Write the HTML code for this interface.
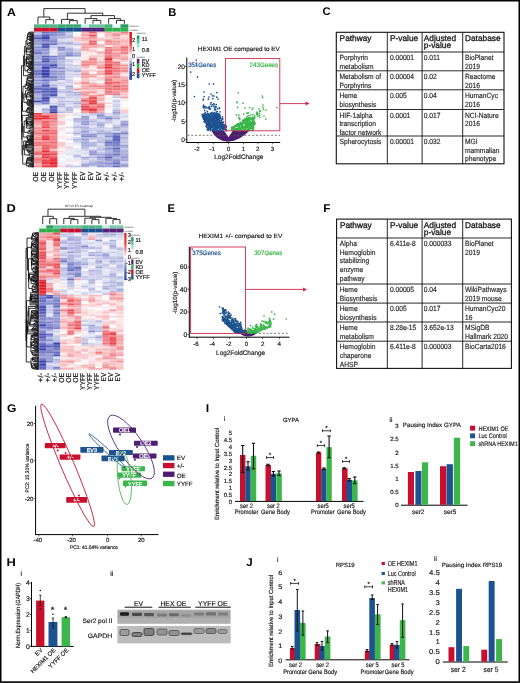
<!DOCTYPE html>
<html><head><meta charset="utf-8"><style>
html,body{margin:0;padding:0;background:#fff;}
svg{display:block;font-family:"Liberation Sans", sans-serif;will-change:transform;text-rendering:geometricPrecision;}
</style></head><body>
<svg width="520" height="683" viewBox="0 0 520 683">
<rect x="0" y="0" width="520" height="683" fill="#fff"/>
<rect x="0.7" y="0.7" width="518.6" height="681.4" fill="none" stroke="#000" stroke-width="1.6"/>
<text transform="translate(6.90 15.50) scale(1.1 1)" font-size="11.2" fill="#000" font-weight="bold">A</text>
<rect x="34.00" y="31.80" width="7.92" height="1.57" fill="#acb0dd"/>
<rect x="41.86" y="31.80" width="7.92" height="1.57" fill="#6870c1"/>
<rect x="49.72" y="31.80" width="7.92" height="1.57" fill="#7c82c9"/>
<rect x="57.58" y="31.80" width="7.92" height="1.57" fill="#8a90cf"/>
<rect x="65.43" y="31.80" width="7.92" height="1.57" fill="#b9bce2"/>
<rect x="73.29" y="31.80" width="7.92" height="1.57" fill="#fefeff"/>
<rect x="81.15" y="31.80" width="7.92" height="1.57" fill="#f7b8bb"/>
<rect x="89.01" y="31.80" width="7.92" height="1.57" fill="#ec5f66"/>
<rect x="96.87" y="31.80" width="7.92" height="1.57" fill="#fbd9db"/>
<rect x="104.72" y="31.80" width="7.92" height="1.57" fill="#f5acb0"/>
<rect x="112.58" y="31.80" width="7.92" height="1.57" fill="#f8c4c7"/>
<rect x="120.44" y="31.80" width="7.92" height="1.57" fill="#f08086"/>
<rect x="34.00" y="33.31" width="7.92" height="1.57" fill="#babee3"/>
<rect x="41.86" y="33.31" width="7.92" height="1.57" fill="#777dc7"/>
<rect x="49.72" y="33.31" width="7.92" height="1.57" fill="#7d84ca"/>
<rect x="57.58" y="33.31" width="7.92" height="1.57" fill="#878dce"/>
<rect x="65.43" y="33.31" width="7.92" height="1.57" fill="#c5c8e7"/>
<rect x="73.29" y="33.31" width="7.92" height="1.57" fill="#f5f5fb"/>
<rect x="81.15" y="33.31" width="7.92" height="1.57" fill="#f5a9ac"/>
<rect x="89.01" y="33.31" width="7.92" height="1.57" fill="#f3999e"/>
<rect x="96.87" y="33.31" width="7.92" height="1.57" fill="#fdeded"/>
<rect x="104.72" y="33.31" width="7.92" height="1.57" fill="#f6b7ba"/>
<rect x="112.58" y="33.31" width="7.92" height="1.57" fill="#f1868b"/>
<rect x="120.44" y="33.31" width="7.92" height="1.57" fill="#f3969a"/>
<rect x="34.00" y="34.81" width="7.92" height="1.57" fill="#848acd"/>
<rect x="41.86" y="34.81" width="7.92" height="1.57" fill="#555db9"/>
<rect x="49.72" y="34.81" width="7.92" height="1.57" fill="#898fcf"/>
<rect x="57.58" y="34.81" width="7.92" height="1.57" fill="#a1a5d8"/>
<rect x="65.43" y="34.81" width="7.92" height="1.57" fill="#bcbfe4"/>
<rect x="73.29" y="34.81" width="7.92" height="1.57" fill="#fffefe"/>
<rect x="81.15" y="34.81" width="7.92" height="1.57" fill="#f39da1"/>
<rect x="89.01" y="34.81" width="7.92" height="1.57" fill="#eb565e"/>
<rect x="96.87" y="34.81" width="7.92" height="1.57" fill="#fefefe"/>
<rect x="104.72" y="34.81" width="7.92" height="1.57" fill="#f7bcbf"/>
<rect x="112.58" y="34.81" width="7.92" height="1.57" fill="#f29095"/>
<rect x="120.44" y="34.81" width="7.92" height="1.57" fill="#fbe1e2"/>
<rect x="34.00" y="36.32" width="7.92" height="1.57" fill="#6b72c3"/>
<rect x="41.86" y="36.32" width="7.92" height="1.57" fill="#343eac"/>
<rect x="49.72" y="36.32" width="7.92" height="1.57" fill="#9ca1d7"/>
<rect x="57.58" y="36.32" width="7.92" height="1.57" fill="#a5a9da"/>
<rect x="65.43" y="36.32" width="7.92" height="1.57" fill="#a7abdb"/>
<rect x="73.29" y="36.32" width="7.92" height="1.57" fill="#fad3d5"/>
<rect x="81.15" y="36.32" width="7.92" height="1.57" fill="#f7bcbf"/>
<rect x="89.01" y="36.32" width="7.92" height="1.57" fill="#f07f84"/>
<rect x="96.87" y="36.32" width="7.92" height="1.57" fill="#fdf2f2"/>
<rect x="104.72" y="36.32" width="7.92" height="1.57" fill="#f8c2c5"/>
<rect x="112.58" y="36.32" width="7.92" height="1.57" fill="#f6b7ba"/>
<rect x="120.44" y="36.32" width="7.92" height="1.57" fill="#f9d0d2"/>
<rect x="34.00" y="37.82" width="7.92" height="1.57" fill="#5059b7"/>
<rect x="41.86" y="37.82" width="7.92" height="1.57" fill="#3741ad"/>
<rect x="49.72" y="37.82" width="7.92" height="1.57" fill="#a1a5d8"/>
<rect x="57.58" y="37.82" width="7.92" height="1.57" fill="#babee3"/>
<rect x="65.43" y="37.82" width="7.92" height="1.57" fill="#d5d7ee"/>
<rect x="73.29" y="37.82" width="7.92" height="1.57" fill="#f7b9bc"/>
<rect x="81.15" y="37.82" width="7.92" height="1.57" fill="#f4a1a5"/>
<rect x="89.01" y="37.82" width="7.92" height="1.57" fill="#f5acb0"/>
<rect x="96.87" y="37.82" width="7.92" height="1.57" fill="#f8c4c7"/>
<rect x="104.72" y="37.82" width="7.92" height="1.57" fill="#fbe1e2"/>
<rect x="112.58" y="37.82" width="7.92" height="1.57" fill="#f6b1b5"/>
<rect x="120.44" y="37.82" width="7.92" height="1.57" fill="#fad8da"/>
<rect x="34.00" y="39.33" width="7.92" height="1.57" fill="#848acd"/>
<rect x="41.86" y="39.33" width="7.92" height="1.57" fill="#646cc0"/>
<rect x="49.72" y="39.33" width="7.92" height="1.57" fill="#858bcd"/>
<rect x="57.58" y="39.33" width="7.92" height="1.57" fill="#dcdef1"/>
<rect x="65.43" y="39.33" width="7.92" height="1.57" fill="#d6d8ee"/>
<rect x="73.29" y="39.33" width="7.92" height="1.57" fill="#f9c9cc"/>
<rect x="81.15" y="39.33" width="7.92" height="1.57" fill="#f4a3a7"/>
<rect x="89.01" y="39.33" width="7.92" height="1.57" fill="#f4a0a5"/>
<rect x="96.87" y="39.33" width="7.92" height="1.57" fill="#f6b7ba"/>
<rect x="104.72" y="39.33" width="7.92" height="1.57" fill="#f3999d"/>
<rect x="112.58" y="39.33" width="7.92" height="1.57" fill="#f7b7ba"/>
<rect x="120.44" y="39.33" width="7.92" height="1.57" fill="#f6b3b6"/>
<rect x="34.00" y="40.83" width="7.92" height="1.57" fill="#999ed5"/>
<rect x="41.86" y="40.83" width="7.92" height="1.57" fill="#858bcd"/>
<rect x="49.72" y="40.83" width="7.92" height="1.57" fill="#8289cc"/>
<rect x="57.58" y="40.83" width="7.92" height="1.57" fill="#d2d4ed"/>
<rect x="65.43" y="40.83" width="7.92" height="1.57" fill="#d9dbef"/>
<rect x="73.29" y="40.83" width="7.92" height="1.57" fill="#fad7d8"/>
<rect x="81.15" y="40.83" width="7.92" height="1.57" fill="#fbdfe0"/>
<rect x="89.01" y="40.83" width="7.92" height="1.57" fill="#ed646b"/>
<rect x="96.87" y="40.83" width="7.92" height="1.57" fill="#fce9ea"/>
<rect x="104.72" y="40.83" width="7.92" height="1.57" fill="#f1858a"/>
<rect x="112.58" y="40.83" width="7.92" height="1.57" fill="#f3969b"/>
<rect x="120.44" y="40.83" width="7.92" height="1.57" fill="#f6b0b3"/>
<rect x="34.00" y="42.34" width="7.92" height="1.57" fill="#8f94d1"/>
<rect x="41.86" y="42.34" width="7.92" height="1.57" fill="#7e84ca"/>
<rect x="49.72" y="42.34" width="7.92" height="1.57" fill="#8187cc"/>
<rect x="57.58" y="42.34" width="7.92" height="1.57" fill="#a1a5d8"/>
<rect x="65.43" y="42.34" width="7.92" height="1.57" fill="#9fa4d8"/>
<rect x="73.29" y="42.34" width="7.92" height="1.57" fill="#d1d4ec"/>
<rect x="81.15" y="42.34" width="7.92" height="1.57" fill="#f7b9bc"/>
<rect x="89.01" y="42.34" width="7.92" height="1.57" fill="#ed6b71"/>
<rect x="96.87" y="42.34" width="7.92" height="1.57" fill="#fffdfd"/>
<rect x="104.72" y="42.34" width="7.92" height="1.57" fill="#f39da1"/>
<rect x="112.58" y="42.34" width="7.92" height="1.57" fill="#f3999d"/>
<rect x="120.44" y="42.34" width="7.92" height="1.57" fill="#f7babd"/>
<rect x="34.00" y="43.84" width="7.92" height="1.57" fill="#9ea3d8"/>
<rect x="41.86" y="43.84" width="7.92" height="1.57" fill="#4a53b5"/>
<rect x="49.72" y="43.84" width="7.92" height="1.57" fill="#747bc6"/>
<rect x="57.58" y="43.84" width="7.92" height="1.57" fill="#ccceea"/>
<rect x="65.43" y="43.84" width="7.92" height="1.57" fill="#bdc1e4"/>
<rect x="73.29" y="43.84" width="7.92" height="1.57" fill="#b9bce2"/>
<rect x="81.15" y="43.84" width="7.92" height="1.57" fill="#f4a0a4"/>
<rect x="89.01" y="43.84" width="7.92" height="1.57" fill="#ee6f75"/>
<rect x="96.87" y="43.84" width="7.92" height="1.57" fill="#f8c1c3"/>
<rect x="104.72" y="43.84" width="7.92" height="1.57" fill="#f4a0a4"/>
<rect x="112.58" y="43.84" width="7.92" height="1.57" fill="#f5abae"/>
<rect x="120.44" y="43.84" width="7.92" height="1.57" fill="#f7bdc0"/>
<rect x="34.00" y="45.35" width="7.92" height="1.57" fill="#a5aada"/>
<rect x="41.86" y="45.35" width="7.92" height="1.57" fill="#464fb3"/>
<rect x="49.72" y="45.35" width="7.92" height="1.57" fill="#cacce9"/>
<rect x="57.58" y="45.35" width="7.92" height="1.57" fill="#c5c8e7"/>
<rect x="65.43" y="45.35" width="7.92" height="1.57" fill="#d8daef"/>
<rect x="73.29" y="45.35" width="7.92" height="1.57" fill="#e0e1f2"/>
<rect x="81.15" y="45.35" width="7.92" height="1.57" fill="#f5a7aa"/>
<rect x="89.01" y="45.35" width="7.92" height="1.57" fill="#f5aaae"/>
<rect x="96.87" y="45.35" width="7.92" height="1.57" fill="#f5a6aa"/>
<rect x="104.72" y="45.35" width="7.92" height="1.57" fill="#fdf1f1"/>
<rect x="112.58" y="45.35" width="7.92" height="1.57" fill="#f6b1b5"/>
<rect x="120.44" y="45.35" width="7.92" height="1.57" fill="#f2959a"/>
<rect x="34.00" y="46.86" width="7.92" height="1.57" fill="#888ece"/>
<rect x="41.86" y="46.86" width="7.92" height="1.57" fill="#5961bb"/>
<rect x="49.72" y="46.86" width="7.92" height="1.57" fill="#c2c5e6"/>
<rect x="57.58" y="46.86" width="7.92" height="1.57" fill="#8288cc"/>
<rect x="65.43" y="46.86" width="7.92" height="1.57" fill="#d3d6ed"/>
<rect x="73.29" y="46.86" width="7.92" height="1.57" fill="#f3f4fa"/>
<rect x="81.15" y="46.86" width="7.92" height="1.57" fill="#f4a2a6"/>
<rect x="89.01" y="46.86" width="7.92" height="1.57" fill="#f6b1b4"/>
<rect x="96.87" y="46.86" width="7.92" height="1.57" fill="#fad1d3"/>
<rect x="104.72" y="46.86" width="7.92" height="1.57" fill="#f07f84"/>
<rect x="112.58" y="46.86" width="7.92" height="1.57" fill="#f5a6aa"/>
<rect x="120.44" y="46.86" width="7.92" height="1.57" fill="#ed666c"/>
<rect x="34.00" y="48.36" width="7.92" height="1.57" fill="#969bd4"/>
<rect x="41.86" y="48.36" width="7.92" height="1.57" fill="#898ecf"/>
<rect x="49.72" y="48.36" width="7.92" height="1.57" fill="#dadcf0"/>
<rect x="57.58" y="48.36" width="7.92" height="1.57" fill="#878dce"/>
<rect x="65.43" y="48.36" width="7.92" height="1.57" fill="#9fa3d8"/>
<rect x="73.29" y="48.36" width="7.92" height="1.57" fill="#cacde9"/>
<rect x="81.15" y="48.36" width="7.92" height="1.57" fill="#f4a2a7"/>
<rect x="89.01" y="48.36" width="7.92" height="1.57" fill="#fce3e5"/>
<rect x="96.87" y="48.36" width="7.92" height="1.57" fill="#fdf0f0"/>
<rect x="104.72" y="48.36" width="7.92" height="1.57" fill="#f07e84"/>
<rect x="112.58" y="48.36" width="7.92" height="1.57" fill="#f29499"/>
<rect x="120.44" y="48.36" width="7.92" height="1.57" fill="#ee6d73"/>
<rect x="34.00" y="49.87" width="7.92" height="1.57" fill="#8a90cf"/>
<rect x="41.86" y="49.87" width="7.92" height="1.57" fill="#969bd4"/>
<rect x="49.72" y="49.87" width="7.92" height="1.57" fill="#eaebf7"/>
<rect x="57.58" y="49.87" width="7.92" height="1.57" fill="#a0a5d8"/>
<rect x="65.43" y="49.87" width="7.92" height="1.57" fill="#b1b5df"/>
<rect x="73.29" y="49.87" width="7.92" height="1.57" fill="#cacde9"/>
<rect x="81.15" y="49.87" width="7.92" height="1.57" fill="#f6b2b5"/>
<rect x="89.01" y="49.87" width="7.92" height="1.57" fill="#f8c0c3"/>
<rect x="96.87" y="49.87" width="7.92" height="1.57" fill="#fffbfc"/>
<rect x="104.72" y="49.87" width="7.92" height="1.57" fill="#ee7278"/>
<rect x="112.58" y="49.87" width="7.92" height="1.57" fill="#f29297"/>
<rect x="120.44" y="49.87" width="7.92" height="1.57" fill="#f18b90"/>
<rect x="34.00" y="51.37" width="7.92" height="1.57" fill="#747bc6"/>
<rect x="41.86" y="51.37" width="7.92" height="1.57" fill="#979dd5"/>
<rect x="49.72" y="51.37" width="7.92" height="1.57" fill="#dcdef1"/>
<rect x="57.58" y="51.37" width="7.92" height="1.57" fill="#bdc1e4"/>
<rect x="65.43" y="51.37" width="7.92" height="1.57" fill="#a0a5d8"/>
<rect x="73.29" y="51.37" width="7.92" height="1.57" fill="#bcbfe4"/>
<rect x="81.15" y="51.37" width="7.92" height="1.57" fill="#fce9ea"/>
<rect x="89.01" y="51.37" width="7.92" height="1.57" fill="#f9cdcf"/>
<rect x="96.87" y="51.37" width="7.92" height="1.57" fill="#f4a2a6"/>
<rect x="104.72" y="51.37" width="7.92" height="1.57" fill="#ef757b"/>
<rect x="112.58" y="51.37" width="7.92" height="1.57" fill="#f7b9bc"/>
<rect x="120.44" y="51.37" width="7.92" height="1.57" fill="#f08186"/>
<rect x="34.00" y="52.88" width="7.92" height="1.57" fill="#6c73c3"/>
<rect x="41.86" y="52.88" width="7.92" height="1.57" fill="#959ad4"/>
<rect x="49.72" y="52.88" width="7.92" height="1.57" fill="#eaebf6"/>
<rect x="57.58" y="52.88" width="7.92" height="1.57" fill="#aaafdc"/>
<rect x="65.43" y="52.88" width="7.92" height="1.57" fill="#9196d2"/>
<rect x="73.29" y="52.88" width="7.92" height="1.57" fill="#a9addc"/>
<rect x="81.15" y="52.88" width="7.92" height="1.57" fill="#fbdcdd"/>
<rect x="89.01" y="52.88" width="7.92" height="1.57" fill="#fffcfc"/>
<rect x="96.87" y="52.88" width="7.92" height="1.57" fill="#f8c2c4"/>
<rect x="104.72" y="52.88" width="7.92" height="1.57" fill="#ef797f"/>
<rect x="112.58" y="52.88" width="7.92" height="1.57" fill="#f29398"/>
<rect x="120.44" y="52.88" width="7.92" height="1.57" fill="#f08489"/>
<rect x="34.00" y="54.38" width="7.92" height="1.57" fill="#a4a8da"/>
<rect x="41.86" y="54.38" width="7.92" height="1.57" fill="#a2a7d9"/>
<rect x="49.72" y="54.38" width="7.92" height="1.57" fill="#dbdcf0"/>
<rect x="57.58" y="54.38" width="7.92" height="1.57" fill="#9ea3d7"/>
<rect x="65.43" y="54.38" width="7.92" height="1.57" fill="#737ac6"/>
<rect x="73.29" y="54.38" width="7.92" height="1.57" fill="#979cd4"/>
<rect x="81.15" y="54.38" width="7.92" height="1.57" fill="#fdeff0"/>
<rect x="89.01" y="54.38" width="7.92" height="1.57" fill="#fad3d5"/>
<rect x="96.87" y="54.38" width="7.92" height="1.57" fill="#fad3d5"/>
<rect x="104.72" y="54.38" width="7.92" height="1.57" fill="#f1848a"/>
<rect x="112.58" y="54.38" width="7.92" height="1.57" fill="#f29297"/>
<rect x="120.44" y="54.38" width="7.92" height="1.57" fill="#f8c5c8"/>
<rect x="34.00" y="55.89" width="7.92" height="1.57" fill="#a4a8da"/>
<rect x="41.86" y="55.89" width="7.92" height="1.57" fill="#5b63bc"/>
<rect x="49.72" y="55.89" width="7.92" height="1.57" fill="#747ac6"/>
<rect x="57.58" y="55.89" width="7.92" height="1.57" fill="#979dd5"/>
<rect x="65.43" y="55.89" width="7.92" height="1.57" fill="#b3b7e0"/>
<rect x="73.29" y="55.89" width="7.92" height="1.57" fill="#bfc3e5"/>
<rect x="81.15" y="55.89" width="7.92" height="1.57" fill="#fce7e8"/>
<rect x="89.01" y="55.89" width="7.92" height="1.57" fill="#f8c8ca"/>
<rect x="96.87" y="55.89" width="7.92" height="1.57" fill="#f9cccf"/>
<rect x="104.72" y="55.89" width="7.92" height="1.57" fill="#ef7a80"/>
<rect x="112.58" y="55.89" width="7.92" height="1.57" fill="#f49ea3"/>
<rect x="120.44" y="55.89" width="7.92" height="1.57" fill="#f7b7ba"/>
<rect x="34.00" y="57.39" width="7.92" height="1.57" fill="#9ca1d7"/>
<rect x="41.86" y="57.39" width="7.92" height="1.57" fill="#6d74c3"/>
<rect x="49.72" y="57.39" width="7.92" height="1.57" fill="#9096d2"/>
<rect x="57.58" y="57.39" width="7.92" height="1.57" fill="#9ca1d7"/>
<rect x="65.43" y="57.39" width="7.92" height="1.57" fill="#f5f5fb"/>
<rect x="73.29" y="57.39" width="7.92" height="1.57" fill="#f0f1f9"/>
<rect x="81.15" y="57.39" width="7.92" height="1.57" fill="#fce4e5"/>
<rect x="89.01" y="57.39" width="7.92" height="1.57" fill="#f3999e"/>
<rect x="96.87" y="57.39" width="7.92" height="1.57" fill="#fbdfe1"/>
<rect x="104.72" y="57.39" width="7.92" height="1.57" fill="#e9424a"/>
<rect x="112.58" y="57.39" width="7.92" height="1.57" fill="#f39da2"/>
<rect x="120.44" y="57.39" width="7.92" height="1.57" fill="#f39ca0"/>
<rect x="34.00" y="58.90" width="7.92" height="1.57" fill="#b0b4df"/>
<rect x="41.86" y="58.90" width="7.92" height="1.57" fill="#6068be"/>
<rect x="49.72" y="58.90" width="7.92" height="1.57" fill="#8a90cf"/>
<rect x="57.58" y="58.90" width="7.92" height="1.57" fill="#a3a8d9"/>
<rect x="65.43" y="58.90" width="7.92" height="1.57" fill="#cbceea"/>
<rect x="73.29" y="58.90" width="7.92" height="1.57" fill="#dee0f2"/>
<rect x="81.15" y="58.90" width="7.92" height="1.57" fill="#fdeeee"/>
<rect x="89.01" y="58.90" width="7.92" height="1.57" fill="#ef797e"/>
<rect x="96.87" y="58.90" width="7.92" height="1.57" fill="#fbdbdc"/>
<rect x="104.72" y="58.90" width="7.92" height="1.57" fill="#e62a34"/>
<rect x="112.58" y="58.90" width="7.92" height="1.57" fill="#fbdbdd"/>
<rect x="120.44" y="58.90" width="7.92" height="1.57" fill="#f4a5a9"/>
<rect x="34.00" y="60.41" width="7.92" height="1.57" fill="#a9aedc"/>
<rect x="41.86" y="60.41" width="7.92" height="1.57" fill="#464fb3"/>
<rect x="49.72" y="60.41" width="7.92" height="1.57" fill="#8f94d1"/>
<rect x="57.58" y="60.41" width="7.92" height="1.57" fill="#b4b8e0"/>
<rect x="65.43" y="60.41" width="7.92" height="1.57" fill="#c3c6e6"/>
<rect x="73.29" y="60.41" width="7.92" height="1.57" fill="#eeeff8"/>
<rect x="81.15" y="60.41" width="7.92" height="1.57" fill="#f39b9f"/>
<rect x="89.01" y="60.41" width="7.92" height="1.57" fill="#f49fa3"/>
<rect x="96.87" y="60.41" width="7.92" height="1.57" fill="#f9cbcd"/>
<rect x="104.72" y="60.41" width="7.92" height="1.57" fill="#ed636a"/>
<rect x="112.58" y="60.41" width="7.92" height="1.57" fill="#f7bdc0"/>
<rect x="120.44" y="60.41" width="7.92" height="1.57" fill="#f9c9cb"/>
<rect x="34.00" y="61.91" width="7.92" height="1.57" fill="#9197d2"/>
<rect x="41.86" y="61.91" width="7.92" height="1.57" fill="#7c83ca"/>
<rect x="49.72" y="61.91" width="7.92" height="1.57" fill="#989dd5"/>
<rect x="57.58" y="61.91" width="7.92" height="1.57" fill="#c1c4e6"/>
<rect x="65.43" y="61.91" width="7.92" height="1.57" fill="#e4e5f4"/>
<rect x="73.29" y="61.91" width="7.92" height="1.57" fill="#fce5e6"/>
<rect x="81.15" y="61.91" width="7.92" height="1.57" fill="#f3989d"/>
<rect x="89.01" y="61.91" width="7.92" height="1.57" fill="#f1898e"/>
<rect x="96.87" y="61.91" width="7.92" height="1.57" fill="#f6b0b4"/>
<rect x="104.72" y="61.91" width="7.92" height="1.57" fill="#ef787e"/>
<rect x="112.58" y="61.91" width="7.92" height="1.57" fill="#ed696f"/>
<rect x="120.44" y="61.91" width="7.92" height="1.57" fill="#fef8f8"/>
<rect x="34.00" y="63.42" width="7.92" height="1.57" fill="#7f85ca"/>
<rect x="41.86" y="63.42" width="7.92" height="1.57" fill="#757bc6"/>
<rect x="49.72" y="63.42" width="7.92" height="1.57" fill="#6d74c3"/>
<rect x="57.58" y="63.42" width="7.92" height="1.57" fill="#b0b4df"/>
<rect x="65.43" y="63.42" width="7.92" height="1.57" fill="#d2d4ed"/>
<rect x="73.29" y="63.42" width="7.92" height="1.57" fill="#f4f5fb"/>
<rect x="81.15" y="63.42" width="7.92" height="1.57" fill="#f1898e"/>
<rect x="89.01" y="63.42" width="7.92" height="1.57" fill="#f28e93"/>
<rect x="96.87" y="63.42" width="7.92" height="1.57" fill="#f7bfc2"/>
<rect x="104.72" y="63.42" width="7.92" height="1.57" fill="#eb5259"/>
<rect x="112.58" y="63.42" width="7.92" height="1.57" fill="#f07e84"/>
<rect x="120.44" y="63.42" width="7.92" height="1.57" fill="#f7babd"/>
<rect x="34.00" y="64.92" width="7.92" height="1.57" fill="#8d93d0"/>
<rect x="41.86" y="64.92" width="7.92" height="1.57" fill="#7279c6"/>
<rect x="49.72" y="64.92" width="7.92" height="1.57" fill="#464fb3"/>
<rect x="57.58" y="64.92" width="7.92" height="1.57" fill="#b8bce2"/>
<rect x="65.43" y="64.92" width="7.92" height="1.57" fill="#c9cce9"/>
<rect x="73.29" y="64.92" width="7.92" height="1.57" fill="#c5c8e7"/>
<rect x="81.15" y="64.92" width="7.92" height="1.57" fill="#f28f94"/>
<rect x="89.01" y="64.92" width="7.92" height="1.57" fill="#f9cacc"/>
<rect x="96.87" y="64.92" width="7.92" height="1.57" fill="#f5a9ac"/>
<rect x="104.72" y="64.92" width="7.92" height="1.57" fill="#eb535a"/>
<rect x="112.58" y="64.92" width="7.92" height="1.57" fill="#f1878d"/>
<rect x="120.44" y="64.92" width="7.92" height="1.57" fill="#f39a9e"/>
<rect x="34.00" y="66.43" width="7.92" height="1.57" fill="#a6abdb"/>
<rect x="41.86" y="66.43" width="7.92" height="1.57" fill="#3b44af"/>
<rect x="49.72" y="66.43" width="7.92" height="1.57" fill="#5f67bd"/>
<rect x="57.58" y="66.43" width="7.92" height="1.57" fill="#a7acdb"/>
<rect x="65.43" y="66.43" width="7.92" height="1.57" fill="#d8daef"/>
<rect x="73.29" y="66.43" width="7.92" height="1.57" fill="#d6d8ee"/>
<rect x="81.15" y="66.43" width="7.92" height="1.57" fill="#f6b4b7"/>
<rect x="89.01" y="66.43" width="7.92" height="1.57" fill="#fce2e3"/>
<rect x="96.87" y="66.43" width="7.92" height="1.57" fill="#f1888d"/>
<rect x="104.72" y="66.43" width="7.92" height="1.57" fill="#e7343d"/>
<rect x="112.58" y="66.43" width="7.92" height="1.57" fill="#f28e93"/>
<rect x="120.44" y="66.43" width="7.92" height="1.57" fill="#f5a9ad"/>
<rect x="34.00" y="67.93" width="7.92" height="1.57" fill="#a1a6d9"/>
<rect x="41.86" y="67.93" width="7.92" height="1.57" fill="#4c55b6"/>
<rect x="49.72" y="67.93" width="7.92" height="1.57" fill="#9ba0d6"/>
<rect x="57.58" y="67.93" width="7.92" height="1.57" fill="#878dce"/>
<rect x="65.43" y="67.93" width="7.92" height="1.57" fill="#c7c9e8"/>
<rect x="73.29" y="67.93" width="7.92" height="1.57" fill="#d0d2ec"/>
<rect x="81.15" y="67.93" width="7.92" height="1.57" fill="#fce5e7"/>
<rect x="89.01" y="67.93" width="7.92" height="1.57" fill="#fef4f5"/>
<rect x="96.87" y="67.93" width="7.92" height="1.57" fill="#f5a8ac"/>
<rect x="104.72" y="67.93" width="7.92" height="1.57" fill="#ee6b72"/>
<rect x="112.58" y="67.93" width="7.92" height="1.57" fill="#ef7379"/>
<rect x="120.44" y="67.93" width="7.92" height="1.57" fill="#f29499"/>
<rect x="34.00" y="69.44" width="7.92" height="1.57" fill="#7c82c9"/>
<rect x="41.86" y="69.44" width="7.92" height="1.57" fill="#4851b4"/>
<rect x="49.72" y="69.44" width="7.92" height="1.57" fill="#a5aada"/>
<rect x="57.58" y="69.44" width="7.92" height="1.57" fill="#b7bae2"/>
<rect x="65.43" y="69.44" width="7.92" height="1.57" fill="#b5b8e1"/>
<rect x="73.29" y="69.44" width="7.92" height="1.57" fill="#b8bbe2"/>
<rect x="81.15" y="69.44" width="7.92" height="1.57" fill="#f8c8ca"/>
<rect x="89.01" y="69.44" width="7.92" height="1.57" fill="#fad1d3"/>
<rect x="96.87" y="69.44" width="7.92" height="1.57" fill="#fbd9db"/>
<rect x="104.72" y="69.44" width="7.92" height="1.57" fill="#ec6067"/>
<rect x="112.58" y="69.44" width="7.92" height="1.57" fill="#ef767c"/>
<rect x="120.44" y="69.44" width="7.92" height="1.57" fill="#f29095"/>
<rect x="34.00" y="70.94" width="7.92" height="1.57" fill="#6d74c3"/>
<rect x="41.86" y="70.94" width="7.92" height="1.57" fill="#3c46af"/>
<rect x="49.72" y="70.94" width="7.92" height="1.57" fill="#8b91d0"/>
<rect x="57.58" y="70.94" width="7.92" height="1.57" fill="#8d93d0"/>
<rect x="65.43" y="70.94" width="7.92" height="1.57" fill="#cacce9"/>
<rect x="73.29" y="70.94" width="7.92" height="1.57" fill="#abafdd"/>
<rect x="81.15" y="70.94" width="7.92" height="1.57" fill="#f6b6b9"/>
<rect x="89.01" y="70.94" width="7.92" height="1.57" fill="#fbddde"/>
<rect x="96.87" y="70.94" width="7.92" height="1.57" fill="#f5a9ac"/>
<rect x="104.72" y="70.94" width="7.92" height="1.57" fill="#eb525a"/>
<rect x="112.58" y="70.94" width="7.92" height="1.57" fill="#f07c81"/>
<rect x="120.44" y="70.94" width="7.92" height="1.57" fill="#f18c91"/>
<rect x="34.00" y="72.45" width="7.92" height="1.57" fill="#656cc0"/>
<rect x="41.86" y="72.45" width="7.92" height="1.57" fill="#343eac"/>
<rect x="49.72" y="72.45" width="7.92" height="1.57" fill="#8e93d1"/>
<rect x="57.58" y="72.45" width="7.92" height="1.57" fill="#9da2d7"/>
<rect x="65.43" y="72.45" width="7.92" height="1.57" fill="#d6d8ee"/>
<rect x="73.29" y="72.45" width="7.92" height="1.57" fill="#dfe0f2"/>
<rect x="81.15" y="72.45" width="7.92" height="1.57" fill="#f49ea2"/>
<rect x="89.01" y="72.45" width="7.92" height="1.57" fill="#fffbfb"/>
<rect x="96.87" y="72.45" width="7.92" height="1.57" fill="#f5a7ab"/>
<rect x="104.72" y="72.45" width="7.92" height="1.57" fill="#e83f48"/>
<rect x="112.58" y="72.45" width="7.92" height="1.57" fill="#f29499"/>
<rect x="120.44" y="72.45" width="7.92" height="1.57" fill="#f9ccce"/>
<rect x="34.00" y="73.96" width="7.92" height="1.57" fill="#767cc7"/>
<rect x="41.86" y="73.96" width="7.92" height="1.57" fill="#343eac"/>
<rect x="49.72" y="73.96" width="7.92" height="1.57" fill="#9ba0d6"/>
<rect x="57.58" y="73.96" width="7.92" height="1.57" fill="#a4a8da"/>
<rect x="65.43" y="73.96" width="7.92" height="1.57" fill="#d3d5ed"/>
<rect x="73.29" y="73.96" width="7.92" height="1.57" fill="#c3c6e6"/>
<rect x="81.15" y="73.96" width="7.92" height="1.57" fill="#f29195"/>
<rect x="89.01" y="73.96" width="7.92" height="1.57" fill="#f6b1b4"/>
<rect x="96.87" y="73.96" width="7.92" height="1.57" fill="#f5abaf"/>
<rect x="104.72" y="73.96" width="7.92" height="1.57" fill="#ef797f"/>
<rect x="112.58" y="73.96" width="7.92" height="1.57" fill="#f3969b"/>
<rect x="120.44" y="73.96" width="7.92" height="1.57" fill="#edeef8"/>
<rect x="34.00" y="75.46" width="7.92" height="1.57" fill="#9096d2"/>
<rect x="41.86" y="75.46" width="7.92" height="1.57" fill="#444db2"/>
<rect x="49.72" y="75.46" width="7.92" height="1.57" fill="#888ece"/>
<rect x="57.58" y="75.46" width="7.92" height="1.57" fill="#a5a9da"/>
<rect x="65.43" y="75.46" width="7.92" height="1.57" fill="#d4d6ed"/>
<rect x="73.29" y="75.46" width="7.92" height="1.57" fill="#dcdef1"/>
<rect x="81.15" y="75.46" width="7.92" height="1.57" fill="#f4a4a8"/>
<rect x="89.01" y="75.46" width="7.92" height="1.57" fill="#f4a0a4"/>
<rect x="96.87" y="75.46" width="7.92" height="1.57" fill="#fce9ea"/>
<rect x="104.72" y="75.46" width="7.92" height="1.57" fill="#f5a9ad"/>
<rect x="112.58" y="75.46" width="7.92" height="1.57" fill="#f39b9f"/>
<rect x="120.44" y="75.46" width="7.92" height="1.57" fill="#fad3d5"/>
<rect x="34.00" y="76.97" width="7.92" height="1.57" fill="#9297d2"/>
<rect x="41.86" y="76.97" width="7.92" height="1.57" fill="#6b72c2"/>
<rect x="49.72" y="76.97" width="7.92" height="1.57" fill="#767dc7"/>
<rect x="57.58" y="76.97" width="7.92" height="1.57" fill="#aaaedc"/>
<rect x="65.43" y="76.97" width="7.92" height="1.57" fill="#d7d9ef"/>
<rect x="73.29" y="76.97" width="7.92" height="1.57" fill="#f0f1f9"/>
<rect x="81.15" y="76.97" width="7.92" height="1.57" fill="#f5a6aa"/>
<rect x="89.01" y="76.97" width="7.92" height="1.57" fill="#f9c9cb"/>
<rect x="96.87" y="76.97" width="7.92" height="1.57" fill="#f9ccce"/>
<rect x="104.72" y="76.97" width="7.92" height="1.57" fill="#f28f94"/>
<rect x="112.58" y="76.97" width="7.92" height="1.57" fill="#f08187"/>
<rect x="120.44" y="76.97" width="7.92" height="1.57" fill="#f4a6aa"/>
<rect x="34.00" y="78.47" width="7.92" height="1.57" fill="#aeb2de"/>
<rect x="41.86" y="78.47" width="7.92" height="1.57" fill="#8f94d1"/>
<rect x="49.72" y="78.47" width="7.92" height="1.57" fill="#969bd4"/>
<rect x="57.58" y="78.47" width="7.92" height="1.57" fill="#9da2d7"/>
<rect x="65.43" y="78.47" width="7.92" height="1.57" fill="#d8daef"/>
<rect x="73.29" y="78.47" width="7.92" height="1.57" fill="#fefefe"/>
<rect x="81.15" y="78.47" width="7.92" height="1.57" fill="#f9c8ca"/>
<rect x="89.01" y="78.47" width="7.92" height="1.57" fill="#fce8e9"/>
<rect x="96.87" y="78.47" width="7.92" height="1.57" fill="#f9d0d2"/>
<rect x="104.72" y="78.47" width="7.92" height="1.57" fill="#ef747a"/>
<rect x="112.58" y="78.47" width="7.92" height="1.57" fill="#f6b0b4"/>
<rect x="120.44" y="78.47" width="7.92" height="1.57" fill="#f5a8ac"/>
<rect x="34.00" y="79.98" width="7.92" height="1.57" fill="#878dce"/>
<rect x="41.86" y="79.98" width="7.92" height="1.57" fill="#6a72c2"/>
<rect x="49.72" y="79.98" width="7.92" height="1.57" fill="#979cd4"/>
<rect x="57.58" y="79.98" width="7.92" height="1.57" fill="#e5e6f4"/>
<rect x="65.43" y="79.98" width="7.92" height="1.57" fill="#c6c8e8"/>
<rect x="73.29" y="79.98" width="7.92" height="1.57" fill="#eeeff8"/>
<rect x="81.15" y="79.98" width="7.92" height="1.57" fill="#f9c8ca"/>
<rect x="89.01" y="79.98" width="7.92" height="1.57" fill="#fbdbdd"/>
<rect x="96.87" y="79.98" width="7.92" height="1.57" fill="#e2e3f3"/>
<rect x="104.72" y="79.98" width="7.92" height="1.57" fill="#ef7b81"/>
<rect x="112.58" y="79.98" width="7.92" height="1.57" fill="#f6b1b4"/>
<rect x="120.44" y="79.98" width="7.92" height="1.57" fill="#f28e93"/>
<rect x="34.00" y="81.48" width="7.92" height="1.57" fill="#a7acdb"/>
<rect x="41.86" y="81.48" width="7.92" height="1.57" fill="#959ad4"/>
<rect x="49.72" y="81.48" width="7.92" height="1.57" fill="#d6d8ee"/>
<rect x="57.58" y="81.48" width="7.92" height="1.57" fill="#d3d6ed"/>
<rect x="65.43" y="81.48" width="7.92" height="1.57" fill="#c9cbe9"/>
<rect x="73.29" y="81.48" width="7.92" height="1.57" fill="#fad4d6"/>
<rect x="81.15" y="81.48" width="7.92" height="1.57" fill="#f3969b"/>
<rect x="89.01" y="81.48" width="7.92" height="1.57" fill="#fbd9db"/>
<rect x="96.87" y="81.48" width="7.92" height="1.57" fill="#fef5f5"/>
<rect x="104.72" y="81.48" width="7.92" height="1.57" fill="#ed686e"/>
<rect x="112.58" y="81.48" width="7.92" height="1.57" fill="#ed666d"/>
<rect x="120.44" y="81.48" width="7.92" height="1.57" fill="#f29297"/>
<rect x="34.00" y="82.99" width="7.92" height="1.57" fill="#9fa4d8"/>
<rect x="41.86" y="82.99" width="7.92" height="1.57" fill="#9297d2"/>
<rect x="49.72" y="82.99" width="7.92" height="1.57" fill="#d3d5ed"/>
<rect x="57.58" y="82.99" width="7.92" height="1.57" fill="#c7cae8"/>
<rect x="65.43" y="82.99" width="7.92" height="1.57" fill="#e3e4f3"/>
<rect x="73.29" y="82.99" width="7.92" height="1.57" fill="#f7b8bc"/>
<rect x="81.15" y="82.99" width="7.92" height="1.57" fill="#f28e93"/>
<rect x="89.01" y="82.99" width="7.92" height="1.57" fill="#f6b0b4"/>
<rect x="96.87" y="82.99" width="7.92" height="1.57" fill="#fad6d8"/>
<rect x="104.72" y="82.99" width="7.92" height="1.57" fill="#ec5e65"/>
<rect x="112.58" y="82.99" width="7.92" height="1.57" fill="#f08085"/>
<rect x="120.44" y="82.99" width="7.92" height="1.57" fill="#f4a5a9"/>
<rect x="34.00" y="84.49" width="7.92" height="1.57" fill="#a0a5d8"/>
<rect x="41.86" y="84.49" width="7.92" height="1.57" fill="#545cb9"/>
<rect x="49.72" y="84.49" width="7.92" height="1.57" fill="#acb0dd"/>
<rect x="57.58" y="84.49" width="7.92" height="1.57" fill="#d4d6ed"/>
<rect x="65.43" y="84.49" width="7.92" height="1.57" fill="#cccfea"/>
<rect x="73.29" y="84.49" width="7.92" height="1.57" fill="#fef2f3"/>
<rect x="81.15" y="84.49" width="7.92" height="1.57" fill="#f7bcbf"/>
<rect x="89.01" y="84.49" width="7.92" height="1.57" fill="#f29499"/>
<rect x="96.87" y="84.49" width="7.92" height="1.57" fill="#f5aeb1"/>
<rect x="104.72" y="84.49" width="7.92" height="1.57" fill="#ef7a80"/>
<rect x="112.58" y="84.49" width="7.92" height="1.57" fill="#f08288"/>
<rect x="120.44" y="84.49" width="7.92" height="1.57" fill="#f18c91"/>
<rect x="34.00" y="86.00" width="7.92" height="1.57" fill="#868cce"/>
<rect x="41.86" y="86.00" width="7.92" height="1.57" fill="#5d65bd"/>
<rect x="49.72" y="86.00" width="7.92" height="1.57" fill="#bec1e4"/>
<rect x="57.58" y="86.00" width="7.92" height="1.57" fill="#e3e4f3"/>
<rect x="65.43" y="86.00" width="7.92" height="1.57" fill="#a3a8d9"/>
<rect x="73.29" y="86.00" width="7.92" height="1.57" fill="#fefeff"/>
<rect x="81.15" y="86.00" width="7.92" height="1.57" fill="#f5a8ab"/>
<rect x="89.01" y="86.00" width="7.92" height="1.57" fill="#f29196"/>
<rect x="96.87" y="86.00" width="7.92" height="1.57" fill="#f1878d"/>
<rect x="104.72" y="86.00" width="7.92" height="1.57" fill="#f1858a"/>
<rect x="112.58" y="86.00" width="7.92" height="1.57" fill="#eb575e"/>
<rect x="120.44" y="86.00" width="7.92" height="1.57" fill="#f1878c"/>
<rect x="34.00" y="87.51" width="7.92" height="1.57" fill="#6068be"/>
<rect x="41.86" y="87.51" width="7.92" height="1.57" fill="#6e75c4"/>
<rect x="49.72" y="87.51" width="7.92" height="1.57" fill="#6068be"/>
<rect x="57.58" y="87.51" width="7.92" height="1.57" fill="#f0f1f9"/>
<rect x="65.43" y="87.51" width="7.92" height="1.57" fill="#b7bae1"/>
<rect x="73.29" y="87.51" width="7.92" height="1.57" fill="#f8c7ca"/>
<rect x="81.15" y="87.51" width="7.92" height="1.57" fill="#f39da1"/>
<rect x="89.01" y="87.51" width="7.92" height="1.57" fill="#f6b2b5"/>
<rect x="96.87" y="87.51" width="7.92" height="1.57" fill="#f39a9e"/>
<rect x="104.72" y="87.51" width="7.92" height="1.57" fill="#ef747a"/>
<rect x="112.58" y="87.51" width="7.92" height="1.57" fill="#f08086"/>
<rect x="120.44" y="87.51" width="7.92" height="1.57" fill="#f08086"/>
<rect x="34.00" y="89.01" width="7.92" height="1.57" fill="#7178c5"/>
<rect x="41.86" y="89.01" width="7.92" height="1.57" fill="#5c64bc"/>
<rect x="49.72" y="89.01" width="7.92" height="1.57" fill="#5760ba"/>
<rect x="57.58" y="89.01" width="7.92" height="1.57" fill="#cbcdea"/>
<rect x="65.43" y="89.01" width="7.92" height="1.57" fill="#c2c5e6"/>
<rect x="73.29" y="89.01" width="7.92" height="1.57" fill="#f49ea3"/>
<rect x="81.15" y="89.01" width="7.92" height="1.57" fill="#f8c6c9"/>
<rect x="89.01" y="89.01" width="7.92" height="1.57" fill="#f8c3c6"/>
<rect x="96.87" y="89.01" width="7.92" height="1.57" fill="#fbdadc"/>
<rect x="104.72" y="89.01" width="7.92" height="1.57" fill="#f07f85"/>
<rect x="112.58" y="89.01" width="7.92" height="1.57" fill="#ef767c"/>
<rect x="120.44" y="89.01" width="7.92" height="1.57" fill="#f07f85"/>
<rect x="34.00" y="90.52" width="7.92" height="1.57" fill="#7b81c9"/>
<rect x="41.86" y="90.52" width="7.92" height="1.57" fill="#555eba"/>
<rect x="49.72" y="90.52" width="7.92" height="1.57" fill="#4e57b7"/>
<rect x="57.58" y="90.52" width="7.92" height="1.57" fill="#bdc0e4"/>
<rect x="65.43" y="90.52" width="7.92" height="1.57" fill="#b4b8e0"/>
<rect x="73.29" y="90.52" width="7.92" height="1.57" fill="#e1e2f3"/>
<rect x="81.15" y="90.52" width="7.92" height="1.57" fill="#f7bbbe"/>
<rect x="89.01" y="90.52" width="7.92" height="1.57" fill="#f6b0b4"/>
<rect x="96.87" y="90.52" width="7.92" height="1.57" fill="#fad5d7"/>
<rect x="104.72" y="90.52" width="7.92" height="1.57" fill="#f08388"/>
<rect x="112.58" y="90.52" width="7.92" height="1.57" fill="#f39da1"/>
<rect x="120.44" y="90.52" width="7.92" height="1.57" fill="#f39da1"/>
<rect x="34.00" y="92.02" width="7.92" height="1.57" fill="#7178c5"/>
<rect x="41.86" y="92.02" width="7.92" height="1.57" fill="#7279c5"/>
<rect x="49.72" y="92.02" width="7.92" height="1.57" fill="#686fc1"/>
<rect x="57.58" y="92.02" width="7.92" height="1.57" fill="#c2c5e6"/>
<rect x="65.43" y="92.02" width="7.92" height="1.57" fill="#b2b6df"/>
<rect x="73.29" y="92.02" width="7.92" height="1.57" fill="#a5aada"/>
<rect x="81.15" y="92.02" width="7.92" height="1.57" fill="#f3989c"/>
<rect x="89.01" y="92.02" width="7.92" height="1.57" fill="#f3989c"/>
<rect x="96.87" y="92.02" width="7.92" height="1.57" fill="#fdebec"/>
<rect x="104.72" y="92.02" width="7.92" height="1.57" fill="#ef747a"/>
<rect x="112.58" y="92.02" width="7.92" height="1.57" fill="#f28d92"/>
<rect x="120.44" y="92.02" width="7.92" height="1.57" fill="#f8c5c8"/>
<rect x="34.00" y="93.53" width="7.92" height="1.57" fill="#a6abdb"/>
<rect x="41.86" y="93.53" width="7.92" height="1.57" fill="#646bbf"/>
<rect x="49.72" y="93.53" width="7.92" height="1.57" fill="#5961bb"/>
<rect x="57.58" y="93.53" width="7.92" height="1.57" fill="#e5e6f4"/>
<rect x="65.43" y="93.53" width="7.92" height="1.57" fill="#c8cae8"/>
<rect x="73.29" y="93.53" width="7.92" height="1.57" fill="#b1b5df"/>
<rect x="81.15" y="93.53" width="7.92" height="1.57" fill="#f29094"/>
<rect x="89.01" y="93.53" width="7.92" height="1.57" fill="#fbdbdc"/>
<rect x="96.87" y="93.53" width="7.92" height="1.57" fill="#f7bbbe"/>
<rect x="104.72" y="93.53" width="7.92" height="1.57" fill="#f1868b"/>
<rect x="112.58" y="93.53" width="7.92" height="1.57" fill="#ef7a80"/>
<rect x="120.44" y="93.53" width="7.92" height="1.57" fill="#f8c5c7"/>
<rect x="34.00" y="95.03" width="7.92" height="1.57" fill="#b0b4df"/>
<rect x="41.86" y="95.03" width="7.92" height="1.57" fill="#6d74c3"/>
<rect x="49.72" y="95.03" width="7.92" height="1.57" fill="#4750b4"/>
<rect x="57.58" y="95.03" width="7.92" height="1.57" fill="#e2e3f3"/>
<rect x="65.43" y="95.03" width="7.92" height="1.57" fill="#c4c7e7"/>
<rect x="73.29" y="95.03" width="7.92" height="1.57" fill="#c1c4e6"/>
<rect x="81.15" y="95.03" width="7.92" height="1.57" fill="#f5acaf"/>
<rect x="89.01" y="95.03" width="7.92" height="1.57" fill="#f3979c"/>
<rect x="96.87" y="95.03" width="7.92" height="1.57" fill="#f18a90"/>
<rect x="104.72" y="95.03" width="7.92" height="1.57" fill="#fdebeb"/>
<rect x="112.58" y="95.03" width="7.92" height="1.57" fill="#c7cae8"/>
<rect x="120.44" y="95.03" width="7.92" height="1.57" fill="#fad4d6"/>
<rect x="34.00" y="96.54" width="7.92" height="1.57" fill="#9da2d7"/>
<rect x="41.86" y="96.54" width="7.92" height="1.57" fill="#555eba"/>
<rect x="49.72" y="96.54" width="7.92" height="1.57" fill="#aeb2de"/>
<rect x="57.58" y="96.54" width="7.92" height="1.57" fill="#b9bde3"/>
<rect x="65.43" y="96.54" width="7.92" height="1.57" fill="#c8cbe8"/>
<rect x="73.29" y="96.54" width="7.92" height="1.57" fill="#d0d2ec"/>
<rect x="81.15" y="96.54" width="7.92" height="1.57" fill="#f9ccce"/>
<rect x="89.01" y="96.54" width="7.92" height="1.57" fill="#eb575e"/>
<rect x="96.87" y="96.54" width="7.92" height="1.57" fill="#f9ccce"/>
<rect x="104.72" y="96.54" width="7.92" height="1.57" fill="#fbfbfd"/>
<rect x="112.58" y="96.54" width="7.92" height="1.57" fill="#c7cae8"/>
<rect x="120.44" y="96.54" width="7.92" height="1.57" fill="#f4a2a6"/>
<rect x="34.00" y="98.04" width="7.92" height="1.57" fill="#9da2d7"/>
<rect x="41.86" y="98.04" width="7.92" height="1.57" fill="#3a44af"/>
<rect x="49.72" y="98.04" width="7.92" height="1.57" fill="#d4d6ed"/>
<rect x="57.58" y="98.04" width="7.92" height="1.57" fill="#c2c5e6"/>
<rect x="65.43" y="98.04" width="7.92" height="1.57" fill="#dee0f2"/>
<rect x="73.29" y="98.04" width="7.92" height="1.57" fill="#d1d3ec"/>
<rect x="81.15" y="98.04" width="7.92" height="1.57" fill="#f3959a"/>
<rect x="89.01" y="98.04" width="7.92" height="1.57" fill="#ea4c54"/>
<rect x="96.87" y="98.04" width="7.92" height="1.57" fill="#f5a7ab"/>
<rect x="104.72" y="98.04" width="7.92" height="1.57" fill="#fce2e3"/>
<rect x="112.58" y="98.04" width="7.92" height="1.57" fill="#f5f6fb"/>
<rect x="120.44" y="98.04" width="7.92" height="1.57" fill="#fad8da"/>
<rect x="34.00" y="99.55" width="7.92" height="1.57" fill="#888ecf"/>
<rect x="41.86" y="99.55" width="7.92" height="1.57" fill="#4f57b7"/>
<rect x="49.72" y="99.55" width="7.92" height="1.57" fill="#e6e7f5"/>
<rect x="57.58" y="99.55" width="7.92" height="1.57" fill="#d1d3ec"/>
<rect x="65.43" y="99.55" width="7.92" height="1.57" fill="#dee0f2"/>
<rect x="73.29" y="99.55" width="7.92" height="1.57" fill="#d9dbef"/>
<rect x="81.15" y="99.55" width="7.92" height="1.57" fill="#ec6168"/>
<rect x="89.01" y="99.55" width="7.92" height="1.57" fill="#ec6168"/>
<rect x="96.87" y="99.55" width="7.92" height="1.57" fill="#f5a7ab"/>
<rect x="104.72" y="99.55" width="7.92" height="1.57" fill="#fefeff"/>
<rect x="112.58" y="99.55" width="7.92" height="1.57" fill="#ced1eb"/>
<rect x="120.44" y="99.55" width="7.92" height="1.57" fill="#f1f2f9"/>
<rect x="34.00" y="101.06" width="7.92" height="1.57" fill="#343eac"/>
<rect x="41.86" y="101.06" width="7.92" height="1.57" fill="#6c73c3"/>
<rect x="49.72" y="101.06" width="7.92" height="1.57" fill="#e3e4f4"/>
<rect x="57.58" y="101.06" width="7.92" height="1.57" fill="#bbbee3"/>
<rect x="65.43" y="101.06" width="7.92" height="1.57" fill="#babee3"/>
<rect x="73.29" y="101.06" width="7.92" height="1.57" fill="#bbbee3"/>
<rect x="81.15" y="101.06" width="7.92" height="1.57" fill="#ef757b"/>
<rect x="89.01" y="101.06" width="7.92" height="1.57" fill="#e7353e"/>
<rect x="96.87" y="101.06" width="7.92" height="1.57" fill="#fbdbdd"/>
<rect x="104.72" y="101.06" width="7.92" height="1.57" fill="#f5f6fb"/>
<rect x="112.58" y="101.06" width="7.92" height="1.57" fill="#c8cae8"/>
<rect x="120.44" y="101.06" width="7.92" height="1.57" fill="#fef7f8"/>
<rect x="34.00" y="102.56" width="7.92" height="1.57" fill="#b7bbe2"/>
<rect x="41.86" y="102.56" width="7.92" height="1.57" fill="#797fc8"/>
<rect x="49.72" y="102.56" width="7.92" height="1.57" fill="#ced0eb"/>
<rect x="57.58" y="102.56" width="7.92" height="1.57" fill="#c3c6e6"/>
<rect x="65.43" y="102.56" width="7.92" height="1.57" fill="#d8daef"/>
<rect x="73.29" y="102.56" width="7.92" height="1.57" fill="#acb0dd"/>
<rect x="81.15" y="102.56" width="7.92" height="1.57" fill="#f3979c"/>
<rect x="89.01" y="102.56" width="7.92" height="1.57" fill="#e83e46"/>
<rect x="96.87" y="102.56" width="7.92" height="1.57" fill="#f4a0a4"/>
<rect x="104.72" y="102.56" width="7.92" height="1.57" fill="#fad2d4"/>
<rect x="112.58" y="102.56" width="7.92" height="1.57" fill="#e0e1f2"/>
<rect x="120.44" y="102.56" width="7.92" height="1.57" fill="#fef8f8"/>
<rect x="34.00" y="104.07" width="7.92" height="1.57" fill="#bdc0e4"/>
<rect x="41.86" y="104.07" width="7.92" height="1.57" fill="#babee3"/>
<rect x="49.72" y="104.07" width="7.92" height="1.57" fill="#dbddf0"/>
<rect x="57.58" y="104.07" width="7.92" height="1.57" fill="#adb1de"/>
<rect x="65.43" y="104.07" width="7.92" height="1.57" fill="#dcdef1"/>
<rect x="73.29" y="104.07" width="7.92" height="1.57" fill="#d1d4ec"/>
<rect x="81.15" y="104.07" width="7.92" height="1.57" fill="#ed686f"/>
<rect x="89.01" y="104.07" width="7.92" height="1.57" fill="#ef757b"/>
<rect x="96.87" y="104.07" width="7.92" height="1.57" fill="#ef777d"/>
<rect x="104.72" y="104.07" width="7.92" height="1.57" fill="#fffbfb"/>
<rect x="112.58" y="104.07" width="7.92" height="1.57" fill="#c7cae8"/>
<rect x="120.44" y="104.07" width="7.92" height="1.57" fill="#fef6f7"/>
<rect x="34.00" y="105.57" width="7.92" height="1.57" fill="#eaebf6"/>
<rect x="41.86" y="105.57" width="7.92" height="1.57" fill="#f5f5fb"/>
<rect x="49.72" y="105.57" width="7.92" height="1.57" fill="#575fba"/>
<rect x="57.58" y="105.57" width="7.92" height="1.57" fill="#b8bbe2"/>
<rect x="65.43" y="105.57" width="7.92" height="1.57" fill="#dddff1"/>
<rect x="73.29" y="105.57" width="7.92" height="1.57" fill="#c1c4e6"/>
<rect x="81.15" y="105.57" width="7.92" height="1.57" fill="#ea5159"/>
<rect x="89.01" y="105.57" width="7.92" height="1.57" fill="#f28d92"/>
<rect x="96.87" y="105.57" width="7.92" height="1.57" fill="#ed646b"/>
<rect x="104.72" y="105.57" width="7.92" height="1.57" fill="#fce4e5"/>
<rect x="112.58" y="105.57" width="7.92" height="1.57" fill="#cbceea"/>
<rect x="120.44" y="105.57" width="7.92" height="1.57" fill="#ffffff"/>
<rect x="34.00" y="107.08" width="7.92" height="1.57" fill="#fce9ea"/>
<rect x="41.86" y="107.08" width="7.92" height="1.57" fill="#dfe1f2"/>
<rect x="49.72" y="107.08" width="7.92" height="1.57" fill="#525ab8"/>
<rect x="57.58" y="107.08" width="7.92" height="1.57" fill="#d0d3ec"/>
<rect x="65.43" y="107.08" width="7.92" height="1.57" fill="#b0b4df"/>
<rect x="73.29" y="107.08" width="7.92" height="1.57" fill="#cfd1eb"/>
<rect x="81.15" y="107.08" width="7.92" height="1.57" fill="#ea5058"/>
<rect x="89.01" y="107.08" width="7.92" height="1.57" fill="#ee6b72"/>
<rect x="96.87" y="107.08" width="7.92" height="1.57" fill="#ef777d"/>
<rect x="104.72" y="107.08" width="7.92" height="1.57" fill="#fef4f5"/>
<rect x="112.58" y="107.08" width="7.92" height="1.57" fill="#dbddf0"/>
<rect x="120.44" y="107.08" width="7.92" height="1.57" fill="#fdf2f2"/>
<rect x="34.00" y="108.58" width="7.92" height="1.57" fill="#f1f2f9"/>
<rect x="41.86" y="108.58" width="7.92" height="1.57" fill="#a2a6d9"/>
<rect x="49.72" y="108.58" width="7.92" height="1.57" fill="#6067be"/>
<rect x="57.58" y="108.58" width="7.92" height="1.57" fill="#e0e2f2"/>
<rect x="65.43" y="108.58" width="7.92" height="1.57" fill="#b6bae1"/>
<rect x="73.29" y="108.58" width="7.92" height="1.57" fill="#f3f3fa"/>
<rect x="81.15" y="108.58" width="7.92" height="1.57" fill="#e9444c"/>
<rect x="89.01" y="108.58" width="7.92" height="1.57" fill="#e7333c"/>
<rect x="96.87" y="108.58" width="7.92" height="1.57" fill="#f28d92"/>
<rect x="104.72" y="108.58" width="7.92" height="1.57" fill="#f6f7fb"/>
<rect x="112.58" y="108.58" width="7.92" height="1.57" fill="#c7c9e8"/>
<rect x="120.44" y="108.58" width="7.92" height="1.57" fill="#fce6e7"/>
<rect x="34.00" y="110.09" width="7.92" height="1.57" fill="#e5e7f4"/>
<rect x="41.86" y="110.09" width="7.92" height="1.57" fill="#b6bae1"/>
<rect x="49.72" y="110.09" width="7.92" height="1.57" fill="#4f57b7"/>
<rect x="57.58" y="110.09" width="7.92" height="1.57" fill="#d2d4ed"/>
<rect x="65.43" y="110.09" width="7.92" height="1.57" fill="#b6bae1"/>
<rect x="73.29" y="110.09" width="7.92" height="1.57" fill="#fffcfd"/>
<rect x="81.15" y="110.09" width="7.92" height="1.57" fill="#ed696f"/>
<rect x="89.01" y="110.09" width="7.92" height="1.57" fill="#e83d45"/>
<rect x="96.87" y="110.09" width="7.92" height="1.57" fill="#f4a2a6"/>
<rect x="104.72" y="110.09" width="7.92" height="1.57" fill="#ffffff"/>
<rect x="112.58" y="110.09" width="7.92" height="1.57" fill="#b2b5df"/>
<rect x="120.44" y="110.09" width="7.92" height="1.57" fill="#f8c0c3"/>
<rect x="34.00" y="111.59" width="7.92" height="1.57" fill="#e9eaf6"/>
<rect x="41.86" y="111.59" width="7.92" height="1.57" fill="#b4b8e0"/>
<rect x="49.72" y="111.59" width="7.92" height="1.57" fill="#343eac"/>
<rect x="57.58" y="111.59" width="7.92" height="1.57" fill="#b2b6df"/>
<rect x="65.43" y="111.59" width="7.92" height="1.57" fill="#c4c7e7"/>
<rect x="73.29" y="111.59" width="7.92" height="1.57" fill="#fdeded"/>
<rect x="81.15" y="111.59" width="7.92" height="1.57" fill="#f49ea2"/>
<rect x="89.01" y="111.59" width="7.92" height="1.57" fill="#ee7076"/>
<rect x="96.87" y="111.59" width="7.92" height="1.57" fill="#f4a4a8"/>
<rect x="104.72" y="111.59" width="7.92" height="1.57" fill="#f7f7fc"/>
<rect x="112.58" y="111.59" width="7.92" height="1.57" fill="#999ed5"/>
<rect x="120.44" y="111.59" width="7.92" height="1.57" fill="#f9ced0"/>
<rect x="34.00" y="113.10" width="7.92" height="1.57" fill="#e62731"/>
<rect x="41.86" y="113.10" width="7.92" height="1.57" fill="#f29398"/>
<rect x="49.72" y="113.10" width="7.92" height="1.57" fill="#f07f84"/>
<rect x="57.58" y="113.10" width="7.92" height="1.57" fill="#fce7e8"/>
<rect x="65.43" y="113.10" width="7.92" height="1.57" fill="#fce9ea"/>
<rect x="73.29" y="113.10" width="7.92" height="1.57" fill="#e3e5f4"/>
<rect x="81.15" y="113.10" width="7.92" height="1.57" fill="#d1d3ec"/>
<rect x="89.01" y="113.10" width="7.92" height="1.57" fill="#b2b6e0"/>
<rect x="96.87" y="113.10" width="7.92" height="1.57" fill="#a9addc"/>
<rect x="104.72" y="113.10" width="7.92" height="1.57" fill="#d3d5ed"/>
<rect x="112.58" y="113.10" width="7.92" height="1.57" fill="#a0a5d8"/>
<rect x="120.44" y="113.10" width="7.92" height="1.57" fill="#dadcf0"/>
<rect x="34.00" y="114.61" width="7.92" height="1.57" fill="#eb5259"/>
<rect x="41.86" y="114.61" width="7.92" height="1.57" fill="#ee7076"/>
<rect x="49.72" y="114.61" width="7.92" height="1.57" fill="#f07f85"/>
<rect x="57.58" y="114.61" width="7.92" height="1.57" fill="#f9c9cc"/>
<rect x="65.43" y="114.61" width="7.92" height="1.57" fill="#fce8e9"/>
<rect x="73.29" y="114.61" width="7.92" height="1.57" fill="#d8daef"/>
<rect x="81.15" y="114.61" width="7.92" height="1.57" fill="#d6d8ee"/>
<rect x="89.01" y="114.61" width="7.92" height="1.57" fill="#d3d5ed"/>
<rect x="96.87" y="114.61" width="7.92" height="1.57" fill="#8a90cf"/>
<rect x="104.72" y="114.61" width="7.92" height="1.57" fill="#dedff1"/>
<rect x="112.58" y="114.61" width="7.92" height="1.57" fill="#c9cbe9"/>
<rect x="120.44" y="114.61" width="7.92" height="1.57" fill="#dfe1f2"/>
<rect x="34.00" y="116.11" width="7.92" height="1.57" fill="#e84048"/>
<rect x="41.86" y="116.11" width="7.92" height="1.57" fill="#e41a24"/>
<rect x="49.72" y="116.11" width="7.92" height="1.57" fill="#ef7b81"/>
<rect x="57.58" y="116.11" width="7.92" height="1.57" fill="#f9ced1"/>
<rect x="65.43" y="116.11" width="7.92" height="1.57" fill="#fefafa"/>
<rect x="73.29" y="116.11" width="7.92" height="1.57" fill="#fdfdfe"/>
<rect x="81.15" y="116.11" width="7.92" height="1.57" fill="#898fcf"/>
<rect x="89.01" y="116.11" width="7.92" height="1.57" fill="#e8e9f5"/>
<rect x="96.87" y="116.11" width="7.92" height="1.57" fill="#949ad3"/>
<rect x="104.72" y="116.11" width="7.92" height="1.57" fill="#9ca1d6"/>
<rect x="112.58" y="116.11" width="7.92" height="1.57" fill="#bfc2e5"/>
<rect x="120.44" y="116.11" width="7.92" height="1.57" fill="#cbcdea"/>
<rect x="34.00" y="117.62" width="7.92" height="1.57" fill="#e62d36"/>
<rect x="41.86" y="117.62" width="7.92" height="1.57" fill="#e62f38"/>
<rect x="49.72" y="117.62" width="7.92" height="1.57" fill="#ec5f66"/>
<rect x="57.58" y="117.62" width="7.92" height="1.57" fill="#fce8e9"/>
<rect x="65.43" y="117.62" width="7.92" height="1.57" fill="#f6f7fb"/>
<rect x="73.29" y="117.62" width="7.92" height="1.57" fill="#bdc0e4"/>
<rect x="81.15" y="117.62" width="7.92" height="1.57" fill="#a1a6d9"/>
<rect x="89.01" y="117.62" width="7.92" height="1.57" fill="#e2e3f3"/>
<rect x="96.87" y="117.62" width="7.92" height="1.57" fill="#aaaedc"/>
<rect x="104.72" y="117.62" width="7.92" height="1.57" fill="#7d84ca"/>
<rect x="112.58" y="117.62" width="7.92" height="1.57" fill="#a4a8da"/>
<rect x="120.44" y="117.62" width="7.92" height="1.57" fill="#e8e9f6"/>
<rect x="34.00" y="119.12" width="7.92" height="1.57" fill="#ea4b53"/>
<rect x="41.86" y="119.12" width="7.92" height="1.57" fill="#ef7b81"/>
<rect x="49.72" y="119.12" width="7.92" height="1.57" fill="#ef7b81"/>
<rect x="57.58" y="119.12" width="7.92" height="1.57" fill="#fce4e6"/>
<rect x="65.43" y="119.12" width="7.92" height="1.57" fill="#e8e9f6"/>
<rect x="73.29" y="119.12" width="7.92" height="1.57" fill="#a3a8d9"/>
<rect x="81.15" y="119.12" width="7.92" height="1.57" fill="#9a9fd6"/>
<rect x="89.01" y="119.12" width="7.92" height="1.57" fill="#c0c3e5"/>
<rect x="96.87" y="119.12" width="7.92" height="1.57" fill="#cccfea"/>
<rect x="104.72" y="119.12" width="7.92" height="1.57" fill="#a8acdc"/>
<rect x="112.58" y="119.12" width="7.92" height="1.57" fill="#d0d2ec"/>
<rect x="120.44" y="119.12" width="7.92" height="1.57" fill="#e2e4f3"/>
<rect x="34.00" y="120.63" width="7.92" height="1.57" fill="#f39b9f"/>
<rect x="41.86" y="120.63" width="7.92" height="1.57" fill="#ee7077"/>
<rect x="49.72" y="120.63" width="7.92" height="1.57" fill="#f08186"/>
<rect x="57.58" y="120.63" width="7.92" height="1.57" fill="#fad0d2"/>
<rect x="65.43" y="120.63" width="7.92" height="1.57" fill="#f8f8fc"/>
<rect x="73.29" y="120.63" width="7.92" height="1.57" fill="#bcbfe3"/>
<rect x="81.15" y="120.63" width="7.92" height="1.57" fill="#a1a5d8"/>
<rect x="89.01" y="120.63" width="7.92" height="1.57" fill="#b0b4df"/>
<rect x="96.87" y="120.63" width="7.92" height="1.57" fill="#d6d8ee"/>
<rect x="104.72" y="120.63" width="7.92" height="1.57" fill="#c8cbe9"/>
<rect x="112.58" y="120.63" width="7.92" height="1.57" fill="#e5e7f5"/>
<rect x="120.44" y="120.63" width="7.92" height="1.57" fill="#a9addc"/>
<rect x="34.00" y="122.13" width="7.92" height="1.57" fill="#f1898e"/>
<rect x="41.86" y="122.13" width="7.92" height="1.57" fill="#e9474f"/>
<rect x="49.72" y="122.13" width="7.92" height="1.57" fill="#f29599"/>
<rect x="57.58" y="122.13" width="7.92" height="1.57" fill="#f7bdc0"/>
<rect x="65.43" y="122.13" width="7.92" height="1.57" fill="#fefbfb"/>
<rect x="73.29" y="122.13" width="7.92" height="1.57" fill="#c8cae8"/>
<rect x="81.15" y="122.13" width="7.92" height="1.57" fill="#8e94d1"/>
<rect x="89.01" y="122.13" width="7.92" height="1.57" fill="#cacce9"/>
<rect x="96.87" y="122.13" width="7.92" height="1.57" fill="#afb3de"/>
<rect x="104.72" y="122.13" width="7.92" height="1.57" fill="#bec1e4"/>
<rect x="112.58" y="122.13" width="7.92" height="1.57" fill="#e1e3f3"/>
<rect x="120.44" y="122.13" width="7.92" height="1.57" fill="#9ba0d6"/>
<rect x="34.00" y="123.64" width="7.92" height="1.57" fill="#f5a6aa"/>
<rect x="41.86" y="123.64" width="7.92" height="1.57" fill="#ee7177"/>
<rect x="49.72" y="123.64" width="7.92" height="1.57" fill="#f28d92"/>
<rect x="57.58" y="123.64" width="7.92" height="1.57" fill="#f9ccce"/>
<rect x="65.43" y="123.64" width="7.92" height="1.57" fill="#fffbfb"/>
<rect x="73.29" y="123.64" width="7.92" height="1.57" fill="#dadcf0"/>
<rect x="81.15" y="123.64" width="7.92" height="1.57" fill="#9298d2"/>
<rect x="89.01" y="123.64" width="7.92" height="1.57" fill="#c6c9e8"/>
<rect x="96.87" y="123.64" width="7.92" height="1.57" fill="#a0a5d8"/>
<rect x="104.72" y="123.64" width="7.92" height="1.57" fill="#eaebf6"/>
<rect x="112.58" y="123.64" width="7.92" height="1.57" fill="#dcdef1"/>
<rect x="120.44" y="123.64" width="7.92" height="1.57" fill="#8e93d1"/>
<rect x="34.00" y="125.14" width="7.92" height="1.57" fill="#f7bec1"/>
<rect x="41.86" y="125.14" width="7.92" height="1.57" fill="#eb565d"/>
<rect x="49.72" y="125.14" width="7.92" height="1.57" fill="#f3989c"/>
<rect x="57.58" y="125.14" width="7.92" height="1.57" fill="#fef5f6"/>
<rect x="65.43" y="125.14" width="7.92" height="1.57" fill="#fef9fa"/>
<rect x="73.29" y="125.14" width="7.92" height="1.57" fill="#c3c6e6"/>
<rect x="81.15" y="125.14" width="7.92" height="1.57" fill="#c5c8e7"/>
<rect x="89.01" y="125.14" width="7.92" height="1.57" fill="#dadbf0"/>
<rect x="96.87" y="125.14" width="7.92" height="1.57" fill="#a1a6d9"/>
<rect x="104.72" y="125.14" width="7.92" height="1.57" fill="#fbfcfd"/>
<rect x="112.58" y="125.14" width="7.92" height="1.57" fill="#bfc3e5"/>
<rect x="120.44" y="125.14" width="7.92" height="1.57" fill="#959ad4"/>
<rect x="34.00" y="126.65" width="7.92" height="1.57" fill="#f4a0a4"/>
<rect x="41.86" y="126.65" width="7.92" height="1.57" fill="#ea4a52"/>
<rect x="49.72" y="126.65" width="7.92" height="1.57" fill="#f3999e"/>
<rect x="57.58" y="126.65" width="7.92" height="1.57" fill="#fce7e8"/>
<rect x="65.43" y="126.65" width="7.92" height="1.57" fill="#dcddf1"/>
<rect x="73.29" y="126.65" width="7.92" height="1.57" fill="#b2b6e0"/>
<rect x="81.15" y="126.65" width="7.92" height="1.57" fill="#acb0dd"/>
<rect x="89.01" y="126.65" width="7.92" height="1.57" fill="#dcdef1"/>
<rect x="96.87" y="126.65" width="7.92" height="1.57" fill="#c2c5e6"/>
<rect x="104.72" y="126.65" width="7.92" height="1.57" fill="#e5e6f4"/>
<rect x="112.58" y="126.65" width="7.92" height="1.57" fill="#a7abdb"/>
<rect x="120.44" y="126.65" width="7.92" height="1.57" fill="#bbbee3"/>
<rect x="34.00" y="128.16" width="7.92" height="1.57" fill="#f1858b"/>
<rect x="41.86" y="128.16" width="7.92" height="1.57" fill="#f28d92"/>
<rect x="49.72" y="128.16" width="7.92" height="1.57" fill="#f29297"/>
<rect x="57.58" y="128.16" width="7.92" height="1.57" fill="#fad7d9"/>
<rect x="65.43" y="128.16" width="7.92" height="1.57" fill="#f0f0f9"/>
<rect x="73.29" y="128.16" width="7.92" height="1.57" fill="#ced0eb"/>
<rect x="81.15" y="128.16" width="7.92" height="1.57" fill="#b0b4df"/>
<rect x="89.01" y="128.16" width="7.92" height="1.57" fill="#c5c8e7"/>
<rect x="96.87" y="128.16" width="7.92" height="1.57" fill="#ccceea"/>
<rect x="104.72" y="128.16" width="7.92" height="1.57" fill="#ced0eb"/>
<rect x="112.58" y="128.16" width="7.92" height="1.57" fill="#aaafdc"/>
<rect x="120.44" y="128.16" width="7.92" height="1.57" fill="#c3c6e6"/>
<rect x="34.00" y="129.66" width="7.92" height="1.57" fill="#f3979b"/>
<rect x="41.86" y="129.66" width="7.92" height="1.57" fill="#ea4c54"/>
<rect x="49.72" y="129.66" width="7.92" height="1.57" fill="#ef7c81"/>
<rect x="57.58" y="129.66" width="7.92" height="1.57" fill="#fdeaeb"/>
<rect x="65.43" y="129.66" width="7.92" height="1.57" fill="#fbfbfd"/>
<rect x="73.29" y="129.66" width="7.92" height="1.57" fill="#d6d8ee"/>
<rect x="81.15" y="129.66" width="7.92" height="1.57" fill="#b5b9e1"/>
<rect x="89.01" y="129.66" width="7.92" height="1.57" fill="#c4c7e7"/>
<rect x="96.87" y="129.66" width="7.92" height="1.57" fill="#bec2e5"/>
<rect x="104.72" y="129.66" width="7.92" height="1.57" fill="#d6d8ee"/>
<rect x="112.58" y="129.66" width="7.92" height="1.57" fill="#b4b8e0"/>
<rect x="120.44" y="129.66" width="7.92" height="1.57" fill="#cacde9"/>
<rect x="34.00" y="131.17" width="7.92" height="1.57" fill="#f1868b"/>
<rect x="41.86" y="131.17" width="7.92" height="1.57" fill="#ec6067"/>
<rect x="49.72" y="131.17" width="7.92" height="1.57" fill="#ee6c73"/>
<rect x="57.58" y="131.17" width="7.92" height="1.57" fill="#fdefef"/>
<rect x="65.43" y="131.17" width="7.92" height="1.57" fill="#ebecf7"/>
<rect x="73.29" y="131.17" width="7.92" height="1.57" fill="#c8cbe9"/>
<rect x="81.15" y="131.17" width="7.92" height="1.57" fill="#888ece"/>
<rect x="89.01" y="131.17" width="7.92" height="1.57" fill="#d4d6ed"/>
<rect x="96.87" y="131.17" width="7.92" height="1.57" fill="#a8addc"/>
<rect x="104.72" y="131.17" width="7.92" height="1.57" fill="#b7bbe2"/>
<rect x="112.58" y="131.17" width="7.92" height="1.57" fill="#d4d6ed"/>
<rect x="120.44" y="131.17" width="7.92" height="1.57" fill="#a4a8da"/>
<rect x="34.00" y="132.67" width="7.92" height="1.57" fill="#ee6f75"/>
<rect x="41.86" y="132.67" width="7.92" height="1.57" fill="#ee7278"/>
<rect x="49.72" y="132.67" width="7.92" height="1.57" fill="#ed636a"/>
<rect x="57.58" y="132.67" width="7.92" height="1.57" fill="#fef4f5"/>
<rect x="65.43" y="132.67" width="7.92" height="1.57" fill="#d7d9ee"/>
<rect x="73.29" y="132.67" width="7.92" height="1.57" fill="#a5a9da"/>
<rect x="81.15" y="132.67" width="7.92" height="1.57" fill="#b8bce2"/>
<rect x="89.01" y="132.67" width="7.92" height="1.57" fill="#babde3"/>
<rect x="96.87" y="132.67" width="7.92" height="1.57" fill="#a4a9da"/>
<rect x="104.72" y="132.67" width="7.92" height="1.57" fill="#999ed5"/>
<rect x="112.58" y="132.67" width="7.92" height="1.57" fill="#7b82c9"/>
<rect x="120.44" y="132.67" width="7.92" height="1.57" fill="#787ec8"/>
<rect x="34.00" y="134.18" width="7.92" height="1.57" fill="#f18b90"/>
<rect x="41.86" y="134.18" width="7.92" height="1.57" fill="#ed666d"/>
<rect x="49.72" y="134.18" width="7.92" height="1.57" fill="#f18489"/>
<rect x="57.58" y="134.18" width="7.92" height="1.57" fill="#fafafd"/>
<rect x="65.43" y="134.18" width="7.92" height="1.57" fill="#fffefe"/>
<rect x="73.29" y="134.18" width="7.92" height="1.57" fill="#cacce9"/>
<rect x="81.15" y="134.18" width="7.92" height="1.57" fill="#888ece"/>
<rect x="89.01" y="134.18" width="7.92" height="1.57" fill="#8389cc"/>
<rect x="96.87" y="134.18" width="7.92" height="1.57" fill="#bdc0e4"/>
<rect x="104.72" y="134.18" width="7.92" height="1.57" fill="#9da2d7"/>
<rect x="112.58" y="134.18" width="7.92" height="1.57" fill="#6e76c4"/>
<rect x="120.44" y="134.18" width="7.92" height="1.57" fill="#aaaedc"/>
<rect x="34.00" y="135.68" width="7.92" height="1.57" fill="#f5aeb2"/>
<rect x="41.86" y="135.68" width="7.92" height="1.57" fill="#ea4f57"/>
<rect x="49.72" y="135.68" width="7.92" height="1.57" fill="#f08288"/>
<rect x="57.58" y="135.68" width="7.92" height="1.57" fill="#fdf0f1"/>
<rect x="65.43" y="135.68" width="7.92" height="1.57" fill="#fdefef"/>
<rect x="73.29" y="135.68" width="7.92" height="1.57" fill="#f2f2fa"/>
<rect x="81.15" y="135.68" width="7.92" height="1.57" fill="#8389cc"/>
<rect x="89.01" y="135.68" width="7.92" height="1.57" fill="#8c91d0"/>
<rect x="96.87" y="135.68" width="7.92" height="1.57" fill="#d3d5ed"/>
<rect x="104.72" y="135.68" width="7.92" height="1.57" fill="#8b91d0"/>
<rect x="112.58" y="135.68" width="7.92" height="1.57" fill="#5f67be"/>
<rect x="120.44" y="135.68" width="7.92" height="1.57" fill="#c3c6e7"/>
<rect x="34.00" y="137.19" width="7.92" height="1.57" fill="#f07f84"/>
<rect x="41.86" y="137.19" width="7.92" height="1.57" fill="#e7333c"/>
<rect x="49.72" y="137.19" width="7.92" height="1.57" fill="#ee7077"/>
<rect x="57.58" y="137.19" width="7.92" height="1.57" fill="#fce3e4"/>
<rect x="65.43" y="137.19" width="7.92" height="1.57" fill="#f1f2f9"/>
<rect x="73.29" y="137.19" width="7.92" height="1.57" fill="#ccceea"/>
<rect x="81.15" y="137.19" width="7.92" height="1.57" fill="#b1b5df"/>
<rect x="89.01" y="137.19" width="7.92" height="1.57" fill="#afb3de"/>
<rect x="96.87" y="137.19" width="7.92" height="1.57" fill="#babde3"/>
<rect x="104.72" y="137.19" width="7.92" height="1.57" fill="#b3b7e0"/>
<rect x="112.58" y="137.19" width="7.92" height="1.57" fill="#4b54b5"/>
<rect x="120.44" y="137.19" width="7.92" height="1.57" fill="#999ed5"/>
<rect x="34.00" y="138.69" width="7.92" height="1.57" fill="#f07c82"/>
<rect x="41.86" y="138.69" width="7.92" height="1.57" fill="#e7333c"/>
<rect x="49.72" y="138.69" width="7.92" height="1.57" fill="#ef797f"/>
<rect x="57.58" y="138.69" width="7.92" height="1.57" fill="#fef7f7"/>
<rect x="65.43" y="138.69" width="7.92" height="1.57" fill="#dddff1"/>
<rect x="73.29" y="138.69" width="7.92" height="1.57" fill="#b6bae1"/>
<rect x="81.15" y="138.69" width="7.92" height="1.57" fill="#989dd5"/>
<rect x="89.01" y="138.69" width="7.92" height="1.57" fill="#ccceea"/>
<rect x="96.87" y="138.69" width="7.92" height="1.57" fill="#c1c4e5"/>
<rect x="104.72" y="138.69" width="7.92" height="1.57" fill="#b9bce2"/>
<rect x="112.58" y="138.69" width="7.92" height="1.57" fill="#5a62bc"/>
<rect x="120.44" y="138.69" width="7.92" height="1.57" fill="#c2c5e6"/>
<rect x="34.00" y="140.20" width="7.92" height="1.57" fill="#f4a2a6"/>
<rect x="41.86" y="140.20" width="7.92" height="1.57" fill="#f1878c"/>
<rect x="49.72" y="140.20" width="7.92" height="1.57" fill="#f08085"/>
<rect x="57.58" y="140.20" width="7.92" height="1.57" fill="#fef6f7"/>
<rect x="65.43" y="140.20" width="7.92" height="1.57" fill="#f9f9fd"/>
<rect x="73.29" y="140.20" width="7.92" height="1.57" fill="#b4b7e0"/>
<rect x="81.15" y="140.20" width="7.92" height="1.57" fill="#adb1de"/>
<rect x="89.01" y="140.20" width="7.92" height="1.57" fill="#e7e8f5"/>
<rect x="96.87" y="140.20" width="7.92" height="1.57" fill="#b3b7e0"/>
<rect x="104.72" y="140.20" width="7.92" height="1.57" fill="#878dce"/>
<rect x="112.58" y="140.20" width="7.92" height="1.57" fill="#515ab8"/>
<rect x="120.44" y="140.20" width="7.92" height="1.57" fill="#c0c3e5"/>
<rect x="34.00" y="141.71" width="7.92" height="1.57" fill="#ef7a80"/>
<rect x="41.86" y="141.71" width="7.92" height="1.57" fill="#ef797e"/>
<rect x="49.72" y="141.71" width="7.92" height="1.57" fill="#ed656c"/>
<rect x="57.58" y="141.71" width="7.92" height="1.57" fill="#f9d0d2"/>
<rect x="65.43" y="141.71" width="7.92" height="1.57" fill="#fefafb"/>
<rect x="73.29" y="141.71" width="7.92" height="1.57" fill="#dadcf0"/>
<rect x="81.15" y="141.71" width="7.92" height="1.57" fill="#a7acdb"/>
<rect x="89.01" y="141.71" width="7.92" height="1.57" fill="#bbbee3"/>
<rect x="96.87" y="141.71" width="7.92" height="1.57" fill="#b6b9e1"/>
<rect x="104.72" y="141.71" width="7.92" height="1.57" fill="#6d74c3"/>
<rect x="112.58" y="141.71" width="7.92" height="1.57" fill="#737ac6"/>
<rect x="120.44" y="141.71" width="7.92" height="1.57" fill="#b8bce2"/>
<rect x="34.00" y="143.21" width="7.92" height="1.57" fill="#ed686e"/>
<rect x="41.86" y="143.21" width="7.92" height="1.57" fill="#ee6f76"/>
<rect x="49.72" y="143.21" width="7.92" height="1.57" fill="#ef797f"/>
<rect x="57.58" y="143.21" width="7.92" height="1.57" fill="#f7bcbf"/>
<rect x="65.43" y="143.21" width="7.92" height="1.57" fill="#e6e7f5"/>
<rect x="73.29" y="143.21" width="7.92" height="1.57" fill="#e4e5f4"/>
<rect x="81.15" y="143.21" width="7.92" height="1.57" fill="#a0a5d8"/>
<rect x="89.01" y="143.21" width="7.92" height="1.57" fill="#a9addc"/>
<rect x="96.87" y="143.21" width="7.92" height="1.57" fill="#d8daef"/>
<rect x="104.72" y="143.21" width="7.92" height="1.57" fill="#7279c5"/>
<rect x="112.58" y="143.21" width="7.92" height="1.57" fill="#6971c2"/>
<rect x="120.44" y="143.21" width="7.92" height="1.57" fill="#cacde9"/>
<rect x="34.00" y="144.72" width="7.92" height="1.57" fill="#ef7379"/>
<rect x="41.86" y="144.72" width="7.92" height="1.57" fill="#ed646b"/>
<rect x="49.72" y="144.72" width="7.92" height="1.57" fill="#f08187"/>
<rect x="57.58" y="144.72" width="7.92" height="1.57" fill="#f9cbce"/>
<rect x="65.43" y="144.72" width="7.92" height="1.57" fill="#fef8f8"/>
<rect x="73.29" y="144.72" width="7.92" height="1.57" fill="#f3f4fa"/>
<rect x="81.15" y="144.72" width="7.92" height="1.57" fill="#aaaedc"/>
<rect x="89.01" y="144.72" width="7.92" height="1.57" fill="#adb1dd"/>
<rect x="96.87" y="144.72" width="7.92" height="1.57" fill="#d5d7ee"/>
<rect x="104.72" y="144.72" width="7.92" height="1.57" fill="#868ccd"/>
<rect x="112.58" y="144.72" width="7.92" height="1.57" fill="#777ec8"/>
<rect x="120.44" y="144.72" width="7.92" height="1.57" fill="#9da2d7"/>
<rect x="34.00" y="146.22" width="7.92" height="1.57" fill="#f6b4b7"/>
<rect x="41.86" y="146.22" width="7.92" height="1.57" fill="#eb535b"/>
<rect x="49.72" y="146.22" width="7.92" height="1.57" fill="#ec6269"/>
<rect x="57.58" y="146.22" width="7.92" height="1.57" fill="#fad8da"/>
<rect x="65.43" y="146.22" width="7.92" height="1.57" fill="#f9cdcf"/>
<rect x="73.29" y="146.22" width="7.92" height="1.57" fill="#fafbfd"/>
<rect x="81.15" y="146.22" width="7.92" height="1.57" fill="#a7acdb"/>
<rect x="89.01" y="146.22" width="7.92" height="1.57" fill="#c4c7e7"/>
<rect x="96.87" y="146.22" width="7.92" height="1.57" fill="#c1c4e6"/>
<rect x="104.72" y="146.22" width="7.92" height="1.57" fill="#a7abdb"/>
<rect x="112.58" y="146.22" width="7.92" height="1.57" fill="#8d92d0"/>
<rect x="120.44" y="146.22" width="7.92" height="1.57" fill="#979cd4"/>
<rect x="34.00" y="147.73" width="7.92" height="1.57" fill="#f49fa3"/>
<rect x="41.86" y="147.73" width="7.92" height="1.57" fill="#ec6168"/>
<rect x="49.72" y="147.73" width="7.92" height="1.57" fill="#f18c91"/>
<rect x="57.58" y="147.73" width="7.92" height="1.57" fill="#fce9ea"/>
<rect x="65.43" y="147.73" width="7.92" height="1.57" fill="#dcdef1"/>
<rect x="73.29" y="147.73" width="7.92" height="1.57" fill="#ebecf7"/>
<rect x="81.15" y="147.73" width="7.92" height="1.57" fill="#c3c6e7"/>
<rect x="89.01" y="147.73" width="7.92" height="1.57" fill="#eeeff8"/>
<rect x="96.87" y="147.73" width="7.92" height="1.57" fill="#c4c7e7"/>
<rect x="104.72" y="147.73" width="7.92" height="1.57" fill="#8c91d0"/>
<rect x="112.58" y="147.73" width="7.92" height="1.57" fill="#6169be"/>
<rect x="120.44" y="147.73" width="7.92" height="1.57" fill="#c8cae8"/>
<rect x="34.00" y="149.23" width="7.92" height="1.57" fill="#f49ea2"/>
<rect x="41.86" y="149.23" width="7.92" height="1.57" fill="#eb535b"/>
<rect x="49.72" y="149.23" width="7.92" height="1.57" fill="#f8c5c7"/>
<rect x="57.58" y="149.23" width="7.92" height="1.57" fill="#fef5f5"/>
<rect x="65.43" y="149.23" width="7.92" height="1.57" fill="#e4e5f4"/>
<rect x="73.29" y="149.23" width="7.92" height="1.57" fill="#e3e4f3"/>
<rect x="81.15" y="149.23" width="7.92" height="1.57" fill="#c1c4e6"/>
<rect x="89.01" y="149.23" width="7.92" height="1.57" fill="#bfc2e5"/>
<rect x="96.87" y="149.23" width="7.92" height="1.57" fill="#afb3de"/>
<rect x="104.72" y="149.23" width="7.92" height="1.57" fill="#949ad3"/>
<rect x="112.58" y="149.23" width="7.92" height="1.57" fill="#7279c5"/>
<rect x="120.44" y="149.23" width="7.92" height="1.57" fill="#b0b4df"/>
<rect x="34.00" y="150.74" width="7.92" height="1.57" fill="#f29196"/>
<rect x="41.86" y="150.74" width="7.92" height="1.57" fill="#e7323b"/>
<rect x="49.72" y="150.74" width="7.92" height="1.57" fill="#f08187"/>
<rect x="57.58" y="150.74" width="7.92" height="1.57" fill="#fad7d8"/>
<rect x="65.43" y="150.74" width="7.92" height="1.57" fill="#efeff8"/>
<rect x="73.29" y="150.74" width="7.92" height="1.57" fill="#dbddf0"/>
<rect x="81.15" y="150.74" width="7.92" height="1.57" fill="#e6e7f5"/>
<rect x="89.01" y="150.74" width="7.92" height="1.57" fill="#9a9fd6"/>
<rect x="96.87" y="150.74" width="7.92" height="1.57" fill="#dcddf1"/>
<rect x="104.72" y="150.74" width="7.92" height="1.57" fill="#b8bbe2"/>
<rect x="112.58" y="150.74" width="7.92" height="1.57" fill="#8086cb"/>
<rect x="120.44" y="150.74" width="7.92" height="1.57" fill="#aaaedc"/>
<rect x="34.00" y="152.24" width="7.92" height="1.57" fill="#eb535b"/>
<rect x="41.86" y="152.24" width="7.92" height="1.57" fill="#eb575f"/>
<rect x="49.72" y="152.24" width="7.92" height="1.57" fill="#eb555c"/>
<rect x="57.58" y="152.24" width="7.92" height="1.57" fill="#fce3e5"/>
<rect x="65.43" y="152.24" width="7.92" height="1.57" fill="#e6e7f5"/>
<rect x="73.29" y="152.24" width="7.92" height="1.57" fill="#e5e7f4"/>
<rect x="81.15" y="152.24" width="7.92" height="1.57" fill="#d5d7ee"/>
<rect x="89.01" y="152.24" width="7.92" height="1.57" fill="#8c92d0"/>
<rect x="96.87" y="152.24" width="7.92" height="1.57" fill="#bbbfe3"/>
<rect x="104.72" y="152.24" width="7.92" height="1.57" fill="#9ea3d7"/>
<rect x="112.58" y="152.24" width="7.92" height="1.57" fill="#898fcf"/>
<rect x="120.44" y="152.24" width="7.92" height="1.57" fill="#a5a9da"/>
<rect x="34.00" y="153.75" width="7.92" height="1.57" fill="#ed686f"/>
<rect x="41.86" y="153.75" width="7.92" height="1.57" fill="#e83f47"/>
<rect x="49.72" y="153.75" width="7.92" height="1.57" fill="#ea4b53"/>
<rect x="57.58" y="153.75" width="7.92" height="1.57" fill="#fdeaeb"/>
<rect x="65.43" y="153.75" width="7.92" height="1.57" fill="#e2e4f3"/>
<rect x="73.29" y="153.75" width="7.92" height="1.57" fill="#d8daef"/>
<rect x="81.15" y="153.75" width="7.92" height="1.57" fill="#e3e4f4"/>
<rect x="89.01" y="153.75" width="7.92" height="1.57" fill="#9398d3"/>
<rect x="96.87" y="153.75" width="7.92" height="1.57" fill="#a0a5d8"/>
<rect x="104.72" y="153.75" width="7.92" height="1.57" fill="#888ece"/>
<rect x="112.58" y="153.75" width="7.92" height="1.57" fill="#7279c5"/>
<rect x="120.44" y="153.75" width="7.92" height="1.57" fill="#aaaedc"/>
<rect x="34.00" y="155.26" width="7.92" height="1.57" fill="#f6b7ba"/>
<rect x="41.86" y="155.26" width="7.92" height="1.57" fill="#e83c45"/>
<rect x="49.72" y="155.26" width="7.92" height="1.57" fill="#ed6a71"/>
<rect x="57.58" y="155.26" width="7.92" height="1.57" fill="#f5f5fb"/>
<rect x="65.43" y="155.26" width="7.92" height="1.57" fill="#f1f2f9"/>
<rect x="73.29" y="155.26" width="7.92" height="1.57" fill="#acb0dd"/>
<rect x="81.15" y="155.26" width="7.92" height="1.57" fill="#edeef7"/>
<rect x="89.01" y="155.26" width="7.92" height="1.57" fill="#bcbfe4"/>
<rect x="96.87" y="155.26" width="7.92" height="1.57" fill="#abafdd"/>
<rect x="104.72" y="155.26" width="7.92" height="1.57" fill="#8086cb"/>
<rect x="112.58" y="155.26" width="7.92" height="1.57" fill="#858bcd"/>
<rect x="120.44" y="155.26" width="7.92" height="1.57" fill="#969bd4"/>
<rect x="34.00" y="156.76" width="7.92" height="1.57" fill="#f4a2a6"/>
<rect x="41.86" y="156.76" width="7.92" height="1.57" fill="#e83f48"/>
<rect x="49.72" y="156.76" width="7.92" height="1.57" fill="#eb565d"/>
<rect x="57.58" y="156.76" width="7.92" height="1.57" fill="#ecedf7"/>
<rect x="65.43" y="156.76" width="7.92" height="1.57" fill="#fafbfd"/>
<rect x="73.29" y="156.76" width="7.92" height="1.57" fill="#d4d6ee"/>
<rect x="81.15" y="156.76" width="7.92" height="1.57" fill="#a0a5d8"/>
<rect x="89.01" y="156.76" width="7.92" height="1.57" fill="#b9bce2"/>
<rect x="96.87" y="156.76" width="7.92" height="1.57" fill="#8c91d0"/>
<rect x="104.72" y="156.76" width="7.92" height="1.57" fill="#5c64bc"/>
<rect x="112.58" y="156.76" width="7.92" height="1.57" fill="#b7bbe2"/>
<rect x="120.44" y="156.76" width="7.92" height="1.57" fill="#9297d2"/>
<rect x="34.00" y="158.27" width="7.92" height="1.57" fill="#ec5b62"/>
<rect x="41.86" y="158.27" width="7.92" height="1.57" fill="#ec5f66"/>
<rect x="49.72" y="158.27" width="7.92" height="1.57" fill="#e41a24"/>
<rect x="57.58" y="158.27" width="7.92" height="1.57" fill="#f8f8fc"/>
<rect x="65.43" y="158.27" width="7.92" height="1.57" fill="#eaebf7"/>
<rect x="73.29" y="158.27" width="7.92" height="1.57" fill="#e3e5f4"/>
<rect x="81.15" y="158.27" width="7.92" height="1.57" fill="#aeb2de"/>
<rect x="89.01" y="158.27" width="7.92" height="1.57" fill="#d1d3ec"/>
<rect x="96.87" y="158.27" width="7.92" height="1.57" fill="#9da2d7"/>
<rect x="104.72" y="158.27" width="7.92" height="1.57" fill="#777dc7"/>
<rect x="112.58" y="158.27" width="7.92" height="1.57" fill="#969bd4"/>
<rect x="120.44" y="158.27" width="7.92" height="1.57" fill="#9da2d7"/>
<rect x="34.00" y="159.77" width="7.92" height="1.57" fill="#f1878c"/>
<rect x="41.86" y="159.77" width="7.92" height="1.57" fill="#e94951"/>
<rect x="49.72" y="159.77" width="7.92" height="1.57" fill="#e62e37"/>
<rect x="57.58" y="159.77" width="7.92" height="1.57" fill="#fefafb"/>
<rect x="65.43" y="159.77" width="7.92" height="1.57" fill="#e9eaf6"/>
<rect x="73.29" y="159.77" width="7.92" height="1.57" fill="#e9eaf6"/>
<rect x="81.15" y="159.77" width="7.92" height="1.57" fill="#dddff1"/>
<rect x="89.01" y="159.77" width="7.92" height="1.57" fill="#cacce9"/>
<rect x="96.87" y="159.77" width="7.92" height="1.57" fill="#bec1e4"/>
<rect x="104.72" y="159.77" width="7.92" height="1.57" fill="#969bd4"/>
<rect x="112.58" y="159.77" width="7.92" height="1.57" fill="#8c92d0"/>
<rect x="120.44" y="159.77" width="7.92" height="1.57" fill="#a4a9da"/>
<rect x="34.00" y="161.28" width="7.92" height="1.57" fill="#ef757b"/>
<rect x="41.86" y="161.28" width="7.92" height="1.57" fill="#e52630"/>
<rect x="49.72" y="161.28" width="7.92" height="1.57" fill="#e5232d"/>
<rect x="57.58" y="161.28" width="7.92" height="1.57" fill="#ededf7"/>
<rect x="65.43" y="161.28" width="7.92" height="1.57" fill="#fce3e4"/>
<rect x="73.29" y="161.28" width="7.92" height="1.57" fill="#fdebec"/>
<rect x="81.15" y="161.28" width="7.92" height="1.57" fill="#cfd2ec"/>
<rect x="89.01" y="161.28" width="7.92" height="1.57" fill="#abafdd"/>
<rect x="96.87" y="161.28" width="7.92" height="1.57" fill="#9398d3"/>
<rect x="104.72" y="161.28" width="7.92" height="1.57" fill="#9fa3d8"/>
<rect x="112.58" y="161.28" width="7.92" height="1.57" fill="#757cc6"/>
<rect x="120.44" y="161.28" width="7.92" height="1.57" fill="#c6c9e8"/>
<rect x="34.00" y="162.78" width="7.92" height="1.57" fill="#f5a7aa"/>
<rect x="41.86" y="162.78" width="7.92" height="1.57" fill="#e9434b"/>
<rect x="49.72" y="162.78" width="7.92" height="1.57" fill="#e41a24"/>
<rect x="57.58" y="162.78" width="7.92" height="1.57" fill="#edeef8"/>
<rect x="65.43" y="162.78" width="7.92" height="1.57" fill="#fefefe"/>
<rect x="73.29" y="162.78" width="7.92" height="1.57" fill="#f9f9fc"/>
<rect x="81.15" y="162.78" width="7.92" height="1.57" fill="#bfc2e5"/>
<rect x="89.01" y="162.78" width="7.92" height="1.57" fill="#a6abdb"/>
<rect x="96.87" y="162.78" width="7.92" height="1.57" fill="#9fa3d8"/>
<rect x="104.72" y="162.78" width="7.92" height="1.57" fill="#888ece"/>
<rect x="112.58" y="162.78" width="7.92" height="1.57" fill="#6c73c3"/>
<rect x="120.44" y="162.78" width="7.92" height="1.57" fill="#c2c5e6"/>
<rect x="34.00" y="164.29" width="7.92" height="1.57" fill="#f6b1b4"/>
<rect x="41.86" y="164.29" width="7.92" height="1.57" fill="#ec5a61"/>
<rect x="49.72" y="164.29" width="7.92" height="1.57" fill="#e7313a"/>
<rect x="57.58" y="164.29" width="7.92" height="1.57" fill="#fce5e6"/>
<rect x="65.43" y="164.29" width="7.92" height="1.57" fill="#ced1eb"/>
<rect x="73.29" y="164.29" width="7.92" height="1.57" fill="#edeef8"/>
<rect x="81.15" y="164.29" width="7.92" height="1.57" fill="#878dce"/>
<rect x="89.01" y="164.29" width="7.92" height="1.57" fill="#9ba0d6"/>
<rect x="96.87" y="164.29" width="7.92" height="1.57" fill="#9a9fd6"/>
<rect x="104.72" y="164.29" width="7.92" height="1.57" fill="#979cd4"/>
<rect x="112.58" y="164.29" width="7.92" height="1.57" fill="#8288cc"/>
<rect x="120.44" y="164.29" width="7.92" height="1.57" fill="#868cce"/>
<rect x="34.00" y="165.79" width="7.92" height="1.57" fill="#f29398"/>
<rect x="41.86" y="165.79" width="7.92" height="1.57" fill="#e83c45"/>
<rect x="49.72" y="165.79" width="7.92" height="1.57" fill="#e83841"/>
<rect x="57.58" y="165.79" width="7.92" height="1.57" fill="#fad8da"/>
<rect x="65.43" y="165.79" width="7.92" height="1.57" fill="#c2c5e6"/>
<rect x="73.29" y="165.79" width="7.92" height="1.57" fill="#c2c5e6"/>
<rect x="81.15" y="165.79" width="7.92" height="1.57" fill="#b0b4df"/>
<rect x="89.01" y="165.79" width="7.92" height="1.57" fill="#d8daef"/>
<rect x="96.87" y="165.79" width="7.92" height="1.57" fill="#9a9fd6"/>
<rect x="104.72" y="165.79" width="7.92" height="1.57" fill="#a4a8da"/>
<rect x="112.58" y="165.79" width="7.92" height="1.57" fill="#6f76c4"/>
<rect x="120.44" y="165.79" width="7.92" height="1.57" fill="#9fa3d8"/>
<path d="M33.80 64.26H30.75V64.83H33.80M33.80 65.96H32.52V66.52H33.80M33.80 75.56H33.31V76.12H33.80M33.80 69.91H32.38V70.47H33.80M33.80 45.07H33.52V45.63H33.80M33.80 54.10H33.38V54.67H33.80M33.80 73.30H30.92V73.86H33.80M33.80 34.91H31.79V35.47H33.80M33.80 62.01H30.54V62.57H33.80M33.80 43.94H31.68V44.50H33.80M33.80 74.99H32.48V75.84H33.31M33.80 34.34H30.51V35.19H31.79M33.80 51.28H31.75V51.84H33.80M33.80 71.04H32.86V71.60H33.80M33.80 48.46H32.14V49.02H33.80M33.80 56.92H32.24V57.49H33.80M33.80 60.31H33.59V60.88H33.80M33.80 59.75H31.93V60.59H33.59M33.80 55.79H30.44V56.36H33.80M32.38 70.19H31.16V71.32H32.86M33.80 42.24H32.93V42.81H33.80M33.80 41.12H32.20V41.68H33.80M33.80 32.65H33.63V33.21H33.80M33.80 69.34H30.23V70.76H31.16M33.80 37.16H30.85V37.73H33.80M33.80 50.71H30.71V51.56H31.75M33.63 32.93H29.98V33.78H33.80M33.80 32.08H29.29V33.35H29.98M33.80 36.60H29.40V37.45H30.85M33.80 72.17H32.62V72.73H33.80M33.80 38.29H31.89V38.86H33.80M33.52 45.35H30.19V46.20H33.80M33.80 49.58H32.79V50.15H33.80M33.80 52.41H32.83V52.97H33.80M33.80 58.62H31.20V59.18H33.80M33.80 40.55H30.82V41.40H32.20M33.80 39.99H30.30V40.97H30.82M33.80 63.70H28.77V64.55H30.75M33.80 46.76H31.44V47.33H33.80M33.80 47.89H29.92V48.74H32.14M29.92 48.31H28.18V49.87H32.79M33.80 43.37H29.78V44.22H31.68M33.80 63.13H28.25V64.12H28.77M32.52 66.24H29.01V67.09H33.80M29.29 32.72H28.46V34.76H30.51M31.20 58.90H28.56V60.17H31.93M33.80 36.03H28.63V37.02H29.40M33.80 68.22H30.40V68.78H33.80M33.80 61.44H28.84V62.29H30.54M33.80 39.42H29.71V40.48H30.30M32.93 42.53H28.98V43.80H29.78M30.71 51.14H30.16V52.69H32.83M29.01 66.66H28.29V67.65H33.80M33.80 53.54H31.34V54.38H33.38M31.89 38.58H29.08V39.95H29.71M30.40 68.50H28.67V70.05H30.23M28.46 33.74H27.66V36.53H28.63M33.80 58.05H27.73V59.54H28.56M31.44 47.04H27.21V49.09H28.18M28.67 69.27H27.59V72.45H32.62M27.21 48.07H26.66V51.91H30.16M31.34 53.96H29.19V55.23H33.80M28.84 61.86H27.31V63.63H28.25M32.24 57.21H27.07V58.79H27.73M28.98 43.16H27.90V45.77H30.19M33.80 65.39H27.97V67.16H28.29M27.07 58.00H26.59V62.75H27.31M30.92 73.58H30.02V74.43H33.80M27.66 35.13H27.45V39.26H29.08M27.45 37.20H27.00V44.47H27.90M26.59 60.37H26.55V66.27H27.97M30.02 74.00H29.26V75.41H32.48M29.26 74.71H27.83V76.68H33.80M30.44 56.08H26.24V63.32H26.55M26.66 49.99H26.27V54.60H29.19M27.00 40.83H25.90V52.29H26.27M26.24 59.70H24.92V70.86H27.59M25.90 46.56H24.43V65.28H24.92M24.43 55.92H23.46V75.70H27.83M33.80 79.51H33.04V80.07H33.80M33.80 93.62H33.14V94.19H33.80M33.80 78.38H33.35V78.94H33.80M33.80 91.36H32.00V91.93H33.80M33.80 82.89H33.56V83.46H33.80M33.56 83.18H29.88V84.02H33.80M32.00 91.65H29.60V92.49H33.80M33.80 106.04H32.10V106.61H33.80M29.88 83.60H28.49V84.59H33.80M33.80 77.81H30.78V78.66H33.35M33.80 94.75H31.41V95.32H33.80M33.04 79.79H32.34V80.64H33.80M32.10 106.32H31.03V107.17H33.80M33.80 81.77H31.27V82.33H33.80M31.41 95.03H30.33V95.88H33.80M31.27 82.05H28.22V84.09H28.49M33.80 104.35H32.69V104.91H33.80M32.34 80.21H29.12V81.20H33.80M33.80 87.41H31.09V87.98H33.80M33.80 98.14H32.72V98.70H33.80M33.80 103.78H29.50V104.63H32.69M33.80 101.53H30.61V102.09H33.80M30.78 78.24H27.80V80.71H29.12M33.80 110.56H33.77V111.12H33.80M33.80 100.96H29.36V101.81H30.61M33.80 77.25H27.24V79.47H27.80M33.80 86.85H30.09V87.69H31.09M33.80 89.11H30.47V89.67H33.80M31.03 106.75H28.91V107.74H33.80M29.50 104.21H27.87V105.48H33.80M33.80 109.99H31.51V110.84H33.77M30.09 87.27H28.88V88.54H33.80M32.72 98.42H31.82V99.27H33.80M29.36 101.38H28.81V102.66H33.80M27.24 78.36H26.97V83.07H28.22M33.80 108.30H33.49V108.87H33.80M31.51 110.42H29.46V111.69H33.80M31.82 98.84H30.37V99.83H33.80M26.97 80.72H26.72V85.15H33.80M30.47 89.39H28.74V90.23H33.80M29.60 92.07H28.42V93.06H33.80M33.80 97.01H31.48V97.57H33.80M33.80 103.22H27.28V104.84H27.87M33.14 93.90H29.15V95.46H30.33M33.80 96.44H30.26V97.29H31.48M28.91 107.24H27.77V108.58H33.49M28.42 92.56H27.35V94.68H29.15M27.77 107.91H27.38V109.43H33.80M33.80 112.25H32.90V112.82H33.80M33.80 86.28H28.32V87.91H28.88M27.35 93.62H26.83V96.87H30.26M26.72 82.93H26.41V85.72H33.80M26.83 95.25H26.52V99.34H30.37M28.32 87.09H27.70V89.81H28.74M33.80 100.40H27.56V102.02H28.81M27.38 108.67H27.04V111.05H29.46M27.56 101.21H26.93V104.03H27.28M33.80 90.80H25.41V97.29H26.52M27.04 109.86H26.76V112.54H32.90M26.41 84.33H25.17V88.45H27.70M25.41 94.05H23.94V102.62H26.93M25.17 86.39H22.97V98.33H23.94M22.97 92.36H22.48V111.20H26.76M33.80 135.40H31.58V135.97H33.80M33.80 154.60H33.73V155.16H33.80M33.80 122.98H32.59V123.54H33.80M33.80 127.50H33.70V128.06H33.80M33.80 133.71H33.18V134.27H33.80M33.80 124.11H30.99V124.67H33.80M33.80 161.94H33.45V162.50H33.80M33.80 120.72H31.65V121.29H33.80M33.80 164.76H31.61V165.32H33.80M33.80 143.31H30.57V143.87H33.80M33.80 129.76H33.25V130.32H33.80M33.80 151.77H33.11V152.34H33.80M33.80 113.95H31.23V114.51H33.80M33.80 157.98H31.37V158.55H33.80M33.80 128.63H33.21V129.19H33.80M30.57 143.59H28.94V144.43H33.80M31.37 158.27H29.57V159.11H33.80M33.80 126.93H31.72V127.78H33.70M33.18 133.99H32.07V134.84H33.80M33.80 148.39H33.42V148.95H33.80M33.73 154.88H32.55V155.73H33.80M33.80 113.38H29.64V114.23H31.23M33.80 166.45H31.55V167.02H33.80M33.80 160.81H31.06V161.37H33.80M33.80 145.56H32.45V146.13H33.80M33.80 133.14H30.89V134.41H32.07M30.99 124.39H29.81V125.24H33.80M33.80 151.21H29.53V152.06H33.11M28.94 144.01H28.04V145.00H33.80M33.80 146.69H33.07V147.26H33.80M33.80 115.64H32.76V116.21H33.80M31.65 121.00H30.68V121.85H33.80M33.80 132.01H31.96V132.58H33.80M33.80 156.29H33.00V156.86H33.80M33.80 164.19H30.64V165.04H31.61M29.57 158.69H28.01V159.68H33.80M33.80 138.22H30.96V138.79H33.80M33.80 122.42H29.95V123.26H32.59M33.80 152.90H31.13V153.47H33.80M33.80 119.59H32.41V120.16H33.80M28.04 144.50H27.11V145.85H32.45M27.11 145.18H26.69V146.98H33.07M33.80 157.42H27.42V159.18H28.01M33.80 142.18H31.86V142.74H33.80M33.80 160.24H30.12V161.09H31.06M31.72 127.36H29.74V128.91H33.21M33.80 150.08H32.97V150.64H33.80M30.64 164.62H29.05V165.89H33.80M29.95 122.84H28.60V124.82H29.81M29.53 151.63H28.70V153.19H31.13M33.80 163.07H32.66V163.63H33.80M27.42 158.30H27.14V160.67H30.12M30.68 121.43H27.49V123.83H28.60M32.97 150.36H28.15V152.41H28.70M33.42 148.67H32.03V149.52H33.80M32.55 155.30H31.30V156.57H33.00M29.64 113.81H28.35V115.08H33.80M32.76 115.92H30.05V116.77H33.80M33.80 117.33H32.17V117.90H33.80M31.86 142.46H26.45V146.08H26.69M33.80 125.80H32.31V126.37H33.80M33.80 130.88H33.66V131.45H33.80M27.14 159.48H26.86V162.22H33.45M32.03 149.09H27.63V151.39H28.15M33.80 137.09H32.27V137.66H33.80M33.66 131.17H29.85V132.30H31.96M26.86 160.85H26.48V163.35H32.66M30.96 138.51H29.33V139.35H33.80M33.80 118.46H33.28V119.03H33.80M26.45 144.27H26.34V147.82H33.80M33.25 130.04H29.43V131.73H29.85M28.35 114.44H28.11V116.35H30.05M27.49 122.63H27.18V126.09H32.31M29.05 165.25H28.39V166.74H31.55M29.33 138.93H28.53V139.92H33.80M26.34 146.04H26.20V150.24H27.63M26.48 162.10H26.31V165.99H28.39M33.80 154.03H29.22V155.94H31.30M29.43 130.88H28.08V133.78H30.89M33.80 141.61H25.66V148.14H26.20M28.53 139.42H27.94V140.48H33.80M33.80 136.53H29.67V137.38H32.27M29.67 136.95H27.52V139.95H27.94M25.66 144.88H24.68V154.99H29.22M32.41 119.88H26.79V124.36H27.18M33.80 141.05H23.70V149.93H24.68M33.28 118.75H26.62V122.12H26.79M31.58 135.68H26.90V138.45H27.52M26.62 120.43H26.38V128.13H29.74M32.17 117.62H26.14V124.28H26.38M26.14 120.95H24.19V132.33H28.08M24.19 126.64H23.21V137.07H26.90M28.11 115.39H22.23V131.85H23.21M23.70 145.49H22.72V164.05H26.31M22.23 123.62H21.99V154.77H22.72M22.48 101.78H21.74V139.20H21.99M23.46 65.81H21.50V120.49H21.74" stroke="#000" stroke-width="0.8" fill="none"/>
<rect x="34.00" y="24.30" width="7.91" height="3.50" fill="#4fb889"/>
<rect x="41.86" y="24.30" width="7.91" height="3.50" fill="#4fb889"/>
<rect x="49.72" y="24.30" width="7.91" height="3.50" fill="#4fb889"/>
<rect x="57.58" y="24.30" width="7.91" height="3.50" fill="#3ba86f"/>
<rect x="65.43" y="24.30" width="7.91" height="3.50" fill="#3ba86f"/>
<rect x="73.29" y="24.30" width="7.91" height="3.50" fill="#3ba86f"/>
<rect x="81.15" y="24.30" width="7.91" height="3.50" fill="#cdecec"/>
<rect x="89.01" y="24.30" width="7.91" height="3.50" fill="#6fc59e"/>
<rect x="96.87" y="24.30" width="7.91" height="3.50" fill="#6fc59e"/>
<rect x="104.72" y="24.30" width="7.91" height="3.50" fill="#4cb081"/>
<rect x="112.58" y="24.30" width="7.91" height="3.50" fill="#eef8f8"/>
<rect x="120.44" y="24.30" width="7.91" height="3.50" fill="#2a9a62"/>
<rect x="34.00" y="27.80" width="7.91" height="3.80" fill="#c8102e"/>
<rect x="41.86" y="27.80" width="7.91" height="3.80" fill="#c8102e"/>
<rect x="49.72" y="27.80" width="7.91" height="3.80" fill="#c8102e"/>
<rect x="57.58" y="27.80" width="7.91" height="3.80" fill="#174f8c"/>
<rect x="65.43" y="27.80" width="7.91" height="3.80" fill="#174f8c"/>
<rect x="73.29" y="27.80" width="7.91" height="3.80" fill="#174f8c"/>
<rect x="81.15" y="27.80" width="7.91" height="3.80" fill="#562178"/>
<rect x="89.01" y="27.80" width="7.91" height="3.80" fill="#562178"/>
<rect x="96.87" y="27.80" width="7.91" height="3.80" fill="#562178"/>
<rect x="104.72" y="27.80" width="7.91" height="3.80" fill="#2eaf4a"/>
<rect x="112.58" y="27.80" width="7.91" height="3.80" fill="#2eaf4a"/>
<rect x="120.44" y="27.80" width="7.91" height="3.80" fill="#2eaf4a"/>
<text x="129.50" y="26.90" font-size="2.2" fill="#333">sizefactor</text>
<text x="129.50" y="30.60" font-size="2.2" fill="#333">condition</text>
<path d="M45.79 23.80V19.60H53.65V23.80" stroke="#111" stroke-width="0.85" fill="none"/>
<path d="M37.93 23.80V17.00H49.72V19.60" stroke="#111" stroke-width="0.85" fill="none"/>
<path d="M69.36 23.80V20.60H77.22V23.80" stroke="#111" stroke-width="0.85" fill="none"/>
<path d="M61.50 23.80V19.40H73.29V20.60" stroke="#111" stroke-width="0.85" fill="none"/>
<path d="M92.94 23.80V20.40H100.80V23.80" stroke="#111" stroke-width="0.85" fill="none"/>
<path d="M85.08 23.80V18.60H96.87V20.40" stroke="#111" stroke-width="0.85" fill="none"/>
<path d="M116.51 23.80V20.40H124.37V23.80" stroke="#111" stroke-width="0.85" fill="none"/>
<path d="M108.65 23.80V18.60H120.44V20.40" stroke="#111" stroke-width="0.85" fill="none"/>
<path d="M90.97 18.60V15.60H114.55V18.60" stroke="#111" stroke-width="0.85" fill="none"/>
<path d="M67.40 19.40V13.20H102.76V15.60" stroke="#111" stroke-width="0.85" fill="none"/>
<path d="M43.82 17.00V8.60H85.08V13.20" stroke="#111" stroke-width="0.85" fill="none"/>
<defs><linearGradient id="cbar" x1="0" y1="0" x2="0" y2="1"><stop offset="0" stop-color="#e8141c"/><stop offset="0.22" stop-color="#ee3a40"/><stop offset="0.42" stop-color="#f8b4b4"/><stop offset="0.5" stop-color="#ffffff"/><stop offset="0.58" stop-color="#c4cce8"/><stop offset="0.78" stop-color="#5a6cbc"/><stop offset="1" stop-color="#1f3f9e"/></linearGradient></defs>
<rect x="129.30" y="32.00" width="2.70" height="47.80" fill="url(#cbar)"/>
<text x="135.00" y="42.30" font-size="5.6" text-anchor="end" fill="#222" stroke="#222" stroke-width="0.18">2</text>
<text x="135.00" y="51.00" font-size="5.6" text-anchor="end" fill="#222" stroke="#222" stroke-width="0.18">1</text>
<text x="135.00" y="57.80" font-size="5.6" text-anchor="end" fill="#222" stroke="#222" stroke-width="0.18">0</text>
<text x="135.20" y="66.40" font-size="5.6" text-anchor="end" fill="#222" stroke="#222" stroke-width="0.18">-1</text>
<text x="135.20" y="75.50" font-size="5.6" text-anchor="end" fill="#222" stroke="#222" stroke-width="0.18">-2</text>
<rect x="136.80" y="35.50" width="2.60" height="4.10" fill="#1f9a5e"/>
<rect x="136.80" y="39.55" width="2.60" height="4.10" fill="#5cbf94"/>
<rect x="136.80" y="43.60" width="2.60" height="4.10" fill="#a8dcd8"/>
<rect x="136.80" y="47.65" width="2.60" height="4.10" fill="#e8f5f8"/>
<text x="136.50" y="34.00" font-size="2.2" fill="#333">sizefactor</text>
<text x="141.70" y="40.80" font-size="5.6" fill="#222" stroke="#222" stroke-width="0.18">11</text>
<text x="141.70" y="51.80" font-size="5.6" fill="#222" stroke="#222" stroke-width="0.18">0.8</text>
<text x="136.50" y="57.60" font-size="2.2" fill="#333">condition</text>
<rect x="136.80" y="58.80" width="2.60" height="4.90" fill="#562178"/>
<text x="141.70" y="62.50" font-size="5.6" fill="#222" stroke="#222" stroke-width="0.18">EV</text>
<rect x="136.80" y="63.65" width="2.60" height="4.90" fill="#2eaf4a"/>
<text x="141.70" y="67.45" font-size="5.6" fill="#222" stroke="#222" stroke-width="0.18">KD</text>
<rect x="136.80" y="68.50" width="2.60" height="4.90" fill="#c8102e"/>
<text x="141.70" y="72.40" font-size="5.6" fill="#222" stroke="#222" stroke-width="0.18">OE</text>
<rect x="136.80" y="73.35" width="2.60" height="4.90" fill="#174f8c"/>
<text x="141.70" y="77.35" font-size="5.6" fill="#222" stroke="#222" stroke-width="0.18">YYFF</text>
<text x="38.03" y="171.80" font-size="7.2" text-anchor="end" fill="#1a1a1a" textLength="10.0" lengthAdjust="spacingAndGlyphs" transform="rotate(-90 38.03 171.80)" stroke="#1a1a1a" stroke-width="0.2">OE</text>
<text x="45.89" y="171.80" font-size="7.2" text-anchor="end" fill="#1a1a1a" textLength="10.0" lengthAdjust="spacingAndGlyphs" transform="rotate(-90 45.89 171.80)" stroke="#1a1a1a" stroke-width="0.2">OE</text>
<text x="53.75" y="171.80" font-size="7.2" text-anchor="end" fill="#1a1a1a" textLength="10.0" lengthAdjust="spacingAndGlyphs" transform="rotate(-90 53.75 171.80)" stroke="#1a1a1a" stroke-width="0.2">OE</text>
<text x="61.60" y="171.80" font-size="7.2" text-anchor="end" fill="#1a1a1a" textLength="17.2" lengthAdjust="spacingAndGlyphs" transform="rotate(-90 61.60 171.80)" stroke="#1a1a1a" stroke-width="0.2">YYFF</text>
<text x="69.46" y="171.80" font-size="7.2" text-anchor="end" fill="#1a1a1a" textLength="17.2" lengthAdjust="spacingAndGlyphs" transform="rotate(-90 69.46 171.80)" stroke="#1a1a1a" stroke-width="0.2">YYFF</text>
<text x="77.32" y="171.80" font-size="7.2" text-anchor="end" fill="#1a1a1a" textLength="17.2" lengthAdjust="spacingAndGlyphs" transform="rotate(-90 77.32 171.80)" stroke="#1a1a1a" stroke-width="0.2">YYFF</text>
<text x="85.18" y="171.80" font-size="7.2" text-anchor="end" fill="#1a1a1a" textLength="8.6" lengthAdjust="spacingAndGlyphs" transform="rotate(-90 85.18 171.80)" stroke="#1a1a1a" stroke-width="0.2">EV</text>
<text x="93.04" y="171.80" font-size="7.2" text-anchor="end" fill="#1a1a1a" textLength="8.6" lengthAdjust="spacingAndGlyphs" transform="rotate(-90 93.04 171.80)" stroke="#1a1a1a" stroke-width="0.2">EV</text>
<text x="100.90" y="171.80" font-size="7.2" text-anchor="end" fill="#1a1a1a" textLength="8.6" lengthAdjust="spacingAndGlyphs" transform="rotate(-90 100.90 171.80)" stroke="#1a1a1a" stroke-width="0.2">EV</text>
<text x="108.75" y="171.80" font-size="7.2" text-anchor="end" fill="#1a1a1a" textLength="9.8" lengthAdjust="spacingAndGlyphs" transform="rotate(-90 108.75 171.80)" stroke="#1a1a1a" stroke-width="0.2">+/-</text>
<text x="116.61" y="171.80" font-size="7.2" text-anchor="end" fill="#1a1a1a" textLength="9.8" lengthAdjust="spacingAndGlyphs" transform="rotate(-90 116.61 171.80)" stroke="#1a1a1a" stroke-width="0.2">+/-</text>
<text x="124.47" y="171.80" font-size="7.2" text-anchor="end" fill="#1a1a1a" textLength="9.8" lengthAdjust="spacingAndGlyphs" transform="rotate(-90 124.47 171.80)" stroke="#1a1a1a" stroke-width="0.2">+/-</text>
<text transform="translate(168.25 15.50) scale(1.0 1)" font-size="11.2" fill="#000" font-weight="bold">B</text>
<text x="238.80" y="51.00" font-size="6.2" text-anchor="middle" fill="#222" textLength="82" lengthAdjust="spacingAndGlyphs" stroke="#222" stroke-width="0.18">HEXIM1 OE compared to EV</text>
<path d="M211.5 130.6 C214 136.5 220 141.5 228 141.8 C236 141.5 244 136.5 249.5 130.6 L233 130.6 L228.5 137.2 L224 130.6 Z" stroke="none" stroke-width="1" fill="#4e1d72"/>
<g fill="#1c5290"><circle cx="204.37" cy="119.07" r="0.85"/><circle cx="216.83" cy="122.66" r="0.85"/><circle cx="205.72" cy="117.33" r="0.85"/><circle cx="221.41" cy="122.09" r="0.85"/><circle cx="213.38" cy="126.79" r="0.85"/><circle cx="215.51" cy="129.62" r="0.85"/><circle cx="221.03" cy="126.85" r="0.85"/><circle cx="213.19" cy="128.83" r="0.85"/><circle cx="204.10" cy="116.90" r="0.85"/><circle cx="203.31" cy="115.02" r="0.85"/><circle cx="212.01" cy="121.42" r="0.85"/><circle cx="209.09" cy="122.56" r="0.85"/><circle cx="222.95" cy="126.81" r="0.85"/><circle cx="220.68" cy="127.25" r="0.85"/><circle cx="220.00" cy="117.83" r="0.85"/><circle cx="215.39" cy="118.39" r="0.85"/><circle cx="221.92" cy="127.38" r="0.85"/><circle cx="210.85" cy="124.59" r="0.85"/><circle cx="211.96" cy="124.24" r="0.85"/><circle cx="213.14" cy="122.44" r="0.85"/><circle cx="214.59" cy="118.08" r="0.85"/><circle cx="205.88" cy="120.45" r="0.85"/><circle cx="214.75" cy="120.22" r="0.85"/><circle cx="209.23" cy="115.04" r="0.85"/><circle cx="209.19" cy="120.65" r="0.85"/><circle cx="208.13" cy="129.04" r="0.85"/><circle cx="220.59" cy="124.43" r="0.85"/><circle cx="218.11" cy="119.31" r="0.85"/><circle cx="210.79" cy="113.99" r="0.85"/><circle cx="223.40" cy="122.45" r="0.85"/><circle cx="209.95" cy="126.60" r="0.85"/><circle cx="223.22" cy="128.04" r="0.85"/><circle cx="220.51" cy="122.59" r="0.85"/><circle cx="222.18" cy="129.91" r="0.85"/><circle cx="206.84" cy="125.87" r="0.85"/><circle cx="211.12" cy="127.90" r="0.85"/><circle cx="219.76" cy="122.66" r="0.85"/><circle cx="206.68" cy="114.50" r="0.85"/><circle cx="213.93" cy="118.41" r="0.85"/><circle cx="211.29" cy="120.92" r="0.85"/><circle cx="222.51" cy="125.56" r="0.85"/><circle cx="214.16" cy="126.11" r="0.85"/><circle cx="220.36" cy="130.63" r="0.85"/><circle cx="218.16" cy="114.58" r="0.85"/><circle cx="217.06" cy="116.32" r="0.85"/><circle cx="215.49" cy="126.43" r="0.85"/><circle cx="210.75" cy="114.50" r="0.85"/><circle cx="224.00" cy="128.53" r="0.85"/><circle cx="203.73" cy="116.06" r="0.85"/><circle cx="217.37" cy="128.65" r="0.85"/><circle cx="214.27" cy="125.29" r="0.85"/><circle cx="213.09" cy="127.07" r="0.85"/><circle cx="210.01" cy="118.73" r="0.85"/><circle cx="214.58" cy="130.01" r="0.85"/><circle cx="218.84" cy="115.94" r="0.85"/><circle cx="204.65" cy="118.70" r="0.85"/><circle cx="206.70" cy="118.96" r="0.85"/><circle cx="208.31" cy="130.09" r="0.85"/><circle cx="210.31" cy="125.54" r="0.85"/><circle cx="223.87" cy="125.78" r="0.85"/><circle cx="213.33" cy="121.46" r="0.85"/><circle cx="225.13" cy="129.12" r="0.85"/><circle cx="215.93" cy="122.16" r="0.85"/><circle cx="208.22" cy="118.91" r="0.85"/><circle cx="213.93" cy="121.27" r="0.85"/><circle cx="208.43" cy="113.92" r="0.85"/><circle cx="220.14" cy="123.18" r="0.85"/><circle cx="216.47" cy="130.46" r="0.85"/><circle cx="217.08" cy="123.28" r="0.85"/><circle cx="213.71" cy="124.18" r="0.85"/><circle cx="210.64" cy="126.97" r="0.85"/><circle cx="206.55" cy="118.83" r="0.85"/><circle cx="212.08" cy="126.78" r="0.85"/><circle cx="210.21" cy="122.52" r="0.85"/><circle cx="216.74" cy="114.43" r="0.85"/><circle cx="213.03" cy="118.61" r="0.85"/><circle cx="216.61" cy="117.91" r="0.85"/><circle cx="217.70" cy="116.20" r="0.85"/><circle cx="218.52" cy="119.19" r="0.85"/><circle cx="206.50" cy="115.22" r="0.85"/><circle cx="210.23" cy="120.35" r="0.85"/><circle cx="226.21" cy="130.69" r="0.85"/><circle cx="208.28" cy="125.50" r="0.85"/><circle cx="210.37" cy="128.33" r="0.85"/><circle cx="214.66" cy="129.45" r="0.85"/><circle cx="208.02" cy="114.76" r="0.85"/><circle cx="219.67" cy="122.94" r="0.85"/><circle cx="202.87" cy="114.55" r="0.85"/><circle cx="218.65" cy="127.30" r="0.85"/><circle cx="208.89" cy="119.89" r="0.85"/><circle cx="218.06" cy="126.37" r="0.85"/><circle cx="225.21" cy="125.32" r="0.85"/><circle cx="206.74" cy="116.43" r="0.85"/><circle cx="204.07" cy="119.22" r="0.85"/><circle cx="205.30" cy="120.63" r="0.85"/><circle cx="207.35" cy="124.36" r="0.85"/><circle cx="211.58" cy="120.31" r="0.85"/><circle cx="207.44" cy="127.84" r="0.85"/><circle cx="210.19" cy="126.17" r="0.85"/><circle cx="204.99" cy="114.47" r="0.85"/><circle cx="218.56" cy="126.72" r="0.85"/><circle cx="212.03" cy="115.59" r="0.85"/><circle cx="209.81" cy="128.51" r="0.85"/><circle cx="214.03" cy="129.96" r="0.85"/><circle cx="214.63" cy="126.97" r="0.85"/><circle cx="219.79" cy="117.89" r="0.85"/><circle cx="221.60" cy="120.49" r="0.85"/><circle cx="216.44" cy="122.79" r="0.85"/><circle cx="221.20" cy="125.05" r="0.85"/><circle cx="207.15" cy="124.80" r="0.85"/><circle cx="207.90" cy="120.14" r="0.85"/><circle cx="223.59" cy="129.59" r="0.85"/><circle cx="217.97" cy="127.57" r="0.85"/><circle cx="207.15" cy="129.80" r="0.85"/><circle cx="218.04" cy="119.70" r="0.85"/><circle cx="210.82" cy="119.06" r="0.85"/><circle cx="219.29" cy="121.88" r="0.85"/><circle cx="209.34" cy="121.75" r="0.85"/><circle cx="216.65" cy="127.84" r="0.85"/><circle cx="218.81" cy="122.41" r="0.85"/><circle cx="204.29" cy="116.33" r="0.85"/><circle cx="218.01" cy="127.11" r="0.85"/><circle cx="214.13" cy="115.36" r="0.85"/><circle cx="221.04" cy="130.61" r="0.85"/><circle cx="209.33" cy="120.37" r="0.85"/><circle cx="216.09" cy="117.95" r="0.85"/><circle cx="217.14" cy="128.05" r="0.85"/><circle cx="223.36" cy="127.28" r="0.85"/><circle cx="220.55" cy="118.22" r="0.85"/><circle cx="223.39" cy="124.64" r="0.85"/><circle cx="204.72" cy="121.62" r="0.85"/><circle cx="221.60" cy="124.64" r="0.85"/><circle cx="211.21" cy="120.93" r="0.85"/><circle cx="211.24" cy="119.91" r="0.85"/><circle cx="220.43" cy="118.03" r="0.85"/><circle cx="217.25" cy="126.50" r="0.85"/><circle cx="211.40" cy="124.37" r="0.85"/><circle cx="212.97" cy="126.29" r="0.85"/><circle cx="214.25" cy="123.00" r="0.85"/><circle cx="215.54" cy="117.15" r="0.85"/><circle cx="219.52" cy="118.38" r="0.85"/><circle cx="210.43" cy="130.74" r="0.85"/><circle cx="217.61" cy="120.91" r="0.85"/><circle cx="215.28" cy="113.84" r="0.85"/><circle cx="219.45" cy="116.99" r="0.85"/><circle cx="212.80" cy="129.87" r="0.85"/><circle cx="209.82" cy="116.75" r="0.85"/><circle cx="213.25" cy="122.95" r="0.85"/><circle cx="210.32" cy="120.12" r="0.85"/><circle cx="215.86" cy="119.02" r="0.85"/><circle cx="209.94" cy="126.54" r="0.85"/><circle cx="224.60" cy="127.42" r="0.85"/><circle cx="216.79" cy="128.32" r="0.85"/><circle cx="222.03" cy="126.30" r="0.85"/><circle cx="218.08" cy="125.77" r="0.85"/><circle cx="213.19" cy="118.68" r="0.85"/><circle cx="205.77" cy="119.13" r="0.85"/><circle cx="208.88" cy="119.76" r="0.85"/><circle cx="209.76" cy="127.51" r="0.85"/><circle cx="218.45" cy="123.77" r="0.85"/><circle cx="203.27" cy="115.83" r="0.85"/><circle cx="217.35" cy="130.44" r="0.85"/><circle cx="219.21" cy="120.69" r="0.85"/><circle cx="211.76" cy="122.29" r="0.85"/><circle cx="216.86" cy="119.99" r="0.85"/><circle cx="209.69" cy="124.91" r="0.85"/><circle cx="220.01" cy="119.99" r="0.85"/><circle cx="212.11" cy="122.07" r="0.85"/><circle cx="205.92" cy="117.38" r="0.85"/><circle cx="212.06" cy="127.04" r="0.85"/><circle cx="215.55" cy="120.89" r="0.85"/><circle cx="204.37" cy="117.22" r="0.85"/><circle cx="208.66" cy="125.22" r="0.85"/><circle cx="216.54" cy="116.40" r="0.85"/><circle cx="214.16" cy="128.83" r="0.85"/><circle cx="210.74" cy="117.87" r="0.85"/><circle cx="205.38" cy="118.91" r="0.85"/><circle cx="214.28" cy="129.36" r="0.85"/><circle cx="206.43" cy="120.61" r="0.85"/><circle cx="215.28" cy="116.89" r="0.85"/><circle cx="213.79" cy="119.52" r="0.85"/><circle cx="208.43" cy="115.27" r="0.85"/><circle cx="209.47" cy="117.46" r="0.85"/><circle cx="215.36" cy="127.70" r="0.85"/><circle cx="224.55" cy="129.44" r="0.85"/><circle cx="219.07" cy="121.78" r="0.85"/><circle cx="217.59" cy="119.65" r="0.85"/><circle cx="210.32" cy="117.18" r="0.85"/><circle cx="211.73" cy="126.86" r="0.85"/><circle cx="209.92" cy="116.09" r="0.85"/><circle cx="211.27" cy="119.06" r="0.85"/><circle cx="216.63" cy="122.75" r="0.85"/><circle cx="214.74" cy="124.61" r="0.85"/><circle cx="205.26" cy="122.39" r="0.85"/><circle cx="208.07" cy="125.19" r="0.85"/><circle cx="204.94" cy="115.27" r="0.85"/><circle cx="211.28" cy="127.40" r="0.85"/><circle cx="223.01" cy="125.07" r="0.85"/><circle cx="217.68" cy="126.88" r="0.85"/><circle cx="217.24" cy="123.15" r="0.85"/><circle cx="219.51" cy="121.82" r="0.85"/><circle cx="209.95" cy="126.04" r="0.85"/><circle cx="215.75" cy="116.66" r="0.85"/><circle cx="218.33" cy="122.64" r="0.85"/><circle cx="208.71" cy="115.65" r="0.85"/><circle cx="222.42" cy="128.32" r="0.85"/><circle cx="218.00" cy="117.67" r="0.85"/><circle cx="217.91" cy="114.41" r="0.85"/><circle cx="223.29" cy="126.62" r="0.85"/><circle cx="210.07" cy="114.20" r="0.85"/><circle cx="216.59" cy="126.16" r="0.85"/><circle cx="207.08" cy="117.30" r="0.85"/><circle cx="216.23" cy="118.15" r="0.85"/><circle cx="218.59" cy="122.06" r="0.85"/><circle cx="211.41" cy="119.51" r="0.85"/><circle cx="207.81" cy="128.60" r="0.85"/><circle cx="210.24" cy="128.47" r="0.85"/><circle cx="212.04" cy="117.82" r="0.85"/><circle cx="207.84" cy="123.22" r="0.85"/><circle cx="218.87" cy="123.77" r="0.85"/><circle cx="210.38" cy="118.41" r="0.85"/><circle cx="218.60" cy="116.61" r="0.85"/><circle cx="225.95" cy="126.43" r="0.85"/><circle cx="216.57" cy="125.49" r="0.85"/><circle cx="218.60" cy="116.41" r="0.85"/><circle cx="224.81" cy="124.81" r="0.85"/><circle cx="216.75" cy="116.89" r="0.85"/><circle cx="207.39" cy="117.48" r="0.85"/><circle cx="221.28" cy="127.85" r="0.85"/><circle cx="215.19" cy="121.38" r="0.85"/><circle cx="216.47" cy="127.93" r="0.85"/><circle cx="220.16" cy="129.14" r="0.85"/><circle cx="224.61" cy="125.56" r="0.85"/><circle cx="206.70" cy="127.12" r="0.85"/><circle cx="210.50" cy="117.34" r="0.85"/><circle cx="219.33" cy="126.65" r="0.85"/><circle cx="208.51" cy="125.63" r="0.85"/><circle cx="211.48" cy="115.93" r="0.85"/><circle cx="226.39" cy="129.38" r="0.85"/><circle cx="212.21" cy="119.02" r="0.85"/><circle cx="220.79" cy="127.62" r="0.85"/><circle cx="216.32" cy="114.11" r="0.85"/><circle cx="212.89" cy="115.34" r="0.85"/><circle cx="204.42" cy="121.47" r="0.85"/><circle cx="203.20" cy="117.13" r="0.85"/><circle cx="219.15" cy="130.27" r="0.85"/><circle cx="208.20" cy="128.39" r="0.85"/><circle cx="216.84" cy="120.09" r="0.85"/><circle cx="215.22" cy="124.62" r="0.85"/><circle cx="216.06" cy="124.03" r="0.85"/><circle cx="211.68" cy="118.05" r="0.85"/><circle cx="220.24" cy="126.98" r="0.85"/><circle cx="208.31" cy="126.35" r="0.85"/><circle cx="209.34" cy="121.67" r="0.85"/><circle cx="209.05" cy="125.85" r="0.85"/><circle cx="212.54" cy="117.69" r="0.85"/><circle cx="218.18" cy="125.44" r="0.85"/><circle cx="216.32" cy="118.13" r="0.85"/><circle cx="214.16" cy="118.01" r="0.85"/><circle cx="216.77" cy="115.03" r="0.85"/><circle cx="207.00" cy="119.38" r="0.85"/><circle cx="223.99" cy="129.19" r="0.85"/><circle cx="219.17" cy="126.29" r="0.85"/><circle cx="219.88" cy="123.60" r="0.85"/><circle cx="214.18" cy="126.58" r="0.85"/><circle cx="206.81" cy="116.09" r="0.85"/><circle cx="217.05" cy="120.11" r="0.85"/><circle cx="225.66" cy="127.34" r="0.85"/><circle cx="214.25" cy="118.96" r="0.85"/><circle cx="213.53" cy="121.38" r="0.85"/><circle cx="206.28" cy="123.49" r="0.85"/><circle cx="211.12" cy="119.18" r="0.85"/><circle cx="217.89" cy="126.36" r="0.85"/><circle cx="218.35" cy="123.47" r="0.85"/><circle cx="209.99" cy="127.45" r="0.85"/><circle cx="217.77" cy="113.93" r="0.85"/><circle cx="222.72" cy="122.44" r="0.85"/><circle cx="215.55" cy="115.61" r="0.85"/><circle cx="209.91" cy="125.00" r="0.85"/><circle cx="211.34" cy="129.83" r="0.85"/><circle cx="218.00" cy="114.53" r="0.85"/><circle cx="208.87" cy="117.26" r="0.85"/><circle cx="206.00" cy="117.69" r="0.85"/><circle cx="204.58" cy="120.68" r="0.85"/><circle cx="219.11" cy="119.34" r="0.85"/><circle cx="202.24" cy="114.54" r="0.85"/><circle cx="222.47" cy="122.62" r="0.85"/><circle cx="221.75" cy="122.92" r="0.85"/><circle cx="204.93" cy="120.84" r="0.85"/><circle cx="217.06" cy="123.19" r="0.85"/><circle cx="210.70" cy="114.43" r="0.85"/><circle cx="209.09" cy="119.38" r="0.85"/><circle cx="205.42" cy="122.06" r="0.85"/><circle cx="208.92" cy="128.84" r="0.85"/><circle cx="210.10" cy="119.70" r="0.85"/><circle cx="214.55" cy="117.27" r="0.85"/><circle cx="212.65" cy="129.37" r="0.85"/><circle cx="219.28" cy="123.97" r="0.85"/><circle cx="213.89" cy="126.54" r="0.85"/><circle cx="209.48" cy="122.32" r="0.85"/><circle cx="208.46" cy="129.08" r="0.85"/><circle cx="210.56" cy="119.65" r="0.85"/><circle cx="210.90" cy="119.85" r="0.85"/><circle cx="218.76" cy="126.29" r="0.85"/><circle cx="212.52" cy="126.18" r="0.85"/><circle cx="221.07" cy="123.55" r="0.85"/><circle cx="220.61" cy="124.34" r="0.85"/><circle cx="209.07" cy="114.72" r="0.85"/><circle cx="223.97" cy="127.58" r="0.85"/><circle cx="209.60" cy="117.40" r="0.85"/><circle cx="220.05" cy="125.99" r="0.85"/><circle cx="211.83" cy="114.45" r="0.85"/><circle cx="217.60" cy="115.37" r="0.85"/><circle cx="208.73" cy="126.93" r="0.85"/><circle cx="206.88" cy="117.50" r="0.85"/><circle cx="224.64" cy="127.38" r="0.85"/><circle cx="216.66" cy="121.79" r="0.85"/><circle cx="213.01" cy="115.44" r="0.85"/><circle cx="219.94" cy="128.33" r="0.85"/><circle cx="221.30" cy="124.01" r="0.85"/><circle cx="213.07" cy="123.73" r="0.85"/><circle cx="206.02" cy="126.10" r="0.85"/><circle cx="219.35" cy="129.93" r="0.85"/><circle cx="215.87" cy="120.64" r="0.85"/><circle cx="219.49" cy="121.15" r="0.85"/><circle cx="224.57" cy="126.02" r="0.85"/><circle cx="207.14" cy="114.00" r="0.85"/><circle cx="222.09" cy="126.65" r="0.85"/><circle cx="212.85" cy="124.29" r="0.85"/><circle cx="209.15" cy="124.45" r="0.85"/><circle cx="212.66" cy="119.68" r="0.85"/><circle cx="203.39" cy="114.33" r="0.85"/><circle cx="214.62" cy="120.78" r="0.85"/><circle cx="208.35" cy="118.80" r="0.85"/><circle cx="218.82" cy="115.33" r="0.85"/><circle cx="215.39" cy="126.21" r="0.85"/><circle cx="216.66" cy="129.94" r="0.85"/><circle cx="219.72" cy="125.59" r="0.85"/><circle cx="219.06" cy="128.56" r="0.85"/><circle cx="215.83" cy="127.93" r="0.85"/><circle cx="222.48" cy="124.19" r="0.85"/><circle cx="213.85" cy="117.36" r="0.85"/><circle cx="225.93" cy="126.39" r="0.85"/><circle cx="218.39" cy="117.51" r="0.85"/><circle cx="221.04" cy="124.90" r="0.85"/><circle cx="212.57" cy="117.47" r="0.85"/><circle cx="206.65" cy="122.54" r="0.85"/><circle cx="216.79" cy="116.33" r="0.85"/><circle cx="206.46" cy="119.49" r="0.85"/><circle cx="212.64" cy="119.79" r="0.85"/><circle cx="216.96" cy="114.68" r="0.85"/><circle cx="204.35" cy="121.78" r="0.85"/><circle cx="212.72" cy="126.40" r="0.85"/><circle cx="224.32" cy="128.35" r="0.85"/><circle cx="217.06" cy="119.62" r="0.85"/><circle cx="205.93" cy="115.13" r="0.85"/><circle cx="216.82" cy="127.37" r="0.85"/><circle cx="208.32" cy="116.10" r="0.85"/><circle cx="211.10" cy="114.56" r="0.85"/><circle cx="207.92" cy="124.24" r="0.85"/><circle cx="205.49" cy="116.87" r="0.85"/><circle cx="204.86" cy="116.39" r="0.85"/><circle cx="209.03" cy="121.45" r="0.85"/><circle cx="223.23" cy="126.27" r="0.85"/><circle cx="214.01" cy="119.99" r="0.85"/><circle cx="215.31" cy="123.87" r="0.85"/><circle cx="217.12" cy="125.45" r="0.85"/><circle cx="216.05" cy="121.04" r="0.85"/><circle cx="221.19" cy="128.13" r="0.85"/><circle cx="217.83" cy="123.09" r="0.85"/><circle cx="213.91" cy="116.67" r="0.85"/><circle cx="213.75" cy="123.39" r="0.85"/><circle cx="217.11" cy="128.29" r="0.85"/><circle cx="223.13" cy="122.00" r="0.85"/><circle cx="211.30" cy="126.29" r="0.85"/><circle cx="224.81" cy="125.97" r="0.85"/><circle cx="212.47" cy="119.35" r="0.85"/><circle cx="219.28" cy="124.95" r="0.85"/><circle cx="204.65" cy="118.71" r="0.85"/><circle cx="211.57" cy="118.98" r="0.85"/><circle cx="212.83" cy="116.99" r="0.85"/><circle cx="213.57" cy="114.22" r="0.85"/><circle cx="212.99" cy="120.44" r="0.85"/><circle cx="209.98" cy="129.50" r="0.85"/><circle cx="214.60" cy="113.89" r="0.85"/><circle cx="212.54" cy="114.13" r="0.85"/><circle cx="215.13" cy="116.89" r="0.85"/><circle cx="213.80" cy="117.37" r="0.85"/><circle cx="209.90" cy="119.29" r="0.85"/><circle cx="221.11" cy="120.60" r="0.85"/><circle cx="203.04" cy="117.82" r="0.85"/><circle cx="204.46" cy="118.57" r="0.85"/><circle cx="218.42" cy="115.08" r="0.85"/><circle cx="210.53" cy="120.23" r="0.85"/><circle cx="213.00" cy="120.39" r="0.85"/><circle cx="203.54" cy="119.14" r="0.85"/><circle cx="223.88" cy="127.44" r="0.85"/><circle cx="217.09" cy="124.94" r="0.85"/><circle cx="220.69" cy="125.52" r="0.85"/><circle cx="216.52" cy="120.15" r="0.85"/><circle cx="209.47" cy="124.06" r="0.85"/><circle cx="219.00" cy="126.39" r="0.85"/><circle cx="214.81" cy="123.11" r="0.85"/><circle cx="208.09" cy="119.88" r="0.85"/><circle cx="211.50" cy="114.15" r="0.85"/><circle cx="203.43" cy="115.52" r="0.85"/><circle cx="216.88" cy="123.00" r="0.85"/><circle cx="221.29" cy="124.85" r="0.85"/><circle cx="218.88" cy="121.76" r="0.85"/><circle cx="202.39" cy="116.19" r="0.85"/><circle cx="208.26" cy="122.63" r="0.85"/><circle cx="222.63" cy="124.55" r="0.85"/><circle cx="222.45" cy="128.20" r="0.85"/><circle cx="214.62" cy="123.45" r="0.85"/><circle cx="217.46" cy="117.02" r="0.85"/><circle cx="209.21" cy="123.25" r="0.85"/><circle cx="205.29" cy="118.37" r="0.85"/><circle cx="203.43" cy="115.25" r="0.85"/><circle cx="215.91" cy="123.21" r="0.85"/><circle cx="214.94" cy="128.35" r="0.85"/><circle cx="211.52" cy="125.95" r="0.85"/><circle cx="209.89" cy="126.10" r="0.85"/><circle cx="222.63" cy="129.58" r="0.85"/><circle cx="209.67" cy="120.64" r="0.85"/><circle cx="212.71" cy="125.29" r="0.85"/><circle cx="212.83" cy="129.74" r="0.85"/><circle cx="208.14" cy="123.40" r="0.85"/><circle cx="220.32" cy="123.49" r="0.85"/><circle cx="211.00" cy="119.68" r="0.85"/><circle cx="207.33" cy="121.45" r="0.85"/><circle cx="205.16" cy="120.31" r="0.85"/><circle cx="214.29" cy="119.68" r="0.85"/><circle cx="226.20" cy="126.83" r="0.85"/><circle cx="209.71" cy="123.07" r="0.85"/><circle cx="221.33" cy="125.68" r="0.85"/><circle cx="217.81" cy="118.86" r="0.85"/><circle cx="214.03" cy="120.39" r="0.85"/><circle cx="224.57" cy="128.68" r="0.85"/><circle cx="205.70" cy="117.42" r="0.85"/><circle cx="216.09" cy="123.35" r="0.85"/><circle cx="209.44" cy="120.27" r="0.85"/><circle cx="221.97" cy="126.60" r="0.85"/><circle cx="213.83" cy="122.84" r="0.85"/><circle cx="203.70" cy="114.42" r="0.85"/><circle cx="209.85" cy="118.44" r="0.85"/><circle cx="214.96" cy="116.21" r="0.85"/><circle cx="212.97" cy="130.30" r="0.85"/><circle cx="214.78" cy="116.33" r="0.85"/><circle cx="210.89" cy="116.75" r="0.85"/><circle cx="211.83" cy="124.70" r="0.85"/><circle cx="209.52" cy="126.92" r="0.85"/><circle cx="213.27" cy="114.49" r="0.85"/><circle cx="215.66" cy="117.75" r="0.85"/><circle cx="215.38" cy="124.28" r="0.85"/><circle cx="225.99" cy="125.88" r="0.85"/><circle cx="207.15" cy="125.17" r="0.85"/><circle cx="214.36" cy="114.14" r="0.85"/><circle cx="223.75" cy="126.09" r="0.85"/><circle cx="217.68" cy="118.53" r="0.85"/><circle cx="218.41" cy="122.86" r="0.85"/><circle cx="212.38" cy="125.96" r="0.85"/><circle cx="226.04" cy="130.24" r="0.85"/><circle cx="218.98" cy="123.05" r="0.85"/><circle cx="215.57" cy="125.62" r="0.85"/><circle cx="210.72" cy="123.47" r="0.85"/><circle cx="224.33" cy="128.14" r="0.85"/><circle cx="215.03" cy="121.74" r="0.85"/><circle cx="215.66" cy="129.26" r="0.85"/><circle cx="206.60" cy="124.79" r="0.85"/><circle cx="218.89" cy="123.64" r="0.85"/><circle cx="212.42" cy="95.76" r="0.85"/><circle cx="203.66" cy="105.12" r="0.85"/><circle cx="203.29" cy="107.25" r="0.85"/><circle cx="216.16" cy="107.10" r="0.85"/><circle cx="214.97" cy="108.87" r="0.85"/><circle cx="216.33" cy="111.99" r="0.85"/><circle cx="218.74" cy="114.61" r="0.85"/><circle cx="219.14" cy="114.14" r="0.85"/><circle cx="220.03" cy="111.86" r="0.85"/><circle cx="203.40" cy="99.15" r="0.85"/><circle cx="217.13" cy="111.53" r="0.85"/><circle cx="222.50" cy="119.25" r="0.85"/><circle cx="219.91" cy="115.01" r="0.85"/><circle cx="222.66" cy="118.69" r="0.85"/><circle cx="212.84" cy="98.64" r="0.85"/><circle cx="205.38" cy="112.60" r="0.85"/><circle cx="211.07" cy="102.54" r="0.85"/><circle cx="214.13" cy="104.54" r="0.85"/><circle cx="215.67" cy="109.84" r="0.85"/><circle cx="212.95" cy="112.37" r="0.85"/><circle cx="219.47" cy="108.48" r="0.85"/><circle cx="211.43" cy="106.14" r="0.85"/><circle cx="204.68" cy="110.39" r="0.85"/><circle cx="208.34" cy="107.31" r="0.85"/><circle cx="219.31" cy="107.79" r="0.85"/><circle cx="204.88" cy="113.57" r="0.85"/><circle cx="214.77" cy="107.85" r="0.85"/><circle cx="211.25" cy="112.68" r="0.85"/><circle cx="208.12" cy="108.17" r="0.85"/><circle cx="204.27" cy="106.60" r="0.85"/><circle cx="217.24" cy="113.36" r="0.85"/><circle cx="209.29" cy="107.69" r="0.85"/><circle cx="215.67" cy="113.80" r="0.85"/><circle cx="214.61" cy="112.58" r="0.85"/><circle cx="205.86" cy="106.67" r="0.85"/><circle cx="220.00" cy="115.87" r="0.85"/><circle cx="207.34" cy="111.29" r="0.85"/><circle cx="210.51" cy="103.98" r="0.85"/><circle cx="220.04" cy="116.68" r="0.85"/><circle cx="214.64" cy="109.71" r="0.85"/><circle cx="203.27" cy="106.17" r="0.85"/><circle cx="221.92" cy="118.93" r="0.85"/><circle cx="222.56" cy="116.87" r="0.85"/><circle cx="203.87" cy="107.52" r="0.85"/><circle cx="216.32" cy="104.57" r="0.85"/><circle cx="210.59" cy="108.85" r="0.85"/><circle cx="215.32" cy="106.41" r="0.85"/><circle cx="206.04" cy="107.97" r="0.85"/><circle cx="213.49" cy="106.39" r="0.85"/><circle cx="208.35" cy="99.16" r="0.85"/><circle cx="209.46" cy="106.57" r="0.85"/><circle cx="211.49" cy="113.65" r="0.85"/><circle cx="217.57" cy="108.87" r="0.85"/><circle cx="208.75" cy="108.21" r="0.85"/><circle cx="212.35" cy="104.61" r="0.85"/><circle cx="207.46" cy="113.45" r="0.85"/><circle cx="216.80" cy="97.13" r="0.85"/><circle cx="213.78" cy="103.51" r="0.85"/><circle cx="209.55" cy="109.05" r="0.85"/><circle cx="208.10" cy="113.52" r="0.85"/><circle cx="190.70" cy="72.10" r="0.85"/><circle cx="194.40" cy="96.50" r="0.85"/><circle cx="196.30" cy="60.00" r="0.85"/><circle cx="196.30" cy="65.00" r="0.85"/><circle cx="197.50" cy="76.90" r="0.85"/><circle cx="204.00" cy="92.00" r="0.85"/><circle cx="204.20" cy="96.50" r="0.85"/><circle cx="203.30" cy="100.00" r="0.85"/><circle cx="209.30" cy="84.00" r="0.85"/><circle cx="213.50" cy="83.90" r="0.85"/><circle cx="216.80" cy="92.60" r="0.85"/><circle cx="209.00" cy="97.00" r="0.85"/><circle cx="204.00" cy="108.00" r="0.85"/><circle cx="211.00" cy="94.00" r="0.85"/><circle cx="214.00" cy="96.00" r="0.85"/><circle cx="218.00" cy="99.00" r="0.85"/></g>
<g fill="#3ab54a"><circle cx="235.94" cy="125.31" r="0.85"/><circle cx="247.04" cy="118.58" r="0.85"/><circle cx="248.25" cy="129.06" r="0.85"/><circle cx="249.74" cy="119.06" r="0.85"/><circle cx="252.57" cy="121.18" r="0.85"/><circle cx="238.61" cy="125.67" r="0.85"/><circle cx="238.43" cy="125.25" r="0.85"/><circle cx="241.64" cy="123.42" r="0.85"/><circle cx="253.35" cy="125.61" r="0.85"/><circle cx="248.18" cy="119.41" r="0.85"/><circle cx="238.65" cy="130.49" r="0.85"/><circle cx="248.84" cy="121.25" r="0.85"/><circle cx="250.38" cy="122.51" r="0.85"/><circle cx="245.90" cy="124.64" r="0.85"/><circle cx="235.81" cy="126.38" r="0.85"/><circle cx="248.60" cy="123.58" r="0.85"/><circle cx="243.76" cy="121.33" r="0.85"/><circle cx="253.51" cy="128.84" r="0.85"/><circle cx="243.42" cy="121.12" r="0.85"/><circle cx="246.52" cy="124.91" r="0.85"/><circle cx="251.24" cy="124.11" r="0.85"/><circle cx="248.68" cy="126.43" r="0.85"/><circle cx="244.83" cy="119.77" r="0.85"/><circle cx="252.94" cy="122.92" r="0.85"/><circle cx="243.54" cy="122.00" r="0.85"/><circle cx="249.29" cy="125.29" r="0.85"/><circle cx="246.46" cy="126.94" r="0.85"/><circle cx="233.36" cy="129.41" r="0.85"/><circle cx="247.62" cy="125.12" r="0.85"/><circle cx="252.00" cy="118.79" r="0.85"/><circle cx="247.72" cy="125.11" r="0.85"/><circle cx="251.12" cy="123.39" r="0.85"/><circle cx="247.26" cy="129.71" r="0.85"/><circle cx="249.73" cy="124.37" r="0.85"/><circle cx="243.97" cy="128.59" r="0.85"/><circle cx="245.71" cy="124.78" r="0.85"/><circle cx="239.99" cy="127.54" r="0.85"/><circle cx="244.02" cy="122.01" r="0.85"/><circle cx="244.58" cy="120.57" r="0.85"/><circle cx="247.88" cy="130.36" r="0.85"/><circle cx="254.20" cy="123.61" r="0.85"/><circle cx="249.37" cy="125.37" r="0.85"/><circle cx="245.60" cy="129.95" r="0.85"/><circle cx="248.84" cy="121.07" r="0.85"/><circle cx="250.45" cy="123.87" r="0.85"/><circle cx="253.12" cy="124.70" r="0.85"/><circle cx="231.62" cy="129.25" r="0.85"/><circle cx="239.11" cy="127.36" r="0.85"/><circle cx="236.92" cy="129.22" r="0.85"/><circle cx="253.33" cy="125.55" r="0.85"/><circle cx="243.23" cy="123.14" r="0.85"/><circle cx="245.63" cy="120.30" r="0.85"/><circle cx="241.65" cy="130.23" r="0.85"/><circle cx="238.93" cy="130.34" r="0.85"/><circle cx="244.95" cy="120.82" r="0.85"/><circle cx="239.32" cy="124.09" r="0.85"/><circle cx="239.33" cy="126.75" r="0.85"/><circle cx="251.62" cy="130.25" r="0.85"/><circle cx="247.16" cy="127.68" r="0.85"/><circle cx="253.64" cy="119.98" r="0.85"/><circle cx="241.78" cy="123.06" r="0.85"/><circle cx="232.06" cy="130.31" r="0.85"/><circle cx="243.67" cy="121.46" r="0.85"/><circle cx="253.40" cy="129.26" r="0.85"/><circle cx="250.97" cy="121.89" r="0.85"/><circle cx="241.71" cy="124.38" r="0.85"/><circle cx="249.31" cy="123.88" r="0.85"/><circle cx="242.29" cy="128.04" r="0.85"/><circle cx="246.40" cy="122.12" r="0.85"/><circle cx="251.51" cy="123.25" r="0.85"/><circle cx="247.05" cy="119.21" r="0.85"/><circle cx="247.77" cy="123.11" r="0.85"/><circle cx="244.86" cy="122.33" r="0.85"/><circle cx="237.78" cy="130.16" r="0.85"/><circle cx="242.13" cy="126.38" r="0.85"/><circle cx="242.56" cy="127.55" r="0.85"/><circle cx="234.79" cy="129.28" r="0.85"/><circle cx="247.74" cy="124.39" r="0.85"/><circle cx="250.31" cy="130.20" r="0.85"/><circle cx="243.15" cy="122.14" r="0.85"/><circle cx="236.11" cy="128.98" r="0.85"/><circle cx="235.16" cy="129.85" r="0.85"/><circle cx="235.59" cy="126.53" r="0.85"/><circle cx="239.38" cy="127.41" r="0.85"/><circle cx="251.94" cy="118.82" r="0.85"/><circle cx="252.80" cy="130.33" r="0.85"/><circle cx="240.95" cy="130.13" r="0.85"/><circle cx="238.94" cy="128.78" r="0.85"/><circle cx="242.26" cy="127.64" r="0.85"/><circle cx="248.75" cy="125.16" r="0.85"/><circle cx="249.00" cy="127.03" r="0.85"/><circle cx="254.25" cy="122.77" r="0.85"/><circle cx="245.84" cy="125.83" r="0.85"/><circle cx="241.72" cy="126.06" r="0.85"/><circle cx="243.15" cy="126.50" r="0.85"/><circle cx="239.06" cy="130.10" r="0.85"/><circle cx="237.27" cy="125.41" r="0.85"/><circle cx="252.50" cy="124.27" r="0.85"/><circle cx="247.42" cy="119.64" r="0.85"/><circle cx="240.60" cy="127.68" r="0.85"/><circle cx="244.98" cy="119.55" r="0.85"/><circle cx="254.57" cy="118.30" r="0.85"/><circle cx="245.41" cy="128.94" r="0.85"/><circle cx="245.05" cy="123.72" r="0.85"/><circle cx="233.88" cy="130.24" r="0.85"/><circle cx="239.62" cy="125.29" r="0.85"/><circle cx="253.15" cy="126.00" r="0.85"/><circle cx="251.55" cy="125.17" r="0.85"/><circle cx="240.06" cy="122.41" r="0.85"/><circle cx="249.05" cy="129.65" r="0.85"/><circle cx="246.70" cy="123.38" r="0.85"/><circle cx="238.91" cy="127.81" r="0.85"/><circle cx="241.20" cy="125.38" r="0.85"/><circle cx="250.77" cy="127.61" r="0.85"/><circle cx="242.37" cy="125.76" r="0.85"/><circle cx="234.96" cy="125.58" r="0.85"/><circle cx="254.95" cy="123.03" r="0.85"/><circle cx="242.44" cy="126.94" r="0.85"/><circle cx="247.89" cy="118.86" r="0.85"/><circle cx="232.93" cy="127.84" r="0.85"/><circle cx="242.81" cy="125.67" r="0.85"/><circle cx="244.66" cy="122.13" r="0.85"/><circle cx="252.48" cy="128.77" r="0.85"/><circle cx="245.77" cy="120.56" r="0.85"/><circle cx="250.43" cy="118.09" r="0.85"/><circle cx="238.99" cy="124.16" r="0.85"/><circle cx="251.27" cy="128.27" r="0.85"/><circle cx="240.85" cy="124.44" r="0.85"/><circle cx="241.47" cy="123.77" r="0.85"/><circle cx="249.56" cy="128.97" r="0.85"/><circle cx="242.32" cy="124.53" r="0.85"/><circle cx="254.07" cy="118.54" r="0.85"/><circle cx="238.41" cy="126.04" r="0.85"/><circle cx="247.90" cy="130.27" r="0.85"/><circle cx="247.39" cy="121.59" r="0.85"/><circle cx="236.76" cy="124.88" r="0.85"/><circle cx="251.58" cy="126.62" r="0.85"/><circle cx="244.11" cy="122.68" r="0.85"/><circle cx="251.66" cy="119.24" r="0.85"/><circle cx="250.06" cy="125.78" r="0.85"/><circle cx="248.80" cy="117.99" r="0.85"/><circle cx="242.38" cy="125.11" r="0.85"/><circle cx="246.60" cy="119.18" r="0.85"/><circle cx="252.75" cy="119.34" r="0.85"/><circle cx="253.41" cy="118.42" r="0.85"/><circle cx="243.50" cy="120.81" r="0.85"/><circle cx="252.97" cy="122.25" r="0.85"/><circle cx="247.53" cy="130.21" r="0.85"/><circle cx="247.59" cy="130.25" r="0.85"/><circle cx="249.84" cy="121.94" r="0.85"/><circle cx="233.69" cy="128.54" r="0.85"/><circle cx="247.64" cy="120.95" r="0.85"/><circle cx="246.01" cy="124.39" r="0.85"/><circle cx="236.12" cy="128.69" r="0.85"/><circle cx="253.48" cy="126.44" r="0.85"/><circle cx="241.29" cy="123.35" r="0.85"/><circle cx="236.15" cy="129.04" r="0.85"/><circle cx="253.35" cy="128.05" r="0.85"/><circle cx="238.41" cy="126.72" r="0.85"/><circle cx="249.97" cy="118.35" r="0.85"/><circle cx="246.47" cy="121.66" r="0.85"/><circle cx="245.61" cy="130.08" r="0.85"/><circle cx="252.21" cy="117.72" r="0.85"/><circle cx="237.19" cy="128.36" r="0.85"/><circle cx="247.45" cy="125.98" r="0.85"/><circle cx="246.11" cy="126.95" r="0.85"/><circle cx="244.56" cy="127.11" r="0.85"/><circle cx="236.33" cy="129.39" r="0.85"/><circle cx="239.27" cy="130.45" r="0.85"/><circle cx="246.23" cy="127.51" r="0.85"/><circle cx="250.05" cy="118.00" r="0.85"/><circle cx="232.78" cy="127.93" r="0.85"/><circle cx="247.37" cy="119.65" r="0.85"/><circle cx="237.75" cy="123.76" r="0.85"/><circle cx="239.37" cy="125.14" r="0.85"/><circle cx="251.14" cy="122.43" r="0.85"/><circle cx="253.02" cy="121.12" r="0.85"/><circle cx="254.30" cy="123.84" r="0.85"/><circle cx="244.53" cy="120.32" r="0.85"/><circle cx="244.56" cy="126.55" r="0.85"/><circle cx="240.32" cy="128.65" r="0.85"/><circle cx="241.32" cy="123.38" r="0.85"/><circle cx="234.60" cy="129.78" r="0.85"/><circle cx="246.36" cy="121.57" r="0.85"/><circle cx="249.67" cy="123.98" r="0.85"/><circle cx="246.63" cy="126.36" r="0.85"/><circle cx="245.52" cy="129.57" r="0.85"/><circle cx="252.75" cy="117.02" r="0.85"/><circle cx="249.60" cy="118.93" r="0.85"/><circle cx="238.93" cy="125.47" r="0.85"/><circle cx="237.63" cy="129.60" r="0.85"/><circle cx="233.47" cy="129.72" r="0.85"/><circle cx="236.63" cy="125.86" r="0.85"/><circle cx="240.37" cy="123.75" r="0.85"/><circle cx="251.13" cy="125.38" r="0.85"/><circle cx="254.28" cy="117.95" r="0.85"/><circle cx="253.26" cy="127.22" r="0.85"/><circle cx="247.09" cy="127.62" r="0.85"/><circle cx="254.56" cy="123.99" r="0.85"/><circle cx="254.54" cy="123.50" r="0.85"/><circle cx="248.43" cy="128.58" r="0.85"/><circle cx="250.52" cy="124.31" r="0.85"/><circle cx="236.66" cy="124.54" r="0.85"/><circle cx="249.40" cy="117.66" r="0.85"/><circle cx="249.38" cy="125.27" r="0.85"/><circle cx="247.35" cy="119.44" r="0.85"/><circle cx="245.27" cy="127.70" r="0.85"/><circle cx="242.93" cy="121.20" r="0.85"/><circle cx="250.25" cy="127.48" r="0.85"/><circle cx="231.80" cy="127.39" r="0.85"/><circle cx="241.72" cy="126.56" r="0.85"/><circle cx="243.80" cy="126.72" r="0.85"/><circle cx="251.03" cy="119.88" r="0.85"/><circle cx="241.86" cy="122.75" r="0.85"/><circle cx="250.31" cy="127.60" r="0.85"/><circle cx="239.88" cy="128.58" r="0.85"/><circle cx="242.20" cy="126.17" r="0.85"/><circle cx="247.31" cy="125.42" r="0.85"/><circle cx="246.82" cy="122.43" r="0.85"/><circle cx="245.36" cy="124.49" r="0.85"/><circle cx="241.34" cy="128.75" r="0.85"/><circle cx="246.69" cy="125.99" r="0.85"/><circle cx="241.31" cy="128.99" r="0.85"/><circle cx="246.13" cy="124.90" r="0.85"/><circle cx="251.35" cy="126.90" r="0.85"/><circle cx="231.87" cy="128.33" r="0.85"/><circle cx="242.46" cy="127.15" r="0.85"/><circle cx="245.34" cy="119.44" r="0.85"/><circle cx="253.24" cy="122.73" r="0.85"/><circle cx="243.26" cy="127.55" r="0.85"/><circle cx="244.82" cy="130.47" r="0.85"/><circle cx="249.08" cy="122.26" r="0.85"/><circle cx="252.25" cy="128.00" r="0.85"/><circle cx="254.36" cy="121.38" r="0.85"/><circle cx="234.11" cy="129.96" r="0.85"/><circle cx="236.46" cy="128.84" r="0.85"/><circle cx="240.51" cy="128.78" r="0.85"/><circle cx="247.98" cy="126.54" r="0.85"/><circle cx="234.31" cy="129.22" r="0.85"/><circle cx="238.82" cy="129.59" r="0.85"/><circle cx="232.81" cy="128.33" r="0.85"/><circle cx="252.04" cy="118.58" r="0.85"/><circle cx="240.68" cy="123.19" r="0.85"/><circle cx="238.22" cy="125.87" r="0.85"/><circle cx="246.56" cy="125.08" r="0.85"/><circle cx="236.16" cy="125.78" r="0.85"/><circle cx="253.10" cy="122.67" r="0.85"/><circle cx="237.81" cy="123.89" r="0.85"/><circle cx="244.00" cy="128.47" r="0.85"/><circle cx="244.28" cy="126.70" r="0.85"/><circle cx="234.06" cy="127.33" r="0.85"/><circle cx="239.45" cy="128.73" r="0.85"/><circle cx="247.30" cy="120.52" r="0.85"/><circle cx="243.99" cy="120.80" r="0.85"/><circle cx="234.40" cy="126.43" r="0.85"/><circle cx="240.80" cy="127.88" r="0.85"/><circle cx="246.58" cy="123.42" r="0.85"/><circle cx="243.70" cy="123.27" r="0.85"/><circle cx="249.13" cy="120.18" r="0.85"/><circle cx="239.28" cy="129.03" r="0.85"/><circle cx="233.83" cy="127.51" r="0.85"/><circle cx="248.95" cy="118.59" r="0.85"/><circle cx="244.46" cy="126.93" r="0.85"/><circle cx="243.16" cy="129.71" r="0.85"/><circle cx="253.54" cy="127.08" r="0.85"/><circle cx="252.80" cy="118.02" r="0.85"/><circle cx="241.14" cy="128.16" r="0.85"/><circle cx="232.82" cy="126.80" r="0.85"/><circle cx="237.74" cy="125.49" r="0.85"/><circle cx="254.59" cy="124.35" r="0.85"/><circle cx="263.54" cy="109.20" r="0.85"/><circle cx="246.71" cy="117.16" r="0.85"/><circle cx="243.03" cy="120.02" r="0.85"/><circle cx="252.84" cy="114.36" r="0.85"/><circle cx="254.83" cy="116.77" r="0.85"/><circle cx="256.83" cy="114.70" r="0.85"/><circle cx="259.48" cy="115.23" r="0.85"/><circle cx="237.55" cy="107.40" r="0.85"/><circle cx="250.79" cy="114.99" r="0.85"/><circle cx="238.83" cy="115.15" r="0.85"/><circle cx="239.72" cy="119.55" r="0.85"/><circle cx="238.76" cy="117.64" r="0.85"/><circle cx="257.70" cy="114.39" r="0.85"/><circle cx="245.83" cy="118.56" r="0.85"/><circle cx="265.78" cy="118.92" r="0.85"/><circle cx="262.88" cy="107.23" r="0.85"/><circle cx="259.40" cy="113.43" r="0.85"/><circle cx="259.65" cy="111.31" r="0.85"/><circle cx="248.93" cy="115.49" r="0.85"/><circle cx="257.42" cy="113.72" r="0.85"/><circle cx="239.72" cy="118.40" r="0.85"/><circle cx="243.76" cy="114.12" r="0.85"/><circle cx="244.90" cy="118.76" r="0.85"/><circle cx="243.05" cy="103.14" r="0.85"/><circle cx="247.91" cy="116.11" r="0.85"/><circle cx="260.49" cy="110.78" r="0.85"/><circle cx="259.79" cy="117.36" r="0.85"/><circle cx="248.50" cy="112.96" r="0.85"/><circle cx="236.26" cy="114.84" r="0.85"/><circle cx="247.18" cy="113.35" r="0.85"/><circle cx="249.65" cy="107.51" r="0.85"/><circle cx="251.99" cy="109.29" r="0.85"/><circle cx="245.06" cy="108.12" r="0.85"/><circle cx="237.08" cy="102.45" r="0.85"/><circle cx="256.55" cy="112.99" r="0.85"/><circle cx="243.15" cy="120.28" r="0.85"/><circle cx="257.02" cy="112.16" r="0.85"/><circle cx="254.43" cy="115.76" r="0.85"/><circle cx="257.69" cy="116.23" r="0.85"/><circle cx="237.14" cy="102.40" r="0.85"/><circle cx="238.30" cy="93.00" r="0.85"/><circle cx="262.30" cy="96.00" r="0.85"/><circle cx="262.80" cy="97.50" r="0.85"/><circle cx="277.00" cy="107.50" r="0.85"/><circle cx="270.00" cy="65.50" r="0.85"/><circle cx="263.00" cy="105.00" r="0.85"/><circle cx="259.00" cy="109.00" r="0.85"/><circle cx="253.00" cy="108.00" r="0.85"/><circle cx="247.00" cy="113.00" r="0.85"/><circle cx="266.00" cy="110.00" r="0.85"/><circle cx="264.00" cy="116.00" r="0.85"/></g>
<line x1="186.80" y1="57.50" x2="186.80" y2="142.80" stroke="#000" stroke-width="1.0"/>
<line x1="186.30" y1="142.50" x2="280.20" y2="142.50" stroke="#000" stroke-width="1.0"/>
<line x1="185.00" y1="66.60" x2="186.80" y2="66.60" stroke="#000" stroke-width="0.6"/>
<text x="185.00" y="68.90" font-size="6.6" text-anchor="end" fill="#222" stroke="#222" stroke-width="0.18">20</text>
<line x1="185.00" y1="85.00" x2="186.80" y2="85.00" stroke="#000" stroke-width="0.6"/>
<text x="185.00" y="87.30" font-size="6.6" text-anchor="end" fill="#222" stroke="#222" stroke-width="0.18">15</text>
<line x1="185.00" y1="102.60" x2="186.80" y2="102.60" stroke="#000" stroke-width="0.6"/>
<text x="185.00" y="104.90" font-size="6.6" text-anchor="end" fill="#222" stroke="#222" stroke-width="0.18">10</text>
<line x1="185.00" y1="121.50" x2="186.80" y2="121.50" stroke="#000" stroke-width="0.6"/>
<text x="185.00" y="123.80" font-size="6.6" text-anchor="end" fill="#222" stroke="#222" stroke-width="0.18">5</text>
<line x1="185.00" y1="139.60" x2="186.80" y2="139.60" stroke="#000" stroke-width="0.6"/>
<text x="185.00" y="141.90" font-size="6.6" text-anchor="end" fill="#222" stroke="#222" stroke-width="0.18">0</text>
<line x1="198.00" y1="142.50" x2="198.00" y2="144.30" stroke="#000" stroke-width="0.6"/>
<text x="197.00" y="150.60" font-size="6.2" text-anchor="middle" fill="#222" stroke="#222" stroke-width="0.18">-2</text>
<line x1="213.30" y1="142.50" x2="213.30" y2="144.30" stroke="#000" stroke-width="0.6"/>
<text x="212.30" y="150.60" font-size="6.2" text-anchor="middle" fill="#222" stroke="#222" stroke-width="0.18">-1</text>
<line x1="228.50" y1="142.50" x2="228.50" y2="144.30" stroke="#000" stroke-width="0.6"/>
<text x="228.50" y="150.60" font-size="6.2" text-anchor="middle" fill="#222" stroke="#222" stroke-width="0.18">0</text>
<line x1="243.60" y1="142.50" x2="243.60" y2="144.30" stroke="#000" stroke-width="0.6"/>
<text x="243.60" y="150.60" font-size="6.2" text-anchor="middle" fill="#222" stroke="#222" stroke-width="0.18">1</text>
<line x1="257.80" y1="142.50" x2="257.80" y2="144.30" stroke="#000" stroke-width="0.6"/>
<text x="257.80" y="150.60" font-size="6.2" text-anchor="middle" fill="#222" stroke="#222" stroke-width="0.18">2</text>
<line x1="272.40" y1="142.50" x2="272.40" y2="144.30" stroke="#000" stroke-width="0.6"/>
<text x="272.40" y="150.60" font-size="6.2" text-anchor="middle" fill="#222" stroke="#222" stroke-width="0.18">3</text>
<text x="238.80" y="159.20" font-size="6.6" text-anchor="middle" fill="#222" textLength="49" lengthAdjust="spacingAndGlyphs" stroke="#222" stroke-width="0.18">Log2FoldChange</text>
<text x="176.00" y="100.80" font-size="6.0" text-anchor="middle" fill="#222" textLength="42" lengthAdjust="spacingAndGlyphs" stroke="#222" stroke-width="0.18" transform="rotate(-90 176.00 100.80)">-log10(p-value)</text>
<line x1="187.50" y1="135.30" x2="280.00" y2="135.30" stroke="#555" stroke-width="0.8" stroke-dasharray="2,1.8"/>
<rect x="225.4" y="58.6" width="54.4" height="72.2" fill="none" stroke="#cc2a4a" stroke-width="0.9"/>
<line x1="279.80" y1="103.60" x2="306.50" y2="103.60" stroke="#cc2a4a" stroke-width="0.9"/>
<path d="M309.5 103.6 L305.5 101.6 L305.5 105.6 Z" stroke="none" stroke-width="1" fill="#cc2a4a"/>
<text x="188.20" y="66.60" font-size="6.4" fill="#1c5290" textLength="28" lengthAdjust="spacingAndGlyphs" stroke="#1c5290" stroke-width="0.18">351Genes</text>
<text x="249.60" y="66.60" font-size="6.4" fill="#3ab54a" textLength="28.5" lengthAdjust="spacingAndGlyphs" stroke="#3ab54a" stroke-width="0.18">243Genes</text>
<text transform="translate(322.54 15.30) scale(1.0 1)" font-size="11.2" fill="#000" font-weight="bold">C</text>
<rect x="336.30" y="32.30" width="167.70" height="131.50" fill="none" stroke="#111" stroke-width="1.1"/>
<line x1="387.30" y1="32.30" x2="387.30" y2="163.80" stroke="#111" stroke-width="0.9"/>
<line x1="422.10" y1="32.30" x2="422.10" y2="163.80" stroke="#111" stroke-width="0.9"/>
<line x1="462.70" y1="32.30" x2="462.70" y2="163.80" stroke="#111" stroke-width="0.9"/>
<line x1="336.30" y1="52.00" x2="504.00" y2="52.00" stroke="#111" stroke-width="0.9"/>
<line x1="336.30" y1="70.80" x2="504.00" y2="70.80" stroke="#111" stroke-width="0.9"/>
<line x1="336.30" y1="89.80" x2="504.00" y2="89.80" stroke="#111" stroke-width="0.9"/>
<line x1="336.30" y1="109.50" x2="504.00" y2="109.50" stroke="#111" stroke-width="0.9"/>
<line x1="336.30" y1="136.00" x2="504.00" y2="136.00" stroke="#111" stroke-width="0.9"/>
<text x="339.60" y="41.20" font-size="8.3" fill="#1a1a1a" stroke="#1a1a1a" stroke-width="0.32">Pathway</text>
<text x="390.00" y="41.20" font-size="8.3" fill="#1a1a1a" stroke="#1a1a1a" stroke-width="0.32">P-value</text>
<text x="423.80" y="41.20" font-size="8.3" fill="#1a1a1a" stroke="#1a1a1a" stroke-width="0.32">Adjusted</text>
<text x="423.80" y="47.90" font-size="8.3" fill="#1a1a1a" stroke="#1a1a1a" stroke-width="0.32">p-value</text>
<text x="465.00" y="41.20" font-size="8.3" fill="#1a1a1a" stroke="#1a1a1a" stroke-width="0.32">Database</text>
<text transform="translate(339.50 60.20) scale(0.89 1)" font-size="7.5" fill="#2a2a2a" stroke="#2a2a2a" stroke-width="0.18">Porphyrin</text>
<text transform="translate(339.50 68.80) scale(0.89 1)" font-size="7.5" fill="#2a2a2a" stroke="#2a2a2a" stroke-width="0.18">metabolism</text>
<text transform="translate(389.90 60.20) scale(0.89 1)" font-size="7.5" fill="#2a2a2a" stroke="#2a2a2a" stroke-width="0.18">0.00001</text>
<text transform="translate(423.70 60.20) scale(0.89 1)" font-size="7.5" fill="#2a2a2a" stroke="#2a2a2a" stroke-width="0.18">0.011</text>
<text transform="translate(465.00 60.20) scale(0.89 1)" font-size="7.5" fill="#2a2a2a" stroke="#2a2a2a" stroke-width="0.18">BioPlanet</text>
<text transform="translate(465.00 68.80) scale(0.89 1)" font-size="7.5" fill="#2a2a2a" stroke="#2a2a2a" stroke-width="0.18">2019</text>
<text transform="translate(339.50 79.00) scale(0.89 1)" font-size="7.5" fill="#2a2a2a" stroke="#2a2a2a" stroke-width="0.18">Metabolism of</text>
<text transform="translate(339.50 87.60) scale(0.89 1)" font-size="7.5" fill="#2a2a2a" stroke="#2a2a2a" stroke-width="0.18">Porphyrins</text>
<text transform="translate(389.90 79.00) scale(0.89 1)" font-size="7.5" fill="#2a2a2a" stroke="#2a2a2a" stroke-width="0.18">0.00004</text>
<text transform="translate(423.70 79.00) scale(0.89 1)" font-size="7.5" fill="#2a2a2a" stroke="#2a2a2a" stroke-width="0.18">0.02</text>
<text transform="translate(465.00 79.00) scale(0.89 1)" font-size="7.5" fill="#2a2a2a" stroke="#2a2a2a" stroke-width="0.18">Reactome</text>
<text transform="translate(465.00 87.60) scale(0.89 1)" font-size="7.5" fill="#2a2a2a" stroke="#2a2a2a" stroke-width="0.18">2016</text>
<text transform="translate(339.50 98.00) scale(0.89 1)" font-size="7.5" fill="#2a2a2a" stroke="#2a2a2a" stroke-width="0.18">Heme</text>
<text transform="translate(339.50 106.60) scale(0.89 1)" font-size="7.5" fill="#2a2a2a" stroke="#2a2a2a" stroke-width="0.18">biosynthesis</text>
<text transform="translate(389.90 98.00) scale(0.89 1)" font-size="7.5" fill="#2a2a2a" stroke="#2a2a2a" stroke-width="0.18">0.005</text>
<text transform="translate(423.70 98.00) scale(0.89 1)" font-size="7.5" fill="#2a2a2a" stroke="#2a2a2a" stroke-width="0.18">0.04</text>
<text transform="translate(465.00 98.00) scale(0.89 1)" font-size="7.5" fill="#2a2a2a" stroke="#2a2a2a" stroke-width="0.18">HumanCyc</text>
<text transform="translate(465.00 106.60) scale(0.89 1)" font-size="7.5" fill="#2a2a2a" stroke="#2a2a2a" stroke-width="0.18">2016</text>
<text transform="translate(339.50 117.70) scale(0.89 1)" font-size="7.5" fill="#2a2a2a" stroke="#2a2a2a" stroke-width="0.18">HIF-1alpha</text>
<text transform="translate(339.50 126.30) scale(0.89 1)" font-size="7.5" fill="#2a2a2a" stroke="#2a2a2a" stroke-width="0.18">transcription</text>
<text transform="translate(339.50 134.90) scale(0.89 1)" font-size="7.5" fill="#2a2a2a" stroke="#2a2a2a" stroke-width="0.18">factor network</text>
<text transform="translate(389.90 117.70) scale(0.89 1)" font-size="7.5" fill="#2a2a2a" stroke="#2a2a2a" stroke-width="0.18">0.0001</text>
<text transform="translate(423.70 117.70) scale(0.89 1)" font-size="7.5" fill="#2a2a2a" stroke="#2a2a2a" stroke-width="0.18">0.017</text>
<text transform="translate(465.00 117.70) scale(0.89 1)" font-size="7.5" fill="#2a2a2a" stroke="#2a2a2a" stroke-width="0.18">NCI-Nature</text>
<text transform="translate(465.00 126.30) scale(0.89 1)" font-size="7.5" fill="#2a2a2a" stroke="#2a2a2a" stroke-width="0.18">2016</text>
<text transform="translate(339.50 144.20) scale(0.89 1)" font-size="7.5" fill="#2a2a2a" stroke="#2a2a2a" stroke-width="0.18">Spherocytosis</text>
<text transform="translate(389.90 144.20) scale(0.89 1)" font-size="7.5" fill="#2a2a2a" stroke="#2a2a2a" stroke-width="0.18">0.00001</text>
<text transform="translate(423.70 144.20) scale(0.89 1)" font-size="7.5" fill="#2a2a2a" stroke="#2a2a2a" stroke-width="0.18">0.032</text>
<text transform="translate(465.00 144.20) scale(0.89 1)" font-size="7.5" fill="#2a2a2a" stroke="#2a2a2a" stroke-width="0.18">MGI</text>
<text transform="translate(465.00 152.80) scale(0.89 1)" font-size="7.5" fill="#2a2a2a" stroke="#2a2a2a" stroke-width="0.18">mammalian</text>
<text transform="translate(465.00 161.40) scale(0.89 1)" font-size="7.5" fill="#2a2a2a" stroke="#2a2a2a" stroke-width="0.18">phenotype</text>
<text transform="translate(6.54 211.60) scale(1.15 1)" font-size="11.2" fill="#000" font-weight="bold">D</text>
<text x="79.00" y="207.00" font-size="3.4" text-anchor="middle" fill="#222" textLength="28" lengthAdjust="spacingAndGlyphs">KD vs EV heatmap</text>
<rect x="39.20" y="232.40" width="7.08" height="1.55" fill="#f4a5a9"/>
<rect x="46.23" y="232.40" width="7.08" height="1.55" fill="#f5aaae"/>
<rect x="53.25" y="232.40" width="7.08" height="1.55" fill="#e9414a"/>
<rect x="60.28" y="232.40" width="7.08" height="1.55" fill="#e5e6f4"/>
<rect x="67.30" y="232.40" width="7.08" height="1.55" fill="#c6c9e8"/>
<rect x="74.33" y="232.40" width="7.08" height="1.55" fill="#dddff1"/>
<rect x="81.35" y="232.40" width="7.08" height="1.55" fill="#b5b9e1"/>
<rect x="88.38" y="232.40" width="7.08" height="1.55" fill="#e2e3f3"/>
<rect x="95.40" y="232.40" width="7.08" height="1.55" fill="#eeeff8"/>
<rect x="102.42" y="232.40" width="7.08" height="1.55" fill="#b8bbe2"/>
<rect x="109.45" y="232.40" width="7.08" height="1.55" fill="#c9cce9"/>
<rect x="116.47" y="232.40" width="7.08" height="1.55" fill="#d1d3ec"/>
<rect x="39.20" y="233.89" width="7.08" height="1.55" fill="#f5abaf"/>
<rect x="46.23" y="233.89" width="7.08" height="1.55" fill="#f3969a"/>
<rect x="53.25" y="233.89" width="7.08" height="1.55" fill="#f08086"/>
<rect x="60.28" y="233.89" width="7.08" height="1.55" fill="#bdc0e4"/>
<rect x="67.30" y="233.89" width="7.08" height="1.55" fill="#ced0eb"/>
<rect x="74.33" y="233.89" width="7.08" height="1.55" fill="#fcfcfe"/>
<rect x="81.35" y="233.89" width="7.08" height="1.55" fill="#a2a7d9"/>
<rect x="88.38" y="233.89" width="7.08" height="1.55" fill="#e8e9f6"/>
<rect x="95.40" y="233.89" width="7.08" height="1.55" fill="#bdc1e4"/>
<rect x="102.42" y="233.89" width="7.08" height="1.55" fill="#afb3de"/>
<rect x="109.45" y="233.89" width="7.08" height="1.55" fill="#a7acdb"/>
<rect x="116.47" y="233.89" width="7.08" height="1.55" fill="#c4c7e7"/>
<rect x="39.20" y="235.38" width="7.08" height="1.55" fill="#f3979c"/>
<rect x="46.23" y="235.38" width="7.08" height="1.55" fill="#f18489"/>
<rect x="53.25" y="235.38" width="7.08" height="1.55" fill="#f3999d"/>
<rect x="60.28" y="235.38" width="7.08" height="1.55" fill="#bec1e4"/>
<rect x="67.30" y="235.38" width="7.08" height="1.55" fill="#c4c7e7"/>
<rect x="74.33" y="235.38" width="7.08" height="1.55" fill="#d5d7ee"/>
<rect x="81.35" y="235.38" width="7.08" height="1.55" fill="#cbceea"/>
<rect x="88.38" y="235.38" width="7.08" height="1.55" fill="#f7b9bc"/>
<rect x="95.40" y="235.38" width="7.08" height="1.55" fill="#c2c5e6"/>
<rect x="102.42" y="235.38" width="7.08" height="1.55" fill="#b8bbe2"/>
<rect x="109.45" y="235.38" width="7.08" height="1.55" fill="#bdc1e4"/>
<rect x="116.47" y="235.38" width="7.08" height="1.55" fill="#cfd1eb"/>
<rect x="39.20" y="236.87" width="7.08" height="1.55" fill="#f29599"/>
<rect x="46.23" y="236.87" width="7.08" height="1.55" fill="#ef7379"/>
<rect x="53.25" y="236.87" width="7.08" height="1.55" fill="#f08086"/>
<rect x="60.28" y="236.87" width="7.08" height="1.55" fill="#ecedf7"/>
<rect x="67.30" y="236.87" width="7.08" height="1.55" fill="#adb1dd"/>
<rect x="74.33" y="236.87" width="7.08" height="1.55" fill="#b1b5df"/>
<rect x="81.35" y="236.87" width="7.08" height="1.55" fill="#dddff1"/>
<rect x="88.38" y="236.87" width="7.08" height="1.55" fill="#f6b6b9"/>
<rect x="95.40" y="236.87" width="7.08" height="1.55" fill="#d6d8ee"/>
<rect x="102.42" y="236.87" width="7.08" height="1.55" fill="#e1e2f3"/>
<rect x="109.45" y="236.87" width="7.08" height="1.55" fill="#e3e4f3"/>
<rect x="116.47" y="236.87" width="7.08" height="1.55" fill="#dee0f2"/>
<rect x="39.20" y="238.37" width="7.08" height="1.55" fill="#f6afb2"/>
<rect x="46.23" y="238.37" width="7.08" height="1.55" fill="#f18c91"/>
<rect x="53.25" y="238.37" width="7.08" height="1.55" fill="#e7343d"/>
<rect x="60.28" y="238.37" width="7.08" height="1.55" fill="#ebecf7"/>
<rect x="67.30" y="238.37" width="7.08" height="1.55" fill="#9398d3"/>
<rect x="74.33" y="238.37" width="7.08" height="1.55" fill="#a7acdb"/>
<rect x="81.35" y="238.37" width="7.08" height="1.55" fill="#c5c8e7"/>
<rect x="88.38" y="238.37" width="7.08" height="1.55" fill="#f29397"/>
<rect x="95.40" y="238.37" width="7.08" height="1.55" fill="#d1d4ec"/>
<rect x="102.42" y="238.37" width="7.08" height="1.55" fill="#fef3f4"/>
<rect x="109.45" y="238.37" width="7.08" height="1.55" fill="#eaebf6"/>
<rect x="116.47" y="238.37" width="7.08" height="1.55" fill="#dadbf0"/>
<rect x="39.20" y="239.86" width="7.08" height="1.55" fill="#f28f94"/>
<rect x="46.23" y="239.86" width="7.08" height="1.55" fill="#fad4d6"/>
<rect x="53.25" y="239.86" width="7.08" height="1.55" fill="#e9444c"/>
<rect x="60.28" y="239.86" width="7.08" height="1.55" fill="#c1c4e6"/>
<rect x="67.30" y="239.86" width="7.08" height="1.55" fill="#adb1dd"/>
<rect x="74.33" y="239.86" width="7.08" height="1.55" fill="#b3b7e0"/>
<rect x="81.35" y="239.86" width="7.08" height="1.55" fill="#e1e3f3"/>
<rect x="88.38" y="239.86" width="7.08" height="1.55" fill="#f2f2fa"/>
<rect x="95.40" y="239.86" width="7.08" height="1.55" fill="#9196d2"/>
<rect x="102.42" y="239.86" width="7.08" height="1.55" fill="#f8f8fc"/>
<rect x="109.45" y="239.86" width="7.08" height="1.55" fill="#acb0dd"/>
<rect x="116.47" y="239.86" width="7.08" height="1.55" fill="#f3f3fa"/>
<rect x="39.20" y="241.35" width="7.08" height="1.55" fill="#ec5a61"/>
<rect x="46.23" y="241.35" width="7.08" height="1.55" fill="#fce4e5"/>
<rect x="53.25" y="241.35" width="7.08" height="1.55" fill="#ef757b"/>
<rect x="60.28" y="241.35" width="7.08" height="1.55" fill="#a6aadb"/>
<rect x="67.30" y="241.35" width="7.08" height="1.55" fill="#ced1eb"/>
<rect x="74.33" y="241.35" width="7.08" height="1.55" fill="#b9bce2"/>
<rect x="81.35" y="241.35" width="7.08" height="1.55" fill="#d4d6ed"/>
<rect x="88.38" y="241.35" width="7.08" height="1.55" fill="#dcdef1"/>
<rect x="95.40" y="241.35" width="7.08" height="1.55" fill="#d4d6ed"/>
<rect x="102.42" y="241.35" width="7.08" height="1.55" fill="#d9dbf0"/>
<rect x="109.45" y="241.35" width="7.08" height="1.55" fill="#c0c3e5"/>
<rect x="116.47" y="241.35" width="7.08" height="1.55" fill="#f7f7fc"/>
<rect x="39.20" y="242.84" width="7.08" height="1.55" fill="#ea4951"/>
<rect x="46.23" y="242.84" width="7.08" height="1.55" fill="#fad7d9"/>
<rect x="53.25" y="242.84" width="7.08" height="1.55" fill="#ef797f"/>
<rect x="60.28" y="242.84" width="7.08" height="1.55" fill="#b7bbe2"/>
<rect x="67.30" y="242.84" width="7.08" height="1.55" fill="#b0b4df"/>
<rect x="74.33" y="242.84" width="7.08" height="1.55" fill="#abafdd"/>
<rect x="81.35" y="242.84" width="7.08" height="1.55" fill="#e0e1f2"/>
<rect x="88.38" y="242.84" width="7.08" height="1.55" fill="#d4d6ee"/>
<rect x="95.40" y="242.84" width="7.08" height="1.55" fill="#ecedf7"/>
<rect x="102.42" y="242.84" width="7.08" height="1.55" fill="#bcc0e4"/>
<rect x="109.45" y="242.84" width="7.08" height="1.55" fill="#c9cce9"/>
<rect x="116.47" y="242.84" width="7.08" height="1.55" fill="#ecedf7"/>
<rect x="39.20" y="244.33" width="7.08" height="1.55" fill="#eb5a61"/>
<rect x="46.23" y="244.33" width="7.08" height="1.55" fill="#fce4e5"/>
<rect x="53.25" y="244.33" width="7.08" height="1.55" fill="#eb545c"/>
<rect x="60.28" y="244.33" width="7.08" height="1.55" fill="#d7d9ef"/>
<rect x="67.30" y="244.33" width="7.08" height="1.55" fill="#babde3"/>
<rect x="74.33" y="244.33" width="7.08" height="1.55" fill="#b6bae1"/>
<rect x="81.35" y="244.33" width="7.08" height="1.55" fill="#babee3"/>
<rect x="88.38" y="244.33" width="7.08" height="1.55" fill="#e9eaf6"/>
<rect x="95.40" y="244.33" width="7.08" height="1.55" fill="#d9dbf0"/>
<rect x="102.42" y="244.33" width="7.08" height="1.55" fill="#d2d5ed"/>
<rect x="109.45" y="244.33" width="7.08" height="1.55" fill="#b0b4df"/>
<rect x="116.47" y="244.33" width="7.08" height="1.55" fill="#fdeaeb"/>
<rect x="39.20" y="245.82" width="7.08" height="1.55" fill="#f1848a"/>
<rect x="46.23" y="245.82" width="7.08" height="1.55" fill="#fbe0e1"/>
<rect x="53.25" y="245.82" width="7.08" height="1.55" fill="#f4a1a5"/>
<rect x="60.28" y="245.82" width="7.08" height="1.55" fill="#cccfea"/>
<rect x="67.30" y="245.82" width="7.08" height="1.55" fill="#d0d3ec"/>
<rect x="74.33" y="245.82" width="7.08" height="1.55" fill="#b9bde3"/>
<rect x="81.35" y="245.82" width="7.08" height="1.55" fill="#848acd"/>
<rect x="88.38" y="245.82" width="7.08" height="1.55" fill="#d3d5ed"/>
<rect x="95.40" y="245.82" width="7.08" height="1.55" fill="#e1e2f3"/>
<rect x="102.42" y="245.82" width="7.08" height="1.55" fill="#fef8f8"/>
<rect x="109.45" y="245.82" width="7.08" height="1.55" fill="#9fa4d8"/>
<rect x="116.47" y="245.82" width="7.08" height="1.55" fill="#f4f4fa"/>
<rect x="39.20" y="247.31" width="7.08" height="1.55" fill="#ea5058"/>
<rect x="46.23" y="247.31" width="7.08" height="1.55" fill="#f9cfd1"/>
<rect x="53.25" y="247.31" width="7.08" height="1.55" fill="#f6b2b6"/>
<rect x="60.28" y="247.31" width="7.08" height="1.55" fill="#7279c5"/>
<rect x="67.30" y="247.31" width="7.08" height="1.55" fill="#999ed5"/>
<rect x="74.33" y="247.31" width="7.08" height="1.55" fill="#a9addc"/>
<rect x="81.35" y="247.31" width="7.08" height="1.55" fill="#a6abdb"/>
<rect x="88.38" y="247.31" width="7.08" height="1.55" fill="#a2a6d9"/>
<rect x="95.40" y="247.31" width="7.08" height="1.55" fill="#b2b6df"/>
<rect x="102.42" y="247.31" width="7.08" height="1.55" fill="#edeef8"/>
<rect x="109.45" y="247.31" width="7.08" height="1.55" fill="#adb1dd"/>
<rect x="116.47" y="247.31" width="7.08" height="1.55" fill="#bfc2e5"/>
<rect x="39.20" y="248.80" width="7.08" height="1.55" fill="#eb5259"/>
<rect x="46.23" y="248.80" width="7.08" height="1.55" fill="#fef4f4"/>
<rect x="53.25" y="248.80" width="7.08" height="1.55" fill="#f3999e"/>
<rect x="60.28" y="248.80" width="7.08" height="1.55" fill="#a6aadb"/>
<rect x="67.30" y="248.80" width="7.08" height="1.55" fill="#c7c9e8"/>
<rect x="74.33" y="248.80" width="7.08" height="1.55" fill="#c1c4e6"/>
<rect x="81.35" y="248.80" width="7.08" height="1.55" fill="#dbdcf0"/>
<rect x="88.38" y="248.80" width="7.08" height="1.55" fill="#e2e3f3"/>
<rect x="95.40" y="248.80" width="7.08" height="1.55" fill="#dddff1"/>
<rect x="102.42" y="248.80" width="7.08" height="1.55" fill="#eaebf7"/>
<rect x="109.45" y="248.80" width="7.08" height="1.55" fill="#dfe1f2"/>
<rect x="116.47" y="248.80" width="7.08" height="1.55" fill="#b7bbe2"/>
<rect x="39.20" y="250.30" width="7.08" height="1.55" fill="#f28d92"/>
<rect x="46.23" y="250.30" width="7.08" height="1.55" fill="#f8c2c4"/>
<rect x="53.25" y="250.30" width="7.08" height="1.55" fill="#f39da1"/>
<rect x="60.28" y="250.30" width="7.08" height="1.55" fill="#e6e7f5"/>
<rect x="67.30" y="250.30" width="7.08" height="1.55" fill="#bec1e4"/>
<rect x="74.33" y="250.30" width="7.08" height="1.55" fill="#abafdd"/>
<rect x="81.35" y="250.30" width="7.08" height="1.55" fill="#c0c3e5"/>
<rect x="88.38" y="250.30" width="7.08" height="1.55" fill="#fffcfc"/>
<rect x="95.40" y="250.30" width="7.08" height="1.55" fill="#d2d4ed"/>
<rect x="102.42" y="250.30" width="7.08" height="1.55" fill="#e4e5f4"/>
<rect x="109.45" y="250.30" width="7.08" height="1.55" fill="#e3e4f4"/>
<rect x="116.47" y="250.30" width="7.08" height="1.55" fill="#d2d4ed"/>
<rect x="39.20" y="251.79" width="7.08" height="1.55" fill="#e9434b"/>
<rect x="46.23" y="251.79" width="7.08" height="1.55" fill="#f7bcbf"/>
<rect x="53.25" y="251.79" width="7.08" height="1.55" fill="#f9cacd"/>
<rect x="60.28" y="251.79" width="7.08" height="1.55" fill="#d0d2ec"/>
<rect x="67.30" y="251.79" width="7.08" height="1.55" fill="#999ed5"/>
<rect x="74.33" y="251.79" width="7.08" height="1.55" fill="#b6bae1"/>
<rect x="81.35" y="251.79" width="7.08" height="1.55" fill="#e8eaf6"/>
<rect x="88.38" y="251.79" width="7.08" height="1.55" fill="#b8bce2"/>
<rect x="95.40" y="251.79" width="7.08" height="1.55" fill="#b4b8e0"/>
<rect x="102.42" y="251.79" width="7.08" height="1.55" fill="#d5d7ee"/>
<rect x="109.45" y="251.79" width="7.08" height="1.55" fill="#c4c7e7"/>
<rect x="116.47" y="251.79" width="7.08" height="1.55" fill="#e2e4f3"/>
<rect x="39.20" y="253.28" width="7.08" height="1.55" fill="#e9424b"/>
<rect x="46.23" y="253.28" width="7.08" height="1.55" fill="#fce5e7"/>
<rect x="53.25" y="253.28" width="7.08" height="1.55" fill="#f6b2b6"/>
<rect x="60.28" y="253.28" width="7.08" height="1.55" fill="#c1c4e6"/>
<rect x="67.30" y="253.28" width="7.08" height="1.55" fill="#c9cce9"/>
<rect x="74.33" y="253.28" width="7.08" height="1.55" fill="#ced1eb"/>
<rect x="81.35" y="253.28" width="7.08" height="1.55" fill="#dddff1"/>
<rect x="88.38" y="253.28" width="7.08" height="1.55" fill="#b1b5df"/>
<rect x="95.40" y="253.28" width="7.08" height="1.55" fill="#c6c9e8"/>
<rect x="102.42" y="253.28" width="7.08" height="1.55" fill="#999ed5"/>
<rect x="109.45" y="253.28" width="7.08" height="1.55" fill="#dee0f2"/>
<rect x="116.47" y="253.28" width="7.08" height="1.55" fill="#c6c9e8"/>
<rect x="39.20" y="254.77" width="7.08" height="1.55" fill="#ea4d55"/>
<rect x="46.23" y="254.77" width="7.08" height="1.55" fill="#fdebec"/>
<rect x="53.25" y="254.77" width="7.08" height="1.55" fill="#f4a5a9"/>
<rect x="60.28" y="254.77" width="7.08" height="1.55" fill="#c1c4e6"/>
<rect x="67.30" y="254.77" width="7.08" height="1.55" fill="#b2b6df"/>
<rect x="74.33" y="254.77" width="7.08" height="1.55" fill="#c0c3e5"/>
<rect x="81.35" y="254.77" width="7.08" height="1.55" fill="#e1e2f3"/>
<rect x="88.38" y="254.77" width="7.08" height="1.55" fill="#a3a7d9"/>
<rect x="95.40" y="254.77" width="7.08" height="1.55" fill="#b4b7e0"/>
<rect x="102.42" y="254.77" width="7.08" height="1.55" fill="#989dd5"/>
<rect x="109.45" y="254.77" width="7.08" height="1.55" fill="#e2e3f3"/>
<rect x="116.47" y="254.77" width="7.08" height="1.55" fill="#dddef1"/>
<rect x="39.20" y="256.26" width="7.08" height="1.55" fill="#e83b44"/>
<rect x="46.23" y="256.26" width="7.08" height="1.55" fill="#f9cdcf"/>
<rect x="53.25" y="256.26" width="7.08" height="1.55" fill="#f8c4c7"/>
<rect x="60.28" y="256.26" width="7.08" height="1.55" fill="#e0e2f2"/>
<rect x="67.30" y="256.26" width="7.08" height="1.55" fill="#a5aada"/>
<rect x="74.33" y="256.26" width="7.08" height="1.55" fill="#b5b9e1"/>
<rect x="81.35" y="256.26" width="7.08" height="1.55" fill="#eaebf7"/>
<rect x="88.38" y="256.26" width="7.08" height="1.55" fill="#e1e2f3"/>
<rect x="95.40" y="256.26" width="7.08" height="1.55" fill="#c8cbe9"/>
<rect x="102.42" y="256.26" width="7.08" height="1.55" fill="#a5aada"/>
<rect x="109.45" y="256.26" width="7.08" height="1.55" fill="#c2c5e6"/>
<rect x="116.47" y="256.26" width="7.08" height="1.55" fill="#bcbfe3"/>
<rect x="39.20" y="257.75" width="7.08" height="1.55" fill="#ea4d55"/>
<rect x="46.23" y="257.75" width="7.08" height="1.55" fill="#f8c4c7"/>
<rect x="53.25" y="257.75" width="7.08" height="1.55" fill="#ee6e74"/>
<rect x="60.28" y="257.75" width="7.08" height="1.55" fill="#a9addc"/>
<rect x="67.30" y="257.75" width="7.08" height="1.55" fill="#acb0dd"/>
<rect x="74.33" y="257.75" width="7.08" height="1.55" fill="#e7e8f5"/>
<rect x="81.35" y="257.75" width="7.08" height="1.55" fill="#c7c9e8"/>
<rect x="88.38" y="257.75" width="7.08" height="1.55" fill="#c5c8e7"/>
<rect x="95.40" y="257.75" width="7.08" height="1.55" fill="#cacce9"/>
<rect x="102.42" y="257.75" width="7.08" height="1.55" fill="#c1c4e6"/>
<rect x="109.45" y="257.75" width="7.08" height="1.55" fill="#bbbee3"/>
<rect x="116.47" y="257.75" width="7.08" height="1.55" fill="#aeb2de"/>
<rect x="39.20" y="259.24" width="7.08" height="1.55" fill="#ef777d"/>
<rect x="46.23" y="259.24" width="7.08" height="1.55" fill="#f4a6a9"/>
<rect x="53.25" y="259.24" width="7.08" height="1.55" fill="#ef757b"/>
<rect x="60.28" y="259.24" width="7.08" height="1.55" fill="#8389cc"/>
<rect x="67.30" y="259.24" width="7.08" height="1.55" fill="#acb0dd"/>
<rect x="74.33" y="259.24" width="7.08" height="1.55" fill="#cacce9"/>
<rect x="81.35" y="259.24" width="7.08" height="1.55" fill="#bcbfe4"/>
<rect x="88.38" y="259.24" width="7.08" height="1.55" fill="#e3e4f3"/>
<rect x="95.40" y="259.24" width="7.08" height="1.55" fill="#bdc1e4"/>
<rect x="102.42" y="259.24" width="7.08" height="1.55" fill="#cdcfea"/>
<rect x="109.45" y="259.24" width="7.08" height="1.55" fill="#bec1e4"/>
<rect x="116.47" y="259.24" width="7.08" height="1.55" fill="#c5c8e7"/>
<rect x="39.20" y="260.73" width="7.08" height="1.55" fill="#ec5d65"/>
<rect x="46.23" y="260.73" width="7.08" height="1.55" fill="#f4a5a9"/>
<rect x="53.25" y="260.73" width="7.08" height="1.55" fill="#f1878c"/>
<rect x="60.28" y="260.73" width="7.08" height="1.55" fill="#747ac6"/>
<rect x="67.30" y="260.73" width="7.08" height="1.55" fill="#afb3de"/>
<rect x="74.33" y="260.73" width="7.08" height="1.55" fill="#c3c6e7"/>
<rect x="81.35" y="260.73" width="7.08" height="1.55" fill="#cccfea"/>
<rect x="88.38" y="260.73" width="7.08" height="1.55" fill="#eaebf6"/>
<rect x="95.40" y="260.73" width="7.08" height="1.55" fill="#a2a7d9"/>
<rect x="102.42" y="260.73" width="7.08" height="1.55" fill="#dbddf0"/>
<rect x="109.45" y="260.73" width="7.08" height="1.55" fill="#a6aada"/>
<rect x="116.47" y="260.73" width="7.08" height="1.55" fill="#b1b5df"/>
<rect x="39.20" y="262.23" width="7.08" height="1.55" fill="#ee7077"/>
<rect x="46.23" y="262.23" width="7.08" height="1.55" fill="#ef767c"/>
<rect x="53.25" y="262.23" width="7.08" height="1.55" fill="#ef797f"/>
<rect x="60.28" y="262.23" width="7.08" height="1.55" fill="#a9addc"/>
<rect x="67.30" y="262.23" width="7.08" height="1.55" fill="#7c82c9"/>
<rect x="74.33" y="262.23" width="7.08" height="1.55" fill="#8d92d0"/>
<rect x="81.35" y="262.23" width="7.08" height="1.55" fill="#a9addc"/>
<rect x="88.38" y="262.23" width="7.08" height="1.55" fill="#d2d4ed"/>
<rect x="95.40" y="262.23" width="7.08" height="1.55" fill="#a7abdb"/>
<rect x="102.42" y="262.23" width="7.08" height="1.55" fill="#dedff1"/>
<rect x="109.45" y="262.23" width="7.08" height="1.55" fill="#b3b6e0"/>
<rect x="116.47" y="262.23" width="7.08" height="1.55" fill="#d2d4ed"/>
<rect x="39.20" y="263.72" width="7.08" height="1.55" fill="#ed6a70"/>
<rect x="46.23" y="263.72" width="7.08" height="1.55" fill="#ed696f"/>
<rect x="53.25" y="263.72" width="7.08" height="1.55" fill="#eb565e"/>
<rect x="60.28" y="263.72" width="7.08" height="1.55" fill="#cacde9"/>
<rect x="67.30" y="263.72" width="7.08" height="1.55" fill="#7c83ca"/>
<rect x="74.33" y="263.72" width="7.08" height="1.55" fill="#a2a7d9"/>
<rect x="81.35" y="263.72" width="7.08" height="1.55" fill="#a2a6d9"/>
<rect x="88.38" y="263.72" width="7.08" height="1.55" fill="#d5d7ee"/>
<rect x="95.40" y="263.72" width="7.08" height="1.55" fill="#d8daef"/>
<rect x="102.42" y="263.72" width="7.08" height="1.55" fill="#c6c9e8"/>
<rect x="109.45" y="263.72" width="7.08" height="1.55" fill="#d8daef"/>
<rect x="116.47" y="263.72" width="7.08" height="1.55" fill="#cccfea"/>
<rect x="39.20" y="265.21" width="7.08" height="1.55" fill="#ef767c"/>
<rect x="46.23" y="265.21" width="7.08" height="1.55" fill="#ed636a"/>
<rect x="53.25" y="265.21" width="7.08" height="1.55" fill="#ea5057"/>
<rect x="60.28" y="265.21" width="7.08" height="1.55" fill="#eaebf6"/>
<rect x="67.30" y="265.21" width="7.08" height="1.55" fill="#8087cb"/>
<rect x="74.33" y="265.21" width="7.08" height="1.55" fill="#a8acdb"/>
<rect x="81.35" y="265.21" width="7.08" height="1.55" fill="#d0d2ec"/>
<rect x="88.38" y="265.21" width="7.08" height="1.55" fill="#e3e4f3"/>
<rect x="95.40" y="265.21" width="7.08" height="1.55" fill="#c0c3e5"/>
<rect x="102.42" y="265.21" width="7.08" height="1.55" fill="#b6bae1"/>
<rect x="109.45" y="265.21" width="7.08" height="1.55" fill="#f4f5fb"/>
<rect x="116.47" y="265.21" width="7.08" height="1.55" fill="#a9aedc"/>
<rect x="39.20" y="266.70" width="7.08" height="1.55" fill="#ee6e74"/>
<rect x="46.23" y="266.70" width="7.08" height="1.55" fill="#fef6f6"/>
<rect x="53.25" y="266.70" width="7.08" height="1.55" fill="#ea5158"/>
<rect x="60.28" y="266.70" width="7.08" height="1.55" fill="#c7cae8"/>
<rect x="67.30" y="266.70" width="7.08" height="1.55" fill="#848acd"/>
<rect x="74.33" y="266.70" width="7.08" height="1.55" fill="#666ec1"/>
<rect x="81.35" y="266.70" width="7.08" height="1.55" fill="#d8daef"/>
<rect x="88.38" y="266.70" width="7.08" height="1.55" fill="#f7f7fc"/>
<rect x="95.40" y="266.70" width="7.08" height="1.55" fill="#9da2d7"/>
<rect x="102.42" y="266.70" width="7.08" height="1.55" fill="#d8daef"/>
<rect x="109.45" y="266.70" width="7.08" height="1.55" fill="#d0d3ec"/>
<rect x="116.47" y="266.70" width="7.08" height="1.55" fill="#bdc0e4"/>
<rect x="39.20" y="268.19" width="7.08" height="1.55" fill="#f5aeb1"/>
<rect x="46.23" y="268.19" width="7.08" height="1.55" fill="#f3969b"/>
<rect x="53.25" y="268.19" width="7.08" height="1.55" fill="#ef7a7f"/>
<rect x="60.28" y="268.19" width="7.08" height="1.55" fill="#a6abdb"/>
<rect x="67.30" y="268.19" width="7.08" height="1.55" fill="#6971c2"/>
<rect x="74.33" y="268.19" width="7.08" height="1.55" fill="#5b63bc"/>
<rect x="81.35" y="268.19" width="7.08" height="1.55" fill="#e8e9f6"/>
<rect x="88.38" y="268.19" width="7.08" height="1.55" fill="#dedff1"/>
<rect x="95.40" y="268.19" width="7.08" height="1.55" fill="#ced0eb"/>
<rect x="102.42" y="268.19" width="7.08" height="1.55" fill="#d4d6ed"/>
<rect x="109.45" y="268.19" width="7.08" height="1.55" fill="#c8cbe9"/>
<rect x="116.47" y="268.19" width="7.08" height="1.55" fill="#c4c7e7"/>
<rect x="39.20" y="269.68" width="7.08" height="1.55" fill="#f3979c"/>
<rect x="46.23" y="269.68" width="7.08" height="1.55" fill="#eb5961"/>
<rect x="53.25" y="269.68" width="7.08" height="1.55" fill="#ee7379"/>
<rect x="60.28" y="269.68" width="7.08" height="1.55" fill="#c0c3e5"/>
<rect x="67.30" y="269.68" width="7.08" height="1.55" fill="#686fc1"/>
<rect x="74.33" y="269.68" width="7.08" height="1.55" fill="#959ad4"/>
<rect x="81.35" y="269.68" width="7.08" height="1.55" fill="#fdfefe"/>
<rect x="88.38" y="269.68" width="7.08" height="1.55" fill="#adb1de"/>
<rect x="95.40" y="269.68" width="7.08" height="1.55" fill="#bfc2e5"/>
<rect x="102.42" y="269.68" width="7.08" height="1.55" fill="#f1f2f9"/>
<rect x="109.45" y="269.68" width="7.08" height="1.55" fill="#d9dbf0"/>
<rect x="116.47" y="269.68" width="7.08" height="1.55" fill="#cbceea"/>
<rect x="39.20" y="271.17" width="7.08" height="1.55" fill="#ec6067"/>
<rect x="46.23" y="271.17" width="7.08" height="1.55" fill="#ed656c"/>
<rect x="53.25" y="271.17" width="7.08" height="1.55" fill="#eb575e"/>
<rect x="60.28" y="271.17" width="7.08" height="1.55" fill="#bfc2e5"/>
<rect x="67.30" y="271.17" width="7.08" height="1.55" fill="#aaaedc"/>
<rect x="74.33" y="271.17" width="7.08" height="1.55" fill="#9ca1d7"/>
<rect x="81.35" y="271.17" width="7.08" height="1.55" fill="#d0d3ec"/>
<rect x="88.38" y="271.17" width="7.08" height="1.55" fill="#b5b8e1"/>
<rect x="95.40" y="271.17" width="7.08" height="1.55" fill="#b9bde2"/>
<rect x="102.42" y="271.17" width="7.08" height="1.55" fill="#dcdef1"/>
<rect x="109.45" y="271.17" width="7.08" height="1.55" fill="#cdd0eb"/>
<rect x="116.47" y="271.17" width="7.08" height="1.55" fill="#d8daef"/>
<rect x="39.20" y="272.67" width="7.08" height="1.55" fill="#f7bbbe"/>
<rect x="46.23" y="272.67" width="7.08" height="1.55" fill="#f5abaf"/>
<rect x="53.25" y="272.67" width="7.08" height="1.55" fill="#ea5058"/>
<rect x="60.28" y="272.67" width="7.08" height="1.55" fill="#c6c9e8"/>
<rect x="67.30" y="272.67" width="7.08" height="1.55" fill="#9399d3"/>
<rect x="74.33" y="272.67" width="7.08" height="1.55" fill="#8087cb"/>
<rect x="81.35" y="272.67" width="7.08" height="1.55" fill="#dcdef1"/>
<rect x="88.38" y="272.67" width="7.08" height="1.55" fill="#ccceea"/>
<rect x="95.40" y="272.67" width="7.08" height="1.55" fill="#c2c5e6"/>
<rect x="102.42" y="272.67" width="7.08" height="1.55" fill="#e9eaf6"/>
<rect x="109.45" y="272.67" width="7.08" height="1.55" fill="#c0c3e5"/>
<rect x="116.47" y="272.67" width="7.08" height="1.55" fill="#e3e4f4"/>
<rect x="39.20" y="274.16" width="7.08" height="1.55" fill="#f5abae"/>
<rect x="46.23" y="274.16" width="7.08" height="1.55" fill="#f6b5b8"/>
<rect x="53.25" y="274.16" width="7.08" height="1.55" fill="#f07c82"/>
<rect x="60.28" y="274.16" width="7.08" height="1.55" fill="#b3b7e0"/>
<rect x="67.30" y="274.16" width="7.08" height="1.55" fill="#969bd4"/>
<rect x="74.33" y="274.16" width="7.08" height="1.55" fill="#6c73c3"/>
<rect x="81.35" y="274.16" width="7.08" height="1.55" fill="#e6e7f5"/>
<rect x="88.38" y="274.16" width="7.08" height="1.55" fill="#bcbfe4"/>
<rect x="95.40" y="274.16" width="7.08" height="1.55" fill="#c3c6e6"/>
<rect x="102.42" y="274.16" width="7.08" height="1.55" fill="#e0e2f2"/>
<rect x="109.45" y="274.16" width="7.08" height="1.55" fill="#a3a7d9"/>
<rect x="116.47" y="274.16" width="7.08" height="1.55" fill="#f2f3fa"/>
<rect x="39.20" y="275.65" width="7.08" height="1.55" fill="#ef7a80"/>
<rect x="46.23" y="275.65" width="7.08" height="1.55" fill="#f18b91"/>
<rect x="53.25" y="275.65" width="7.08" height="1.55" fill="#f39b9f"/>
<rect x="60.28" y="275.65" width="7.08" height="1.55" fill="#c5c8e7"/>
<rect x="67.30" y="275.65" width="7.08" height="1.55" fill="#c9cbe9"/>
<rect x="74.33" y="275.65" width="7.08" height="1.55" fill="#8288cc"/>
<rect x="81.35" y="275.65" width="7.08" height="1.55" fill="#c6c9e8"/>
<rect x="88.38" y="275.65" width="7.08" height="1.55" fill="#d2d5ed"/>
<rect x="95.40" y="275.65" width="7.08" height="1.55" fill="#cfd2ec"/>
<rect x="102.42" y="275.65" width="7.08" height="1.55" fill="#c1c4e6"/>
<rect x="109.45" y="275.65" width="7.08" height="1.55" fill="#b1b5df"/>
<rect x="116.47" y="275.65" width="7.08" height="1.55" fill="#d4d6ed"/>
<rect x="39.20" y="277.14" width="7.08" height="1.55" fill="#ee6d74"/>
<rect x="46.23" y="277.14" width="7.08" height="1.55" fill="#f4a0a4"/>
<rect x="53.25" y="277.14" width="7.08" height="1.55" fill="#f3989d"/>
<rect x="60.28" y="277.14" width="7.08" height="1.55" fill="#dcddf1"/>
<rect x="67.30" y="277.14" width="7.08" height="1.55" fill="#a2a7d9"/>
<rect x="74.33" y="277.14" width="7.08" height="1.55" fill="#cacce9"/>
<rect x="81.35" y="277.14" width="7.08" height="1.55" fill="#c1c4e6"/>
<rect x="88.38" y="277.14" width="7.08" height="1.55" fill="#d1d3ec"/>
<rect x="95.40" y="277.14" width="7.08" height="1.55" fill="#c6c9e8"/>
<rect x="102.42" y="277.14" width="7.08" height="1.55" fill="#cbceea"/>
<rect x="109.45" y="277.14" width="7.08" height="1.55" fill="#babee3"/>
<rect x="116.47" y="277.14" width="7.08" height="1.55" fill="#acb0dd"/>
<rect x="39.20" y="278.63" width="7.08" height="1.55" fill="#f29095"/>
<rect x="46.23" y="278.63" width="7.08" height="1.55" fill="#ccceea"/>
<rect x="53.25" y="278.63" width="7.08" height="1.55" fill="#fbdddf"/>
<rect x="60.28" y="278.63" width="7.08" height="1.55" fill="#ccceea"/>
<rect x="67.30" y="278.63" width="7.08" height="1.55" fill="#6b72c2"/>
<rect x="74.33" y="278.63" width="7.08" height="1.55" fill="#f5acaf"/>
<rect x="81.35" y="278.63" width="7.08" height="1.55" fill="#c8cbe8"/>
<rect x="88.38" y="278.63" width="7.08" height="1.55" fill="#b9bde2"/>
<rect x="95.40" y="278.63" width="7.08" height="1.55" fill="#c9cce9"/>
<rect x="102.42" y="278.63" width="7.08" height="1.55" fill="#e7e9f5"/>
<rect x="109.45" y="278.63" width="7.08" height="1.55" fill="#d0d2ec"/>
<rect x="116.47" y="278.63" width="7.08" height="1.55" fill="#cfd2ec"/>
<rect x="39.20" y="280.12" width="7.08" height="1.55" fill="#e41a24"/>
<rect x="46.23" y="280.12" width="7.08" height="1.55" fill="#dfe1f2"/>
<rect x="53.25" y="280.12" width="7.08" height="1.55" fill="#fad3d5"/>
<rect x="60.28" y="280.12" width="7.08" height="1.55" fill="#e0e1f2"/>
<rect x="67.30" y="280.12" width="7.08" height="1.55" fill="#abafdd"/>
<rect x="74.33" y="280.12" width="7.08" height="1.55" fill="#fce8e9"/>
<rect x="81.35" y="280.12" width="7.08" height="1.55" fill="#f0f0f9"/>
<rect x="88.38" y="280.12" width="7.08" height="1.55" fill="#a6aada"/>
<rect x="95.40" y="280.12" width="7.08" height="1.55" fill="#eeeff8"/>
<rect x="102.42" y="280.12" width="7.08" height="1.55" fill="#dee0f2"/>
<rect x="109.45" y="280.12" width="7.08" height="1.55" fill="#c1c4e6"/>
<rect x="116.47" y="280.12" width="7.08" height="1.55" fill="#dddff1"/>
<rect x="39.20" y="281.61" width="7.08" height="1.55" fill="#e41a24"/>
<rect x="46.23" y="281.61" width="7.08" height="1.55" fill="#e3e4f3"/>
<rect x="53.25" y="281.61" width="7.08" height="1.55" fill="#fbdbdd"/>
<rect x="60.28" y="281.61" width="7.08" height="1.55" fill="#f8f8fc"/>
<rect x="67.30" y="281.61" width="7.08" height="1.55" fill="#b1b5df"/>
<rect x="74.33" y="281.61" width="7.08" height="1.55" fill="#fdf2f3"/>
<rect x="81.35" y="281.61" width="7.08" height="1.55" fill="#f3f3fa"/>
<rect x="88.38" y="281.61" width="7.08" height="1.55" fill="#b6bae1"/>
<rect x="95.40" y="281.61" width="7.08" height="1.55" fill="#f2f2fa"/>
<rect x="102.42" y="281.61" width="7.08" height="1.55" fill="#c2c5e6"/>
<rect x="109.45" y="281.61" width="7.08" height="1.55" fill="#b2b5df"/>
<rect x="116.47" y="281.61" width="7.08" height="1.55" fill="#b6bae1"/>
<rect x="39.20" y="283.10" width="7.08" height="1.55" fill="#e41a24"/>
<rect x="46.23" y="283.10" width="7.08" height="1.55" fill="#f29398"/>
<rect x="53.25" y="283.10" width="7.08" height="1.55" fill="#fef5f6"/>
<rect x="60.28" y="283.10" width="7.08" height="1.55" fill="#dadcf0"/>
<rect x="67.30" y="283.10" width="7.08" height="1.55" fill="#afb3de"/>
<rect x="74.33" y="283.10" width="7.08" height="1.55" fill="#f7f7fc"/>
<rect x="81.35" y="283.10" width="7.08" height="1.55" fill="#e7e8f5"/>
<rect x="88.38" y="283.10" width="7.08" height="1.55" fill="#c1c4e6"/>
<rect x="95.40" y="283.10" width="7.08" height="1.55" fill="#f9f9fc"/>
<rect x="102.42" y="283.10" width="7.08" height="1.55" fill="#cacde9"/>
<rect x="109.45" y="283.10" width="7.08" height="1.55" fill="#c6c9e8"/>
<rect x="116.47" y="283.10" width="7.08" height="1.55" fill="#a4a9da"/>
<rect x="39.20" y="284.60" width="7.08" height="1.55" fill="#e41a24"/>
<rect x="46.23" y="284.60" width="7.08" height="1.55" fill="#f5a9ad"/>
<rect x="53.25" y="284.60" width="7.08" height="1.55" fill="#fdf0f1"/>
<rect x="60.28" y="284.60" width="7.08" height="1.55" fill="#f7f7fc"/>
<rect x="67.30" y="284.60" width="7.08" height="1.55" fill="#c1c4e6"/>
<rect x="74.33" y="284.60" width="7.08" height="1.55" fill="#e5e6f4"/>
<rect x="81.35" y="284.60" width="7.08" height="1.55" fill="#dadcf0"/>
<rect x="88.38" y="284.60" width="7.08" height="1.55" fill="#e1e3f3"/>
<rect x="95.40" y="284.60" width="7.08" height="1.55" fill="#fffcfc"/>
<rect x="102.42" y="284.60" width="7.08" height="1.55" fill="#d9dbf0"/>
<rect x="109.45" y="284.60" width="7.08" height="1.55" fill="#b6bae1"/>
<rect x="116.47" y="284.60" width="7.08" height="1.55" fill="#b0b4df"/>
<rect x="39.20" y="286.09" width="7.08" height="1.55" fill="#e41a24"/>
<rect x="46.23" y="286.09" width="7.08" height="1.55" fill="#f6b6b9"/>
<rect x="53.25" y="286.09" width="7.08" height="1.55" fill="#fdf2f2"/>
<rect x="60.28" y="286.09" width="7.08" height="1.55" fill="#f9cdcf"/>
<rect x="67.30" y="286.09" width="7.08" height="1.55" fill="#c0c3e5"/>
<rect x="74.33" y="286.09" width="7.08" height="1.55" fill="#fdeeef"/>
<rect x="81.35" y="286.09" width="7.08" height="1.55" fill="#bbbfe3"/>
<rect x="88.38" y="286.09" width="7.08" height="1.55" fill="#dfe1f2"/>
<rect x="95.40" y="286.09" width="7.08" height="1.55" fill="#e2e3f3"/>
<rect x="102.42" y="286.09" width="7.08" height="1.55" fill="#afb3de"/>
<rect x="109.45" y="286.09" width="7.08" height="1.55" fill="#b9bde3"/>
<rect x="116.47" y="286.09" width="7.08" height="1.55" fill="#e2e3f3"/>
<rect x="39.20" y="287.58" width="7.08" height="1.55" fill="#e41a24"/>
<rect x="46.23" y="287.58" width="7.08" height="1.55" fill="#f08388"/>
<rect x="53.25" y="287.58" width="7.08" height="1.55" fill="#f4f4fa"/>
<rect x="60.28" y="287.58" width="7.08" height="1.55" fill="#fffefe"/>
<rect x="67.30" y="287.58" width="7.08" height="1.55" fill="#ced1eb"/>
<rect x="74.33" y="287.58" width="7.08" height="1.55" fill="#fbdcdd"/>
<rect x="81.35" y="287.58" width="7.08" height="1.55" fill="#dfe1f2"/>
<rect x="88.38" y="287.58" width="7.08" height="1.55" fill="#bfc2e5"/>
<rect x="95.40" y="287.58" width="7.08" height="1.55" fill="#f3f4fa"/>
<rect x="102.42" y="287.58" width="7.08" height="1.55" fill="#abafdc"/>
<rect x="109.45" y="287.58" width="7.08" height="1.55" fill="#c4c7e7"/>
<rect x="116.47" y="287.58" width="7.08" height="1.55" fill="#c8cbe9"/>
<rect x="39.20" y="289.07" width="7.08" height="1.55" fill="#e5202a"/>
<rect x="46.23" y="289.07" width="7.08" height="1.55" fill="#ef797f"/>
<rect x="53.25" y="289.07" width="7.08" height="1.55" fill="#e2e4f3"/>
<rect x="60.28" y="289.07" width="7.08" height="1.55" fill="#dadcf0"/>
<rect x="67.30" y="289.07" width="7.08" height="1.55" fill="#dfe0f2"/>
<rect x="74.33" y="289.07" width="7.08" height="1.55" fill="#fffefe"/>
<rect x="81.35" y="289.07" width="7.08" height="1.55" fill="#f4f4fa"/>
<rect x="88.38" y="289.07" width="7.08" height="1.55" fill="#b5b8e1"/>
<rect x="95.40" y="289.07" width="7.08" height="1.55" fill="#fbfcfe"/>
<rect x="102.42" y="289.07" width="7.08" height="1.55" fill="#bec1e5"/>
<rect x="109.45" y="289.07" width="7.08" height="1.55" fill="#cfd2ec"/>
<rect x="116.47" y="289.07" width="7.08" height="1.55" fill="#979cd4"/>
<rect x="39.20" y="290.56" width="7.08" height="1.55" fill="#e62831"/>
<rect x="46.23" y="290.56" width="7.08" height="1.55" fill="#f1848a"/>
<rect x="53.25" y="290.56" width="7.08" height="1.55" fill="#f7bcbf"/>
<rect x="60.28" y="290.56" width="7.08" height="1.55" fill="#c5c8e7"/>
<rect x="67.30" y="290.56" width="7.08" height="1.55" fill="#f8f9fc"/>
<rect x="74.33" y="290.56" width="7.08" height="1.55" fill="#e2e3f3"/>
<rect x="81.35" y="290.56" width="7.08" height="1.55" fill="#f7f8fc"/>
<rect x="88.38" y="290.56" width="7.08" height="1.55" fill="#d7d9ef"/>
<rect x="95.40" y="290.56" width="7.08" height="1.55" fill="#cccfea"/>
<rect x="102.42" y="290.56" width="7.08" height="1.55" fill="#f2f3fa"/>
<rect x="109.45" y="290.56" width="7.08" height="1.55" fill="#b7bae1"/>
<rect x="116.47" y="290.56" width="7.08" height="1.55" fill="#b2b5df"/>
<rect x="39.20" y="292.05" width="7.08" height="1.55" fill="#e5232c"/>
<rect x="46.23" y="292.05" width="7.08" height="1.55" fill="#f6b3b7"/>
<rect x="53.25" y="292.05" width="7.08" height="1.55" fill="#f5aaae"/>
<rect x="60.28" y="292.05" width="7.08" height="1.55" fill="#e3e4f4"/>
<rect x="67.30" y="292.05" width="7.08" height="1.55" fill="#f7f7fc"/>
<rect x="74.33" y="292.05" width="7.08" height="1.55" fill="#f0f1f9"/>
<rect x="81.35" y="292.05" width="7.08" height="1.55" fill="#cfd1eb"/>
<rect x="88.38" y="292.05" width="7.08" height="1.55" fill="#dadcf0"/>
<rect x="95.40" y="292.05" width="7.08" height="1.55" fill="#d8daef"/>
<rect x="102.42" y="292.05" width="7.08" height="1.55" fill="#cccfea"/>
<rect x="109.45" y="292.05" width="7.08" height="1.55" fill="#f4a5a9"/>
<rect x="116.47" y="292.05" width="7.08" height="1.55" fill="#f9c9cb"/>
<rect x="39.20" y="293.54" width="7.08" height="1.55" fill="#e73840"/>
<rect x="46.23" y="293.54" width="7.08" height="1.55" fill="#fbdee0"/>
<rect x="53.25" y="293.54" width="7.08" height="1.55" fill="#f39da1"/>
<rect x="60.28" y="293.54" width="7.08" height="1.55" fill="#c7cae8"/>
<rect x="67.30" y="293.54" width="7.08" height="1.55" fill="#dbdcf0"/>
<rect x="74.33" y="293.54" width="7.08" height="1.55" fill="#fdedee"/>
<rect x="81.35" y="293.54" width="7.08" height="1.55" fill="#d0d2ec"/>
<rect x="88.38" y="293.54" width="7.08" height="1.55" fill="#e5e6f4"/>
<rect x="95.40" y="293.54" width="7.08" height="1.55" fill="#f4f4fa"/>
<rect x="102.42" y="293.54" width="7.08" height="1.55" fill="#c0c3e5"/>
<rect x="109.45" y="293.54" width="7.08" height="1.55" fill="#f07e84"/>
<rect x="116.47" y="293.54" width="7.08" height="1.55" fill="#f7b7ba"/>
<rect x="39.20" y="295.03" width="7.08" height="1.55" fill="#676ec1"/>
<rect x="46.23" y="295.03" width="7.08" height="1.55" fill="#5159b8"/>
<rect x="53.25" y="295.03" width="7.08" height="1.55" fill="#9a9fd6"/>
<rect x="60.28" y="295.03" width="7.08" height="1.55" fill="#f29398"/>
<rect x="67.30" y="295.03" width="7.08" height="1.55" fill="#f6b5b8"/>
<rect x="74.33" y="295.03" width="7.08" height="1.55" fill="#f9d0d2"/>
<rect x="81.35" y="295.03" width="7.08" height="1.55" fill="#fad3d5"/>
<rect x="88.38" y="295.03" width="7.08" height="1.55" fill="#f7b7ba"/>
<rect x="95.40" y="295.03" width="7.08" height="1.55" fill="#f7bbbe"/>
<rect x="102.42" y="295.03" width="7.08" height="1.55" fill="#fdf1f2"/>
<rect x="109.45" y="295.03" width="7.08" height="1.55" fill="#f6b1b5"/>
<rect x="116.47" y="295.03" width="7.08" height="1.55" fill="#f7bbbe"/>
<rect x="39.20" y="296.53" width="7.08" height="1.55" fill="#777ec7"/>
<rect x="46.23" y="296.53" width="7.08" height="1.55" fill="#444db2"/>
<rect x="53.25" y="296.53" width="7.08" height="1.55" fill="#9b9fd6"/>
<rect x="60.28" y="296.53" width="7.08" height="1.55" fill="#f18a8f"/>
<rect x="67.30" y="296.53" width="7.08" height="1.55" fill="#f5a6aa"/>
<rect x="74.33" y="296.53" width="7.08" height="1.55" fill="#fad6d8"/>
<rect x="81.35" y="296.53" width="7.08" height="1.55" fill="#fef7f7"/>
<rect x="88.38" y="296.53" width="7.08" height="1.55" fill="#f8c0c3"/>
<rect x="95.40" y="296.53" width="7.08" height="1.55" fill="#fce2e3"/>
<rect x="102.42" y="296.53" width="7.08" height="1.55" fill="#fffdfd"/>
<rect x="109.45" y="296.53" width="7.08" height="1.55" fill="#f6b2b6"/>
<rect x="116.47" y="296.53" width="7.08" height="1.55" fill="#f6b6ba"/>
<rect x="39.20" y="298.02" width="7.08" height="1.55" fill="#666ec1"/>
<rect x="46.23" y="298.02" width="7.08" height="1.55" fill="#8288cc"/>
<rect x="53.25" y="298.02" width="7.08" height="1.55" fill="#858bcd"/>
<rect x="60.28" y="298.02" width="7.08" height="1.55" fill="#f39ca0"/>
<rect x="67.30" y="298.02" width="7.08" height="1.55" fill="#f18a8f"/>
<rect x="74.33" y="298.02" width="7.08" height="1.55" fill="#f5abaf"/>
<rect x="81.35" y="298.02" width="7.08" height="1.55" fill="#fad3d5"/>
<rect x="88.38" y="298.02" width="7.08" height="1.55" fill="#f5aeb2"/>
<rect x="95.40" y="298.02" width="7.08" height="1.55" fill="#fdf0f1"/>
<rect x="102.42" y="298.02" width="7.08" height="1.55" fill="#fef3f3"/>
<rect x="109.45" y="298.02" width="7.08" height="1.55" fill="#f3979c"/>
<rect x="116.47" y="298.02" width="7.08" height="1.55" fill="#f1898e"/>
<rect x="39.20" y="299.51" width="7.08" height="1.55" fill="#6169be"/>
<rect x="46.23" y="299.51" width="7.08" height="1.55" fill="#aaaedc"/>
<rect x="53.25" y="299.51" width="7.08" height="1.55" fill="#747bc6"/>
<rect x="60.28" y="299.51" width="7.08" height="1.55" fill="#fce5e7"/>
<rect x="67.30" y="299.51" width="7.08" height="1.55" fill="#ea4f57"/>
<rect x="74.33" y="299.51" width="7.08" height="1.55" fill="#f07d82"/>
<rect x="81.35" y="299.51" width="7.08" height="1.55" fill="#f9c9cb"/>
<rect x="88.38" y="299.51" width="7.08" height="1.55" fill="#f39ba0"/>
<rect x="95.40" y="299.51" width="7.08" height="1.55" fill="#f8c6c9"/>
<rect x="102.42" y="299.51" width="7.08" height="1.55" fill="#fdf1f2"/>
<rect x="109.45" y="299.51" width="7.08" height="1.55" fill="#f9cacc"/>
<rect x="116.47" y="299.51" width="7.08" height="1.55" fill="#f8c1c4"/>
<rect x="39.20" y="301.00" width="7.08" height="1.55" fill="#6d74c3"/>
<rect x="46.23" y="301.00" width="7.08" height="1.55" fill="#8f95d1"/>
<rect x="53.25" y="301.00" width="7.08" height="1.55" fill="#878dce"/>
<rect x="60.28" y="301.00" width="7.08" height="1.55" fill="#fad8da"/>
<rect x="67.30" y="301.00" width="7.08" height="1.55" fill="#ef747a"/>
<rect x="74.33" y="301.00" width="7.08" height="1.55" fill="#f3999d"/>
<rect x="81.35" y="301.00" width="7.08" height="1.55" fill="#fcfcfe"/>
<rect x="88.38" y="301.00" width="7.08" height="1.55" fill="#f4a6aa"/>
<rect x="95.40" y="301.00" width="7.08" height="1.55" fill="#fbdfe1"/>
<rect x="102.42" y="301.00" width="7.08" height="1.55" fill="#f9d0d2"/>
<rect x="109.45" y="301.00" width="7.08" height="1.55" fill="#fdeced"/>
<rect x="116.47" y="301.00" width="7.08" height="1.55" fill="#f8c7c9"/>
<rect x="39.20" y="302.49" width="7.08" height="1.55" fill="#7f85cb"/>
<rect x="46.23" y="302.49" width="7.08" height="1.55" fill="#8288cc"/>
<rect x="53.25" y="302.49" width="7.08" height="1.55" fill="#787fc8"/>
<rect x="60.28" y="302.49" width="7.08" height="1.55" fill="#f1868c"/>
<rect x="67.30" y="302.49" width="7.08" height="1.55" fill="#f08489"/>
<rect x="74.33" y="302.49" width="7.08" height="1.55" fill="#f28d92"/>
<rect x="81.35" y="302.49" width="7.08" height="1.55" fill="#fefafa"/>
<rect x="88.38" y="302.49" width="7.08" height="1.55" fill="#fbdedf"/>
<rect x="95.40" y="302.49" width="7.08" height="1.55" fill="#fad2d4"/>
<rect x="102.42" y="302.49" width="7.08" height="1.55" fill="#f8c1c4"/>
<rect x="109.45" y="302.49" width="7.08" height="1.55" fill="#f9ccce"/>
<rect x="116.47" y="302.49" width="7.08" height="1.55" fill="#fbe0e1"/>
<rect x="39.20" y="303.98" width="7.08" height="1.55" fill="#8187cb"/>
<rect x="46.23" y="303.98" width="7.08" height="1.55" fill="#9ca1d6"/>
<rect x="53.25" y="303.98" width="7.08" height="1.55" fill="#7f85cb"/>
<rect x="60.28" y="303.98" width="7.08" height="1.55" fill="#f39da1"/>
<rect x="67.30" y="303.98" width="7.08" height="1.55" fill="#ec5b62"/>
<rect x="74.33" y="303.98" width="7.08" height="1.55" fill="#f1858b"/>
<rect x="81.35" y="303.98" width="7.08" height="1.55" fill="#fad2d4"/>
<rect x="88.38" y="303.98" width="7.08" height="1.55" fill="#fad2d4"/>
<rect x="95.40" y="303.98" width="7.08" height="1.55" fill="#f7bcbf"/>
<rect x="102.42" y="303.98" width="7.08" height="1.55" fill="#fdeeef"/>
<rect x="109.45" y="303.98" width="7.08" height="1.55" fill="#f7bcbf"/>
<rect x="116.47" y="303.98" width="7.08" height="1.55" fill="#fbe1e2"/>
<rect x="39.20" y="305.47" width="7.08" height="1.55" fill="#4a53b5"/>
<rect x="46.23" y="305.47" width="7.08" height="1.55" fill="#cfd1eb"/>
<rect x="53.25" y="305.47" width="7.08" height="1.55" fill="#636bbf"/>
<rect x="60.28" y="305.47" width="7.08" height="1.55" fill="#f9cdcf"/>
<rect x="67.30" y="305.47" width="7.08" height="1.55" fill="#f49ea2"/>
<rect x="74.33" y="305.47" width="7.08" height="1.55" fill="#f5a9ad"/>
<rect x="81.35" y="305.47" width="7.08" height="1.55" fill="#fbe1e2"/>
<rect x="88.38" y="305.47" width="7.08" height="1.55" fill="#f9ced1"/>
<rect x="95.40" y="305.47" width="7.08" height="1.55" fill="#fce7e8"/>
<rect x="102.42" y="305.47" width="7.08" height="1.55" fill="#fefeff"/>
<rect x="109.45" y="305.47" width="7.08" height="1.55" fill="#fbdadc"/>
<rect x="116.47" y="305.47" width="7.08" height="1.55" fill="#f8c6c9"/>
<rect x="39.20" y="306.97" width="7.08" height="1.55" fill="#4a53b5"/>
<rect x="46.23" y="306.97" width="7.08" height="1.55" fill="#bfc2e5"/>
<rect x="53.25" y="306.97" width="7.08" height="1.55" fill="#9499d3"/>
<rect x="60.28" y="306.97" width="7.08" height="1.55" fill="#fdf1f2"/>
<rect x="67.30" y="306.97" width="7.08" height="1.55" fill="#f9cfd1"/>
<rect x="74.33" y="306.97" width="7.08" height="1.55" fill="#f7bec1"/>
<rect x="81.35" y="306.97" width="7.08" height="1.55" fill="#fdf0f1"/>
<rect x="88.38" y="306.97" width="7.08" height="1.55" fill="#fffbfb"/>
<rect x="95.40" y="306.97" width="7.08" height="1.55" fill="#fef3f4"/>
<rect x="102.42" y="306.97" width="7.08" height="1.55" fill="#fce6e7"/>
<rect x="109.45" y="306.97" width="7.08" height="1.55" fill="#fffefe"/>
<rect x="116.47" y="306.97" width="7.08" height="1.55" fill="#f8c2c5"/>
<rect x="39.20" y="308.46" width="7.08" height="1.55" fill="#4c55b6"/>
<rect x="46.23" y="308.46" width="7.08" height="1.55" fill="#cbcdea"/>
<rect x="53.25" y="308.46" width="7.08" height="1.55" fill="#a4a8da"/>
<rect x="60.28" y="308.46" width="7.08" height="1.55" fill="#f5a6aa"/>
<rect x="67.30" y="308.46" width="7.08" height="1.55" fill="#f08288"/>
<rect x="74.33" y="308.46" width="7.08" height="1.55" fill="#f5aaae"/>
<rect x="81.35" y="308.46" width="7.08" height="1.55" fill="#fbdddf"/>
<rect x="88.38" y="308.46" width="7.08" height="1.55" fill="#fdeeef"/>
<rect x="95.40" y="308.46" width="7.08" height="1.55" fill="#fffdfd"/>
<rect x="102.42" y="308.46" width="7.08" height="1.55" fill="#fef9fa"/>
<rect x="109.45" y="308.46" width="7.08" height="1.55" fill="#f9c8cb"/>
<rect x="116.47" y="308.46" width="7.08" height="1.55" fill="#f7b8bb"/>
<rect x="39.20" y="309.95" width="7.08" height="1.55" fill="#535bb9"/>
<rect x="46.23" y="309.95" width="7.08" height="1.55" fill="#c1c4e6"/>
<rect x="53.25" y="309.95" width="7.08" height="1.55" fill="#7d83ca"/>
<rect x="60.28" y="309.95" width="7.08" height="1.55" fill="#f08389"/>
<rect x="67.30" y="309.95" width="7.08" height="1.55" fill="#ea4a52"/>
<rect x="74.33" y="309.95" width="7.08" height="1.55" fill="#f5adb1"/>
<rect x="81.35" y="309.95" width="7.08" height="1.55" fill="#fce2e3"/>
<rect x="88.38" y="309.95" width="7.08" height="1.55" fill="#fdeaeb"/>
<rect x="95.40" y="309.95" width="7.08" height="1.55" fill="#fdf1f1"/>
<rect x="102.42" y="309.95" width="7.08" height="1.55" fill="#fbdadb"/>
<rect x="109.45" y="309.95" width="7.08" height="1.55" fill="#f49ea2"/>
<rect x="116.47" y="309.95" width="7.08" height="1.55" fill="#f9cdd0"/>
<rect x="39.20" y="311.44" width="7.08" height="1.55" fill="#555eba"/>
<rect x="46.23" y="311.44" width="7.08" height="1.55" fill="#c5c7e7"/>
<rect x="53.25" y="311.44" width="7.08" height="1.55" fill="#8a90cf"/>
<rect x="60.28" y="311.44" width="7.08" height="1.55" fill="#f7b7bb"/>
<rect x="67.30" y="311.44" width="7.08" height="1.55" fill="#ec5d64"/>
<rect x="74.33" y="311.44" width="7.08" height="1.55" fill="#f39a9f"/>
<rect x="81.35" y="311.44" width="7.08" height="1.55" fill="#f9cfd1"/>
<rect x="88.38" y="311.44" width="7.08" height="1.55" fill="#fce6e7"/>
<rect x="95.40" y="311.44" width="7.08" height="1.55" fill="#fbdbdc"/>
<rect x="102.42" y="311.44" width="7.08" height="1.55" fill="#f8c4c6"/>
<rect x="109.45" y="311.44" width="7.08" height="1.55" fill="#f9d0d2"/>
<rect x="116.47" y="311.44" width="7.08" height="1.55" fill="#fad3d4"/>
<rect x="39.20" y="312.93" width="7.08" height="1.55" fill="#656dc0"/>
<rect x="46.23" y="312.93" width="7.08" height="1.55" fill="#dbddf0"/>
<rect x="53.25" y="312.93" width="7.08" height="1.55" fill="#737ac6"/>
<rect x="60.28" y="312.93" width="7.08" height="1.55" fill="#fad6d8"/>
<rect x="67.30" y="312.93" width="7.08" height="1.55" fill="#ed6a70"/>
<rect x="74.33" y="312.93" width="7.08" height="1.55" fill="#f7b8bc"/>
<rect x="81.35" y="312.93" width="7.08" height="1.55" fill="#fad4d6"/>
<rect x="88.38" y="312.93" width="7.08" height="1.55" fill="#fce9ea"/>
<rect x="95.40" y="312.93" width="7.08" height="1.55" fill="#fdeced"/>
<rect x="102.42" y="312.93" width="7.08" height="1.55" fill="#fad8d9"/>
<rect x="109.45" y="312.93" width="7.08" height="1.55" fill="#f0f1f9"/>
<rect x="116.47" y="312.93" width="7.08" height="1.55" fill="#fad3d5"/>
<rect x="39.20" y="314.42" width="7.08" height="1.55" fill="#747bc6"/>
<rect x="46.23" y="314.42" width="7.08" height="1.55" fill="#e3e4f3"/>
<rect x="53.25" y="314.42" width="7.08" height="1.55" fill="#9298d3"/>
<rect x="60.28" y="314.42" width="7.08" height="1.55" fill="#f8c2c5"/>
<rect x="67.30" y="314.42" width="7.08" height="1.55" fill="#f08389"/>
<rect x="74.33" y="314.42" width="7.08" height="1.55" fill="#fdeaeb"/>
<rect x="81.35" y="314.42" width="7.08" height="1.55" fill="#fad4d6"/>
<rect x="88.38" y="314.42" width="7.08" height="1.55" fill="#f9cbce"/>
<rect x="95.40" y="314.42" width="7.08" height="1.55" fill="#fbdbdd"/>
<rect x="102.42" y="314.42" width="7.08" height="1.55" fill="#fad3d5"/>
<rect x="109.45" y="314.42" width="7.08" height="1.55" fill="#fef6f7"/>
<rect x="116.47" y="314.42" width="7.08" height="1.55" fill="#fce7e8"/>
<rect x="39.20" y="315.91" width="7.08" height="1.55" fill="#737ac6"/>
<rect x="46.23" y="315.91" width="7.08" height="1.55" fill="#d5d7ee"/>
<rect x="53.25" y="315.91" width="7.08" height="1.55" fill="#a5aada"/>
<rect x="60.28" y="315.91" width="7.08" height="1.55" fill="#f7bcbf"/>
<rect x="67.30" y="315.91" width="7.08" height="1.55" fill="#f6afb2"/>
<rect x="74.33" y="315.91" width="7.08" height="1.55" fill="#f28f94"/>
<rect x="81.35" y="315.91" width="7.08" height="1.55" fill="#fdebec"/>
<rect x="88.38" y="315.91" width="7.08" height="1.55" fill="#f2f2f9"/>
<rect x="95.40" y="315.91" width="7.08" height="1.55" fill="#f7b9bc"/>
<rect x="102.42" y="315.91" width="7.08" height="1.55" fill="#f7b8bb"/>
<rect x="109.45" y="315.91" width="7.08" height="1.55" fill="#f9cbcd"/>
<rect x="116.47" y="315.91" width="7.08" height="1.55" fill="#f9cdcf"/>
<rect x="39.20" y="317.40" width="7.08" height="1.55" fill="#7b82c9"/>
<rect x="46.23" y="317.40" width="7.08" height="1.55" fill="#8288cc"/>
<rect x="53.25" y="317.40" width="7.08" height="1.55" fill="#8f94d1"/>
<rect x="60.28" y="317.40" width="7.08" height="1.55" fill="#fbdfe0"/>
<rect x="67.30" y="317.40" width="7.08" height="1.55" fill="#f8c3c6"/>
<rect x="74.33" y="317.40" width="7.08" height="1.55" fill="#f18c91"/>
<rect x="81.35" y="317.40" width="7.08" height="1.55" fill="#fce9ea"/>
<rect x="88.38" y="317.40" width="7.08" height="1.55" fill="#fdf1f1"/>
<rect x="95.40" y="317.40" width="7.08" height="1.55" fill="#fce2e4"/>
<rect x="102.42" y="317.40" width="7.08" height="1.55" fill="#f7b9bc"/>
<rect x="109.45" y="317.40" width="7.08" height="1.55" fill="#fefafb"/>
<rect x="116.47" y="317.40" width="7.08" height="1.55" fill="#fce9ea"/>
<rect x="39.20" y="318.90" width="7.08" height="1.55" fill="#8389cc"/>
<rect x="46.23" y="318.90" width="7.08" height="1.55" fill="#969cd4"/>
<rect x="53.25" y="318.90" width="7.08" height="1.55" fill="#9a9fd6"/>
<rect x="60.28" y="318.90" width="7.08" height="1.55" fill="#f7b9bc"/>
<rect x="67.30" y="318.90" width="7.08" height="1.55" fill="#fad1d3"/>
<rect x="74.33" y="318.90" width="7.08" height="1.55" fill="#f6afb3"/>
<rect x="81.35" y="318.90" width="7.08" height="1.55" fill="#e6e7f5"/>
<rect x="88.38" y="318.90" width="7.08" height="1.55" fill="#fad2d4"/>
<rect x="95.40" y="318.90" width="7.08" height="1.55" fill="#fdeeef"/>
<rect x="102.42" y="318.90" width="7.08" height="1.55" fill="#fad5d7"/>
<rect x="109.45" y="318.90" width="7.08" height="1.55" fill="#fcfcfe"/>
<rect x="116.47" y="318.90" width="7.08" height="1.55" fill="#fce6e7"/>
<rect x="39.20" y="320.39" width="7.08" height="1.55" fill="#858bcd"/>
<rect x="46.23" y="320.39" width="7.08" height="1.55" fill="#9ea3d7"/>
<rect x="53.25" y="320.39" width="7.08" height="1.55" fill="#858bcd"/>
<rect x="60.28" y="320.39" width="7.08" height="1.55" fill="#f5adb0"/>
<rect x="67.30" y="320.39" width="7.08" height="1.55" fill="#f7b8bb"/>
<rect x="74.33" y="320.39" width="7.08" height="1.55" fill="#ef767c"/>
<rect x="81.35" y="320.39" width="7.08" height="1.55" fill="#c2c5e6"/>
<rect x="88.38" y="320.39" width="7.08" height="1.55" fill="#d6d8ee"/>
<rect x="95.40" y="320.39" width="7.08" height="1.55" fill="#b4b8e0"/>
<rect x="102.42" y="320.39" width="7.08" height="1.55" fill="#fbe1e2"/>
<rect x="109.45" y="320.39" width="7.08" height="1.55" fill="#f9d0d2"/>
<rect x="116.47" y="320.39" width="7.08" height="1.55" fill="#fce3e4"/>
<rect x="39.20" y="321.88" width="7.08" height="1.55" fill="#7e84ca"/>
<rect x="46.23" y="321.88" width="7.08" height="1.55" fill="#8187cb"/>
<rect x="53.25" y="321.88" width="7.08" height="1.55" fill="#999ed5"/>
<rect x="60.28" y="321.88" width="7.08" height="1.55" fill="#f6b5b8"/>
<rect x="67.30" y="321.88" width="7.08" height="1.55" fill="#f39a9f"/>
<rect x="74.33" y="321.88" width="7.08" height="1.55" fill="#ec5e65"/>
<rect x="81.35" y="321.88" width="7.08" height="1.55" fill="#f3f3fa"/>
<rect x="88.38" y="321.88" width="7.08" height="1.55" fill="#dbddf0"/>
<rect x="95.40" y="321.88" width="7.08" height="1.55" fill="#d1d3ec"/>
<rect x="102.42" y="321.88" width="7.08" height="1.55" fill="#f9c9cb"/>
<rect x="109.45" y="321.88" width="7.08" height="1.55" fill="#f7bfc1"/>
<rect x="116.47" y="321.88" width="7.08" height="1.55" fill="#fce6e7"/>
<rect x="39.20" y="323.37" width="7.08" height="1.55" fill="#5d65bd"/>
<rect x="46.23" y="323.37" width="7.08" height="1.55" fill="#888ece"/>
<rect x="53.25" y="323.37" width="7.08" height="1.55" fill="#9ba0d6"/>
<rect x="60.28" y="323.37" width="7.08" height="1.55" fill="#f9cdcf"/>
<rect x="67.30" y="323.37" width="7.08" height="1.55" fill="#f07c82"/>
<rect x="74.33" y="323.37" width="7.08" height="1.55" fill="#ed686f"/>
<rect x="81.35" y="323.37" width="7.08" height="1.55" fill="#cdd0eb"/>
<rect x="88.38" y="323.37" width="7.08" height="1.55" fill="#d2d4ec"/>
<rect x="95.40" y="323.37" width="7.08" height="1.55" fill="#dddff1"/>
<rect x="102.42" y="323.37" width="7.08" height="1.55" fill="#f9cbcd"/>
<rect x="109.45" y="323.37" width="7.08" height="1.55" fill="#fbd9db"/>
<rect x="116.47" y="323.37" width="7.08" height="1.55" fill="#fbdee0"/>
<rect x="39.20" y="324.86" width="7.08" height="1.55" fill="#424bb2"/>
<rect x="46.23" y="324.86" width="7.08" height="1.55" fill="#878dce"/>
<rect x="53.25" y="324.86" width="7.08" height="1.55" fill="#9096d2"/>
<rect x="60.28" y="324.86" width="7.08" height="1.55" fill="#fbddde"/>
<rect x="67.30" y="324.86" width="7.08" height="1.55" fill="#ef797f"/>
<rect x="74.33" y="324.86" width="7.08" height="1.55" fill="#ec6168"/>
<rect x="81.35" y="324.86" width="7.08" height="1.55" fill="#bdc0e4"/>
<rect x="88.38" y="324.86" width="7.08" height="1.55" fill="#a0a4d8"/>
<rect x="95.40" y="324.86" width="7.08" height="1.55" fill="#e2e4f3"/>
<rect x="102.42" y="324.86" width="7.08" height="1.55" fill="#f6b4b8"/>
<rect x="109.45" y="324.86" width="7.08" height="1.55" fill="#fffdfd"/>
<rect x="116.47" y="324.86" width="7.08" height="1.55" fill="#fbd9db"/>
<rect x="39.20" y="326.35" width="7.08" height="1.55" fill="#636bbf"/>
<rect x="46.23" y="326.35" width="7.08" height="1.55" fill="#656cc0"/>
<rect x="53.25" y="326.35" width="7.08" height="1.55" fill="#7f85cb"/>
<rect x="60.28" y="326.35" width="7.08" height="1.55" fill="#f5abaf"/>
<rect x="67.30" y="326.35" width="7.08" height="1.55" fill="#f28f94"/>
<rect x="74.33" y="326.35" width="7.08" height="1.55" fill="#ed676d"/>
<rect x="81.35" y="326.35" width="7.08" height="1.55" fill="#eaebf6"/>
<rect x="88.38" y="326.35" width="7.08" height="1.55" fill="#aaafdc"/>
<rect x="95.40" y="326.35" width="7.08" height="1.55" fill="#b6bae1"/>
<rect x="102.42" y="326.35" width="7.08" height="1.55" fill="#ec5d64"/>
<rect x="109.45" y="326.35" width="7.08" height="1.55" fill="#fef6f6"/>
<rect x="116.47" y="326.35" width="7.08" height="1.55" fill="#fbdbdd"/>
<rect x="39.20" y="327.84" width="7.08" height="1.55" fill="#9095d1"/>
<rect x="46.23" y="327.84" width="7.08" height="1.55" fill="#7d84ca"/>
<rect x="53.25" y="327.84" width="7.08" height="1.55" fill="#8187cb"/>
<rect x="60.28" y="327.84" width="7.08" height="1.55" fill="#f7b9bc"/>
<rect x="67.30" y="327.84" width="7.08" height="1.55" fill="#f28d92"/>
<rect x="74.33" y="327.84" width="7.08" height="1.55" fill="#e83e46"/>
<rect x="81.35" y="327.84" width="7.08" height="1.55" fill="#dee0f2"/>
<rect x="88.38" y="327.84" width="7.08" height="1.55" fill="#babde3"/>
<rect x="95.40" y="327.84" width="7.08" height="1.55" fill="#bec1e4"/>
<rect x="102.42" y="327.84" width="7.08" height="1.55" fill="#f28f94"/>
<rect x="109.45" y="327.84" width="7.08" height="1.55" fill="#fad2d4"/>
<rect x="116.47" y="327.84" width="7.08" height="1.55" fill="#fbdddf"/>
<rect x="39.20" y="329.33" width="7.08" height="1.55" fill="#8e94d1"/>
<rect x="46.23" y="329.33" width="7.08" height="1.55" fill="#979cd5"/>
<rect x="53.25" y="329.33" width="7.08" height="1.55" fill="#dadcf0"/>
<rect x="60.28" y="329.33" width="7.08" height="1.55" fill="#fce8e9"/>
<rect x="67.30" y="329.33" width="7.08" height="1.55" fill="#f5acaf"/>
<rect x="74.33" y="329.33" width="7.08" height="1.55" fill="#f3999d"/>
<rect x="81.35" y="329.33" width="7.08" height="1.55" fill="#d9dbf0"/>
<rect x="88.38" y="329.33" width="7.08" height="1.55" fill="#b1b4df"/>
<rect x="95.40" y="329.33" width="7.08" height="1.55" fill="#c1c4e6"/>
<rect x="102.42" y="329.33" width="7.08" height="1.55" fill="#f5a7aa"/>
<rect x="109.45" y="329.33" width="7.08" height="1.55" fill="#fad3d5"/>
<rect x="116.47" y="329.33" width="7.08" height="1.55" fill="#f8c2c4"/>
<rect x="39.20" y="330.83" width="7.08" height="1.55" fill="#7d83ca"/>
<rect x="46.23" y="330.83" width="7.08" height="1.55" fill="#d1d4ec"/>
<rect x="53.25" y="330.83" width="7.08" height="1.55" fill="#ced0eb"/>
<rect x="60.28" y="330.83" width="7.08" height="1.55" fill="#fdf0f1"/>
<rect x="67.30" y="330.83" width="7.08" height="1.55" fill="#ef767c"/>
<rect x="74.33" y="330.83" width="7.08" height="1.55" fill="#f9cacc"/>
<rect x="81.35" y="330.83" width="7.08" height="1.55" fill="#fdedee"/>
<rect x="88.38" y="330.83" width="7.08" height="1.55" fill="#878cce"/>
<rect x="95.40" y="330.83" width="7.08" height="1.55" fill="#b6b9e1"/>
<rect x="102.42" y="330.83" width="7.08" height="1.55" fill="#ef767c"/>
<rect x="109.45" y="330.83" width="7.08" height="1.55" fill="#f5aaad"/>
<rect x="116.47" y="330.83" width="7.08" height="1.55" fill="#f8c0c2"/>
<rect x="39.20" y="332.32" width="7.08" height="1.55" fill="#676fc1"/>
<rect x="46.23" y="332.32" width="7.08" height="1.55" fill="#b7bae1"/>
<rect x="53.25" y="332.32" width="7.08" height="1.55" fill="#dddff1"/>
<rect x="60.28" y="332.32" width="7.08" height="1.55" fill="#fefafa"/>
<rect x="67.30" y="332.32" width="7.08" height="1.55" fill="#ec6168"/>
<rect x="74.33" y="332.32" width="7.08" height="1.55" fill="#fad7d9"/>
<rect x="81.35" y="332.32" width="7.08" height="1.55" fill="#fdeff0"/>
<rect x="88.38" y="332.32" width="7.08" height="1.55" fill="#cacde9"/>
<rect x="95.40" y="332.32" width="7.08" height="1.55" fill="#fdf1f2"/>
<rect x="102.42" y="332.32" width="7.08" height="1.55" fill="#ed6a70"/>
<rect x="109.45" y="332.32" width="7.08" height="1.55" fill="#e83c45"/>
<rect x="116.47" y="332.32" width="7.08" height="1.55" fill="#fceaeb"/>
<rect x="39.20" y="333.81" width="7.08" height="1.55" fill="#4d56b6"/>
<rect x="46.23" y="333.81" width="7.08" height="1.55" fill="#5d65bd"/>
<rect x="53.25" y="333.81" width="7.08" height="1.55" fill="#e7e8f5"/>
<rect x="60.28" y="333.81" width="7.08" height="1.55" fill="#f8c6c9"/>
<rect x="67.30" y="333.81" width="7.08" height="1.55" fill="#f28f94"/>
<rect x="74.33" y="333.81" width="7.08" height="1.55" fill="#fafafd"/>
<rect x="81.35" y="333.81" width="7.08" height="1.55" fill="#ecedf7"/>
<rect x="88.38" y="333.81" width="7.08" height="1.55" fill="#eaebf6"/>
<rect x="95.40" y="333.81" width="7.08" height="1.55" fill="#f7f7fc"/>
<rect x="102.42" y="333.81" width="7.08" height="1.55" fill="#ec5b62"/>
<rect x="109.45" y="333.81" width="7.08" height="1.55" fill="#e83e46"/>
<rect x="116.47" y="333.81" width="7.08" height="1.55" fill="#f8c5c8"/>
<rect x="39.20" y="335.30" width="7.08" height="1.55" fill="#5058b7"/>
<rect x="46.23" y="335.30" width="7.08" height="1.55" fill="#777ec7"/>
<rect x="53.25" y="335.30" width="7.08" height="1.55" fill="#c1c4e6"/>
<rect x="60.28" y="335.30" width="7.08" height="1.55" fill="#f7bfc2"/>
<rect x="67.30" y="335.30" width="7.08" height="1.55" fill="#f2f2fa"/>
<rect x="74.33" y="335.30" width="7.08" height="1.55" fill="#fffbfb"/>
<rect x="81.35" y="335.30" width="7.08" height="1.55" fill="#e4e5f4"/>
<rect x="88.38" y="335.30" width="7.08" height="1.55" fill="#dee0f1"/>
<rect x="95.40" y="335.30" width="7.08" height="1.55" fill="#aeb2de"/>
<rect x="102.42" y="335.30" width="7.08" height="1.55" fill="#ed646a"/>
<rect x="109.45" y="335.30" width="7.08" height="1.55" fill="#f07f85"/>
<rect x="116.47" y="335.30" width="7.08" height="1.55" fill="#f3989c"/>
<rect x="39.20" y="336.79" width="7.08" height="1.55" fill="#555db9"/>
<rect x="46.23" y="336.79" width="7.08" height="1.55" fill="#c2c5e6"/>
<rect x="53.25" y="336.79" width="7.08" height="1.55" fill="#c5c8e7"/>
<rect x="60.28" y="336.79" width="7.08" height="1.55" fill="#fefafa"/>
<rect x="67.30" y="336.79" width="7.08" height="1.55" fill="#fef7f7"/>
<rect x="74.33" y="336.79" width="7.08" height="1.55" fill="#f4a3a7"/>
<rect x="81.35" y="336.79" width="7.08" height="1.55" fill="#dcdef1"/>
<rect x="88.38" y="336.79" width="7.08" height="1.55" fill="#c8cbe9"/>
<rect x="95.40" y="336.79" width="7.08" height="1.55" fill="#a6aadb"/>
<rect x="102.42" y="336.79" width="7.08" height="1.55" fill="#f1878d"/>
<rect x="109.45" y="336.79" width="7.08" height="1.55" fill="#ec5c63"/>
<rect x="116.47" y="336.79" width="7.08" height="1.55" fill="#f5a9ad"/>
<rect x="39.20" y="338.28" width="7.08" height="1.55" fill="#6169bf"/>
<rect x="46.23" y="338.28" width="7.08" height="1.55" fill="#999ed5"/>
<rect x="53.25" y="338.28" width="7.08" height="1.55" fill="#bbbfe3"/>
<rect x="60.28" y="338.28" width="7.08" height="1.55" fill="#fdeeef"/>
<rect x="67.30" y="338.28" width="7.08" height="1.55" fill="#fbe1e2"/>
<rect x="74.33" y="338.28" width="7.08" height="1.55" fill="#f8c1c4"/>
<rect x="81.35" y="338.28" width="7.08" height="1.55" fill="#bcbfe3"/>
<rect x="88.38" y="338.28" width="7.08" height="1.55" fill="#d9daef"/>
<rect x="95.40" y="338.28" width="7.08" height="1.55" fill="#c9cce9"/>
<rect x="102.42" y="338.28" width="7.08" height="1.55" fill="#ee6e74"/>
<rect x="109.45" y="338.28" width="7.08" height="1.55" fill="#e7323b"/>
<rect x="116.47" y="338.28" width="7.08" height="1.55" fill="#f39a9e"/>
<rect x="39.20" y="339.77" width="7.08" height="1.55" fill="#777ec8"/>
<rect x="46.23" y="339.77" width="7.08" height="1.55" fill="#898ecf"/>
<rect x="53.25" y="339.77" width="7.08" height="1.55" fill="#bfc3e5"/>
<rect x="60.28" y="339.77" width="7.08" height="1.55" fill="#f9ccce"/>
<rect x="67.30" y="339.77" width="7.08" height="1.55" fill="#fad6d8"/>
<rect x="74.33" y="339.77" width="7.08" height="1.55" fill="#f6b4b8"/>
<rect x="81.35" y="339.77" width="7.08" height="1.55" fill="#c5c8e7"/>
<rect x="88.38" y="339.77" width="7.08" height="1.55" fill="#fef6f7"/>
<rect x="95.40" y="339.77" width="7.08" height="1.55" fill="#cfd2ec"/>
<rect x="102.42" y="339.77" width="7.08" height="1.55" fill="#f08287"/>
<rect x="109.45" y="339.77" width="7.08" height="1.55" fill="#eb575e"/>
<rect x="116.47" y="339.77" width="7.08" height="1.55" fill="#f39da2"/>
<rect x="39.20" y="341.27" width="7.08" height="1.55" fill="#8d93d0"/>
<rect x="46.23" y="341.27" width="7.08" height="1.55" fill="#adb1de"/>
<rect x="53.25" y="341.27" width="7.08" height="1.55" fill="#999ed5"/>
<rect x="60.28" y="341.27" width="7.08" height="1.55" fill="#f8c2c5"/>
<rect x="67.30" y="341.27" width="7.08" height="1.55" fill="#fbdadc"/>
<rect x="74.33" y="341.27" width="7.08" height="1.55" fill="#f4a3a7"/>
<rect x="81.35" y="341.27" width="7.08" height="1.55" fill="#c6c9e8"/>
<rect x="88.38" y="341.27" width="7.08" height="1.55" fill="#f6f6fb"/>
<rect x="95.40" y="341.27" width="7.08" height="1.55" fill="#e7e9f5"/>
<rect x="102.42" y="341.27" width="7.08" height="1.55" fill="#f08288"/>
<rect x="109.45" y="341.27" width="7.08" height="1.55" fill="#e9434b"/>
<rect x="116.47" y="341.27" width="7.08" height="1.55" fill="#f5aaae"/>
<rect x="39.20" y="342.76" width="7.08" height="1.55" fill="#737ac6"/>
<rect x="46.23" y="342.76" width="7.08" height="1.55" fill="#adb1de"/>
<rect x="53.25" y="342.76" width="7.08" height="1.55" fill="#343eac"/>
<rect x="60.28" y="342.76" width="7.08" height="1.55" fill="#f6afb3"/>
<rect x="67.30" y="342.76" width="7.08" height="1.55" fill="#fad5d7"/>
<rect x="74.33" y="342.76" width="7.08" height="1.55" fill="#f9cdd0"/>
<rect x="81.35" y="342.76" width="7.08" height="1.55" fill="#b1b5df"/>
<rect x="88.38" y="342.76" width="7.08" height="1.55" fill="#d1d3ec"/>
<rect x="95.40" y="342.76" width="7.08" height="1.55" fill="#dcdef1"/>
<rect x="102.42" y="342.76" width="7.08" height="1.55" fill="#ef7a80"/>
<rect x="109.45" y="342.76" width="7.08" height="1.55" fill="#ea4951"/>
<rect x="116.47" y="342.76" width="7.08" height="1.55" fill="#f5aaae"/>
<rect x="39.20" y="344.25" width="7.08" height="1.55" fill="#454eb3"/>
<rect x="46.23" y="344.25" width="7.08" height="1.55" fill="#7077c5"/>
<rect x="53.25" y="344.25" width="7.08" height="1.55" fill="#4049b1"/>
<rect x="60.28" y="344.25" width="7.08" height="1.55" fill="#fbdadc"/>
<rect x="67.30" y="344.25" width="7.08" height="1.55" fill="#fef3f4"/>
<rect x="74.33" y="344.25" width="7.08" height="1.55" fill="#f7f8fc"/>
<rect x="81.35" y="344.25" width="7.08" height="1.55" fill="#c4c7e7"/>
<rect x="88.38" y="344.25" width="7.08" height="1.55" fill="#c5c8e7"/>
<rect x="95.40" y="344.25" width="7.08" height="1.55" fill="#d0d3ec"/>
<rect x="102.42" y="344.25" width="7.08" height="1.55" fill="#f28d92"/>
<rect x="109.45" y="344.25" width="7.08" height="1.55" fill="#eb575e"/>
<rect x="116.47" y="344.25" width="7.08" height="1.55" fill="#f6b2b5"/>
<rect x="39.20" y="345.74" width="7.08" height="1.55" fill="#4750b4"/>
<rect x="46.23" y="345.74" width="7.08" height="1.55" fill="#5c64bc"/>
<rect x="53.25" y="345.74" width="7.08" height="1.55" fill="#5c64bc"/>
<rect x="60.28" y="345.74" width="7.08" height="1.55" fill="#f9c8cb"/>
<rect x="67.30" y="345.74" width="7.08" height="1.55" fill="#f7b7bb"/>
<rect x="74.33" y="345.74" width="7.08" height="1.55" fill="#fce1e3"/>
<rect x="81.35" y="345.74" width="7.08" height="1.55" fill="#fbdadc"/>
<rect x="88.38" y="345.74" width="7.08" height="1.55" fill="#f9ccce"/>
<rect x="95.40" y="345.74" width="7.08" height="1.55" fill="#fbddde"/>
<rect x="102.42" y="345.74" width="7.08" height="1.55" fill="#fad7d9"/>
<rect x="109.45" y="345.74" width="7.08" height="1.55" fill="#f5aeb1"/>
<rect x="116.47" y="345.74" width="7.08" height="1.55" fill="#f5aeb2"/>
<rect x="39.20" y="347.23" width="7.08" height="1.55" fill="#454eb3"/>
<rect x="46.23" y="347.23" width="7.08" height="1.55" fill="#7a80c9"/>
<rect x="53.25" y="347.23" width="7.08" height="1.55" fill="#5760bb"/>
<rect x="60.28" y="347.23" width="7.08" height="1.55" fill="#f7bfc2"/>
<rect x="67.30" y="347.23" width="7.08" height="1.55" fill="#f9c8cb"/>
<rect x="74.33" y="347.23" width="7.08" height="1.55" fill="#fbdadb"/>
<rect x="81.35" y="347.23" width="7.08" height="1.55" fill="#fce5e6"/>
<rect x="88.38" y="347.23" width="7.08" height="1.55" fill="#f9cbce"/>
<rect x="95.40" y="347.23" width="7.08" height="1.55" fill="#fad2d4"/>
<rect x="102.42" y="347.23" width="7.08" height="1.55" fill="#f9c9cc"/>
<rect x="109.45" y="347.23" width="7.08" height="1.55" fill="#f7bec1"/>
<rect x="116.47" y="347.23" width="7.08" height="1.55" fill="#f08288"/>
<rect x="39.20" y="348.72" width="7.08" height="1.55" fill="#3f48b0"/>
<rect x="46.23" y="348.72" width="7.08" height="1.55" fill="#8f94d1"/>
<rect x="53.25" y="348.72" width="7.08" height="1.55" fill="#757cc7"/>
<rect x="60.28" y="348.72" width="7.08" height="1.55" fill="#f7bdc0"/>
<rect x="67.30" y="348.72" width="7.08" height="1.55" fill="#f7babd"/>
<rect x="74.33" y="348.72" width="7.08" height="1.55" fill="#fdf0f1"/>
<rect x="81.35" y="348.72" width="7.08" height="1.55" fill="#f8c2c5"/>
<rect x="88.38" y="348.72" width="7.08" height="1.55" fill="#fce7e8"/>
<rect x="95.40" y="348.72" width="7.08" height="1.55" fill="#f7babd"/>
<rect x="102.42" y="348.72" width="7.08" height="1.55" fill="#f6b5b8"/>
<rect x="109.45" y="348.72" width="7.08" height="1.55" fill="#f6b5b8"/>
<rect x="116.47" y="348.72" width="7.08" height="1.55" fill="#f3979b"/>
<rect x="39.20" y="350.21" width="7.08" height="1.55" fill="#5961bb"/>
<rect x="46.23" y="350.21" width="7.08" height="1.55" fill="#6970c1"/>
<rect x="53.25" y="350.21" width="7.08" height="1.55" fill="#8187cb"/>
<rect x="60.28" y="350.21" width="7.08" height="1.55" fill="#f6aeb2"/>
<rect x="67.30" y="350.21" width="7.08" height="1.55" fill="#f5aeb2"/>
<rect x="74.33" y="350.21" width="7.08" height="1.55" fill="#f8c7ca"/>
<rect x="81.35" y="350.21" width="7.08" height="1.55" fill="#f6b2b6"/>
<rect x="88.38" y="350.21" width="7.08" height="1.55" fill="#fbdcdd"/>
<rect x="95.40" y="350.21" width="7.08" height="1.55" fill="#f7bec1"/>
<rect x="102.42" y="350.21" width="7.08" height="1.55" fill="#f8c7ca"/>
<rect x="109.45" y="350.21" width="7.08" height="1.55" fill="#f4a4a8"/>
<rect x="116.47" y="350.21" width="7.08" height="1.55" fill="#f9cfd1"/>
<rect x="39.20" y="351.70" width="7.08" height="1.55" fill="#777dc7"/>
<rect x="46.23" y="351.70" width="7.08" height="1.55" fill="#7178c5"/>
<rect x="53.25" y="351.70" width="7.08" height="1.55" fill="#626abf"/>
<rect x="60.28" y="351.70" width="7.08" height="1.55" fill="#fad3d5"/>
<rect x="67.30" y="351.70" width="7.08" height="1.55" fill="#f9c9cb"/>
<rect x="74.33" y="351.70" width="7.08" height="1.55" fill="#f6afb3"/>
<rect x="81.35" y="351.70" width="7.08" height="1.55" fill="#fef4f4"/>
<rect x="88.38" y="351.70" width="7.08" height="1.55" fill="#f9cdd0"/>
<rect x="95.40" y="351.70" width="7.08" height="1.55" fill="#f07e83"/>
<rect x="102.42" y="351.70" width="7.08" height="1.55" fill="#f8c0c3"/>
<rect x="109.45" y="351.70" width="7.08" height="1.55" fill="#f7bcbf"/>
<rect x="116.47" y="351.70" width="7.08" height="1.55" fill="#f7b9bc"/>
<rect x="39.20" y="353.20" width="7.08" height="1.55" fill="#767dc7"/>
<rect x="46.23" y="353.20" width="7.08" height="1.55" fill="#9196d2"/>
<rect x="53.25" y="353.20" width="7.08" height="1.55" fill="#666ec1"/>
<rect x="60.28" y="353.20" width="7.08" height="1.55" fill="#fdedee"/>
<rect x="67.30" y="353.20" width="7.08" height="1.55" fill="#f5adb1"/>
<rect x="74.33" y="353.20" width="7.08" height="1.55" fill="#f8c0c2"/>
<rect x="81.35" y="353.20" width="7.08" height="1.55" fill="#fad2d4"/>
<rect x="88.38" y="353.20" width="7.08" height="1.55" fill="#f9cacd"/>
<rect x="95.40" y="353.20" width="7.08" height="1.55" fill="#f1888d"/>
<rect x="102.42" y="353.20" width="7.08" height="1.55" fill="#f6b6b9"/>
<rect x="109.45" y="353.20" width="7.08" height="1.55" fill="#f07e83"/>
<rect x="116.47" y="353.20" width="7.08" height="1.55" fill="#f4a3a7"/>
<rect x="39.20" y="354.69" width="7.08" height="1.55" fill="#9096d2"/>
<rect x="46.23" y="354.69" width="7.08" height="1.55" fill="#9398d3"/>
<rect x="53.25" y="354.69" width="7.08" height="1.55" fill="#4e57b7"/>
<rect x="60.28" y="354.69" width="7.08" height="1.55" fill="#fbdcdd"/>
<rect x="67.30" y="354.69" width="7.08" height="1.55" fill="#f4a4a8"/>
<rect x="74.33" y="354.69" width="7.08" height="1.55" fill="#f8c8ca"/>
<rect x="81.35" y="354.69" width="7.08" height="1.55" fill="#f9cacc"/>
<rect x="88.38" y="354.69" width="7.08" height="1.55" fill="#fbdedf"/>
<rect x="95.40" y="354.69" width="7.08" height="1.55" fill="#fce6e7"/>
<rect x="102.42" y="354.69" width="7.08" height="1.55" fill="#f8c3c6"/>
<rect x="109.45" y="354.69" width="7.08" height="1.55" fill="#f08489"/>
<rect x="116.47" y="354.69" width="7.08" height="1.55" fill="#f4a1a6"/>
<rect x="39.20" y="356.18" width="7.08" height="1.55" fill="#979cd5"/>
<rect x="46.23" y="356.18" width="7.08" height="1.55" fill="#8e93d1"/>
<rect x="53.25" y="356.18" width="7.08" height="1.55" fill="#b9bde3"/>
<rect x="60.28" y="356.18" width="7.08" height="1.55" fill="#f9cacc"/>
<rect x="67.30" y="356.18" width="7.08" height="1.55" fill="#f6b2b5"/>
<rect x="74.33" y="356.18" width="7.08" height="1.55" fill="#f8c6c8"/>
<rect x="81.35" y="356.18" width="7.08" height="1.55" fill="#f9c9cc"/>
<rect x="88.38" y="356.18" width="7.08" height="1.55" fill="#fbdee0"/>
<rect x="95.40" y="356.18" width="7.08" height="1.55" fill="#fdf0f0"/>
<rect x="102.42" y="356.18" width="7.08" height="1.55" fill="#f4a0a4"/>
<rect x="109.45" y="356.18" width="7.08" height="1.55" fill="#f39ca1"/>
<rect x="116.47" y="356.18" width="7.08" height="1.55" fill="#fdeeee"/>
<rect x="39.20" y="357.67" width="7.08" height="1.55" fill="#858bcd"/>
<rect x="46.23" y="357.67" width="7.08" height="1.55" fill="#969bd4"/>
<rect x="53.25" y="357.67" width="7.08" height="1.55" fill="#dee0f1"/>
<rect x="60.28" y="357.67" width="7.08" height="1.55" fill="#fefafa"/>
<rect x="67.30" y="357.67" width="7.08" height="1.55" fill="#fce9ea"/>
<rect x="74.33" y="357.67" width="7.08" height="1.55" fill="#fad8d9"/>
<rect x="81.35" y="357.67" width="7.08" height="1.55" fill="#f8c6c9"/>
<rect x="88.38" y="357.67" width="7.08" height="1.55" fill="#fdf0f1"/>
<rect x="95.40" y="357.67" width="7.08" height="1.55" fill="#f8c4c6"/>
<rect x="102.42" y="357.67" width="7.08" height="1.55" fill="#f28f94"/>
<rect x="109.45" y="357.67" width="7.08" height="1.55" fill="#f4a4a8"/>
<rect x="116.47" y="357.67" width="7.08" height="1.55" fill="#fad7d8"/>
<rect x="39.20" y="359.16" width="7.08" height="1.55" fill="#5e66bd"/>
<rect x="46.23" y="359.16" width="7.08" height="1.55" fill="#9095d2"/>
<rect x="53.25" y="359.16" width="7.08" height="1.55" fill="#a1a6d9"/>
<rect x="60.28" y="359.16" width="7.08" height="1.55" fill="#fad4d6"/>
<rect x="67.30" y="359.16" width="7.08" height="1.55" fill="#f9c9cc"/>
<rect x="74.33" y="359.16" width="7.08" height="1.55" fill="#fad2d4"/>
<rect x="81.35" y="359.16" width="7.08" height="1.55" fill="#fdebec"/>
<rect x="88.38" y="359.16" width="7.08" height="1.55" fill="#fce6e7"/>
<rect x="95.40" y="359.16" width="7.08" height="1.55" fill="#f6b7ba"/>
<rect x="102.42" y="359.16" width="7.08" height="1.55" fill="#f9cdcf"/>
<rect x="109.45" y="359.16" width="7.08" height="1.55" fill="#f7bbbe"/>
<rect x="116.47" y="359.16" width="7.08" height="1.55" fill="#f5acb0"/>
<rect x="39.20" y="360.65" width="7.08" height="1.55" fill="#343eac"/>
<rect x="46.23" y="360.65" width="7.08" height="1.55" fill="#7f85cb"/>
<rect x="53.25" y="360.65" width="7.08" height="1.55" fill="#bec1e4"/>
<rect x="60.28" y="360.65" width="7.08" height="1.55" fill="#f5a9ac"/>
<rect x="67.30" y="360.65" width="7.08" height="1.55" fill="#f3969b"/>
<rect x="74.33" y="360.65" width="7.08" height="1.55" fill="#f9c8cb"/>
<rect x="81.35" y="360.65" width="7.08" height="1.55" fill="#fffcfc"/>
<rect x="88.38" y="360.65" width="7.08" height="1.55" fill="#fad6d7"/>
<rect x="95.40" y="360.65" width="7.08" height="1.55" fill="#fbdfe0"/>
<rect x="102.42" y="360.65" width="7.08" height="1.55" fill="#fbd9db"/>
<rect x="109.45" y="360.65" width="7.08" height="1.55" fill="#f7bbbe"/>
<rect x="116.47" y="360.65" width="7.08" height="1.55" fill="#f39a9f"/>
<rect x="39.20" y="362.14" width="7.08" height="1.55" fill="#4e56b6"/>
<rect x="46.23" y="362.14" width="7.08" height="1.55" fill="#adb1de"/>
<rect x="53.25" y="362.14" width="7.08" height="1.55" fill="#bbbfe3"/>
<rect x="60.28" y="362.14" width="7.08" height="1.55" fill="#f8c2c5"/>
<rect x="67.30" y="362.14" width="7.08" height="1.55" fill="#f6b2b5"/>
<rect x="74.33" y="362.14" width="7.08" height="1.55" fill="#fcfcfe"/>
<rect x="81.35" y="362.14" width="7.08" height="1.55" fill="#f5f6fb"/>
<rect x="88.38" y="362.14" width="7.08" height="1.55" fill="#fbddde"/>
<rect x="95.40" y="362.14" width="7.08" height="1.55" fill="#fce6e7"/>
<rect x="102.42" y="362.14" width="7.08" height="1.55" fill="#f7b8bb"/>
<rect x="109.45" y="362.14" width="7.08" height="1.55" fill="#f7bfc2"/>
<rect x="116.47" y="362.14" width="7.08" height="1.55" fill="#f7b8bb"/>
<rect x="39.20" y="363.63" width="7.08" height="1.55" fill="#3b45af"/>
<rect x="46.23" y="363.63" width="7.08" height="1.55" fill="#e3e4f3"/>
<rect x="53.25" y="363.63" width="7.08" height="1.55" fill="#d7d9ef"/>
<rect x="60.28" y="363.63" width="7.08" height="1.55" fill="#f8c1c4"/>
<rect x="67.30" y="363.63" width="7.08" height="1.55" fill="#fad9da"/>
<rect x="74.33" y="363.63" width="7.08" height="1.55" fill="#fdf2f2"/>
<rect x="81.35" y="363.63" width="7.08" height="1.55" fill="#fce3e4"/>
<rect x="88.38" y="363.63" width="7.08" height="1.55" fill="#f7babd"/>
<rect x="95.40" y="363.63" width="7.08" height="1.55" fill="#fce9ea"/>
<rect x="102.42" y="363.63" width="7.08" height="1.55" fill="#f5abae"/>
<rect x="109.45" y="363.63" width="7.08" height="1.55" fill="#f7babd"/>
<rect x="116.47" y="363.63" width="7.08" height="1.55" fill="#fad4d6"/>
<rect x="39.20" y="365.13" width="7.08" height="1.55" fill="#414ab1"/>
<rect x="46.23" y="365.13" width="7.08" height="1.55" fill="#bfc3e5"/>
<rect x="53.25" y="365.13" width="7.08" height="1.55" fill="#e0e1f2"/>
<rect x="60.28" y="365.13" width="7.08" height="1.55" fill="#f7bbbe"/>
<rect x="67.30" y="365.13" width="7.08" height="1.55" fill="#fdf0f1"/>
<rect x="74.33" y="365.13" width="7.08" height="1.55" fill="#fad4d6"/>
<rect x="81.35" y="365.13" width="7.08" height="1.55" fill="#f5a8ab"/>
<rect x="88.38" y="365.13" width="7.08" height="1.55" fill="#f7bfc2"/>
<rect x="95.40" y="365.13" width="7.08" height="1.55" fill="#edeef8"/>
<rect x="102.42" y="365.13" width="7.08" height="1.55" fill="#f29397"/>
<rect x="109.45" y="365.13" width="7.08" height="1.55" fill="#f8c5c7"/>
<rect x="116.47" y="365.13" width="7.08" height="1.55" fill="#f9c9cb"/>
<rect x="39.20" y="366.62" width="7.08" height="1.55" fill="#6068be"/>
<rect x="46.23" y="366.62" width="7.08" height="1.55" fill="#babde3"/>
<rect x="53.25" y="366.62" width="7.08" height="1.55" fill="#7b81c9"/>
<rect x="60.28" y="366.62" width="7.08" height="1.55" fill="#fad5d7"/>
<rect x="67.30" y="366.62" width="7.08" height="1.55" fill="#fad5d7"/>
<rect x="74.33" y="366.62" width="7.08" height="1.55" fill="#fad5d7"/>
<rect x="81.35" y="366.62" width="7.08" height="1.55" fill="#f8c1c4"/>
<rect x="88.38" y="366.62" width="7.08" height="1.55" fill="#f4a0a4"/>
<rect x="95.40" y="366.62" width="7.08" height="1.55" fill="#fef5f5"/>
<rect x="102.42" y="366.62" width="7.08" height="1.55" fill="#f28f94"/>
<rect x="109.45" y="366.62" width="7.08" height="1.55" fill="#f3999d"/>
<rect x="116.47" y="366.62" width="7.08" height="1.55" fill="#f8c2c4"/>
<rect x="39.20" y="368.11" width="7.08" height="1.55" fill="#565eba"/>
<rect x="46.23" y="368.11" width="7.08" height="1.55" fill="#bdc0e4"/>
<rect x="53.25" y="368.11" width="7.08" height="1.55" fill="#848acd"/>
<rect x="60.28" y="368.11" width="7.08" height="1.55" fill="#f5a8ac"/>
<rect x="67.30" y="368.11" width="7.08" height="1.55" fill="#f5aaad"/>
<rect x="74.33" y="368.11" width="7.08" height="1.55" fill="#fad7d9"/>
<rect x="81.35" y="368.11" width="7.08" height="1.55" fill="#fce4e5"/>
<rect x="88.38" y="368.11" width="7.08" height="1.55" fill="#f49ea2"/>
<rect x="95.40" y="368.11" width="7.08" height="1.55" fill="#f5adb1"/>
<rect x="102.42" y="368.11" width="7.08" height="1.55" fill="#f7bbbe"/>
<rect x="109.45" y="368.11" width="7.08" height="1.55" fill="#f07f85"/>
<rect x="116.47" y="368.11" width="7.08" height="1.55" fill="#f7bdc0"/>
<path d="M38.80 251.24H37.98V251.80H38.80M38.80 282.16H36.03V282.73H38.80M38.80 245.61H36.74V246.18H38.80M38.80 281.60H35.07V282.44H36.03M38.80 248.99H36.81V249.55H38.80M36.74 245.90H35.43V246.74H38.80M38.80 273.17H35.78V273.73H38.80M38.80 290.04H37.95V290.60H38.80M38.80 265.86H38.37V266.42H38.80M38.80 286.10H37.10V286.66H38.80M38.80 233.24H35.39V233.81H38.80M38.80 243.36H38.52V243.93H38.80M38.80 254.61H35.92V255.17H38.80M38.80 268.11H35.50V268.67H38.80M38.80 254.05H34.54V254.89H35.92M38.80 252.36H37.42V252.92H38.80M38.80 278.79H37.27V279.35H38.80M38.80 269.23H36.53V269.79H38.80M38.80 270.35H36.85V270.92H38.80M38.80 289.47H37.03V290.32H37.95M38.80 284.97H36.10V285.54H38.80M38.80 256.30H36.46V256.86H38.80M38.80 281.04H33.72V282.02H35.07M38.80 242.80H36.32V243.65H38.52M38.80 272.60H34.22V273.45H35.78M38.80 259.67H38.13V260.23H38.80M38.80 280.48H33.01V281.53H33.72M38.37 266.14H36.14V266.98H38.80M38.80 258.55H37.74V259.11H38.80M38.80 242.24H34.29V243.22H36.32M38.80 287.79H38.05V288.35H38.80M38.80 255.74H33.94V256.58H36.46M35.50 268.39H34.86V269.51H36.53M38.80 276.54H36.78V277.10H38.80M38.80 279.91H32.34V281.00H33.01M38.80 275.98H33.87V276.82H36.78M38.80 236.05H38.09V236.62H38.80M38.80 287.22H34.93V288.07H38.05M37.27 279.07H31.70V280.46H32.34M38.80 247.86H36.24V248.43H38.80M38.13 259.95H34.79V260.80H38.80M36.85 270.64H35.29V271.48H38.80M38.80 283.29H36.88V283.85H38.80M38.80 261.36H36.35V261.92H38.80M38.80 238.30H35.64V238.87H38.80M38.80 274.29H37.13V274.85H38.80M38.80 275.42H33.16V276.40H33.87M38.80 288.91H34.36V289.89H37.03M38.80 264.73H36.42V265.29H38.80M38.80 234.37H37.81V234.93H38.80M38.80 278.23H31.27V279.76H31.70M38.80 241.12H37.91V241.68H38.80M38.80 240.55H34.82V241.40H37.91M36.14 266.56H35.14V267.54H38.80M35.43 246.32H34.58V247.30H38.80M34.79 260.37H33.37V261.64H36.35M35.29 271.06H33.58V272.04H38.80M37.10 286.38H34.33V287.65H34.93M38.80 262.48H35.96V263.05H38.80M38.80 284.41H35.25V285.26H36.10M38.80 232.68H34.65V233.52H35.39M37.42 252.64H36.00V253.49H38.80M36.00 253.06H33.08V254.47H34.54M31.27 279.00H31.10V283.57H36.88M38.80 237.18H35.61V237.74H38.80M33.16 275.91H32.41V277.66H38.80M38.80 235.49H37.66V236.34H38.09M37.74 258.83H33.12V261.01H33.37M34.36 289.40H32.87V291.16H38.80M35.25 284.83H33.05V287.01H34.33M38.80 250.11H36.56V250.67H38.80M38.80 257.42H36.07V257.98H38.80M35.14 267.05H33.69V268.95H34.86M38.80 245.05H33.26V246.81H34.58M34.29 242.73H33.40V244.49H38.80M32.41 276.79H30.92V281.28H31.10M33.40 243.61H32.52V245.93H33.26M34.82 240.97H31.98V244.77H32.52M31.98 242.87H31.52V248.14H36.24M36.07 257.70H32.59V259.92H33.12M33.08 253.77H32.30V256.16H33.94M37.98 251.52H31.84V254.96H32.30M37.66 235.91H35.00V237.46H35.61M37.81 234.65H33.62V236.69H35.00M34.65 233.10H32.62V235.67H33.62M35.96 262.76H34.97V263.61H38.80M37.13 274.57H29.50V279.03H30.92M33.69 268.00H32.91V271.55H33.58M34.97 263.19H33.76V264.17H38.80M31.52 245.51H31.31V249.27H36.81M32.62 234.39H32.27V238.59H35.64M32.87 290.28H32.45V291.72H38.80M36.56 250.39H31.56V253.24H31.84M33.76 263.68H33.19V265.01H36.42M32.59 258.81H32.13V264.35H33.19M32.13 261.58H31.74V269.78H32.91M34.22 273.03H29.25V276.80H29.50M31.56 251.82H31.38V265.68H31.74M33.05 285.92H32.20V291.00H32.45M38.80 239.43H35.71V239.99H38.80M29.25 274.91H28.75V288.46H32.20M32.27 236.49H31.49V239.71H35.71M31.38 258.75H28.50V281.69H28.75M31.31 247.39H27.50V270.22H28.50M31.49 238.10H27.00V258.80H27.50M38.80 322.65H38.66V323.21H38.80M38.80 326.58H36.60V327.15H38.80M38.80 327.71H37.38V328.27H38.80M38.80 356.95H38.16V357.51H38.80M38.80 350.20H36.99V350.76H38.80M38.80 299.59H38.41V300.16H38.80M38.80 312.53H35.53V313.09H38.80M38.80 347.95H37.34V348.51H38.80M38.80 337.83H38.30V338.39H38.80M38.30 338.11H37.06V338.95H38.80M38.80 319.84H38.62V320.40H38.80M38.80 293.97H38.20V294.53H38.80M38.80 292.85H38.45V293.41H38.80M38.80 349.64H35.21V350.48H36.99M38.41 299.88H34.68V300.72H38.80M38.80 358.64H36.92V359.20H38.80M38.80 305.78H36.95V306.34H38.80M38.80 361.45H36.49V362.01H38.80M35.21 350.06H34.19V351.33H38.80M38.80 355.82H38.69V356.39H38.80M38.80 301.28H37.84V301.84H38.80M38.80 324.90H37.56V325.46H38.80M38.80 315.34H38.27V315.90H38.80M36.95 306.06H34.90V306.90H38.80M38.80 292.28H35.89V293.13H38.45M38.80 340.08H38.02V340.64H38.80M38.80 322.09H37.52V322.93H38.66M38.80 314.78H34.75V315.62H38.27M37.38 327.99H35.11V328.83H38.80M38.80 368.76H36.17V369.32H38.80M38.80 336.71H37.70V337.27H38.80M38.80 307.47H37.63V308.03H38.80M38.80 343.45H37.59V344.02H38.80M38.80 365.38H37.77V365.95H38.80M37.70 336.99H34.15V338.53H37.06M38.80 295.66H37.20V296.22H38.80M38.80 296.78H37.45V297.35H38.80M38.80 342.89H35.82V343.73H37.59M38.80 304.09H38.76V304.65H38.80M38.80 308.59H37.88V309.15H38.80M38.80 344.58H37.24V345.14H38.80M38.80 366.51H35.85V367.07H38.80M38.80 316.46H36.39V317.03H38.80M38.80 360.88H34.26V361.73H36.49M37.20 295.94H34.01V297.06H37.45M38.80 295.10H32.69V296.50H34.01M37.77 365.66H35.04V366.79H35.85M38.80 359.76H38.23V360.32H38.80M34.68 300.30H33.30V301.56H37.84M38.02 340.36H34.47V341.20H38.80M37.52 322.51H35.68V323.77H38.80M32.69 295.80H31.95V297.91H38.80M35.68 323.14H34.43V324.34H38.80M38.80 352.45H38.73V353.01H38.80M38.80 346.26H35.75V346.83H38.80M38.80 333.33H36.71V333.89H38.80M38.80 364.82H34.40V366.23H35.04M37.24 344.86H35.36V345.70H38.80M38.80 355.26H35.46V356.10H38.69M37.63 307.75H35.32V308.87H37.88M35.53 312.81H33.48V313.65H38.80M38.80 336.14H32.73V337.76H34.15M38.80 335.58H31.91V336.95H32.73M38.80 330.52H37.17V331.08H38.80M36.60 326.87H33.55V328.41H35.11M38.80 311.40H36.28V311.96H38.80M38.80 309.72H38.59V310.28H38.80M34.75 315.20H33.44V316.74H36.39M38.80 364.26H34.11V365.52H34.40M36.92 358.92H34.04V360.04H38.23M37.34 348.23H34.72V349.08H38.80M34.11 364.89H32.77V367.63H38.80M38.80 353.57H38.55V354.14H38.80M38.80 358.07H33.23V359.48H34.04M38.80 314.21H32.84V315.97H33.44M35.82 343.31H34.61V345.28H35.36M38.59 310.00H35.57V310.84H38.80M34.43 323.74H33.33V325.18H37.56M38.80 354.70H34.08V355.68H35.46M33.55 327.64H32.98V329.40H38.80M33.23 358.78H32.80V361.31H34.26M38.80 351.89H36.67V352.73H38.73M32.98 328.52H32.09V329.96H38.80M38.16 357.23H32.48V360.04H32.80M32.84 315.09H32.37V317.59H38.80M38.76 304.37H36.21V305.22H38.80M38.62 320.12H35.18V320.96H38.80M34.47 340.78H33.83V341.77H38.80M34.61 344.30H33.79V346.55H35.75M36.28 311.68H32.55V313.23H33.48M33.30 300.93H32.23V302.41H38.80M38.80 362.57H38.34V363.13H38.80M38.80 299.03H31.66V301.67H32.23M38.34 362.85H37.31V363.70H38.80M35.57 310.42H31.63V312.46H32.55M31.63 311.44H31.24V316.34H32.37M38.80 298.47H31.59V300.35H31.66M33.83 341.27H32.94V342.33H38.80M38.80 318.71H36.63V319.27H38.80M32.94 341.80H32.02V345.42H33.79M38.55 353.86H32.66V355.19H34.08M31.24 313.89H31.17V318.15H38.80M38.80 335.02H31.42V336.27H31.91M38.80 368.19H33.90V369.04H36.17M35.18 320.54H34.50V321.52H38.80M36.67 352.31H32.16V354.52H32.66M31.17 316.02H30.99V318.99H36.63M30.99 317.51H30.75V321.03H34.50M38.80 347.39H33.51V348.65H34.72M30.75 319.27H30.25V324.46H33.33M34.19 350.69H31.88V353.42H32.16M32.02 343.61H31.81V348.02H33.51M38.20 294.25H31.35V296.85H31.95M30.25 321.86H29.75V326.02H38.80M35.32 308.31H29.00V323.94H29.75M38.80 302.97H38.48V303.53H38.80M31.42 335.64H31.20V339.52H38.80M31.35 295.55H31.13V299.41H31.59M32.77 366.26H32.06V368.62H33.90M34.90 306.48H28.25V316.13H29.00M38.80 331.65H37.49V332.21H38.80M31.20 337.58H31.06V345.82H31.81M31.06 341.70H30.88V352.05H31.88M31.13 297.48H30.95V303.25H38.48M37.31 363.27H31.45V367.44H32.06M32.09 329.24H31.77V330.80H37.17M38.80 332.77H33.97V333.61H36.71M35.89 292.71H30.50V300.37H30.95M28.25 311.30H28.00V330.02H31.77M28.00 320.66H27.75V331.93H37.49M33.97 333.19H33.65V334.46H38.80M27.75 326.29H27.25V333.82H33.65M27.25 330.06H26.75V346.88H30.88M30.50 296.54H30.00V304.80H36.21M30.00 300.67H26.50V338.47H26.75M32.48 358.64H31.03V365.36H31.45M26.50 319.57H26.25V362.00H31.03M27.00 248.45H26.00V340.78H26.25" stroke="#000" stroke-width="0.8" fill="none"/>
<rect x="39.20" y="225.30" width="7.07" height="3.30" fill="#e6f4f2"/>
<rect x="46.23" y="225.30" width="7.07" height="3.30" fill="#2e9e64"/>
<rect x="53.25" y="225.30" width="7.07" height="3.30" fill="#6cc4a0"/>
<rect x="60.28" y="225.30" width="7.07" height="3.30" fill="#6cc4a0"/>
<rect x="67.30" y="225.30" width="7.07" height="3.30" fill="#6cc4a0"/>
<rect x="74.33" y="225.30" width="7.07" height="3.30" fill="#6cc4a0"/>
<rect x="81.35" y="225.30" width="7.07" height="3.30" fill="#4cb487"/>
<rect x="88.38" y="225.30" width="7.07" height="3.30" fill="#4cb487"/>
<rect x="95.40" y="225.30" width="7.07" height="3.30" fill="#4cb487"/>
<rect x="102.42" y="225.30" width="7.07" height="3.30" fill="#c8e8e8"/>
<rect x="109.45" y="225.30" width="7.07" height="3.30" fill="#7acaa8"/>
<rect x="116.47" y="225.30" width="7.07" height="3.30" fill="#7acaa8"/>
<rect x="39.20" y="228.60" width="7.07" height="3.80" fill="#2eaf4a"/>
<rect x="46.23" y="228.60" width="7.07" height="3.80" fill="#2eaf4a"/>
<rect x="53.25" y="228.60" width="7.07" height="3.80" fill="#2eaf4a"/>
<rect x="60.28" y="228.60" width="7.07" height="3.80" fill="#c8102e"/>
<rect x="67.30" y="228.60" width="7.07" height="3.80" fill="#c8102e"/>
<rect x="74.33" y="228.60" width="7.07" height="3.80" fill="#c8102e"/>
<rect x="81.35" y="228.60" width="7.07" height="3.80" fill="#174f8c"/>
<rect x="88.38" y="228.60" width="7.07" height="3.80" fill="#174f8c"/>
<rect x="95.40" y="228.60" width="7.07" height="3.80" fill="#174f8c"/>
<rect x="102.42" y="228.60" width="7.07" height="3.80" fill="#562178"/>
<rect x="109.45" y="228.60" width="7.07" height="3.80" fill="#562178"/>
<rect x="116.47" y="228.60" width="7.07" height="3.80" fill="#562178"/>
<text x="124.50" y="227.80" font-size="2.2" fill="#333">sizefactor</text>
<text x="124.50" y="231.60" font-size="2.2" fill="#333">condition</text>
<path d="M49.74 224.20V218.70H56.76V224.20" stroke="#111" stroke-width="0.85" fill="none"/>
<path d="M42.71 224.20V216.30H53.25V218.70" stroke="#111" stroke-width="0.85" fill="none"/>
<path d="M70.81 224.20V219.60H77.84V224.20" stroke="#111" stroke-width="0.85" fill="none"/>
<path d="M63.79 224.20V218.40H74.33V219.60" stroke="#111" stroke-width="0.85" fill="none"/>
<path d="M91.89 224.20V219.60H98.91V224.20" stroke="#111" stroke-width="0.85" fill="none"/>
<path d="M84.86 224.20V218.20H95.40V219.60" stroke="#111" stroke-width="0.85" fill="none"/>
<path d="M112.96 224.20V219.60H119.99V224.20" stroke="#111" stroke-width="0.85" fill="none"/>
<path d="M105.94 224.20V218.40H116.47V219.60" stroke="#111" stroke-width="0.85" fill="none"/>
<path d="M90.13 218.20V217.30H111.21V218.40" stroke="#111" stroke-width="0.85" fill="none"/>
<path d="M69.06 218.40V216.30H100.67V217.30" stroke="#111" stroke-width="0.85" fill="none"/>
<path d="M47.98 216.30V209.20H84.86V216.30" stroke="#111" stroke-width="0.85" fill="none"/>
<rect x="124.30" y="233.00" width="2.20" height="47.20" fill="url(#cbar)"/>
<text x="130.90" y="237.20" font-size="5.8" text-anchor="end" fill="#222" stroke="#222" stroke-width="0.18">3</text>
<text x="130.90" y="243.50" font-size="5.8" text-anchor="end" fill="#222" stroke="#222" stroke-width="0.18">2</text>
<text x="130.90" y="252.20" font-size="5.8" text-anchor="end" fill="#222" stroke="#222" stroke-width="0.18">1</text>
<text x="130.90" y="259.30" font-size="5.8" text-anchor="end" fill="#222" stroke="#222" stroke-width="0.18">0</text>
<text x="130.90" y="265.10" font-size="5.8" text-anchor="end" fill="#222" stroke="#222" stroke-width="0.18">-1</text>
<text x="130.90" y="273.50" font-size="5.8" text-anchor="end" fill="#222" stroke="#222" stroke-width="0.18">-2</text>
<text x="130.90" y="281.40" font-size="5.8" text-anchor="end" fill="#222" stroke="#222" stroke-width="0.18">-3</text>
<rect x="131.20" y="237.00" width="2.30" height="4.17" fill="#1f9a5e"/>
<rect x="131.20" y="241.12" width="2.30" height="4.17" fill="#5cbf94"/>
<rect x="131.20" y="245.25" width="2.30" height="4.17" fill="#a8dcd8"/>
<rect x="131.20" y="249.38" width="2.30" height="4.17" fill="#e8f5f8"/>
<text x="131.00" y="235.60" font-size="2.2" fill="#333">sizefactor</text>
<text x="135.40" y="242.00" font-size="5.6" fill="#222" stroke="#222" stroke-width="0.18">11</text>
<text x="135.40" y="253.60" font-size="5.6" fill="#222" stroke="#222" stroke-width="0.18">0.8</text>
<text x="131.00" y="258.60" font-size="2.2" fill="#333">condition</text>
<rect x="131.20" y="259.50" width="2.30" height="5.05" fill="#562178"/>
<text x="135.40" y="263.50" font-size="5.6" fill="#222" stroke="#222" stroke-width="0.18">EV</text>
<rect x="131.20" y="264.50" width="2.30" height="5.05" fill="#2eaf4a"/>
<text x="135.40" y="268.55" font-size="5.6" fill="#222" stroke="#222" stroke-width="0.18">KD</text>
<rect x="131.20" y="269.50" width="2.30" height="5.05" fill="#c8102e"/>
<text x="135.40" y="273.60" font-size="5.6" fill="#222" stroke="#222" stroke-width="0.18">OE</text>
<rect x="131.20" y="274.50" width="2.30" height="5.05" fill="#174f8c"/>
<text x="135.40" y="278.65" font-size="5.6" fill="#222" stroke="#222" stroke-width="0.18">YYFF</text>
<text x="43.01" y="372.80" font-size="7.2" text-anchor="end" fill="#1a1a1a" textLength="9.8" lengthAdjust="spacingAndGlyphs" transform="rotate(-90 43.01 372.80)" stroke="#1a1a1a" stroke-width="0.2">+/-</text>
<text x="50.04" y="372.80" font-size="7.2" text-anchor="end" fill="#1a1a1a" textLength="9.8" lengthAdjust="spacingAndGlyphs" transform="rotate(-90 50.04 372.80)" stroke="#1a1a1a" stroke-width="0.2">+/-</text>
<text x="57.06" y="372.80" font-size="7.2" text-anchor="end" fill="#1a1a1a" textLength="9.8" lengthAdjust="spacingAndGlyphs" transform="rotate(-90 57.06 372.80)" stroke="#1a1a1a" stroke-width="0.2">+/-</text>
<text x="64.09" y="372.80" font-size="7.2" text-anchor="end" fill="#1a1a1a" textLength="10.0" lengthAdjust="spacingAndGlyphs" transform="rotate(-90 64.09 372.80)" stroke="#1a1a1a" stroke-width="0.2">OE</text>
<text x="71.11" y="372.80" font-size="7.2" text-anchor="end" fill="#1a1a1a" textLength="10.0" lengthAdjust="spacingAndGlyphs" transform="rotate(-90 71.11 372.80)" stroke="#1a1a1a" stroke-width="0.2">OE</text>
<text x="78.14" y="372.80" font-size="7.2" text-anchor="end" fill="#1a1a1a" textLength="10.0" lengthAdjust="spacingAndGlyphs" transform="rotate(-90 78.14 372.80)" stroke="#1a1a1a" stroke-width="0.2">OE</text>
<text x="85.16" y="372.80" font-size="7.2" text-anchor="end" fill="#1a1a1a" textLength="17.2" lengthAdjust="spacingAndGlyphs" transform="rotate(-90 85.16 372.80)" stroke="#1a1a1a" stroke-width="0.2">YYFF</text>
<text x="92.19" y="372.80" font-size="7.2" text-anchor="end" fill="#1a1a1a" textLength="17.2" lengthAdjust="spacingAndGlyphs" transform="rotate(-90 92.19 372.80)" stroke="#1a1a1a" stroke-width="0.2">YYFF</text>
<text x="99.21" y="372.80" font-size="7.2" text-anchor="end" fill="#1a1a1a" textLength="17.2" lengthAdjust="spacingAndGlyphs" transform="rotate(-90 99.21 372.80)" stroke="#1a1a1a" stroke-width="0.2">YYFF</text>
<text x="106.24" y="372.80" font-size="7.2" text-anchor="end" fill="#1a1a1a" textLength="8.6" lengthAdjust="spacingAndGlyphs" transform="rotate(-90 106.24 372.80)" stroke="#1a1a1a" stroke-width="0.2">EV</text>
<text x="113.26" y="372.80" font-size="7.2" text-anchor="end" fill="#1a1a1a" textLength="8.6" lengthAdjust="spacingAndGlyphs" transform="rotate(-90 113.26 372.80)" stroke="#1a1a1a" stroke-width="0.2">EV</text>
<text x="120.29" y="372.80" font-size="7.2" text-anchor="end" fill="#1a1a1a" textLength="8.6" lengthAdjust="spacingAndGlyphs" transform="rotate(-90 120.29 372.80)" stroke="#1a1a1a" stroke-width="0.2">EV</text>
<text transform="translate(167.55 211.80) scale(1.0 1)" font-size="11.2" fill="#000" font-weight="bold">E</text>
<text x="240.40" y="238.20" font-size="6.2" text-anchor="middle" fill="#222" textLength="84" lengthAdjust="spacingAndGlyphs" stroke="#222" stroke-width="0.18">HEXIM1 +/- compared to EV</text>
<path d="M238.5 332.2 C241 335 244.5 336.6 247.5 336.6 C251 336.6 255 335 258.5 332.2 Z" stroke="none" stroke-width="1" fill="#4e1d72"/>
<g fill="#1c5290"><circle cx="233.06" cy="324.64" r="0.85"/><circle cx="226.78" cy="322.31" r="0.85"/><circle cx="231.01" cy="314.90" r="0.85"/><circle cx="224.40" cy="320.85" r="0.85"/><circle cx="231.01" cy="322.59" r="0.85"/><circle cx="234.72" cy="324.46" r="0.85"/><circle cx="236.14" cy="324.27" r="0.85"/><circle cx="239.59" cy="331.80" r="0.85"/><circle cx="234.90" cy="331.74" r="0.85"/><circle cx="232.13" cy="321.64" r="0.85"/><circle cx="236.61" cy="324.11" r="0.85"/><circle cx="223.89" cy="315.77" r="0.85"/><circle cx="230.26" cy="326.99" r="0.85"/><circle cx="239.98" cy="332.38" r="0.85"/><circle cx="224.71" cy="312.39" r="0.85"/><circle cx="243.60" cy="332.04" r="0.85"/><circle cx="240.94" cy="332.11" r="0.85"/><circle cx="245.91" cy="331.15" r="0.85"/><circle cx="239.51" cy="331.22" r="0.85"/><circle cx="242.24" cy="332.96" r="0.85"/><circle cx="228.58" cy="320.79" r="0.85"/><circle cx="243.59" cy="332.84" r="0.85"/><circle cx="243.68" cy="332.07" r="0.85"/><circle cx="244.96" cy="332.36" r="0.85"/><circle cx="241.85" cy="332.57" r="0.85"/><circle cx="230.96" cy="324.66" r="0.85"/><circle cx="235.46" cy="330.23" r="0.85"/><circle cx="233.84" cy="322.54" r="0.85"/><circle cx="239.43" cy="333.08" r="0.85"/><circle cx="235.27" cy="329.86" r="0.85"/><circle cx="227.73" cy="324.65" r="0.85"/><circle cx="225.34" cy="323.15" r="0.85"/><circle cx="233.76" cy="327.73" r="0.85"/><circle cx="239.26" cy="323.72" r="0.85"/><circle cx="229.74" cy="326.15" r="0.85"/><circle cx="234.93" cy="327.02" r="0.85"/><circle cx="245.43" cy="333.11" r="0.85"/><circle cx="232.27" cy="321.96" r="0.85"/><circle cx="235.72" cy="329.96" r="0.85"/><circle cx="234.63" cy="330.16" r="0.85"/><circle cx="225.24" cy="316.42" r="0.85"/><circle cx="245.67" cy="331.85" r="0.85"/><circle cx="227.14" cy="322.19" r="0.85"/><circle cx="243.98" cy="332.70" r="0.85"/><circle cx="229.49" cy="320.80" r="0.85"/><circle cx="239.94" cy="329.24" r="0.85"/><circle cx="228.24" cy="314.28" r="0.85"/><circle cx="236.42" cy="325.11" r="0.85"/><circle cx="223.96" cy="311.49" r="0.85"/><circle cx="232.65" cy="325.82" r="0.85"/><circle cx="225.92" cy="316.75" r="0.85"/><circle cx="229.25" cy="325.16" r="0.85"/><circle cx="244.26" cy="332.34" r="0.85"/><circle cx="232.73" cy="325.13" r="0.85"/><circle cx="241.94" cy="332.60" r="0.85"/><circle cx="223.31" cy="320.83" r="0.85"/><circle cx="223.94" cy="310.74" r="0.85"/><circle cx="232.98" cy="320.74" r="0.85"/><circle cx="236.92" cy="321.25" r="0.85"/><circle cx="226.87" cy="323.62" r="0.85"/><circle cx="245.31" cy="333.33" r="0.85"/><circle cx="227.72" cy="314.77" r="0.85"/><circle cx="241.28" cy="332.92" r="0.85"/><circle cx="238.04" cy="325.92" r="0.85"/><circle cx="228.75" cy="313.08" r="0.85"/><circle cx="222.84" cy="309.98" r="0.85"/><circle cx="226.30" cy="324.03" r="0.85"/><circle cx="231.85" cy="326.87" r="0.85"/><circle cx="243.49" cy="331.98" r="0.85"/><circle cx="238.69" cy="330.30" r="0.85"/><circle cx="236.03" cy="331.92" r="0.85"/><circle cx="244.47" cy="332.65" r="0.85"/><circle cx="243.49" cy="333.03" r="0.85"/><circle cx="236.89" cy="332.72" r="0.85"/><circle cx="227.22" cy="319.55" r="0.85"/><circle cx="235.78" cy="327.61" r="0.85"/><circle cx="241.12" cy="333.30" r="0.85"/><circle cx="244.54" cy="332.04" r="0.85"/><circle cx="238.17" cy="332.05" r="0.85"/><circle cx="239.47" cy="325.58" r="0.85"/><circle cx="245.87" cy="331.60" r="0.85"/><circle cx="237.65" cy="331.83" r="0.85"/><circle cx="229.15" cy="325.10" r="0.85"/><circle cx="245.26" cy="332.85" r="0.85"/><circle cx="222.57" cy="317.38" r="0.85"/><circle cx="231.18" cy="323.98" r="0.85"/><circle cx="226.97" cy="324.46" r="0.85"/><circle cx="241.06" cy="327.02" r="0.85"/><circle cx="234.41" cy="323.14" r="0.85"/><circle cx="237.58" cy="323.46" r="0.85"/><circle cx="244.56" cy="330.18" r="0.85"/><circle cx="242.17" cy="332.56" r="0.85"/><circle cx="225.07" cy="318.87" r="0.85"/><circle cx="226.90" cy="322.36" r="0.85"/><circle cx="229.02" cy="317.86" r="0.85"/><circle cx="241.13" cy="328.97" r="0.85"/><circle cx="223.29" cy="308.90" r="0.85"/><circle cx="236.18" cy="330.62" r="0.85"/><circle cx="242.84" cy="332.50" r="0.85"/><circle cx="245.44" cy="332.84" r="0.85"/><circle cx="237.63" cy="330.33" r="0.85"/><circle cx="242.47" cy="331.34" r="0.85"/><circle cx="228.30" cy="325.30" r="0.85"/><circle cx="243.34" cy="330.77" r="0.85"/><circle cx="224.52" cy="314.55" r="0.85"/><circle cx="222.19" cy="312.94" r="0.85"/><circle cx="237.66" cy="329.21" r="0.85"/><circle cx="227.47" cy="318.30" r="0.85"/><circle cx="234.64" cy="329.79" r="0.85"/><circle cx="233.81" cy="326.68" r="0.85"/><circle cx="240.01" cy="330.80" r="0.85"/><circle cx="224.22" cy="320.21" r="0.85"/><circle cx="240.69" cy="331.91" r="0.85"/><circle cx="225.71" cy="320.99" r="0.85"/><circle cx="226.53" cy="312.09" r="0.85"/><circle cx="227.11" cy="323.38" r="0.85"/><circle cx="236.02" cy="324.25" r="0.85"/><circle cx="240.87" cy="329.65" r="0.85"/><circle cx="225.38" cy="318.39" r="0.85"/><circle cx="243.69" cy="333.29" r="0.85"/><circle cx="239.23" cy="329.91" r="0.85"/><circle cx="240.07" cy="326.05" r="0.85"/><circle cx="231.06" cy="322.57" r="0.85"/><circle cx="226.53" cy="321.54" r="0.85"/><circle cx="231.06" cy="325.86" r="0.85"/><circle cx="239.87" cy="332.88" r="0.85"/><circle cx="227.52" cy="324.82" r="0.85"/><circle cx="229.37" cy="326.54" r="0.85"/><circle cx="236.82" cy="331.53" r="0.85"/><circle cx="224.55" cy="318.30" r="0.85"/><circle cx="234.54" cy="329.32" r="0.85"/><circle cx="240.67" cy="332.25" r="0.85"/><circle cx="244.87" cy="333.35" r="0.85"/><circle cx="233.56" cy="323.30" r="0.85"/><circle cx="230.54" cy="326.16" r="0.85"/><circle cx="222.31" cy="319.83" r="0.85"/><circle cx="236.47" cy="331.38" r="0.85"/><circle cx="229.40" cy="326.08" r="0.85"/><circle cx="237.90" cy="331.72" r="0.85"/><circle cx="239.70" cy="331.70" r="0.85"/><circle cx="232.60" cy="327.75" r="0.85"/><circle cx="232.52" cy="329.46" r="0.85"/><circle cx="233.93" cy="326.31" r="0.85"/><circle cx="239.15" cy="324.45" r="0.85"/><circle cx="223.89" cy="313.79" r="0.85"/><circle cx="236.96" cy="332.51" r="0.85"/><circle cx="231.67" cy="327.03" r="0.85"/><circle cx="242.69" cy="330.60" r="0.85"/><circle cx="241.91" cy="329.47" r="0.85"/><circle cx="228.26" cy="325.86" r="0.85"/><circle cx="231.50" cy="327.63" r="0.85"/><circle cx="238.75" cy="327.61" r="0.85"/><circle cx="222.91" cy="318.10" r="0.85"/><circle cx="228.39" cy="323.22" r="0.85"/><circle cx="223.56" cy="320.17" r="0.85"/><circle cx="230.68" cy="327.62" r="0.85"/><circle cx="233.32" cy="322.91" r="0.85"/><circle cx="224.28" cy="311.38" r="0.85"/><circle cx="233.58" cy="327.96" r="0.85"/><circle cx="231.56" cy="322.69" r="0.85"/><circle cx="232.04" cy="322.00" r="0.85"/><circle cx="228.63" cy="317.59" r="0.85"/><circle cx="225.25" cy="313.30" r="0.85"/><circle cx="237.72" cy="325.74" r="0.85"/><circle cx="238.07" cy="325.19" r="0.85"/><circle cx="225.17" cy="310.37" r="0.85"/><circle cx="229.98" cy="323.15" r="0.85"/><circle cx="239.88" cy="329.04" r="0.85"/><circle cx="224.82" cy="319.49" r="0.85"/><circle cx="241.68" cy="327.88" r="0.85"/><circle cx="224.38" cy="320.65" r="0.85"/><circle cx="243.26" cy="332.97" r="0.85"/><circle cx="233.52" cy="320.77" r="0.85"/><circle cx="240.83" cy="327.02" r="0.85"/><circle cx="245.18" cy="332.66" r="0.85"/><circle cx="233.65" cy="322.97" r="0.85"/><circle cx="234.96" cy="325.91" r="0.85"/><circle cx="238.21" cy="331.21" r="0.85"/><circle cx="234.29" cy="331.45" r="0.85"/><circle cx="241.90" cy="331.73" r="0.85"/><circle cx="230.90" cy="327.01" r="0.85"/><circle cx="240.92" cy="324.29" r="0.85"/><circle cx="236.98" cy="325.94" r="0.85"/><circle cx="229.41" cy="316.03" r="0.85"/><circle cx="233.35" cy="325.23" r="0.85"/><circle cx="244.16" cy="331.51" r="0.85"/><circle cx="237.43" cy="331.98" r="0.85"/><circle cx="238.08" cy="323.30" r="0.85"/><circle cx="241.40" cy="332.92" r="0.85"/><circle cx="238.80" cy="332.57" r="0.85"/><circle cx="233.62" cy="330.70" r="0.85"/><circle cx="234.03" cy="330.18" r="0.85"/><circle cx="235.21" cy="318.62" r="0.85"/><circle cx="237.30" cy="326.06" r="0.85"/><circle cx="234.98" cy="331.65" r="0.85"/><circle cx="237.23" cy="325.38" r="0.85"/><circle cx="227.80" cy="316.79" r="0.85"/><circle cx="222.32" cy="316.70" r="0.85"/><circle cx="229.72" cy="316.38" r="0.85"/><circle cx="223.99" cy="309.80" r="0.85"/><circle cx="238.67" cy="331.25" r="0.85"/><circle cx="231.85" cy="328.47" r="0.85"/><circle cx="239.43" cy="331.38" r="0.85"/><circle cx="241.78" cy="332.61" r="0.85"/><circle cx="230.99" cy="326.17" r="0.85"/><circle cx="223.42" cy="319.55" r="0.85"/><circle cx="230.17" cy="327.14" r="0.85"/><circle cx="241.45" cy="332.69" r="0.85"/><circle cx="231.27" cy="323.73" r="0.85"/><circle cx="226.66" cy="316.90" r="0.85"/><circle cx="228.37" cy="312.19" r="0.85"/><circle cx="232.73" cy="328.57" r="0.85"/><circle cx="226.70" cy="317.22" r="0.85"/><circle cx="223.27" cy="308.55" r="0.85"/><circle cx="237.17" cy="332.40" r="0.85"/><circle cx="236.60" cy="321.04" r="0.85"/><circle cx="224.92" cy="322.83" r="0.85"/><circle cx="245.89" cy="331.61" r="0.85"/><circle cx="224.37" cy="310.66" r="0.85"/><circle cx="244.73" cy="332.65" r="0.85"/><circle cx="227.89" cy="321.67" r="0.85"/><circle cx="239.17" cy="333.15" r="0.85"/><circle cx="235.14" cy="320.98" r="0.85"/><circle cx="229.77" cy="313.33" r="0.85"/><circle cx="240.26" cy="329.95" r="0.85"/><circle cx="222.56" cy="319.59" r="0.85"/><circle cx="236.51" cy="331.15" r="0.85"/><circle cx="227.90" cy="316.25" r="0.85"/><circle cx="240.60" cy="322.47" r="0.85"/><circle cx="235.31" cy="332.25" r="0.85"/><circle cx="227.63" cy="319.36" r="0.85"/><circle cx="228.66" cy="325.76" r="0.85"/><circle cx="235.30" cy="323.77" r="0.85"/><circle cx="229.06" cy="325.43" r="0.85"/><circle cx="238.92" cy="330.69" r="0.85"/><circle cx="235.80" cy="319.78" r="0.85"/><circle cx="245.98" cy="330.51" r="0.85"/><circle cx="234.12" cy="318.82" r="0.85"/><circle cx="224.39" cy="320.03" r="0.85"/><circle cx="235.65" cy="324.97" r="0.85"/><circle cx="236.22" cy="330.53" r="0.85"/><circle cx="228.92" cy="323.53" r="0.85"/><circle cx="234.89" cy="329.32" r="0.85"/><circle cx="230.42" cy="327.46" r="0.85"/><circle cx="235.73" cy="328.32" r="0.85"/><circle cx="230.17" cy="322.49" r="0.85"/><circle cx="223.01" cy="311.68" r="0.85"/><circle cx="237.64" cy="329.49" r="0.85"/><circle cx="238.15" cy="328.50" r="0.85"/><circle cx="238.21" cy="333.35" r="0.85"/><circle cx="244.38" cy="332.02" r="0.85"/><circle cx="240.48" cy="325.85" r="0.85"/><circle cx="237.81" cy="321.72" r="0.85"/><circle cx="240.13" cy="331.61" r="0.85"/><circle cx="223.28" cy="308.26" r="0.85"/><circle cx="243.79" cy="333.15" r="0.85"/><circle cx="229.92" cy="324.85" r="0.85"/><circle cx="243.99" cy="333.07" r="0.85"/><circle cx="239.08" cy="331.75" r="0.85"/><circle cx="230.71" cy="325.81" r="0.85"/><circle cx="227.38" cy="318.93" r="0.85"/><circle cx="225.50" cy="310.58" r="0.85"/><circle cx="227.90" cy="322.36" r="0.85"/><circle cx="231.62" cy="320.46" r="0.85"/><circle cx="228.36" cy="317.16" r="0.85"/><circle cx="223.17" cy="317.90" r="0.85"/><circle cx="227.59" cy="319.28" r="0.85"/><circle cx="238.77" cy="329.25" r="0.85"/><circle cx="227.73" cy="321.83" r="0.85"/><circle cx="229.83" cy="322.14" r="0.85"/><circle cx="224.36" cy="321.23" r="0.85"/><circle cx="232.48" cy="319.39" r="0.85"/><circle cx="237.12" cy="331.78" r="0.85"/><circle cx="240.14" cy="331.49" r="0.85"/><circle cx="237.47" cy="330.85" r="0.85"/><circle cx="240.91" cy="329.73" r="0.85"/><circle cx="241.41" cy="332.19" r="0.85"/><circle cx="235.66" cy="320.29" r="0.85"/><circle cx="240.19" cy="332.56" r="0.85"/><circle cx="227.87" cy="319.64" r="0.85"/><circle cx="241.90" cy="329.54" r="0.85"/><circle cx="241.04" cy="326.32" r="0.85"/><circle cx="237.96" cy="328.76" r="0.85"/><circle cx="227.34" cy="316.72" r="0.85"/><circle cx="239.37" cy="331.83" r="0.85"/><circle cx="232.75" cy="325.76" r="0.85"/><circle cx="229.43" cy="326.55" r="0.85"/><circle cx="244.83" cy="333.39" r="0.85"/><circle cx="227.09" cy="323.54" r="0.85"/><circle cx="228.45" cy="322.05" r="0.85"/><circle cx="223.20" cy="313.45" r="0.85"/><circle cx="226.04" cy="323.14" r="0.85"/><circle cx="224.79" cy="319.19" r="0.85"/><circle cx="241.15" cy="329.15" r="0.85"/><circle cx="245.73" cy="331.63" r="0.85"/><circle cx="235.66" cy="329.64" r="0.85"/><circle cx="226.54" cy="321.96" r="0.85"/><circle cx="224.33" cy="321.02" r="0.85"/><circle cx="222.85" cy="318.34" r="0.85"/><circle cx="230.34" cy="318.32" r="0.85"/><circle cx="225.85" cy="323.07" r="0.85"/><circle cx="222.87" cy="320.67" r="0.85"/><circle cx="230.40" cy="317.03" r="0.85"/><circle cx="228.08" cy="317.03" r="0.85"/><circle cx="232.16" cy="326.37" r="0.85"/><circle cx="224.36" cy="310.04" r="0.85"/><circle cx="242.10" cy="331.03" r="0.85"/><circle cx="236.38" cy="332.57" r="0.85"/><circle cx="225.86" cy="309.82" r="0.85"/><circle cx="228.49" cy="325.91" r="0.85"/><circle cx="229.03" cy="316.59" r="0.85"/><circle cx="223.80" cy="312.00" r="0.85"/><circle cx="228.71" cy="323.97" r="0.85"/><circle cx="227.94" cy="323.11" r="0.85"/><circle cx="240.41" cy="331.74" r="0.85"/><circle cx="239.41" cy="333.23" r="0.85"/><circle cx="243.02" cy="332.23" r="0.85"/><circle cx="241.53" cy="333.32" r="0.85"/><circle cx="228.88" cy="315.04" r="0.85"/><circle cx="238.85" cy="327.79" r="0.85"/><circle cx="225.44" cy="323.13" r="0.85"/><circle cx="232.99" cy="325.19" r="0.85"/><circle cx="227.10" cy="319.54" r="0.85"/><circle cx="233.90" cy="321.24" r="0.85"/><circle cx="234.21" cy="329.41" r="0.85"/><circle cx="240.55" cy="330.18" r="0.85"/><circle cx="237.03" cy="322.34" r="0.85"/><circle cx="223.24" cy="309.12" r="0.85"/><circle cx="243.91" cy="332.44" r="0.85"/><circle cx="231.56" cy="320.21" r="0.85"/><circle cx="238.18" cy="325.75" r="0.85"/><circle cx="235.69" cy="328.17" r="0.85"/><circle cx="235.90" cy="324.37" r="0.85"/><circle cx="237.17" cy="332.50" r="0.85"/><circle cx="234.90" cy="330.39" r="0.85"/><circle cx="223.32" cy="319.50" r="0.85"/><circle cx="233.70" cy="330.89" r="0.85"/><circle cx="239.53" cy="328.82" r="0.85"/><circle cx="234.81" cy="326.15" r="0.85"/><circle cx="232.97" cy="324.81" r="0.85"/><circle cx="240.62" cy="322.78" r="0.85"/><circle cx="231.04" cy="328.31" r="0.85"/><circle cx="226.31" cy="322.84" r="0.85"/><circle cx="236.85" cy="328.27" r="0.85"/><circle cx="224.69" cy="321.27" r="0.85"/><circle cx="239.71" cy="330.28" r="0.85"/><circle cx="230.25" cy="323.86" r="0.85"/><circle cx="229.61" cy="326.25" r="0.85"/><circle cx="237.15" cy="325.77" r="0.85"/><circle cx="226.94" cy="320.01" r="0.85"/><circle cx="240.80" cy="328.91" r="0.85"/><circle cx="226.50" cy="313.02" r="0.85"/><circle cx="233.93" cy="330.37" r="0.85"/><circle cx="229.79" cy="325.46" r="0.85"/><circle cx="245.58" cy="333.39" r="0.85"/><circle cx="238.65" cy="331.28" r="0.85"/><circle cx="233.68" cy="327.62" r="0.85"/><circle cx="234.51" cy="326.25" r="0.85"/><circle cx="230.54" cy="317.63" r="0.85"/><circle cx="233.22" cy="326.09" r="0.85"/><circle cx="226.27" cy="316.45" r="0.85"/><circle cx="240.41" cy="325.05" r="0.85"/><circle cx="242.09" cy="332.17" r="0.85"/><circle cx="226.54" cy="320.09" r="0.85"/><circle cx="232.41" cy="329.63" r="0.85"/><circle cx="238.55" cy="331.48" r="0.85"/><circle cx="240.09" cy="327.99" r="0.85"/><circle cx="241.27" cy="333.05" r="0.85"/><circle cx="225.69" cy="317.39" r="0.85"/><circle cx="235.38" cy="321.16" r="0.85"/><circle cx="230.24" cy="315.76" r="0.85"/><circle cx="238.80" cy="331.77" r="0.85"/><circle cx="238.86" cy="330.55" r="0.85"/><circle cx="232.89" cy="328.91" r="0.85"/><circle cx="233.16" cy="319.94" r="0.85"/><circle cx="245.93" cy="331.45" r="0.85"/><circle cx="231.55" cy="328.62" r="0.85"/><circle cx="222.23" cy="308.11" r="0.85"/><circle cx="233.34" cy="326.49" r="0.85"/><circle cx="231.39" cy="325.77" r="0.85"/><circle cx="232.90" cy="326.15" r="0.85"/><circle cx="238.52" cy="330.50" r="0.85"/><circle cx="244.93" cy="330.36" r="0.85"/><circle cx="241.08" cy="332.16" r="0.85"/><circle cx="235.92" cy="328.53" r="0.85"/><circle cx="234.53" cy="326.91" r="0.85"/><circle cx="238.18" cy="332.01" r="0.85"/><circle cx="228.07" cy="317.08" r="0.85"/><circle cx="242.94" cy="332.84" r="0.85"/><circle cx="238.39" cy="326.14" r="0.85"/><circle cx="239.39" cy="332.28" r="0.85"/><circle cx="236.51" cy="329.95" r="0.85"/><circle cx="192.20" cy="249.00" r="0.85"/><circle cx="219.60" cy="307.00" r="0.85"/><circle cx="220.20" cy="313.50" r="0.85"/><circle cx="223.00" cy="311.00" r="0.85"/><circle cx="226.00" cy="316.00" r="0.85"/><circle cx="229.00" cy="317.00" r="0.85"/><circle cx="232.00" cy="318.00" r="0.85"/></g>
<g fill="#3ab54a"><circle cx="261.16" cy="329.32" r="0.85"/><circle cx="255.66" cy="326.18" r="0.85"/><circle cx="251.73" cy="331.48" r="0.85"/><circle cx="250.40" cy="325.48" r="0.85"/><circle cx="252.57" cy="327.04" r="0.85"/><circle cx="251.67" cy="332.46" r="0.85"/><circle cx="254.36" cy="331.97" r="0.85"/><circle cx="254.39" cy="331.70" r="0.85"/><circle cx="255.86" cy="332.66" r="0.85"/><circle cx="261.15" cy="326.32" r="0.85"/><circle cx="251.81" cy="332.69" r="0.85"/><circle cx="248.41" cy="332.68" r="0.85"/><circle cx="258.43" cy="328.72" r="0.85"/><circle cx="269.32" cy="318.29" r="0.85"/><circle cx="250.53" cy="332.42" r="0.85"/><circle cx="251.26" cy="332.85" r="0.85"/><circle cx="248.32" cy="331.79" r="0.85"/><circle cx="269.76" cy="326.82" r="0.85"/><circle cx="252.34" cy="332.02" r="0.85"/><circle cx="267.17" cy="327.64" r="0.85"/><circle cx="256.60" cy="326.57" r="0.85"/><circle cx="265.13" cy="328.16" r="0.85"/><circle cx="258.45" cy="328.18" r="0.85"/><circle cx="249.90" cy="329.37" r="0.85"/><circle cx="262.42" cy="328.40" r="0.85"/><circle cx="254.18" cy="332.76" r="0.85"/><circle cx="268.35" cy="326.58" r="0.85"/><circle cx="260.15" cy="326.89" r="0.85"/><circle cx="260.55" cy="325.18" r="0.85"/><circle cx="252.88" cy="330.42" r="0.85"/><circle cx="251.58" cy="330.38" r="0.85"/><circle cx="264.39" cy="326.65" r="0.85"/><circle cx="263.75" cy="324.86" r="0.85"/><circle cx="248.15" cy="332.64" r="0.85"/><circle cx="251.54" cy="330.51" r="0.85"/><circle cx="266.39" cy="327.28" r="0.85"/><circle cx="268.92" cy="326.28" r="0.85"/><circle cx="256.34" cy="327.29" r="0.85"/><circle cx="253.05" cy="328.36" r="0.85"/><circle cx="248.55" cy="332.45" r="0.85"/><circle cx="266.67" cy="323.32" r="0.85"/><circle cx="249.86" cy="331.77" r="0.85"/><circle cx="258.68" cy="331.76" r="0.85"/><circle cx="269.15" cy="327.17" r="0.85"/><circle cx="269.04" cy="321.23" r="0.85"/><circle cx="261.89" cy="328.65" r="0.85"/><circle cx="252.27" cy="331.48" r="0.85"/><circle cx="269.70" cy="326.53" r="0.85"/><circle cx="257.47" cy="329.46" r="0.85"/><circle cx="270.22" cy="320.30" r="0.85"/><circle cx="269.58" cy="320.78" r="0.85"/><circle cx="256.48" cy="324.63" r="0.85"/><circle cx="248.49" cy="330.82" r="0.85"/><circle cx="248.14" cy="332.86" r="0.85"/><circle cx="248.64" cy="332.04" r="0.85"/><circle cx="265.51" cy="321.67" r="0.85"/><circle cx="261.01" cy="329.11" r="0.85"/><circle cx="253.26" cy="331.54" r="0.85"/><circle cx="254.08" cy="331.15" r="0.85"/><circle cx="261.62" cy="330.20" r="0.85"/><circle cx="269.06" cy="326.62" r="0.85"/><circle cx="267.56" cy="327.92" r="0.85"/><circle cx="248.03" cy="328.13" r="0.85"/><circle cx="254.05" cy="331.73" r="0.85"/><circle cx="264.82" cy="328.81" r="0.85"/><circle cx="260.64" cy="323.53" r="0.85"/><circle cx="257.61" cy="332.25" r="0.85"/><circle cx="250.40" cy="328.99" r="0.85"/><circle cx="251.27" cy="330.47" r="0.85"/><circle cx="261.47" cy="324.92" r="0.85"/><circle cx="261.59" cy="327.61" r="0.85"/><circle cx="265.66" cy="322.99" r="0.85"/><circle cx="251.91" cy="332.83" r="0.85"/><circle cx="260.16" cy="328.13" r="0.85"/><circle cx="262.09" cy="329.01" r="0.85"/><circle cx="270.62" cy="321.73" r="0.85"/><circle cx="256.11" cy="332.43" r="0.85"/><circle cx="251.02" cy="332.35" r="0.85"/><circle cx="262.59" cy="328.01" r="0.85"/><circle cx="265.92" cy="326.94" r="0.85"/><circle cx="266.68" cy="322.36" r="0.85"/><circle cx="265.48" cy="327.34" r="0.85"/><circle cx="257.05" cy="331.08" r="0.85"/><circle cx="255.69" cy="330.00" r="0.85"/><circle cx="270.05" cy="319.88" r="0.85"/><circle cx="252.74" cy="331.68" r="0.85"/><circle cx="256.35" cy="331.06" r="0.85"/><circle cx="269.54" cy="321.83" r="0.85"/><circle cx="257.93" cy="329.36" r="0.85"/><circle cx="254.36" cy="332.64" r="0.85"/><circle cx="255.40" cy="328.40" r="0.85"/><circle cx="265.46" cy="328.76" r="0.85"/><circle cx="261.40" cy="325.10" r="0.85"/><circle cx="261.24" cy="327.98" r="0.85"/><circle cx="250.67" cy="331.99" r="0.85"/><circle cx="248.26" cy="330.00" r="0.85"/><circle cx="256.70" cy="329.45" r="0.85"/><circle cx="258.08" cy="329.69" r="0.85"/><circle cx="255.13" cy="328.79" r="0.85"/><circle cx="267.49" cy="322.93" r="0.85"/><circle cx="257.20" cy="329.89" r="0.85"/><circle cx="269.87" cy="324.86" r="0.85"/><circle cx="248.15" cy="331.93" r="0.85"/><circle cx="267.17" cy="327.41" r="0.85"/><circle cx="254.42" cy="330.42" r="0.85"/><circle cx="261.22" cy="329.22" r="0.85"/><circle cx="264.45" cy="321.74" r="0.85"/><circle cx="263.09" cy="321.46" r="0.85"/><circle cx="250.09" cy="332.01" r="0.85"/><circle cx="255.91" cy="332.02" r="0.85"/><circle cx="256.24" cy="325.07" r="0.85"/><circle cx="264.12" cy="328.59" r="0.85"/><circle cx="262.83" cy="325.76" r="0.85"/><circle cx="252.37" cy="332.05" r="0.85"/><circle cx="250.01" cy="331.89" r="0.85"/><circle cx="263.97" cy="327.71" r="0.85"/><circle cx="253.66" cy="332.30" r="0.85"/><circle cx="270.29" cy="325.26" r="0.85"/><circle cx="256.64" cy="331.95" r="0.85"/><circle cx="257.79" cy="327.38" r="0.85"/><circle cx="267.44" cy="323.81" r="0.85"/><circle cx="269.07" cy="325.58" r="0.85"/><circle cx="262.71" cy="328.24" r="0.85"/><circle cx="252.58" cy="331.84" r="0.85"/><circle cx="251.46" cy="330.93" r="0.85"/><circle cx="250.60" cy="330.59" r="0.85"/><circle cx="263.87" cy="329.51" r="0.85"/><circle cx="255.18" cy="330.10" r="0.85"/><circle cx="261.62" cy="326.84" r="0.85"/><circle cx="248.15" cy="330.91" r="0.85"/><circle cx="250.12" cy="332.97" r="0.85"/><circle cx="264.33" cy="326.93" r="0.85"/><circle cx="251.22" cy="332.69" r="0.85"/><circle cx="255.21" cy="330.03" r="0.85"/><circle cx="248.39" cy="331.86" r="0.85"/><circle cx="256.89" cy="326.37" r="0.85"/><circle cx="256.25" cy="332.39" r="0.85"/><circle cx="260.26" cy="330.83" r="0.85"/><circle cx="249.37" cy="329.05" r="0.85"/><circle cx="259.54" cy="329.96" r="0.85"/><circle cx="251.59" cy="332.67" r="0.85"/><circle cx="256.00" cy="331.42" r="0.85"/><circle cx="269.46" cy="323.84" r="0.85"/><circle cx="255.39" cy="331.08" r="0.85"/><circle cx="253.40" cy="331.30" r="0.85"/><circle cx="255.45" cy="332.37" r="0.85"/><circle cx="255.03" cy="328.93" r="0.85"/><circle cx="249.21" cy="331.41" r="0.85"/><circle cx="269.00" cy="322.80" r="0.85"/><circle cx="256.97" cy="326.41" r="0.85"/><circle cx="263.64" cy="327.96" r="0.85"/><circle cx="248.01" cy="329.31" r="0.85"/><circle cx="256.78" cy="331.51" r="0.85"/><circle cx="248.05" cy="332.63" r="0.85"/><circle cx="263.87" cy="325.66" r="0.85"/><circle cx="250.47" cy="330.26" r="0.85"/><circle cx="265.21" cy="328.59" r="0.85"/><circle cx="260.88" cy="329.38" r="0.85"/><circle cx="255.20" cy="332.07" r="0.85"/><circle cx="258.87" cy="331.46" r="0.85"/><circle cx="269.90" cy="326.13" r="0.85"/><circle cx="270.65" cy="326.51" r="0.85"/><circle cx="255.88" cy="332.09" r="0.85"/><circle cx="270.75" cy="324.31" r="0.85"/><circle cx="270.99" cy="323.93" r="0.85"/><circle cx="249.71" cy="332.14" r="0.85"/><circle cx="248.86" cy="331.90" r="0.85"/><circle cx="250.61" cy="332.51" r="0.85"/><circle cx="250.25" cy="332.26" r="0.85"/><circle cx="270.79" cy="322.39" r="0.85"/><circle cx="271.80" cy="311.80" r="0.85"/><circle cx="274.50" cy="314.20" r="0.85"/><circle cx="273.60" cy="319.20" r="0.85"/><circle cx="286.20" cy="319.00" r="0.85"/><circle cx="264.00" cy="316.00" r="0.85"/><circle cx="262.00" cy="321.00" r="0.85"/><circle cx="267.00" cy="322.00" r="0.85"/></g>
<line x1="189.30" y1="246.80" x2="189.30" y2="337.60" stroke="#000" stroke-width="1.0"/>
<line x1="188.80" y1="337.20" x2="289.40" y2="337.20" stroke="#000" stroke-width="1.0"/>
<line x1="187.50" y1="267.00" x2="189.30" y2="267.00" stroke="#000" stroke-width="0.6"/>
<text x="187.30" y="269.40" font-size="6.8" text-anchor="end" fill="#222" stroke="#222" stroke-width="0.18">60</text>
<line x1="187.50" y1="289.20" x2="189.30" y2="289.20" stroke="#000" stroke-width="0.6"/>
<text x="187.30" y="291.60" font-size="6.8" text-anchor="end" fill="#222" stroke="#222" stroke-width="0.18">40</text>
<line x1="187.50" y1="312.00" x2="189.30" y2="312.00" stroke="#000" stroke-width="0.6"/>
<text x="187.30" y="314.40" font-size="6.8" text-anchor="end" fill="#222" stroke="#222" stroke-width="0.18">20</text>
<line x1="187.50" y1="334.60" x2="189.30" y2="334.60" stroke="#000" stroke-width="0.6"/>
<text x="187.30" y="337.00" font-size="6.8" text-anchor="end" fill="#222" stroke="#222" stroke-width="0.18">0</text>
<line x1="197.00" y1="337.20" x2="197.00" y2="339.00" stroke="#000" stroke-width="0.6"/>
<text x="196.00" y="346.30" font-size="6.2" text-anchor="middle" fill="#222" stroke="#222" stroke-width="0.18">-6</text>
<line x1="213.30" y1="337.20" x2="213.30" y2="339.00" stroke="#000" stroke-width="0.6"/>
<text x="212.30" y="346.30" font-size="6.2" text-anchor="middle" fill="#222" stroke="#222" stroke-width="0.18">-4</text>
<line x1="229.70" y1="337.20" x2="229.70" y2="339.00" stroke="#000" stroke-width="0.6"/>
<text x="228.70" y="346.30" font-size="6.2" text-anchor="middle" fill="#222" stroke="#222" stroke-width="0.18">-2</text>
<line x1="246.50" y1="337.20" x2="246.50" y2="339.00" stroke="#000" stroke-width="0.6"/>
<text x="246.50" y="346.30" font-size="6.2" text-anchor="middle" fill="#222" stroke="#222" stroke-width="0.18">0</text>
<line x1="262.70" y1="337.20" x2="262.70" y2="339.00" stroke="#000" stroke-width="0.6"/>
<text x="262.70" y="346.30" font-size="6.2" text-anchor="middle" fill="#222" stroke="#222" stroke-width="0.18">2</text>
<line x1="279.30" y1="337.20" x2="279.30" y2="339.00" stroke="#000" stroke-width="0.6"/>
<text x="279.30" y="346.30" font-size="6.2" text-anchor="middle" fill="#222" stroke="#222" stroke-width="0.18">4</text>
<text x="240.60" y="354.60" font-size="6.6" text-anchor="middle" fill="#222" textLength="49" lengthAdjust="spacingAndGlyphs" stroke="#222" stroke-width="0.18">Log2FoldChange</text>
<text x="177.20" y="292.70" font-size="6.0" text-anchor="middle" fill="#222" textLength="42" lengthAdjust="spacingAndGlyphs" stroke="#222" stroke-width="0.18" transform="rotate(-90 177.20 292.70)">-log10(p-value)</text>
<line x1="259.00" y1="333.30" x2="289.00" y2="333.30" stroke="#555" stroke-width="0.8" stroke-dasharray="2,1.8"/>
<rect x="190.6" y="247.0" width="54.9" height="86.4" fill="none" stroke="#cc2a4a" stroke-width="0.9"/>
<line x1="245.50" y1="289.40" x2="304.00" y2="289.40" stroke="#cc2a4a" stroke-width="0.9"/>
<path d="M307.0 289.4 L303.0 287.4 L303.0 291.4 Z" stroke="none" stroke-width="1" fill="#cc2a4a"/>
<text x="192.30" y="254.90" font-size="6.4" fill="#1c5290" textLength="28.5" lengthAdjust="spacingAndGlyphs" stroke="#1c5290" stroke-width="0.18">375Genes</text>
<text x="254.20" y="254.90" font-size="6.4" fill="#3ab54a" textLength="28.2" lengthAdjust="spacingAndGlyphs" stroke="#3ab54a" stroke-width="0.18">307Genes</text>
<text transform="translate(323.31 211.80) scale(1.05 1)" font-size="11.2" fill="#000" font-weight="bold">F</text>
<rect x="336.60" y="219.10" width="174.80" height="149.30" fill="none" stroke="#111" stroke-width="1.1"/>
<line x1="387.30" y1="219.10" x2="387.30" y2="368.40" stroke="#111" stroke-width="0.9"/>
<line x1="422.10" y1="219.10" x2="422.10" y2="368.40" stroke="#111" stroke-width="0.9"/>
<line x1="462.70" y1="219.10" x2="462.70" y2="368.40" stroke="#111" stroke-width="0.9"/>
<line x1="336.60" y1="238.00" x2="511.40" y2="238.00" stroke="#111" stroke-width="0.9"/>
<line x1="336.60" y1="284.00" x2="511.40" y2="284.00" stroke="#111" stroke-width="0.9"/>
<line x1="336.60" y1="303.10" x2="511.40" y2="303.10" stroke="#111" stroke-width="0.9"/>
<line x1="336.60" y1="322.00" x2="511.40" y2="322.00" stroke="#111" stroke-width="0.9"/>
<line x1="336.60" y1="341.20" x2="511.40" y2="341.20" stroke="#111" stroke-width="0.9"/>
<text x="339.90" y="228.00" font-size="8.3" fill="#1a1a1a" stroke="#1a1a1a" stroke-width="0.32">Pathway</text>
<text x="390.00" y="228.00" font-size="8.3" fill="#1a1a1a" stroke="#1a1a1a" stroke-width="0.32">P-value</text>
<text x="423.80" y="228.00" font-size="8.3" fill="#1a1a1a" stroke="#1a1a1a" stroke-width="0.32">Adjusted</text>
<text x="423.80" y="234.70" font-size="8.3" fill="#1a1a1a" stroke="#1a1a1a" stroke-width="0.32">p-value</text>
<text x="465.00" y="228.00" font-size="8.3" fill="#1a1a1a" stroke="#1a1a1a" stroke-width="0.32">Database</text>
<text transform="translate(339.80 246.20) scale(0.89 1)" font-size="7.5" fill="#2a2a2a" stroke="#2a2a2a" stroke-width="0.18">Alpha</text>
<text transform="translate(339.80 254.80) scale(0.89 1)" font-size="7.5" fill="#2a2a2a" stroke="#2a2a2a" stroke-width="0.18">Hemoglobin</text>
<text transform="translate(339.80 263.40) scale(0.89 1)" font-size="7.5" fill="#2a2a2a" stroke="#2a2a2a" stroke-width="0.18">stabilizing</text>
<text transform="translate(339.80 272.00) scale(0.89 1)" font-size="7.5" fill="#2a2a2a" stroke="#2a2a2a" stroke-width="0.18">enzyme</text>
<text transform="translate(339.80 280.60) scale(0.89 1)" font-size="7.5" fill="#2a2a2a" stroke="#2a2a2a" stroke-width="0.18">pathway</text>
<text transform="translate(389.90 246.20) scale(0.89 1)" font-size="7.5" fill="#2a2a2a" stroke="#2a2a2a" stroke-width="0.18">6.411e-8</text>
<text transform="translate(423.70 246.20) scale(0.89 1)" font-size="7.5" fill="#2a2a2a" stroke="#2a2a2a" stroke-width="0.18">0.000033</text>
<text transform="translate(465.00 246.20) scale(0.89 1)" font-size="7.5" fill="#2a2a2a" stroke="#2a2a2a" stroke-width="0.18">BioPlanet</text>
<text transform="translate(465.00 254.80) scale(0.89 1)" font-size="7.5" fill="#2a2a2a" stroke="#2a2a2a" stroke-width="0.18">2019</text>
<text transform="translate(339.80 292.20) scale(0.89 1)" font-size="7.5" fill="#2a2a2a" stroke="#2a2a2a" stroke-width="0.18">Heme</text>
<text transform="translate(339.80 300.80) scale(0.89 1)" font-size="7.5" fill="#2a2a2a" stroke="#2a2a2a" stroke-width="0.18">Biosynthesis</text>
<text transform="translate(389.90 292.20) scale(0.89 1)" font-size="7.5" fill="#2a2a2a" stroke="#2a2a2a" stroke-width="0.18">0.00005</text>
<text transform="translate(423.70 292.20) scale(0.89 1)" font-size="7.5" fill="#2a2a2a" stroke="#2a2a2a" stroke-width="0.18">0.04</text>
<text transform="translate(465.00 292.20) scale(0.89 1)" font-size="7.5" fill="#2a2a2a" stroke="#2a2a2a" stroke-width="0.18">WikiPathways</text>
<text transform="translate(465.00 300.80) scale(0.89 1)" font-size="7.5" fill="#2a2a2a" stroke="#2a2a2a" stroke-width="0.18">2019 mouse</text>
<text transform="translate(339.80 311.30) scale(0.89 1)" font-size="7.5" fill="#2a2a2a" stroke="#2a2a2a" stroke-width="0.18">Heme</text>
<text transform="translate(339.80 319.90) scale(0.89 1)" font-size="7.5" fill="#2a2a2a" stroke="#2a2a2a" stroke-width="0.18">biosynthesis</text>
<text transform="translate(389.90 311.30) scale(0.89 1)" font-size="7.5" fill="#2a2a2a" stroke="#2a2a2a" stroke-width="0.18">0.005</text>
<text transform="translate(423.70 311.30) scale(0.89 1)" font-size="7.5" fill="#2a2a2a" stroke="#2a2a2a" stroke-width="0.18">0.017</text>
<text transform="translate(465.00 311.30) scale(0.89 1)" font-size="7.5" fill="#2a2a2a" stroke="#2a2a2a" stroke-width="0.18">HumanCyc20</text>
<text transform="translate(465.00 319.90) scale(0.89 1)" font-size="7.5" fill="#2a2a2a" stroke="#2a2a2a" stroke-width="0.18">16</text>
<text transform="translate(339.80 330.20) scale(0.89 1)" font-size="7.5" fill="#2a2a2a" stroke="#2a2a2a" stroke-width="0.18">Heme</text>
<text transform="translate(339.80 338.80) scale(0.89 1)" font-size="7.5" fill="#2a2a2a" stroke="#2a2a2a" stroke-width="0.18">metabolism</text>
<text transform="translate(389.90 330.20) scale(0.89 1)" font-size="7.5" fill="#2a2a2a" stroke="#2a2a2a" stroke-width="0.18">8.28e-15</text>
<text transform="translate(423.70 330.20) scale(0.89 1)" font-size="7.5" fill="#2a2a2a" stroke="#2a2a2a" stroke-width="0.18">3.652e-13</text>
<text transform="translate(465.00 330.20) scale(0.89 1)" font-size="7.5" fill="#2a2a2a" stroke="#2a2a2a" stroke-width="0.18">MSigDB</text>
<text transform="translate(465.00 338.80) scale(0.89 1)" font-size="7.5" fill="#2a2a2a" stroke="#2a2a2a" stroke-width="0.18">Hallmark 2020</text>
<text transform="translate(339.80 349.40) scale(0.89 1)" font-size="7.5" fill="#2a2a2a" stroke="#2a2a2a" stroke-width="0.18">Hemoglobin</text>
<text transform="translate(339.80 358.00) scale(0.89 1)" font-size="7.5" fill="#2a2a2a" stroke="#2a2a2a" stroke-width="0.18">chaperone</text>
<text transform="translate(339.80 366.60) scale(0.89 1)" font-size="7.5" fill="#2a2a2a" stroke="#2a2a2a" stroke-width="0.18">AHSP</text>
<text transform="translate(389.90 349.40) scale(0.89 1)" font-size="7.5" fill="#2a2a2a" stroke="#2a2a2a" stroke-width="0.18">6.411e-8</text>
<text transform="translate(423.70 349.40) scale(0.89 1)" font-size="7.5" fill="#2a2a2a" stroke="#2a2a2a" stroke-width="0.18">0.000003</text>
<text transform="translate(465.00 349.40) scale(0.89 1)" font-size="7.5" fill="#2a2a2a" stroke="#2a2a2a" stroke-width="0.18">BioCarta2016</text>
<text transform="translate(6.90 411.70) scale(1.08 1)" font-size="11.2" fill="#000" font-weight="bold">G</text>
<line x1="35.60" y1="405.80" x2="35.60" y2="535.00" stroke="#000" stroke-width="1.0"/>
<line x1="35.10" y1="534.60" x2="158.50" y2="534.60" stroke="#000" stroke-width="1.0"/>
<line x1="33.80" y1="423.50" x2="35.60" y2="423.50" stroke="#000" stroke-width="0.6"/>
<text x="33.40" y="425.60" font-size="6.0" text-anchor="end" fill="#222" stroke="#222" stroke-width="0.18">20</text>
<line x1="33.80" y1="460.80" x2="35.60" y2="460.80" stroke="#000" stroke-width="0.6"/>
<text x="33.40" y="462.90" font-size="6.0" text-anchor="end" fill="#222" stroke="#222" stroke-width="0.18">0</text>
<line x1="33.80" y1="498.50" x2="35.60" y2="498.50" stroke="#000" stroke-width="0.6"/>
<text x="33.40" y="500.60" font-size="6.0" text-anchor="end" fill="#222" stroke="#222" stroke-width="0.18">-20</text>
<line x1="38.80" y1="534.60" x2="38.80" y2="536.40" stroke="#000" stroke-width="0.6"/>
<text x="37.80" y="541.60" font-size="6.0" text-anchor="middle" fill="#222" stroke="#222" stroke-width="0.18">-40</text>
<line x1="72.50" y1="534.60" x2="72.50" y2="536.40" stroke="#000" stroke-width="0.6"/>
<text x="71.50" y="541.60" font-size="6.0" text-anchor="middle" fill="#222" stroke="#222" stroke-width="0.18">-20</text>
<line x1="107.60" y1="534.60" x2="107.60" y2="536.40" stroke="#000" stroke-width="0.6"/>
<text x="107.60" y="541.60" font-size="6.0" text-anchor="middle" fill="#222" stroke="#222" stroke-width="0.18">0</text>
<line x1="141.30" y1="534.60" x2="141.30" y2="536.40" stroke="#000" stroke-width="0.6"/>
<text x="141.30" y="541.60" font-size="6.0" text-anchor="middle" fill="#222" stroke="#222" stroke-width="0.18">20</text>
<text x="94.00" y="549.00" font-size="5.2" text-anchor="middle" fill="#222" textLength="48" lengthAdjust="spacingAndGlyphs" stroke="#222" stroke-width="0.18">PC1: 41.04% variance</text>
<text x="28.60" y="468.00" font-size="5.2" text-anchor="middle" fill="#222" textLength="49" lengthAdjust="spacingAndGlyphs" stroke="#222" stroke-width="0.18" transform="rotate(-90 28.60 468.00)">PC2: 15.31% variance</text>
<circle cx="57.7" cy="450.4" r="1.0" fill="#c8102e"/>
<rect x="44.8" y="443.10" width="20.80" height="5.20" rx="0.8" fill="#c8102e"/>
<text x="55.20" y="447.80" font-size="5.5" text-anchor="middle" fill="#fff" stroke="#fff" stroke-width="0.25">+/-</text>
<circle cx="65.6" cy="453.0" r="1.0" fill="#c8102e"/>
<rect x="59.7" y="454.40" width="20.70" height="5.30" rx="0.8" fill="#c8102e"/>
<text x="70.05" y="459.20" font-size="5.5" text-anchor="middle" fill="#fff" stroke="#fff" stroke-width="0.25">+/-</text>
<circle cx="79.0" cy="495.5" r="1.0" fill="#c8102e"/>
<rect x="66.2" y="497.10" width="20.80" height="5.70" rx="0.8" fill="#c8102e"/>
<text x="76.60" y="502.30" font-size="5.5" text-anchor="middle" fill="#fff" stroke="#fff" stroke-width="0.25">+/-</text>
<rect x="80.3" y="447.00" width="23.20" height="5.70" rx="0.8" fill="#1c5290"/>
<text x="91.90" y="452.20" font-size="5.5" text-anchor="middle" fill="#fff" stroke="#fff" stroke-width="0.25">EV3</text>
<rect x="109.0" y="449.90" width="23.80" height="5.10" rx="0.8" fill="#1c5290"/>
<text x="120.90" y="454.50" font-size="5.5" text-anchor="middle" fill="#fff" stroke="#fff" stroke-width="0.25">EV2</text>
<rect x="101.5" y="455.60" width="23.10" height="5.60" rx="0.8" fill="#1c5290"/>
<text x="113.05" y="460.70" font-size="5.5" text-anchor="middle" fill="#fff" stroke="#fff" stroke-width="0.25">EV1</text>
<circle cx="120.0" cy="434.5" r="1.0" fill="#4e1d72"/>
<rect x="113.0" y="427.60" width="23.00" height="5.10" rx="0.8" fill="#4e1d72"/>
<text x="124.50" y="432.20" font-size="5.5" text-anchor="middle" fill="#fff" stroke="#fff" stroke-width="0.25">OE1</text>
<circle cx="137.0" cy="447.0" r="1.0" fill="#4e1d72"/>
<rect x="134.0" y="440.80" width="23.70" height="4.90" rx="0.8" fill="#4e1d72"/>
<text x="145.85" y="445.20" font-size="5.5" text-anchor="middle" fill="#fff" stroke="#fff" stroke-width="0.25">OE2</text>
<circle cx="135.0" cy="459.8" r="1.0" fill="#4e1d72"/>
<rect x="132.8" y="453.40" width="23.70" height="5.00" rx="0.8" fill="#4e1d72"/>
<text x="144.65" y="457.90" font-size="5.5" text-anchor="middle" fill="#fff" stroke="#fff" stroke-width="0.25">OE3</text>
<circle cx="123.0" cy="468.5" r="1.0" fill="#3cb54a"/>
<rect x="121.5" y="466.20" width="23.50" height="5.00" rx="0.8" fill="#3cb54a"/>
<text x="133.25" y="470.70" font-size="5.5" text-anchor="middle" fill="#fff" stroke="#fff" stroke-width="0.25">YYFF</text>
<circle cx="119.5" cy="478.5" r="1.0" fill="#3cb54a"/>
<rect x="117.4" y="472.60" width="23.60" height="5.20" rx="0.8" fill="#3cb54a"/>
<text x="129.20" y="477.30" font-size="5.5" text-anchor="middle" fill="#fff" stroke="#fff" stroke-width="0.25">YYFF</text>
<circle cx="125.5" cy="486.5" r="1.0" fill="#3cb54a"/>
<rect x="123.0" y="480.60" width="24.20" height="5.50" rx="0.8" fill="#3cb54a"/>
<text x="135.10" y="485.60" font-size="5.5" text-anchor="middle" fill="#fff" stroke="#fff" stroke-width="0.25">YYFF</text>
<ellipse cx="67.6" cy="465.3" rx="66.6" ry="6.6" transform="rotate(66.9 67.6 465.3)" fill="none" stroke="#c8102e" stroke-width="0.8"/>
<ellipse cx="131.0" cy="447.0" rx="37.6" ry="12.2" transform="rotate(55.9 131.0 447.0)" fill="none" stroke="#4e1d72" stroke-width="0.8"/>
<ellipse cx="107.0" cy="450.7" rx="24.6" ry="1.9" transform="rotate(42.8 107.0 450.7)" fill="none" stroke="#1c5290" stroke-width="0.8"/>
<ellipse cx="124.3" cy="477.6" rx="27.0" ry="6.6" transform="rotate(84.0 124.3 477.6)" fill="none" stroke="#3cb54a" stroke-width="0.8"/>
<rect x="163.00" y="455.20" width="11.50" height="5.30" fill="#1c5290"/>
<text x="176.80" y="460.00" font-size="6.2" fill="#222" stroke="#222" stroke-width="0.18">EV</text>
<rect x="163.00" y="462.90" width="11.50" height="5.30" fill="#c8102e"/>
<text x="176.80" y="468.40" font-size="6.2" fill="#222" stroke="#222" stroke-width="0.18">+/-</text>
<rect x="163.00" y="471.60" width="11.50" height="5.30" fill="#4e1d72"/>
<text x="176.80" y="477.50" font-size="6.2" fill="#222" stroke="#222" stroke-width="0.18">OE</text>
<rect x="163.00" y="480.90" width="11.50" height="5.30" fill="#3cb54a"/>
<text x="176.80" y="485.70" font-size="6.2" fill="#222" stroke="#222" stroke-width="0.18">YYFF</text>
<text transform="translate(6.54 565.70) scale(1.15 1)" font-size="11.2" fill="#000" font-weight="bold">H</text>
<text x="20.40" y="575.60" font-size="7.0" fill="#222" stroke="#222" stroke-width="0.18">i</text>
<text x="110.20" y="575.60" font-size="7.0" fill="#222" stroke="#222" stroke-width="0.18">ii</text>
<line x1="31.50" y1="582.00" x2="31.50" y2="646.90" stroke="#000" stroke-width="1.0"/>
<line x1="31.00" y1="646.40" x2="73.60" y2="646.40" stroke="#000" stroke-width="1.0"/>
<line x1="29.80" y1="582.90" x2="31.50" y2="582.90" stroke="#000" stroke-width="0.7"/>
<text x="29.80" y="585.30" font-size="6.8" text-anchor="end" fill="#222" stroke="#222" stroke-width="0.18">4</text>
<line x1="29.80" y1="598.60" x2="31.50" y2="598.60" stroke="#000" stroke-width="0.7"/>
<text x="29.80" y="601.00" font-size="6.8" text-anchor="end" fill="#222" stroke="#222" stroke-width="0.18">3</text>
<line x1="29.80" y1="614.60" x2="31.50" y2="614.60" stroke="#000" stroke-width="0.7"/>
<text x="29.80" y="617.00" font-size="6.8" text-anchor="end" fill="#222" stroke="#222" stroke-width="0.18">2</text>
<line x1="29.80" y1="630.60" x2="31.50" y2="630.60" stroke="#000" stroke-width="0.7"/>
<text x="29.80" y="633.00" font-size="6.8" text-anchor="end" fill="#222" stroke="#222" stroke-width="0.18">1</text>
<line x1="29.80" y1="646.40" x2="31.50" y2="646.40" stroke="#000" stroke-width="0.7"/>
<text x="29.80" y="648.80" font-size="6.8" text-anchor="end" fill="#222" stroke="#222" stroke-width="0.18">0</text>
<rect x="36.10" y="600.60" width="8.30" height="45.80" fill="#c8102e"/>
<rect x="48.50" y="622.00" width="8.90" height="24.40" fill="#1c5290"/>
<rect x="61.60" y="617.20" width="8.40" height="29.20" fill="#3cb54a"/>
<line x1="40.30" y1="595.20" x2="40.30" y2="605.50" stroke="#111" stroke-width="0.8"/>
<line x1="39.20" y1="595.20" x2="41.40" y2="595.20" stroke="#111" stroke-width="0.8"/>
<line x1="39.20" y1="605.50" x2="41.40" y2="605.50" stroke="#111" stroke-width="0.8"/>
<line x1="53.00" y1="618.00" x2="53.00" y2="626.00" stroke="#111" stroke-width="0.8"/>
<line x1="51.90" y1="618.00" x2="54.10" y2="618.00" stroke="#111" stroke-width="0.8"/>
<line x1="51.90" y1="626.00" x2="54.10" y2="626.00" stroke="#111" stroke-width="0.8"/>
<line x1="65.80" y1="616.60" x2="65.80" y2="617.80" stroke="#111" stroke-width="0.8"/>
<line x1="64.70" y1="616.60" x2="66.90" y2="616.60" stroke="#111" stroke-width="0.8"/>
<line x1="64.70" y1="617.80" x2="66.90" y2="617.80" stroke="#111" stroke-width="0.8"/>
<circle cx="40.3" cy="590.5" r="0.8" fill="#111"/>
<circle cx="40.3" cy="609.0" r="0.8" fill="#111"/>
<circle cx="53.0" cy="614.2" r="0.8" fill="#111"/>
<circle cx="53.0" cy="628.0" r="0.8" fill="#111"/>
<circle cx="65.8" cy="617.2" r="0.8" fill="#111"/>
<text x="52.60" y="613.00" font-size="9.0" text-anchor="middle" fill="#111" stroke="#111" stroke-width="0.18">*</text>
<text x="65.60" y="613.00" font-size="9.0" text-anchor="middle" fill="#111" stroke="#111" stroke-width="0.18">*</text>
<text x="19.50" y="615.50" font-size="6.0" text-anchor="middle" fill="#222" textLength="65" lengthAdjust="spacingAndGlyphs" stroke="#222" stroke-width="0.18" transform="rotate(-90 19.50 615.50)">Norm.Expression (GAPDH)</text>
<text x="43.00" y="650.50" font-size="6.0" text-anchor="end" fill="#222" stroke="#222" stroke-width="0.18" transform="rotate(-45 43.00 650.50)">EV</text>
<text x="56.00" y="650.50" font-size="6.0" text-anchor="end" fill="#222" stroke="#222" stroke-width="0.18" transform="rotate(-45 56.00 650.50)">HEXIM1 OE</text>
<text x="69.00" y="650.50" font-size="6.0" text-anchor="end" fill="#222" stroke="#222" stroke-width="0.18" transform="rotate(-45 69.00 650.50)">YYFF OE</text>
<defs><filter id="blur1" x="-10%" y="-50%" width="120%" height="200%"><feGaussianBlur stdDeviation="0.7"/></filter></defs>
<rect x="117.40" y="609.60" width="113.20" height="14.20" fill="#b0b0b0"/>
<rect x="117.40" y="626.00" width="113.20" height="17.40" fill="#bcbcbc"/>
<rect x="118" y="611" width="112" height="7" fill="#a4a4a4" filter="url(#blur1)"/>
<rect x="120" y="612.2" width="9" height="3.6" rx="1.2" fill="#1e1e1e" filter="url(#blur1)"/>
<rect x="132" y="612.8" width="10" height="3.2" rx="1.2" fill="#4a4a4a" filter="url(#blur1)"/>
<rect x="144" y="613.0" width="10" height="3.2" rx="1.2" fill="#555" filter="url(#blur1)"/>
<rect x="157" y="613.6" width="10" height="2.8" rx="1.2" fill="#7a7a7a" filter="url(#blur1)"/>
<rect x="169" y="613.2" width="10" height="3.0" rx="1.2" fill="#6a6a6a" filter="url(#blur1)"/>
<rect x="181" y="614.2" width="10" height="2.4" rx="1.2" fill="#8a8a8a" filter="url(#blur1)"/>
<rect x="194" y="612.4" width="10" height="3.2" rx="1.2" fill="#7a7a7a" filter="url(#blur1)"/>
<rect x="206" y="612.2" width="10" height="3.4" rx="1.2" fill="#707070" filter="url(#blur1)"/>
<rect x="218" y="612.4" width="10" height="3.2" rx="1.2" fill="#7d7d7d" filter="url(#blur1)"/>
<rect x="120" y="629.5" width="9" height="6" rx="1.5" fill="#555" fill-opacity="0.3" stroke="#555" stroke-width="0.9" filter="url(#blur1)"/>
<rect x="132" y="632.5" width="10" height="4" rx="1.5" fill="#444" fill-opacity="0.5" stroke="#444" stroke-width="0.9" filter="url(#blur1)"/>
<rect x="144" y="628.5" width="10" height="7" rx="1.5" fill="#444" fill-opacity="0.5" stroke="#444" stroke-width="0.9" filter="url(#blur1)"/>
<rect x="157" y="629" width="10" height="6" rx="1.5" fill="#5a5a5a" fill-opacity="0.4" stroke="#5a5a5a" stroke-width="0.9" filter="url(#blur1)"/>
<rect x="169" y="630.5" width="10" height="5" rx="1.5" fill="#555" fill-opacity="0.4" stroke="#555" stroke-width="0.9" filter="url(#blur1)"/>
<rect x="181" y="633" width="11" height="1.6" rx="1.5" fill="#444" fill-opacity="1.0" stroke="#444" stroke-width="0.9" filter="url(#blur1)"/>
<rect x="194" y="628.5" width="10" height="5" rx="1.5" fill="#666" fill-opacity="0.4" stroke="#666" stroke-width="0.9" filter="url(#blur1)"/>
<rect x="206" y="628.5" width="10" height="5" rx="1.5" fill="#555" fill-opacity="0.5" stroke="#555" stroke-width="0.9" filter="url(#blur1)"/>
<rect x="218" y="629.5" width="9" height="4" rx="1.5" fill="#666" fill-opacity="0.4" stroke="#666" stroke-width="0.9" filter="url(#blur1)"/>
<text x="138.50" y="605.50" font-size="6.9" text-anchor="middle" fill="#222" stroke="#222" stroke-width="0.18">EV</text>
<line x1="124.60" y1="607.20" x2="152.30" y2="607.20" stroke="#111" stroke-width="1.0"/>
<text x="173.40" y="605.50" font-size="6.9" text-anchor="middle" fill="#222" stroke="#222" stroke-width="0.18">HEX OE</text>
<line x1="158.50" y1="607.20" x2="190.80" y2="607.20" stroke="#111" stroke-width="1.0"/>
<text x="212.80" y="605.50" font-size="6.9" text-anchor="middle" fill="#222" stroke="#222" stroke-width="0.18">YYFF OE</text>
<line x1="195.40" y1="607.20" x2="230.80" y2="607.20" stroke="#111" stroke-width="1.0"/>
<text x="112.30" y="622.80" font-size="6.4" text-anchor="end" fill="#222" textLength="29.8" lengthAdjust="spacingAndGlyphs" stroke="#222" stroke-width="0.18">Ser2 pol II</text>
<text x="112.30" y="637.80" font-size="6.4" text-anchor="end" fill="#222" textLength="24.6" lengthAdjust="spacingAndGlyphs" stroke="#222" stroke-width="0.18">GAPDH</text>
<text transform="translate(205.77 411.60) scale(1.1 1)" font-size="11.2" fill="#000" font-weight="bold">I</text>
<text x="223.80" y="421.00" font-size="6.5" fill="#222" stroke="#222" stroke-width="0.18">i</text>
<text x="291.00" y="421.60" font-size="6.0" text-anchor="middle" fill="#222" stroke="#222" stroke-width="0.18">GYPA</text>
<text x="232.10" y="503.90" font-size="6.0" text-anchor="end" fill="#222" stroke="#222" stroke-width="0.18">0</text>
<text x="232.10" y="497.02" font-size="6.0" text-anchor="end" fill="#222" stroke="#222" stroke-width="0.18">0.5</text>
<text x="232.10" y="490.14" font-size="6.0" text-anchor="end" fill="#222" stroke="#222" stroke-width="0.18">1</text>
<text x="232.10" y="483.26" font-size="6.0" text-anchor="end" fill="#222" stroke="#222" stroke-width="0.18">1.5</text>
<text x="232.10" y="476.38" font-size="6.0" text-anchor="end" fill="#222" stroke="#222" stroke-width="0.18">2</text>
<text x="232.10" y="469.50" font-size="6.0" text-anchor="end" fill="#222" stroke="#222" stroke-width="0.18">2.5</text>
<text x="232.10" y="462.62" font-size="6.0" text-anchor="end" fill="#222" stroke="#222" stroke-width="0.18">3</text>
<text x="232.10" y="455.74" font-size="6.0" text-anchor="end" fill="#222" stroke="#222" stroke-width="0.18">3.5</text>
<text x="232.10" y="448.86" font-size="6.0" text-anchor="end" fill="#222" stroke="#222" stroke-width="0.18">4</text>
<text x="232.10" y="441.98" font-size="6.0" text-anchor="end" fill="#222" stroke="#222" stroke-width="0.18">4.5</text>
<text x="232.10" y="435.10" font-size="6.0" text-anchor="end" fill="#222" stroke="#222" stroke-width="0.18">5</text>
<line x1="235.00" y1="501.40" x2="363.50" y2="501.40" stroke="#000" stroke-width="1.0"/>
<rect x="240.00" y="455.00" width="5.40" height="46.00" fill="#c8102e"/>
<rect x="245.30" y="466.30" width="5.40" height="34.70" fill="#1c5290"/>
<rect x="250.80" y="455.80" width="5.40" height="45.20" fill="#3cb54a"/>
<rect x="265.50" y="465.00" width="5.50" height="36.00" fill="#c8102e"/>
<rect x="270.60" y="473.80" width="5.50" height="27.20" fill="#1c5290"/>
<rect x="276.30" y="473.30" width="5.50" height="27.70" fill="#3cb54a"/>
<rect x="316.00" y="452.50" width="5.30" height="48.50" fill="#c8102e"/>
<rect x="321.20" y="468.70" width="5.30" height="32.30" fill="#1c5290"/>
<rect x="326.50" y="447.10" width="5.30" height="53.90" fill="#3cb54a"/>
<rect x="342.00" y="468.30" width="5.60" height="32.70" fill="#c8102e"/>
<rect x="346.40" y="479.80" width="5.60" height="21.20" fill="#1c5290"/>
<rect x="352.00" y="480.40" width="5.60" height="20.60" fill="#3cb54a"/>
<line x1="242.70" y1="445.50" x2="242.70" y2="472.50" stroke="#111" stroke-width="1.1"/>
<line x1="241.00" y1="445.50" x2="244.40" y2="445.50" stroke="#111" stroke-width="1.1"/>
<line x1="241.00" y1="472.50" x2="244.40" y2="472.50" stroke="#111" stroke-width="1.1"/>
<line x1="248.00" y1="461.80" x2="248.00" y2="470.00" stroke="#111" stroke-width="1.1"/>
<line x1="246.30" y1="461.80" x2="249.70" y2="461.80" stroke="#111" stroke-width="1.1"/>
<line x1="246.30" y1="470.00" x2="249.70" y2="470.00" stroke="#111" stroke-width="1.1"/>
<line x1="253.50" y1="443.30" x2="253.50" y2="468.80" stroke="#111" stroke-width="1.1"/>
<line x1="251.80" y1="443.30" x2="255.20" y2="443.30" stroke="#111" stroke-width="1.1"/>
<line x1="251.80" y1="468.80" x2="255.20" y2="468.80" stroke="#111" stroke-width="1.1"/>
<line x1="268.00" y1="464.30" x2="268.00" y2="465.70" stroke="#111" stroke-width="1.1"/>
<line x1="266.30" y1="464.30" x2="269.70" y2="464.30" stroke="#111" stroke-width="1.1"/>
<line x1="266.30" y1="465.70" x2="269.70" y2="465.70" stroke="#111" stroke-width="1.1"/>
<line x1="273.40" y1="471.50" x2="273.40" y2="476.00" stroke="#111" stroke-width="1.1"/>
<line x1="271.70" y1="471.50" x2="275.10" y2="471.50" stroke="#111" stroke-width="1.1"/>
<line x1="271.70" y1="476.00" x2="275.10" y2="476.00" stroke="#111" stroke-width="1.1"/>
<line x1="279.00" y1="471.00" x2="279.00" y2="475.50" stroke="#111" stroke-width="1.1"/>
<line x1="277.30" y1="471.00" x2="280.70" y2="471.00" stroke="#111" stroke-width="1.1"/>
<line x1="277.30" y1="475.50" x2="280.70" y2="475.50" stroke="#111" stroke-width="1.1"/>
<line x1="318.70" y1="452.00" x2="318.70" y2="453.20" stroke="#111" stroke-width="1.1"/>
<line x1="317.00" y1="452.00" x2="320.40" y2="452.00" stroke="#111" stroke-width="1.1"/>
<line x1="317.00" y1="453.20" x2="320.40" y2="453.20" stroke="#111" stroke-width="1.1"/>
<line x1="323.90" y1="468.00" x2="323.90" y2="469.60" stroke="#111" stroke-width="1.1"/>
<line x1="322.20" y1="468.00" x2="325.60" y2="468.00" stroke="#111" stroke-width="1.1"/>
<line x1="322.20" y1="469.60" x2="325.60" y2="469.60" stroke="#111" stroke-width="1.1"/>
<line x1="329.10" y1="436.00" x2="329.10" y2="457.70" stroke="#111" stroke-width="1.1"/>
<line x1="327.40" y1="436.00" x2="330.80" y2="436.00" stroke="#111" stroke-width="1.1"/>
<line x1="327.40" y1="457.70" x2="330.80" y2="457.70" stroke="#111" stroke-width="1.1"/>
<line x1="344.20" y1="467.80" x2="344.20" y2="468.80" stroke="#111" stroke-width="1.1"/>
<line x1="342.50" y1="467.80" x2="345.90" y2="467.80" stroke="#111" stroke-width="1.1"/>
<line x1="342.50" y1="468.80" x2="345.90" y2="468.80" stroke="#111" stroke-width="1.1"/>
<line x1="349.20" y1="478.60" x2="349.20" y2="481.00" stroke="#111" stroke-width="1.1"/>
<line x1="347.50" y1="478.60" x2="350.90" y2="478.60" stroke="#111" stroke-width="1.1"/>
<line x1="347.50" y1="481.00" x2="350.90" y2="481.00" stroke="#111" stroke-width="1.1"/>
<line x1="354.80" y1="477.00" x2="354.80" y2="483.60" stroke="#111" stroke-width="1.1"/>
<line x1="353.10" y1="477.00" x2="356.50" y2="477.00" stroke="#111" stroke-width="1.1"/>
<line x1="353.10" y1="483.60" x2="356.50" y2="483.60" stroke="#111" stroke-width="1.1"/>
<line x1="266.50" y1="457.50" x2="273.50" y2="457.50" stroke="#111" stroke-width="0.8"/>
<line x1="266.50" y1="456.10" x2="266.50" y2="458.90" stroke="#111" stroke-width="0.8"/>
<line x1="273.50" y1="456.10" x2="273.50" y2="458.90" stroke="#111" stroke-width="0.8"/>
<text x="270.00" y="456.90" font-size="6.0" text-anchor="middle" fill="#111" stroke="#111" stroke-width="0.18">*</text>
<line x1="317.30" y1="445.60" x2="324.60" y2="445.60" stroke="#111" stroke-width="0.8"/>
<line x1="317.30" y1="444.20" x2="317.30" y2="447.00" stroke="#111" stroke-width="0.8"/>
<line x1="324.60" y1="444.20" x2="324.60" y2="447.00" stroke="#111" stroke-width="0.8"/>
<text x="320.95" y="445.00" font-size="6.0" text-anchor="middle" fill="#111" stroke="#111" stroke-width="0.18">*</text>
<line x1="322.50" y1="430.80" x2="330.40" y2="430.80" stroke="#111" stroke-width="0.8"/>
<line x1="322.50" y1="429.40" x2="322.50" y2="432.20" stroke="#111" stroke-width="0.8"/>
<line x1="330.40" y1="429.40" x2="330.40" y2="432.20" stroke="#111" stroke-width="0.8"/>
<text x="326.45" y="430.20" font-size="6.0" text-anchor="middle" fill="#111" stroke="#111" stroke-width="0.18">*</text>
<line x1="342.50" y1="461.50" x2="349.60" y2="461.50" stroke="#111" stroke-width="0.8"/>
<line x1="342.50" y1="460.10" x2="342.50" y2="462.90" stroke="#111" stroke-width="0.8"/>
<line x1="349.60" y1="460.10" x2="349.60" y2="462.90" stroke="#111" stroke-width="0.8"/>
<text x="346.05" y="460.90" font-size="6.0" text-anchor="middle" fill="#111" stroke="#111" stroke-width="0.18">*</text>
<text transform="translate(246.50 507.50) scale(0.9 1)" font-size="6.4" text-anchor="middle" fill="#222" stroke="#222" stroke-width="0.18">ser 2</text>
<text transform="translate(246.60 514.30) scale(0.9 1)" font-size="6.4" text-anchor="middle" fill="#222" stroke="#222" stroke-width="0.18">Promoter</text>
<text transform="translate(273.40 507.50) scale(0.9 1)" font-size="6.4" text-anchor="middle" fill="#222" stroke="#222" stroke-width="0.18">ser 2</text>
<text transform="translate(275.40 514.30) scale(0.9 1)" font-size="6.4" text-anchor="middle" fill="#222" stroke="#222" stroke-width="0.18">Gene Body</text>
<text transform="translate(323.20 507.50) scale(0.9 1)" font-size="6.4" text-anchor="middle" fill="#222" stroke="#222" stroke-width="0.18">ser5</text>
<text transform="translate(322.90 514.30) scale(0.9 1)" font-size="6.4" text-anchor="middle" fill="#222" stroke="#222" stroke-width="0.18">Promoter</text>
<text transform="translate(349.20 507.50) scale(0.9 1)" font-size="6.4" text-anchor="middle" fill="#222" stroke="#222" stroke-width="0.18">ser5</text>
<text transform="translate(351.50 514.30) scale(0.9 1)" font-size="6.4" text-anchor="middle" fill="#222" stroke="#222" stroke-width="0.18">Gene Body</text>
<text x="218.50" y="474.00" font-size="6.0" text-anchor="middle" fill="#222" textLength="92" lengthAdjust="spacingAndGlyphs" stroke="#222" stroke-width="0.18" transform="rotate(-90 218.50 474.00)">Enrichment relative to Input Control</text>
<text x="389.50" y="421.50" font-size="6.5" fill="#222" stroke="#222" stroke-width="0.18">ii</text>
<text x="431.80" y="427.40" font-size="6.2" text-anchor="middle" fill="#222" textLength="58" lengthAdjust="spacingAndGlyphs" stroke="#222" stroke-width="0.18">Pausing Index GYPA</text>
<text x="398.60" y="507.30" font-size="6.0" text-anchor="end" fill="#222" stroke="#222" stroke-width="0.18">0</text>
<text x="398.60" y="494.10" font-size="6.0" text-anchor="end" fill="#222" stroke="#222" stroke-width="0.18">0.5</text>
<text x="398.60" y="480.90" font-size="6.0" text-anchor="end" fill="#222" stroke="#222" stroke-width="0.18">1</text>
<text x="398.60" y="467.70" font-size="6.0" text-anchor="end" fill="#222" stroke="#222" stroke-width="0.18">1.5</text>
<text x="398.60" y="454.50" font-size="6.0" text-anchor="end" fill="#222" stroke="#222" stroke-width="0.18">2</text>
<text x="398.60" y="441.30" font-size="6.0" text-anchor="end" fill="#222" stroke="#222" stroke-width="0.18">2.5</text>
<text x="398.60" y="428.10" font-size="6.0" text-anchor="end" fill="#222" stroke="#222" stroke-width="0.18">3</text>
<line x1="401.00" y1="505.20" x2="467.60" y2="505.20" stroke="#000" stroke-width="1.0"/>
<rect x="407.90" y="472.00" width="6.10" height="32.80" fill="#c8102e"/>
<rect x="415.40" y="471.00" width="6.10" height="33.80" fill="#1c5290"/>
<rect x="422.00" y="462.30" width="6.10" height="42.50" fill="#3cb54a"/>
<rect x="440.00" y="466.20" width="6.30" height="38.60" fill="#c8102e"/>
<rect x="446.60" y="464.20" width="6.30" height="40.60" fill="#1c5290"/>
<rect x="453.80" y="437.70" width="6.30" height="67.10" fill="#3cb54a"/>
<text x="418.20" y="513.80" font-size="6.4" text-anchor="middle" fill="#222" stroke="#222" stroke-width="0.18">ser2</text>
<text x="450.00" y="513.80" font-size="6.4" text-anchor="middle" fill="#222" stroke="#222" stroke-width="0.18">ser5</text>
<rect x="470.10" y="425.70" width="5.00" height="4.90" fill="#c8102e"/>
<text transform="translate(478.40 430.60) scale(0.84 1)" font-size="6.6" fill="#222" stroke="#222" stroke-width="0.18">HEXIM1 OE</text>
<rect x="470.10" y="433.40" width="5.00" height="4.90" fill="#1c5290"/>
<text transform="translate(478.40 438.30) scale(0.84 1)" font-size="6.6" fill="#222" stroke="#222" stroke-width="0.18">Luc Control</text>
<rect x="470.10" y="441.20" width="5.00" height="4.90" fill="#3cb54a"/>
<text transform="translate(478.40 446.10) scale(0.84 1)" font-size="6.6" fill="#222" stroke="#222" stroke-width="0.18">shRNA HEXIM1</text>
<text transform="translate(246.13 565.50) scale(1.03 1)" font-size="11.2" fill="#000" font-weight="bold">J</text>
<text x="277.00" y="561.50" font-size="6.5" fill="#222" stroke="#222" stroke-width="0.18">i</text>
<text x="345.20" y="566.80" font-size="6.0" text-anchor="middle" fill="#222" stroke="#222" stroke-width="0.18">RPS19</text>
<text transform="translate(282.30 663.10) scale(1.12 1)" font-size="6.4" text-anchor="end" fill="#222" stroke="#222" stroke-width="0.18">0</text>
<text transform="translate(282.30 648.37) scale(1.12 1)" font-size="6.4" text-anchor="end" fill="#222" stroke="#222" stroke-width="0.18">1</text>
<text transform="translate(282.30 633.64) scale(1.12 1)" font-size="6.4" text-anchor="end" fill="#222" stroke="#222" stroke-width="0.18">2</text>
<text transform="translate(282.30 618.91) scale(1.12 1)" font-size="6.4" text-anchor="end" fill="#222" stroke="#222" stroke-width="0.18">3</text>
<text transform="translate(282.30 604.18) scale(1.12 1)" font-size="6.4" text-anchor="end" fill="#222" stroke="#222" stroke-width="0.18">4</text>
<text transform="translate(282.30 589.45) scale(1.12 1)" font-size="6.4" text-anchor="end" fill="#222" stroke="#222" stroke-width="0.18">5</text>
<text transform="translate(282.30 574.72) scale(1.12 1)" font-size="6.4" text-anchor="end" fill="#222" stroke="#222" stroke-width="0.18">6</text>
<line x1="285.50" y1="659.80" x2="409.50" y2="659.80" stroke="#000" stroke-width="1.0"/>
<rect x="289.90" y="648.00" width="5.60" height="11.40" fill="#c8102e"/>
<rect x="294.50" y="610.00" width="5.60" height="49.40" fill="#1c5290"/>
<rect x="300.00" y="622.80" width="5.60" height="36.60" fill="#3cb54a"/>
<rect x="314.70" y="644.00" width="5.60" height="15.40" fill="#c8102e"/>
<rect x="319.20" y="646.00" width="5.60" height="13.40" fill="#1c5290"/>
<rect x="324.80" y="636.50" width="5.60" height="22.90" fill="#3cb54a"/>
<rect x="364.80" y="650.70" width="5.60" height="8.70" fill="#c8102e"/>
<rect x="369.30" y="598.00" width="5.60" height="61.40" fill="#1c5290"/>
<rect x="375.00" y="614.30" width="5.60" height="45.10" fill="#3cb54a"/>
<rect x="389.70" y="644.60" width="5.60" height="14.80" fill="#c8102e"/>
<rect x="394.10" y="645.00" width="5.60" height="14.40" fill="#1c5290"/>
<rect x="399.80" y="620.20" width="5.60" height="39.20" fill="#3cb54a"/>
<line x1="292.20" y1="646.50" x2="292.20" y2="649.00" stroke="#111" stroke-width="1.0"/>
<line x1="290.90" y1="646.50" x2="293.50" y2="646.50" stroke="#111" stroke-width="1.0"/>
<line x1="290.90" y1="649.00" x2="293.50" y2="649.00" stroke="#111" stroke-width="1.0"/>
<line x1="297.30" y1="589.40" x2="297.30" y2="630.90" stroke="#111" stroke-width="1.0"/>
<line x1="296.00" y1="589.40" x2="298.60" y2="589.40" stroke="#111" stroke-width="1.0"/>
<line x1="296.00" y1="630.90" x2="298.60" y2="630.90" stroke="#111" stroke-width="1.0"/>
<line x1="302.90" y1="611.00" x2="302.90" y2="635.30" stroke="#111" stroke-width="1.0"/>
<line x1="301.60" y1="611.00" x2="304.20" y2="611.00" stroke="#111" stroke-width="1.0"/>
<line x1="301.60" y1="635.30" x2="304.20" y2="635.30" stroke="#111" stroke-width="1.0"/>
<line x1="317.00" y1="642.60" x2="317.00" y2="645.40" stroke="#111" stroke-width="1.0"/>
<line x1="315.70" y1="642.60" x2="318.30" y2="642.60" stroke="#111" stroke-width="1.0"/>
<line x1="315.70" y1="645.40" x2="318.30" y2="645.40" stroke="#111" stroke-width="1.0"/>
<line x1="322.00" y1="641.40" x2="322.00" y2="650.20" stroke="#111" stroke-width="1.0"/>
<line x1="320.70" y1="641.40" x2="323.30" y2="641.40" stroke="#111" stroke-width="1.0"/>
<line x1="320.70" y1="650.20" x2="323.30" y2="650.20" stroke="#111" stroke-width="1.0"/>
<line x1="327.60" y1="630.90" x2="327.60" y2="642.60" stroke="#111" stroke-width="1.0"/>
<line x1="326.30" y1="630.90" x2="328.90" y2="630.90" stroke="#111" stroke-width="1.0"/>
<line x1="326.30" y1="642.60" x2="328.90" y2="642.60" stroke="#111" stroke-width="1.0"/>
<line x1="367.10" y1="649.50" x2="367.10" y2="651.80" stroke="#111" stroke-width="1.0"/>
<line x1="365.80" y1="649.50" x2="368.40" y2="649.50" stroke="#111" stroke-width="1.0"/>
<line x1="365.80" y1="651.80" x2="368.40" y2="651.80" stroke="#111" stroke-width="1.0"/>
<line x1="372.20" y1="595.00" x2="372.20" y2="599.50" stroke="#111" stroke-width="1.0"/>
<line x1="370.90" y1="595.00" x2="373.50" y2="595.00" stroke="#111" stroke-width="1.0"/>
<line x1="370.90" y1="599.50" x2="373.50" y2="599.50" stroke="#111" stroke-width="1.0"/>
<line x1="377.60" y1="604.60" x2="377.60" y2="624.40" stroke="#111" stroke-width="1.0"/>
<line x1="376.30" y1="604.60" x2="378.90" y2="604.60" stroke="#111" stroke-width="1.0"/>
<line x1="376.30" y1="624.40" x2="378.90" y2="624.40" stroke="#111" stroke-width="1.0"/>
<line x1="392.00" y1="643.60" x2="392.00" y2="645.60" stroke="#111" stroke-width="1.0"/>
<line x1="390.70" y1="643.60" x2="393.30" y2="643.60" stroke="#111" stroke-width="1.0"/>
<line x1="390.70" y1="645.60" x2="393.30" y2="645.60" stroke="#111" stroke-width="1.0"/>
<line x1="397.00" y1="641.40" x2="397.00" y2="648.00" stroke="#111" stroke-width="1.0"/>
<line x1="395.70" y1="641.40" x2="398.30" y2="641.40" stroke="#111" stroke-width="1.0"/>
<line x1="395.70" y1="648.00" x2="398.30" y2="648.00" stroke="#111" stroke-width="1.0"/>
<line x1="402.60" y1="604.00" x2="402.60" y2="637.50" stroke="#111" stroke-width="1.0"/>
<line x1="401.30" y1="604.00" x2="403.90" y2="604.00" stroke="#111" stroke-width="1.0"/>
<line x1="401.30" y1="637.50" x2="403.90" y2="637.50" stroke="#111" stroke-width="1.0"/>
<line x1="290.50" y1="583.40" x2="298.60" y2="583.40" stroke="#111" stroke-width="0.8"/>
<line x1="290.50" y1="582.00" x2="290.50" y2="584.80" stroke="#111" stroke-width="0.8"/>
<line x1="298.60" y1="582.00" x2="298.60" y2="584.80" stroke="#111" stroke-width="0.8"/>
<text x="294.55" y="582.80" font-size="6.0" text-anchor="middle" fill="#111" stroke="#111" stroke-width="0.18">*</text>
<line x1="364.80" y1="586.80" x2="372.50" y2="586.80" stroke="#111" stroke-width="0.8"/>
<line x1="364.80" y1="585.40" x2="364.80" y2="588.20" stroke="#111" stroke-width="0.8"/>
<line x1="372.50" y1="585.40" x2="372.50" y2="588.20" stroke="#111" stroke-width="0.8"/>
<text x="368.65" y="586.20" font-size="6.0" text-anchor="middle" fill="#111" stroke="#111" stroke-width="0.18">*</text>
<text transform="translate(295.50 667.40) scale(0.9 1)" font-size="6.4" text-anchor="middle" fill="#222" stroke="#222" stroke-width="0.18">ser 2</text>
<text transform="translate(295.00 674.20) scale(0.9 1)" font-size="6.4" text-anchor="middle" fill="#222" stroke="#222" stroke-width="0.18">Promoter</text>
<text transform="translate(322.60 667.40) scale(0.9 1)" font-size="6.4" text-anchor="middle" fill="#222" stroke="#222" stroke-width="0.18">ser 2</text>
<text transform="translate(322.70 674.20) scale(0.9 1)" font-size="6.4" text-anchor="middle" fill="#222" stroke="#222" stroke-width="0.18">Gene Body</text>
<text transform="translate(372.20 667.40) scale(0.9 1)" font-size="6.4" text-anchor="middle" fill="#222" stroke="#222" stroke-width="0.18">ser 5</text>
<text transform="translate(372.40 674.20) scale(0.9 1)" font-size="6.4" text-anchor="middle" fill="#222" stroke="#222" stroke-width="0.18">Promoter</text>
<text transform="translate(398.00 667.40) scale(0.9 1)" font-size="6.4" text-anchor="middle" fill="#222" stroke="#222" stroke-width="0.18">ser 5</text>
<text transform="translate(399.20 674.20) scale(0.9 1)" font-size="6.4" text-anchor="middle" fill="#222" stroke="#222" stroke-width="0.18">Gene Body</text>
<text x="272.60" y="621.00" font-size="6.0" text-anchor="middle" fill="#222" textLength="92" lengthAdjust="spacingAndGlyphs" stroke="#222" stroke-width="0.18" transform="rotate(-90 272.60 621.00)">Enrichment relative to Input Control</text>
<rect x="381.60" y="562.00" width="3.30" height="3.00" fill="#c8102e"/>
<text transform="translate(387.70 566.30) scale(0.76 1)" font-size="7.2" fill="#222" stroke="#222" stroke-width="0.18">OE HEXIM1</text>
<rect x="381.60" y="572.00" width="3.30" height="3.00" fill="#1c5290"/>
<text transform="translate(387.70 576.10) scale(0.76 1)" font-size="7.2" fill="#222" stroke="#222" stroke-width="0.18">Luc Control</text>
<rect x="381.60" y="581.40" width="3.30" height="3.00" fill="#3cb54a"/>
<text transform="translate(387.70 585.30) scale(0.76 1)" font-size="7.2" fill="#222" stroke="#222" stroke-width="0.18">shRNA</text>
<text transform="translate(387.70 592.20) scale(0.76 1)" font-size="7.2" fill="#222" stroke="#222" stroke-width="0.18">HEXIM1</text>
<text x="434.00" y="561.20" font-size="6.5" fill="#222" stroke="#222" stroke-width="0.18">ii</text>
<text x="472.00" y="566.80" font-size="6.2" text-anchor="middle" fill="#222" textLength="60.5" lengthAdjust="spacingAndGlyphs" stroke="#222" stroke-width="0.18">Pausing Index RPS19</text>
<text transform="translate(439.80 664.30) scale(1.1 1)" font-size="7.0" text-anchor="end" fill="#222" stroke="#222" stroke-width="0.18">0</text>
<text transform="translate(439.80 654.38) scale(1.1 1)" font-size="7.0" text-anchor="end" fill="#222" stroke="#222" stroke-width="0.18">0.5</text>
<text transform="translate(439.80 644.45) scale(1.1 1)" font-size="7.0" text-anchor="end" fill="#222" stroke="#222" stroke-width="0.18">1</text>
<text transform="translate(439.80 634.52) scale(1.1 1)" font-size="7.0" text-anchor="end" fill="#222" stroke="#222" stroke-width="0.18">1.5</text>
<text transform="translate(439.80 624.60) scale(1.1 1)" font-size="7.0" text-anchor="end" fill="#222" stroke="#222" stroke-width="0.18">2</text>
<text transform="translate(439.80 614.67) scale(1.1 1)" font-size="7.0" text-anchor="end" fill="#222" stroke="#222" stroke-width="0.18">2.5</text>
<text transform="translate(439.80 604.75) scale(1.1 1)" font-size="7.0" text-anchor="end" fill="#222" stroke="#222" stroke-width="0.18">3</text>
<text transform="translate(439.80 594.82) scale(1.1 1)" font-size="7.0" text-anchor="end" fill="#222" stroke="#222" stroke-width="0.18">3.5</text>
<text transform="translate(439.80 584.90) scale(1.1 1)" font-size="7.0" text-anchor="end" fill="#222" stroke="#222" stroke-width="0.18">4</text>
<text transform="translate(439.80 574.97) scale(1.1 1)" font-size="7.0" text-anchor="end" fill="#222" stroke="#222" stroke-width="0.18">4.5</text>
<line x1="442.80" y1="662.00" x2="507.70" y2="662.00" stroke="#000" stroke-width="1.2"/>
<rect x="448.50" y="647.20" width="5.90" height="14.40" fill="#c8102e"/>
<rect x="456.10" y="588.80" width="5.90" height="72.80" fill="#1c5290"/>
<rect x="463.30" y="646.10" width="5.90" height="15.50" fill="#3cb54a"/>
<rect x="481.30" y="649.70" width="5.90" height="11.90" fill="#c8102e"/>
<rect x="488.70" y="581.00" width="5.90" height="80.60" fill="#1c5290"/>
<rect x="496.10" y="639.10" width="5.90" height="22.50" fill="#3cb54a"/>
<text transform="translate(458.20 672.00) scale(0.88 1)" font-size="7.6" text-anchor="middle" fill="#222" stroke="#222" stroke-width="0.18">ser 2</text>
<text transform="translate(491.00 672.00) scale(0.88 1)" font-size="7.6" text-anchor="middle" fill="#222" stroke="#222" stroke-width="0.18">ser 5</text>
</svg></body></html>
